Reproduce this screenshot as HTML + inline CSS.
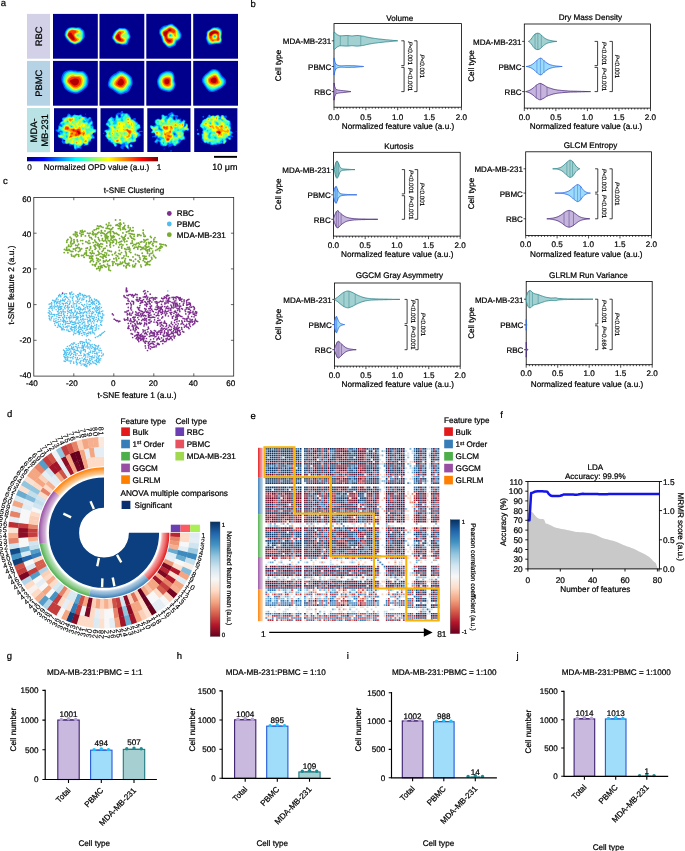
<!DOCTYPE html>
<html lang="en"><head><meta charset="utf-8"><title>Figure</title>
<style>html,body{margin:0;padding:0;background:#fff}svg{display:block}text{font-family:'Liberation Sans', Arial, Helvetica, sans-serif;text-rendering:geometricPrecision;stroke:#000;stroke-width:0.22px}</style>
</head><body>
<svg width="685" height="851" viewBox="0 0 685 851">
<rect width="685" height="851" fill="#fff"/>
<g id="pa">
<text x="0.8" y="6.2" font-size="9.5" text-anchor="start" fill="#000">a</text>
<rect x="27" y="13.9" width="23" height="44.8" fill="#d2d1e8"/>
<text x="42.2" y="36.3" font-size="9.4" text-anchor="middle" fill="#000" transform="rotate(-90 42.2 36.3)">RBC</text>
<rect x="27" y="60.9" width="23" height="44.8" fill="#b6d3e6"/>
<text x="42.2" y="83.3" font-size="9.4" text-anchor="middle" fill="#000" transform="rotate(-90 42.2 83.3)">PBMC</text>
<rect x="27" y="108" width="23" height="44.2" fill="#b8e2e3"/>
<text x="37" y="130.4" font-size="9.4" text-anchor="middle" fill="#000" transform="rotate(-90 37 130.4)">MDA-</text>
<text x="47.6" y="130.4" font-size="9.4" text-anchor="middle" fill="#000" transform="rotate(-90 47.6 130.4)">MB-231</text>
<g transform="translate(53 13.9)"><rect width="44.8" height="44.8" fill="#00008c"/><path fill="#0056ff" fill-rule="evenodd" d="M18.2 13.3l.7-.2 1.3-.1 1.3 .2 1.2 .1 1.3 0 1.2-.2 .8 .2 1.1 .2 .7 .3 .6 .6 .6 .6 .7 .4 .6 .4 .5 .6 .3 .6 .3 .7 .1 .8 .1 1.1 .1 1.2 .2 1.3-.3 1.2-.3 .7-.4 .5-.4 .7-.5 .7-.5 .6-.5 .5-.6 .7-.6 .7-.7 .5-.6 .3-.6 .2-.7 .2-.6 .3-.6 .3-.7 .4-.6 .2-1.2 .1-.7-.2-.6-.3-.6-.4-.6-.3-.7-.3-.6-.3-.7-.2-.6-.5-.6-.6-.7-.6-.6-.5-.6-.8-.5-.7-.5-.6-.3-.5-.4-.8-.2-.6-.3-.6-.2-1.3 .1-1.2 .3-1.3 .2-.6 .4-.7 .4-.6 .4-.6 .4-.7 .8-.6 .6-.4 .7-.3 .6-.3 1.3-.2z"/><path fill="#00c6ff" fill-rule="evenodd" d="M18.3 13.9l1.3-.1 1 .1 .9 .1 1.2 .1 1.3 0 1.2-.1 1.3 .3 .6 .4 .6 .4 .6 .7 .7 .5 .7 .5 .5 .9 .2 .6 .1 1.3 0 1.2 0 1.3-.2 1.2-.2 .7-.2 .6-.4 .6-.4 .7-.5 .6-.5 .6-.6 .7-.8 .6-.8 .4-.7 .2-.6 .3-.6 .2-.7 .3-.6 .3-1.2 0-.7-.1-.6-.3-.6-.4-.7-.3-.6-.4-.6-.3-.7-.3-.6-.6-.6-.7-.7-.7-.5-.8-.5-.6-.6-.6-.4-.7-.3-.6-.3-.6-.2-1.3 .2-1.2 .3-1.3 .2-.6 .4-.7 .4-.6 .5-.6 .8-.7 .7-.4 .6-.3 .6-.3 1.3-.2z"/><path fill="#2dffd1" fill-rule="evenodd" d="M17.5 14.5l.8-.2 1.3 0 1.2 .1 1.3 .2 1.2 .1 1.3-.1 1.3 .2 .6 .3 .6 .5 .7 .6 .6 .6 .6 .6 .5 .9 .2 1.3-.1 1.2-.1 1.3-.1 1.2-.2 1.3-.3 .6-.4 .7-.5 .6-.5 .6-.8 .7-.8 .4-.7 .3-.6 .3-.5 .2-.8 .3-.6 .2-1.2 .1-1.3-.4-.6-.4-.7-.3-.6-.3-.6-.4-.7-.4-.6-.7-.6-.8-.6-.7-.4-.6-.6-.6-.5-.7-.4-.6-.3-.6-.2-1.3 .3-1.2 .2-.7 .4-1.2 .3-.7 .5-.6 .6-.6 .7-.5 .6-.4 .6-.2z"/><path fill="#93ff6b" fill-rule="evenodd" d="M17.1 15.1l1.2-.3 1.3-.1 1.2 .2 1.3 .2 1.2 .1 1.3 0 1.3 .3 .6 .4 .5 .5 .6 .6 .6 .7 .3 .6 .2 .6 0 1.3-.2 1.3 0 1.2 .1 1.3-.2 .8-.5 1.1-.5 .6-.7 .6-.8 .6-.7 .3-.6 .3-.6 .3-.7 .3-.6 .2-1.2 0-1.3-.4-.6-.3-.7-.3-.5-.3-.7-.5-.7-.6-.6-.7-.6-.8-.5-.6-.5-.6-.6-.7-.3-.4-.4-.8-.2-1.3 .3-1.2 .3-.7 .1-.6 .3-.6 .4-.7 .4-.5 .7-.6 .6-.4 .6-.3zM24.6 20.6l-.6 .8 .3 .7 .9 .2 .9-.2 .3-.6-.3-.7-.9-.3z"/><path fill="#f9ff05" fill-rule="evenodd" d="M17 15.8l.7-.3 .6-.2 1.3-.1 1.2 .1 1.3 .3 1.2 .1 1 .1 .9 .2 .7 .3 .6 .6 .5 .8 .3 .6-.2 1-.6 .1-1.3 .1-1.2 .4-.7 .5-.4 .4-.1 .7 .2 .6 .5 .6 1.1 .6 1.3 .1 1.2 .2 .5 1-.5 1.1-.6 .8-.6 .5-.7 .4-.6 .3-.6 .3-.7 .3-.6 .2-1.2 .1-.9-.2-1-.4-.7-.4-.6-.3-.6-.5-.7-.7-.6-.8-.5-.7-.6-.6-.5-.7-.5-.6-.4-.6-.2-.6 .2-1.2 .2-.7 .2-.7 .3-.6 .3-.6 .4-.7 .5-.4 .6-.5 .6-.3z"/><path fill="#ff9e00" fill-rule="evenodd" d="M18.5 15.8l1.1-.1 .9 .1 1 .2 1.2 .2 1.2 .2 .7 .3 .6 .3 .4 .7-.2 .6-.8 .4-.6 .3-.7 .4-.6 .5-.6 .5-.3 1.1 .2 .6 .5 .6 .6 .6 .8 .7 .7 .3 .6 .2 .7 .5-.1 .9-.6 .6-.6 .5-.6 .4-.7 .3-.6 .3-1.2 .1-1.3-.3-.6-.3-.7-.3-.6-.5-.6-.6-.7-.7-.6-.8-.5-.6-.6-.7-.5-.6-.4-.6-.2-.6 .1-1.3 .3-.6 .2-.7 .3-.6 .4-.6 .6-.7 .9-.6 .7-.3 .6-.3z"/><path fill="#ff3300" fill-rule="evenodd" d="M18.7 16.4l.9-.1 1.2 .1 1.3 .3 .6 .2 .6 .5 .1 .9-.7 .6-.6 .3-.6 .4-.6 .6 .1 1.3 .2 .6 .4 .6 .5 .6 .4 .7 .6 .6 .6 .6 .3 .7-.3 .6-.8 .6-.8 .3-1.3-.1-.8-.2-1.1-.5-.6-.5-.6-.7-.7-.7-.6-.7-.5-.7-.5-.6-.5-.6-.2-.6 .1-1.3 .2-.6 .4-.7 .4-.6 .6-.6 .6-.5 .7-.4 .6-.3z"/><path fill="#b20000" fill-rule="evenodd" d="M16.3 18.9l.7-.3 1.3 .3 .4 .7 .4 .6 .4 .6 .4 .7 .3 .5 .4 .7 .3 .6 .4 .7 .3 .6 .2 .6-.3 1-.7 .2-1.2-.3-.7-.4-.5-.5-.6-.6-.6-.6-.5-.7-.6-.6-.5-.6-.3-.6 .1-1.3 .3-.6 .6-.7z"/></g>
<g transform="translate(99.5 13.9)"><rect width="44.8" height="44.8" fill="#00008c"/><path fill="#0056ff" fill-rule="evenodd" d="M19 14.5l.6-.3 .6-.2 1.3 0 1.2 .1 1.3 0 1.2 0 1.3 .4 .6 .4 .7 .4 .5 .5 .5 .6 .5 .6 .3 .7 .2 .6 .3 1.3 .2 .6 .3 .6 .3 .7 .2 1.2-.2 1.1-.4 .8-.4 .6-.3 .7-.3 .6-.2 .6-.3 1.1-.3 .8-.2 .7-.4 .6-.8 .6-.8 .1-1.3 0-1.2 0-1.3 0-.9-.1-1-.2-.6-.3-.6-.2-1.3-.2-1.3-.3-.6-.3-.5-.4-.5-.6-.4-.6-.4-.7-.6-.6-.5-.6-.5-.7-.3-.6-.3-.6 0-1.3 .3-.6 .3-.6 .3-.6 .2-.7 .3-.6 .3-.7 .4-.5 .5-.7 .6-.7 .8-.6 .6-.5 .7-.4 .6-.5 .6-.4z"/><path fill="#00c6ff" fill-rule="evenodd" d="M19.2 15.1l1-.4 1.3 0 1.2 .1 1.3 0 1.2 0 .7 .2 .6 .4 .5 .4 .6 .6 .4 .6 .4 .7 .2 .6 .2 .6 .2 .7 .3 .6 .4 .6 .3 .7 .2 .6 0 1.2-.3 .7-.4 .6-.5 .6-.4 .7-.3 .6-.2 .6-.1 .7-.3 .6-.3 .6-.6 .7-.9 .3-1.3 .2-.9 .1-1 0-1.2-.2-.7-.1-.6-.2-.6-.2-1.3-.2-1.1-.4-.8-.5-.6-.7-.4-.7-.5-.6-.6-.6-.4-.6-.4-.7-.2-.6 .1-1.3 .2-.6 .3-.6 .2-.7 .3-.6 .4-.6 .3-.6 .5-.7 .4-.6 .6-.7 .8-.6 .8-.6 .7-.5z"/><path fill="#2dffd1" fill-rule="evenodd" d="M19 15.8l.6-.3 .6-.2 1.3-.1 1.2 .1 1.3 0 1.2 .1 .7 .2 .6 .5 .6 .7 .5 .9 .3 .6 .3 1.3 .2 .6 .4 .6 .4 .7 .3 .6 0 1.2-.4 .7-.5 .6-.5 .6-.3 .7-.3 .6-.1 .6-.3 .7-.2 .6-.4 .5-.6 .4-.7 .3-1.2 .2-1.3 0-1.2-.1-1.3-.4-1.3-.3-1.2-.3-.7-.4-.5-.5-.5-.7-.5-.6-.6-.6-.4-.5-.5-.8-.2-.6 .1-.9 .3-1 .2-.6 .3-.7 .4-.6 .4-.6 .4-.7 .3-.6 .5-.6 .6-.7 .8-.6 .8-.6z"/><path fill="#93ff6b" fill-rule="evenodd" d="M20.2 15.8l1.3-.1 .8 .1 1 0 1.3 0 1.3 .5 .6 .7 .4 .7 .2 .6 .1 1.3 .4 1.2 .6 .7 .4 .6 0 1.2-.5 .7-.6 .6-.3 .6-.2 .7-.4 1.2-.2 .7-.4 .6-.8 .5-.6 .3-1.3 .1-1.2 0-1.3-.2-1.2-.3-1.3-.4-.6-.3-.5-.3-.6-.7-.6-.6-.5-.6-.6-.7-.3-.6-.2-.6 .1-1.3 .2-.6 .2-.6 .3-.7 .4-.6 .5-.6 .3-.6 .4-.7 .5-.6 .7-.7 .9-.6 .7-.4 .6-.2z"/><path fill="#f9ff05" fill-rule="evenodd" d="M20 16.4l.8-.1 1.3 0 1.2 .1 1.3 .1 .6 .3 .7 .6 .3 .9-.3 1-.7 .4-.6 .3-.6 .2-.7 .4-.6 .6-.4 .9 .4 1 .6 .3 .7 .2 1.2 .2 .7 .3 .2 1.1 0 1.3-.2 .8-.7 .9-.6 .4-.6 .1-1.3 .2-1.2-.1-1.3-.3-1.3-.4-.6-.2-.6-.4-.7-.6-.4-.4-.6-.6-.5-.7-.4-.6-.2-.6 0-1.3 .2-.7 .6-1.2 .5-.6 .4-.6 .4-.7 .4-.6 .6-.6 .8-.7 .8-.4z"/><path fill="#ff9e00" fill-rule="evenodd" d="M20 17l.8-.1 1.2 .1 .7 .2 1.3 .2 .6 .7-.5 .8-.8 .5-.6 .6-.6 .7-.4 .8-.1 1.2 .3 .6 .8 .7 .6 .4 .6 .2 .7 .4 .6 .9-.1 1.2-.4 .7-.7 .3-1.3 .3-1.2-.1-1.3-.3-.6-.1-.7-.3-.6-.3-.6-.5-.7-.5-.6-.7-.6-.9-.3-.7-.1-1.3 .4-1 .5-.9 .5-.6 .4-.6 .4-.7 .5-.6 .6-.6 .9-.5z"/><path fill="#ff3300" fill-rule="evenodd" d="M18.9 18.3l.7-.3 .6-.2 1.3 .2 .5 .9-.3 .7-.4 .6-.3 .6-.1 .7 0 1.2 .2 .6 .5 .7 .5 .5 .6 .4 .6 .5 .6 .5 .2 .6-.2 .6-.6 .4-.6 .2-1.1 .1-.8-.1-1.2-.4-.7-.3-.6-.4-.6-.5-.7-.6-.6-.7-.4-.8 0-1.3 .2-.6 .3-.6 .5-.7 .5-.6 .4-.6 .4-.6 .6-.7z"/><path fill="#b20000" fill-rule="evenodd" d="M18.8 20.2l.8-.2 .2 .8 .2 1.3 .2 .8 .4 1.1 .4 .6 .5 .6 .5 .7-.5 .8-1.3 0-.6-.2-.7-.4-.6-.4-.6-.5-.6-.6-.3-.6-.1-1.3 .2-.6 .5-.6 .6-.7 .8-.6z"/></g>
<g transform="translate(146.3 13.9)"><rect width="44.8" height="44.8" fill="#00008c"/><path fill="#0056ff" fill-rule="evenodd" d="M23.8 10.1l.8-.3 1.3 .1 .6 .3 .6 .5 .7 .5 .6 .5 .6 .5 .6 .4 .7 .5 .6 .7 .6 .7 .6 .6 .5 .7 .5 .6 .3 .6 .4 .7 .4 .6 .4 .6 .3 .7 .2 .6 .1 1.3-.1 1.2-.4 1.3-.3 .6-.5 .6-.5 .5-.6 .6-.6 .4-.7 .3-.6 .4-.6 .8-.2 .8-.3 1.3-.2 .6-.5 .6-.7 .6-.6 .3-.7 .2-.6 .3-.6 .2-.7 .3-.6 .3-.6 .3-.8 .1-1.1-.3-.6-.4-.7-.4-.6-.5-.6-.6-.7-.7-.6-.7-.6-.7-.7-.7-.5-.7-.3-.6-.3-.7-.1-.7-.5-1.2-.2-.6-.2-.6-.4-1.3-.2-.6-.3-.6-.5-.7-.4-.6-.3-.6-.1-1.3 .2-1.3 .2-1.2 .4-.7 .7-.6 .6-.6 .5-.6 .5-.5 .6-.4 .6-.3 .7-.3 .6-.2 1.3-.2 .6-.2 .6-.2 .7-.2 .6-.2 .6-.2 .6-.2z"/><path fill="#00c6ff" fill-rule="evenodd" d="M24.6 10.7l1.3 .2 .6 .3 .6 .4 .5 .4 .8 .6 .6 .5 .7 .5 .6 .6 .6 .7 .6 .7 .6 .8 .3 .6 .3 .7 .3 .6 .3 .6 .4 .7 .4 .6 .2 .6 0 1.3-.2 1.1-.3 .8-.4 .5-.6 .7-.6 .5-.7 .3-.6 .3-.6 .3-.5 .5-.3 .7-.2 .6-.2 .6-.2 .7-.3 .6-.5 .6-1 .6-.6 .3-.6 .3-.7 .3-.6 .2-1 .2-.9 0-1.2-.3-.7-.4-.6-.6-.6-.6-.6-.6-.5-.6-.6-.7-.6-.6-.3-.5-.3-.8-.1-.6-.4-1.3-.2-.6-.2-.9-.3-1-.3-.6-.3-.6-.4-.7-.4-.6-.2-.6-.2-.7 0-1.2 .2-.8 .6-1 .6-.6 .7-.5 .6-.7 .6-.7 .7-.4 .6-.2 1.3-.2 .6-.3 .6-.3 .7-.3 .6-.3 .6-.2 .6-.2 1.3-.3z"/><path fill="#2dffd1" fill-rule="evenodd" d="M24.4 11.4l.8 0 .7 .2 .6 .3 .6 .4 .7 .5 .6 .4 .6 .5 .7 .6 .6 .6 .6 .7 .6 .8 .3 .6 .2 .7 .2 .6 .2 .6 .3 .7 .3 .6 .2 .6 .2 1.3-.2 1.2-.2 .7-.5 .6-.9 .6-.7 .3-.6 .3-.6 .4-.7 .8-.2 .8-.2 .6-.2 .6-.4 .7-.5 .6-.9 .6-.7 .4-.7 .3-.6 .3-.6 .2-1.3 .1-1.2-.3-.5-.4-.8-.6-.6-.6-.5-.6-.6-.7-.5-.6-.4-.6-.3-.7-.2-.6-.2-.6-.2-.7-.3-1.2-.4-1.3-.2-.6-.4-.6-.3-.6-.4-.7-.2-.6-.2-.7 .1-1.2 .2-.7 .5-.6 .7-.6 .6-.5 .6-.6 .7-.6 .6-.4 .6-.1 .7-.2 .6-.3 .6-.4 .7-.4 .5-.3 .7-.3 .6-.2 1.1-.1zM24 20.7l-.7 .5 .2 .9 1.1 .1 .4-.7-.4-.7-.6-.1z"/><path fill="#93ff6b" fill-rule="evenodd" d="M23.8 12l.8-.1 1.3 .4 .6 .3 .6 .4 .7 .4 .6 .5 .6 .5 .7 .6 .6 .6 .6 .8 .3 .6 .2 .7 .2 1.2 .2 1.3 .2 .6 .3 .7 .1 1.2-.2 1-.7 .7-.6 .4-.6 .2-.6 .2-.7 .5-.5 .8-.2 .6-.4 1.3-.3 .6-.4 .7-.7 .5-.6 .4-.7 .3-.6 .3-.6 .2-.8 .1-1.1 0-.6-.2-.5-.4-.7-.6-.6-.6-.6-.7-.5-.6-.5-.6-.3-.7-.2-.6-.2-.6-.2-.7-.2-.7-.2-1.2-.2-.6-.3-.6-.4-.6-.3-.7-.3-.6-.3-.6-.1-1.3 .2-.8 .7-.9 .6-.5 .5-.3 .8-.6 .6-.5 .6-.3 .7-.3 .6-.4 .6-.4 .7-.4 .6-.4 .6-.3 .6-.1zM24 20l-.7 .2-.5 .6-.2 .7 .1 .7 .4 .5 .9 .3 1.2-.3 .6-.6-.3-1.3-.7-.6-.8-.2z"/><path fill="#f9ff05" fill-rule="evenodd" d="M23.3 12.6l1.3 0 .6 .1 .7 .3 .6 .4 .6 .3 .7 .4 .6 .4 .6 .6 .7 .6 .6 .7 .3 .6 .2 .7 0 1.2-.1 1.3 .2 .8 .4 1.1-.1 1.2-.7 .7-.8 .3-.7 .3-.6 .4-.4 .9-.2 .7-.3 1.2-.2 .6-.4 .6-.7 .7-1 .5-.6 .2-.6 .3-.7 .2-.7 0-1.1-.3-.7-.5-.4-.4-.6-.7-.6-.6-.4-.6-.4-.7-.3-.6-.2-.6-.2-.7-.3-1.2-.4-1.3-.3-.6-.3-.6-.3-.7-.3-.6-.3-.6 0-1.3 .3-.6 .5-.7 .7-.6 .7-.4 .6-.4 .6-.4 .7-.4 .6-.4 .6-.4 .7-.5 .6-.4 .6-.3zM23.3 19.6l-.6 .5-.4 .7-.2 .7 .2 1.2 .4 .6 .6 .2 1.3 0 .9-.2 1-.6 .2-.6-.2-.9-.6-.9-.7-.5-.6-.3-1.3 .1z"/><path fill="#ff9e00" fill-rule="evenodd" d="M23.1 13.3l.9-.1 1.2 .3 .7 .3 .6 .3 .6 .3 .7 .4 .6 .5 .5 .5 .6 .6 .4 .6 .2 .7-.3 1.2-.2 .7-.2 .6 .2 1.3 .1 .9-.7 .5-.7-.2-.2-.6-.3-.6-.4-.7-.6-.6-.7-.6-.9-.5-.6-.3-1.3 .1-.6 .4-.6 .8-.4 .7-.1 .7 .1 1.2 .3 .6 .7 .7 .6 .2 1.3-.1 1.3 0 1.1 .5 .1 1.3-.1 1.2-.4 1.3-.6 .6-.8 .5-.6 .2-.6 .2-1.3 .3-1.2-.4-.7-.5-.6-.6-.6-.8-.6-.8-.3-.6-.3-.6-.2-.7-.3-1.2-.2-.8-.5-1.1-.4-.6-.3-.7-.3-.6-.2-.6 .1-1.3 .4-.6 .5-.6 .7-.4 .6-.4 .6-.4 .7-.4 .6-.4 .6-.4 .7-.5 .6-.5 .6-.3z"/><path fill="#ff3300" fill-rule="evenodd" d="M23.3 13.9l1.3 .2 .6 .2 .7 .4 .6 .3 .6 .3 .7 .5 .6 .6 .4 .6-.1 1.3-.6 .6-1 .2-.6-.2-.6-.4-.6-.2-.7-.2-1.3 .1-.6 .3-.5 .4-.4 .7-.3 .5-.3 .7-.2 1.3 .3 1.2 .3 .7 .5 .5 .6 .3 1.3 .1 1.2 .1 .7 .4 .3 1.1-.2 1.3-.4 .6-1 .6-.6 .2-1.3 .1-1-.3-.9-.6-.6-.6-.5-.7-.3-.6-.3-.6-.3-.7-.2-.6-.3-1.2-.2-.7-.4-.6-.4-.6-.3-.6-.3-.7-.1-1.3 .2-.6 .5-.6 .9-.7 .7-.3 .7-.4 .6-.3 .6-.5 .7-.5 .5-.5 .7-.4z"/><path fill="#b20000" fill-rule="evenodd" d="M22.8 15.1l1.2 0 .6 .3 .5 .4 .4 .6-.9 .4-1.2 .2-.7 .2-.6 .3-.6 .8-.3 .6-.3 .7-.3 .6-.2 .6-.2 1.3-.1 1.2 .4 1.3 .7 .6 .9 .5 .8 .2 1.1 .3 .5 .3 .1 .9-.6 .6-.7 .2-1.2-.3-.6-.4-.5-.4-.4-.6-.4-.6-.2-.7-.4-1.2-.2-.7-.5-.5-.4-.7-.5-.6-.3-.5-.4-.8 0-1.3 .4-.6 .6-.5 .6-.3 .7-.1 .6-.2 .6-.2 .7-.5 .5-.7 .7-.6z"/></g>
<g transform="translate(193.2 13.9)"><rect width="44.8" height="44.8" fill="#00008c"/><path fill="#0056ff" fill-rule="evenodd" d="M22.1 13.3l1.2-.2 1.3 .1 .6 .2 .7 .3 .6 .3 .6 .4 .7 .7 .4 .7 .3 .6 .2 .6 .1 1.3 0 1.3 0 1.2-.3 1.3-.2 1.2 .1 .9 .3 1 .1 1.3-.2 1.3-.4 .6-.4 .5-.7 .6-.6 .3-1.3 .2-1.2 0-1.3 .1-1 .2-.9 .2-1.2 .2-1.3 .1-.8 .1-1.1 .1-.6-.2-.7-.5-.5-.6-.3-.7-.3-.6-.3-.6-.2-.7-.2-.6-.3-.6-.2-.7-.2-1.2 .4-1.3 .3-1.2 0-1.3 0-1.3 .4-1.2 .6-.7 .8-.5 .7-.4 .5-.3 .7-.5 .7-.5 .6-.5 .6-.4 .7-.3 .6-.2 1.3-.1z"/><path fill="#00c6ff" fill-rule="evenodd" d="M19.2 14.5l1-.4 1.3-.2 1.2 .1 1.3 .1 1.2 .4 .7 .3 .5 .3 .6 .7 .5 .6 .3 .5 .2 .8 .2 1.2 0 1.3-.2 1.3-.2 1.2 0 1 .2 .9 .2 .6 0 1.3-.4 1.3-.5 .6-.8 .6-.6 .2-1.3 .2-1.3 0-1.2 .1-.9 .2-1 .2-1.3 .1-1.2-.1-1.3-.2-.6-.4-.7-.8-.4-.7-.3-.7-.3-.6-.2-.6-.3-.7-.1-1.2 .2-1.3 .1-1.2 .1-.8 0-1.1 .3-1.3 .3-.5 .6-.5 .7-.4 .6-.4 .6-.5 .7-.4 .6-.4 .6-.5z"/><path fill="#2dffd1" fill-rule="evenodd" d="M20.3 14.5l1.2-.1 1.2 .1 1.3 .3 .6 .2 .6 .3 .7 .4 .6 .5 .6 .8 .3 .7 .2 .6 .2 1.3-.1 1.2-.2 1.3-.1 1.2 .2 1.3 .3 1.3-.1 .7-.6 1.2-.7 .6-.6 .3-1.3 .2-1.3 0-1.2 .1-1.3 .2-1.2 .2-1.3 0-1.2-.4-.7-.3-.6-.6-.6-1-.4-.6-.3-.6-.2-.7-.2-1.2 0-1.3 .1-1.2 .1-1.3 .2-1.3 .3-.6 .3-.4 .7-.5 .5-.4 .7-.5 .7-.4 .6-.4 .6-.4 .7-.5 .6-.3zM21.5 21.7l-.7 .4 0 .9 .7 .5 .6-.3 .3-.5-.3-.8z"/><path fill="#93ff6b" fill-rule="evenodd" d="M20 15.1l.8-.2 1.3 0 1.2 .2 .7 .3 .6 .3 .6 .3 .6 .4 .6 .6 .5 .7 .3 .6 .2 1.3-.1 1.2-.2 1-.1 .9 .1 1.3 .2 .6 .2 1.3-.4 1.1-.6 .8-.6 .4-.7 .2-1.2 .1-1.3 0-1.2 .1-1.3 .3-1.3 .1-1.2-.4-.7-.3-.6-.5-.5-.7-.4-.6-.4-.6-.2-.7-.3-1.2 0-1.3 0-1.2 .1-1.3 .2-1.3 .4-.6 .5-.4 .6-.5 .6-.5 .7-.4 .6-.4 .6-.3 .7-.4zM20.8 21.4l-.5 .7-.1 .9 .6 .9 1.2 .1 .7-.6 .3-.7-.3-1-.6-.4-1.3 .1z"/><path fill="#f9ff05" fill-rule="evenodd" d="M19.7 15.8l1.1-.5 1.3 .1 1.2 .3 .7 .3 .6 .3 .6 .4 .5 .3 .6 .7 .4 .6 .2 .6 .1 1.3-.2 1.3-.2 1.2 .2 1.3 .3 1.2-.2 1.3-.4 .6-.6 .5-.7 .3-1.2 .1-1.3 0-1.2 .1-1.2 .3-.7 .1-.9-.1-1-.5-.7-.5-.6-.7-.6-.8-.3-.7-.2-.6-.2-.9-.1-1 0-1.2 0-1.3 .4-1.3 .4-.5 .6-.6 .6-.5 .7-.4 .6-.3 .6-.4 .7-.3zM21.5 20.8l-.7 .2-.6 .4-.4 .7-.1 1.2 .3 .7 .8 .6 1 0 .9-.4 .6-.9 .1-1.2-.3-.6-.4-.5-.6-.2z"/><path fill="#ff9e00" fill-rule="evenodd" d="M19.4 16.4l.8-.4 .6-.2 1.3 .1 1.2 .3 .7 .3 .6 .4 .6 .4 .7 .6 .5 1 .1 1.3-.2 1.3-.1 1.2 .3 1.3 .2 1.2-.2 1-.6 .8-.7 .3-1.2 .1-1.3-.1-1.2 .2-.7 .2-1.2 .2-.9-.1-1-.7-.5-.6-.5-.6-.4-.7-.3-.6-.2-.6-.3-1.3-.1-1.2 0-1.3 .4-1.1 .6-.8 .6-.6 .7-.4 .6-.3 .6-.4zM20.8 20.5l-.5 .3-.7 .7-.3 .6-.2 1.2 .5 1.2 .6 .5 .6 .2 1.3 .1 .6-.3 .5-.4 .4-.6 .2-.7 .1-1.2-.6-1.2-.6-.4-1.2-.1z"/><path fill="#ff3300" fill-rule="evenodd" d="M20.7 16.4l1.4 0 .6 .2 .6 .2 .7 .3 .6 .4 .6 .5 .7 .9 .1 1.3-.1 .9-.4 1 .2 1.2 .3 .7 .2 1.2-.2 .7-.7 .6-1.3 0-.6-.6 .2-.7 .3-.6 .3-.6 .2-.7 .2-1.2-.6-1.3-.7-.5-.6-.3-1.2-.1-.7 .2-.6 .3-.6 .4-.6 .7-.3 .6-.2 .6-.2 1.3 0 .9 .6 .7 .7 .2 .6 .2 .6 .5-.6 .5-1.3-.2-.6-.9-.6-.8-.6-.5-.4-.6-.3-.7-.2-.6-.2-.6-.2-1.3 .2-1.2 .3-.7 .6-.6 .8-.6 .6-.3 .6-.3 .7-.3 .6-.2z"/><path fill="#b20000" fill-rule="evenodd" d="M18.8 17.7l.8-.3 .6-.2 1.3-.2 1.2 .4 .6 .2 .7 .4 .5 .3 .4 .6-.3 1.1-.6-.3-.7-.3-.6-.2-1.2 .1-.7 .2-.6 .3-.6 .4-.7 .5-.6 .6-.6 .8-1.1-.6-.2-.7 .2-1.2 .4-.7 .6-.6 .7-.4z"/></g>
<g transform="translate(53 60.9)"><rect width="44.8" height="44.8" fill="#00008c"/><path fill="#0056ff" fill-rule="evenodd" d="M14.7 9.5l1.1-.2 1.2-.1 1.3 0 1.3 .2 .8 .1 1.1 .1 1.2 .1 1.3 .2 1.2 .1 1.3 0 1.3 0 .8 .1 1.1 .1 .6 .2 .6 .3 .6 .4 .7 .5 .6 .7 .6 .8 .6 .8 .4 .6 .3 .6 .3 .7 .2 .6 .2 1.3 .1 1.2 0 1.3-.1 1.3-.1 1.2-.4 1.3-.2 .6-.3 .6-.3 .6-.6 .7-.6 .6-.7 .7-.7 .5-.6 .5-.6 .5-.6 .5-.6 .5-.7 .5-.6 .4-.7 .3-.6 .4-.6 .3-.7 .2-.6 .2-1.2 .2-1.3-.1-1.3-.2-1.2-.3-1.3-.3-.6-.2-.7-.2-.6-.3-.6-.4-.7-.3-.6-.4-.6-.4-.6-.5-.7-.6-.6-.6-.6-.9-.4-.6-.3-.6-.2-.7-.2-.6-.2-.6-.3-.7-.3-.6-.3-.6-.2-.6-.3-.7-.1-.6-.2-1.3 0-1.2 .1-1.3 .3-1.3 .2-.6 .2-.6 .3-.6 .4-.7 .4-.6 .4-.6 .7-.6 .6-.4 .6-.3 .7-.3 .6-.2 .8-.1z"/><path fill="#00c6ff" fill-rule="evenodd" d="M14.6 10.7l1.2-.3 1.2-.1 1.3-.1 1.3 .1 1.2 .2 1.3 .2 1.2 .2 1.3 .2 1.3 0 1.2 0 1.3 .1 1.1 .2 .8 .2 .6 .4 .6 .6 .6 .7 .5 .6 .4 .6 .4 .6 .4 .7 .2 .6 .2 1.3 0 1.2 0 1.3-.1 1.3-.2 1.2-.3 1.3-.3 .6-.4 .6-.5 .7-.6 .6-.7 .6-.7 .7-.7 .6-.7 .5-.6 .4-.5 .4-.8 .4-.6 .3-.6 .3-.7 .3-.6 .3-.6 .1-1.2 .1-1.3-.1-1.3-.2-1.2-.3-.7-.2-.6-.3-.7-.3-.6-.4-.6-.4-.7-.4-.6-.4-.6-.5-.6-.6-.7-.8-.4-.7-.3-.7-.2-.6-.3-.6-.3-.7-.3-.6-.3-.6-.3-.6-.2-.7-.2-.6-.2-1.3 .2-1.2 .2-1.3 .4-1.3 .3-.6 .3-.6 .3-.6 .5-.7 .5-.6 .9-.6 .7-.4 .6-.2z"/><path fill="#2dffd1" fill-rule="evenodd" d="M16.3 11.4l.7-.2 1.3-.1 1.3 .1 1.2 .1 1.3 .3 1.2 .2 1.3 .2 1.3 0 1.2 0 1.3 .1 1.3 .3 .6 .4 .5 .5 .5 .6 .5 .6 .4 .5 .5 .8 .3 .6 .2 .6 .1 1.3-.2 1.3-.1 1.2-.2 1.3-.2 1.2-.3 .7-.3 .6-.4 .6-.5 .7-.6 .6-.6 .6-.8 .7-.7 .5-.6 .4-.7 .4-.6 .3-.6 .4-.7 .2-.6 .3-.6 .2-1.3 .1-1.2-.1-1.3-.2-1.3-.4-.5-.2-.7-.5-.7-.4-.4-.4-.8-.6-.7-.5-.6-.5-.6-.6-.6-.9-.4-.7-.4-.6-.3-.7-.4-.6-.3-.6-.3-.6-.2-.7-.3-1.2 .2-1.3 .3-1.3 .2-.6 .2-.6 .3-.7 .3-.6 .3-.6 .4-.6 .6-.7 .9-.6 .7-.3 .7-.2z"/><path fill="#93ff6b" fill-rule="evenodd" d="M16.5 12.6l1.2-.3 1.2-.2 1.3 .1 1.3 .3 1.2 .3 1.3 .1 1.2 0 1.3 0 1.3 .1 .9 .3 1 .5 .6 .6 .6 .7 .5 .7 .3 .6 .3 .6 .1 1.3-.1 1.3-.2 1.2-.3 1.3-.2 1.2-.3 .7-.2 .6-.4 .6-.5 .7-.6 .6-.7 .6-.8 .7-.7 .4-.6 .3-.6 .3-.7 .3-.6 .3-.6 .2-1.3 .1-1.2 0-.7-.2-.6-.1-.6-.3-.7-.3-.6-.4-.6-.6-.7-.6-.6-.6-.6-.6-.7-.5-.6-.7-.6-.6-.6-.9-.4-.6-.4-.6-.3-.6-.2-.7-.1-1.2 .1-.8 .3-1.1 .3-.7 .3-.6 .2-.6 .3-.7 .4-.6 .5-.6 .8-.6 .7-.4 .6-.2z"/><path fill="#f9ff05" fill-rule="evenodd" d="M17.3 13.9l1-.4 1.3-.1 1.2 .1 1.3 .3 1.2 .2 1.3 0 1.3-.1 1.2 .1 1.3 .5 .6 .4 .7 .7 .5 .8 .3 .6 .2 .7 .1 1.2-.1 1.3-.2 1.3-.2 .9-.2 .9-.2 .7-.3 .6-.4 .6-.5 .7-.7 .6-.9 .6-.6 .4-.6 .4-.7 .3-.5 .2-.7 .2-1.3 .2-1.2-.1-1.1-.3-.8-.4-.7-.4-.5-.5-.6-.6-.6-.6-.6-.7-.7-.6-.7-.6-.7-.7-.5-.6-.4-.6-.3-.6-.3-.7 0-1.2 .3-1.2 .3-.7 .3-.7 .4-.6 .4-.6 .4-.5 .7-.6 .6-.4 .6-.3z"/><path fill="#ff9e00" fill-rule="evenodd" d="M17.8 15.1l1.1-.4 1.3-.1 1.3 .2 1.2 .2 1.3 0 1.2 0 1.3 .1 .6 .2 .7 .3 .6 .6 .5 .8 .3 .7 .2 .6 .1 1.3-.1 1.2-.2 1.3-.4 1.2-.2 .7-.3 .6-.5 .6-.7 .6-.6 .4-.6 .4-.7 .3-.6 .4-.6 .2-1.3 .2-1.2-.1-.7-.2-.6-.3-.6-.4-.7-.5-.6-.6-.6-.7-.7-.6-.6-.6-.5-.4-.7-.6-.5-.6-.4-.6-.2-.7-.1-1.2 .4-1.3 .4-.6 .3-.5 .7-.7 .6-.5 .6-.5 .7-.3z"/><path fill="#ff3300" fill-rule="evenodd" d="M18.3 16.4l.6-.2 .7-.2 1.2-.1 1.3 .1 1.2 .1 1.3 .1 1.3 .1 .6 .3 .5 .4 .5 .7 .3 .6 .1 .6 .1 1.3-.2 1.3-.2 1.2-.3 .6-.4 .7-.4 .4-.6 .5-.5 .3-.8 .5-.6 .3-.7 .2-1.2 .1-1.3-.3-.6-.3-.6-.4-.7-.5-.6-.6-.6-.6-.7-.6-.6-.5-.6-.7-.6-1-.1-.9 .3-1 .4-.6 .6-.6 .6-.5 .7-.4 .6-.4z"/><path fill="#b20000" fill-rule="evenodd" d="M21.3 17.7l.8-.1 1.2 0 1.3 .4 .5 .3 .5 .6 .2 .7 .1 1.2-.2 1.3-.3 .6-.6 .6-.8 .7-.7 .3-.6 .2-1.2 0-.7-.2-.6-.3-.6-.4-.7-.6-.6-.6-.6-.6-.7-.9 0-1 .7-.7 .6-.4 .6-.2 .7-.3 .6-.2 .6-.3z"/></g>
<g transform="translate(99.5 60.9)"><rect width="44.8" height="44.8" fill="#00008c"/><path fill="#0056ff" fill-rule="evenodd" d="M19.3 10.1l.9-.3 1.3 0 1.2 .2 1.3 .3 .6 .3 .6 .3 .7 .3 .6 .4 .6 .4 .7 .4 .6 .5 .6 .4 .7 .5 .6 .5 .6 .6 .6 .7 .6 .8 .3 .6 .2 .7 .2 .9 .2 1 .1 1.2 .1 1.3-.2 1.2-.2 .7-.2 .6-.3 .6-.4 .7-.3 .6-.3 .6-.3 .7-.3 .6-.3 .6-.5 .7-.5 .6-.8 .6-.8 .6-.7 .3-.6 .2-.6 .2-.7 .3-.6 .2-.6 .3-.7 .2-.6 .2-1.2 .2-1.3-.1-.6-.2-.7-.2-.5-.3-.7-.4-.7-.5-.5-.4-.7-.5-.7-.5-.6-.5-.6-.5-.6-.4-.7-.4-.5-.3-.7-.4-.7-.4-.6-.4-.6-.6-.5-.7-.4-.7-.2-.6-.1-1.3 .2-1.2 .3-1.3 .2-.6 .2-.6 .2-.7 .3-.6 .2-.6 .4-.7 .4-.6 .4-.6 .6-.7 .7-.6 .8-.6 .7-.5 .6-.4 .6-.3 .7-.3 .6-.4 .6-.4 .7-.5 .5-.4 .7-.4z"/><path fill="#00c6ff" fill-rule="evenodd" d="M19.9 11.4l.9-.3 1.3 0 .9 .3 1 .3 .6 .3 .6 .3 .6 .3 .7 .4 .6 .4 .7 .4 .6 .5 .6 .4 .5 .4 .6 .7 .5 .6 .4 .6 .3 .7 .1 .6 .3 1.3 .2 1.2 .1 1.3-.2 1.2-.3 .7-.5 .6-.5 .6-.5 .7-.5 .6-.3 .6-.2 .7-.3 .6-.3 .5-.6 .7-.7 .5-.6 .3-.6 .3-.7 .2-.6 .3-.6 .3-.7 .2-.6 .3-.6 .2-1.3 .1-1.2-.4-.7-.3-.6-.4-.6-.5-.7-.4-.6-.4-.6-.5-.5-.4-.8-.5-.6-.5-.6-.3-.7-.4-.6-.4-.6-.3-.7-.5-.6-.7-.4-.8-.2-1.3 .2-1.2 .1-.6 .2-.7 .2-.6 .3-.6 .2-.7 .3-.6 .3-.6 .4-.7 .5-.6 .4-.4 .7-.6 .6-.4 .6-.4 .6-.3 .7-.3 .6-.4 .6-.3 .7-.4 .6-.5 .5-.4 .8-.5z"/><path fill="#2dffd1" fill-rule="evenodd" d="M19.8 12.6l1-.4 1.3 0 1.2 .3 .7 .2 .6 .3 .6 .3 .7 .4 .6 .3 .6 .4 .7 .5 .6 .5 .6 .7 .7 .8 .4 .8 .2 .6 .2 .6 .3 1.3 .2 1.3-.1 .8-.4 1-.5 .7-.6 .6-.6 .6-.4 .6-.4 .7-.3 .6-.3 .7-.4 .6-.5 .5-.6 .4-.6 .4-.7 .3-.6 .3-.7 .2-.6 .2-1 .2-.9 0-.6-.2-.6-.3-.7-.3-.6-.3-.6-.4-.6-.4-.7-.4-.6-.4-.7-.4-.6-.4-.6-.5-.6-.4-.7-.5-.6-.5-.6-.6-.6-.9-.1-1.3 .3-1.2 .2-.7 .2-.6 .3-.6 .3-.7 .3-.6 .4-.6 .6-.6 .6-.6 .6-.4 .6-.4 .7-.4 .6-.3 .6-.4 .7-.5 .6-.4 .5-.4 .8-.6z"/><path fill="#93ff6b" fill-rule="evenodd" d="M20.7 13.3l.8-.2 1.2 .1 .6 .2 .7 .3 .6 .2 .6 .4 .7 .3 .6 .4 .6 .5 .7 .6 .6 .8 .5 .8 .3 .6 .2 .6 .2 .7 .2 1.2 0 1.3-.3 .6-.4 .6-.6 .7-.5 .6-.5 .6-.4 .7-.3 .6-.4 .6-.5 .7-.6 .6-.7 .4-.6 .4-.7 .2-.6 .2-1.2 .1-1.3-.3-.6-.3-.7-.3-.6-.3-.6-.3-.7-.4-.6-.3-.6-.4-.7-.4-.6-.4-.5-.4-.7-.7-.5-.6-.4-.6-.2-.7-.1-1.2 .4-1.3 .3-.6 .3-.6 .4-.7 .4-.5 .6-.6 .6-.5 .7-.5 .5-.4 .7-.5 .7-.5 .6-.6 .6-.5 .6-.4 .7-.4z"/><path fill="#f9ff05" fill-rule="evenodd" d="M20.1 14.5l.7-.3 1.3-.2 1.2 .3 .7 .3 .6 .3 .6 .3 .7 .5 .6 .5 .6 .7 .5 .8 .4 .6 .2 .6 .2 .7 .2 1.2-.1 1.3-.3 .6-.4 .6-.5 .7-.5 .6-.4 .6-.4 .7-.4 .6-.4 .5-.6 .6-.6 .4-.7 .3-.6 .2-1.2 0-.7-.1-1.2-.5-.7-.2-.6-.3-.6-.3-.7-.3-.5-.3-.7-.4-.7-.5-.4-.4-.5-.6-.4-.6-.2-.7-.1-1.2 .4-1.3 .3-.6 .5-.6 .4-.6 .7-.6 .6-.6 .6-.6 .7-.6 .6-.6 .6-.6 .7-.5 .5-.4z"/><path fill="#ff9e00" fill-rule="evenodd" d="M20.8 15.1l1.3-.2 1 .2 .9 .4 .6 .4 .6 .5 .7 .6 .4 .7 .4 .6 .2 .6 .3 .7 .2 1.2-.2 1.3-.3 .6-.4 .6-.4 .7-.4 .6-.4 .6-.5 .7-.6 .6-.9 .6-.6 .3-1.2 0-1.1-.3-.8-.3-.7-.2-.6-.3-.6-.3-.7-.3-.6-.3-.6-.5-.7-.8-.3-.8 0-1.2 .2-.6 .3-.7 .5-.6 .6-.6 .5-.7 .5-.6 .6-.6 .5-.7 .4-.4 .7-.6 .6-.5 .6-.3z"/><path fill="#ff3300" fill-rule="evenodd" d="M20.6 16.4l.9-.4 1.2 .1 .6 .3 .7 .4 .6 .7 .6 .8 .3 .6 .3 .7 .2 .6 .1 1.3-.2 .8-.6 1-.4 .7-.4 .6-.5 .6-.7 .5-.6 .4-1.2 .1-1.3-.2-.6-.2-.7-.3-.6-.2-.6-.4-.5-.3-.7-.6-.3-.7 0-1.2 .3-.6 .4-.7 .5-.6 .4-.6 .5-.7 .4-.6 .5-.6 .6-.7 .8-.6z"/><path fill="#b20000" fill-rule="evenodd" d="M20.5 18.3l1-.6 1.2 .3 .6 .6 .6 1 .3 .6 .2 .6 0 1.3-.3 .6-.3 .6-.5 .6-.6 .5-.6 .3-1.3 .1-.9-.2-1-.4-.6-.5-.5-1 .4-1.2 .3-.7 .4-.6 .5-.6 .5-.7 .6-.6z"/></g>
<g transform="translate(146.3 60.9)"><rect width="44.8" height="44.8" fill="#00008c"/><path fill="#0056ff" fill-rule="evenodd" d="M19.8 10.1l1-.2 1.3-.1 1.2 .2 .7 .1 1.2 .4 .7 .4 .5 .5 .5 .6 .4 .6 .3 .7 .2 .6 .2 .6 .2 1.3 .1 1.2-.1 1.3 .1 1.3 .3 1.2 .2 .7 .2 .6 .2 1.2-.1 1.3-.4 1.3-.2 .6-.3 .6-.3 .7-.4 .6-.6 .6-.8 .7-.9 .5-.6 .3-.6 .3-.7 .1-1.2 .1-.8-.1-1.1-.2-1.3-.3-.6-.2-.6-.1-.7-.2-.6-.3-.6-.2-.7-.2-.6-.4-.6-.4-.6-.6-.6-.7-.4-.6-.3-.6-.3-.7-.2-.6-.2-.6-.2-.7-.2-1.2-.2-1.1 0-.8 .2-1.3 .2-.6 .3-.6 .2-.7 .3-.6 .3-.6 .3-.7 .3-.6 .4-.6 .6-.6 .7-.7 .6-.4 .7-.4 .6-.4 .6-.3 .7-.3 .6-.2 .6-.3 .7-.2z"/><path fill="#00c6ff" fill-rule="evenodd" d="M19.6 11.4l1.2-.2 1.3 0 1.2 .1 1.3 .3 .6 .3 .7 .6 .5 .8 .4 .6 .2 .6 .2 .6 .2 1.3 .1 1.3-.1 1.2 0 1.3 .4 1.1 .3 .8 .2 1.2-.2 1.3-.2 .6-.2 .7-.3 .6-.4 .6-.4 .7-.6 .6-.8 .6-.6 .3-.6 .3-.7 .2-1.2 .1-1.3-.2-1.2-.3-.7-.1-.6-.2-.6-.2-.7-.3-.6-.2-.6-.3-.7-.3-.6-.4-.6-.6-.6-.8-.4-.8-.3-.6-.2-.6-.2-.7-.2-.9-.2-.9 0-1.3 .2-1.2 .2-.7 .3-.6 .3-.7 .3-.6 .3-.6 .3-.7 .5-.6 .6-.6 .7-.6 .9-.6 .6-.4 .7-.3 .6-.3 .6-.2 .7-.1z"/><path fill="#2dffd1" fill-rule="evenodd" d="M18.9 12.6l1.3-.2 1.3 0 1.2 0 1.3 .1 .6 .3 .6 .4 .6 .7 .3 .6 .3 .6 .2 .7 .2 1.2 0 1.3-.1 1.3 .1 1.2 .2 .7 .3 .6 .1 .6 .1 1.3-.4 1.2-.3 .7-.3 .5-.5 .7-.7 .7-.7 .5-.6 .3-.7 .2-1.2 .1-1.3-.1-1.2-.3-.7-.2-.6-.2-.6-.2-.7-.3-.6-.3-.6-.3-.7-.4-.6-.6-.5-.8-.3-.6-.3-.6-.2-.7-.3-1.2-.2-1.3 .1-1.2 .3-1.3 .3-.6 .3-.7 .4-.6 .4-.6 .5-.7 .6-.6 .8-.6 .6-.4 .7-.4 .6-.3 .6-.2z"/><path fill="#93ff6b" fill-rule="evenodd" d="M19.1 13.9l1.1-.3 1.3-.1 1.2 0 1.3 .2 .6 .4 .4 .4 .5 .6 .3 .7 .2 .6 .2 1.3-.1 1.2-.1 1.3 .2 1.3 .2 .6 .2 .6 .1 1.3-.2 .7-.3 .5-.3 .7-.6 .6-.7 .6-.6 .4-.7 .2-1.2 .2-1.3-.1-1.2-.2-.7-.2-.6-.2-.6-.3-.7-.4-.6-.4-.6-.5-.7-.7-.5-.9-.3-.7-.2-.6-.1-.6-.3-1.3 .1-1.2 .4-1.3 .2-.6 .4-.7 .3-.5 .7-.7 .6-.5 .6-.4 .6-.4 .7-.3 .6-.3z"/><path fill="#f9ff05" fill-rule="evenodd" d="M19.2 15.1l1-.2 1.3-.2 1.2-.1 1.3 .4 .6 .6 .5 .8 .2 .6 .2 1.3-.1 1.3-.1 1.2 .3 1.3 .2 .6 .1 .9-.3 1-.4 .6-.6 .6-.6 .5-.7 .3-.6 .2-1.2 .1-1.3-.1-1.1-.3-.8-.4-.6-.3-.7-.5-.6-.6-.5-.7-.3-.7-.3-.6-.2-.6-.3-1.3 0-1.2 .3-1.1 .5-.8 .4-.7 .7-.6 1-.6 .6-.3 .6-.3z"/><path fill="#ff9e00" fill-rule="evenodd" d="M18.8 16.4l.8-.3 1.2-.2 1.3-.1 1.2 .2 .6 .4 .5 .6 .3 .7 .1 1.2-.1 1.3-.2 1.3 .3 1.2-.1 1.3-.4 .6-.7 .6-.9 .5-1 .2-.9 0-1.2-.2-.7-.3-.6-.4-.5-.4-.6-.6-.4-.7-.4-.6-.2-.6-.2-.6-.2-1.3 .2-1.3 .3-.6 .5-.6 .7-.7 .8-.4z"/><path fill="#ff3300" fill-rule="evenodd" d="M20 17l.8-.1 1.3 .1 .6 .1 .6 .4 .6 .8 .2 .6-.1 1.3-.2 1.3 0 1.2-.5 1.2-.6 .5-.6 .3-1.3 .1-1.1-.2-.8-.4-.6-.6-.6-.8-.4-.7-.3-.6-.1-.7 0-1.2 .2-.7 .4-.6 .8-.6 .6-.3 .7-.3z"/><path fill="#b20000" fill-rule="evenodd" d="M19.6 18.3l1.2-.2 .9 .2 1 .6 .3 .7 0 1.2-.1 .7-.3 .6-.3 .6-.8 .6-1.1 0-.8-.3-.7-.5-.6-1-.2-.7 .1-1.2 .4-.7 1-.6z"/></g>
<g transform="translate(193.2 60.9)"><rect width="44.8" height="44.8" fill="#00008c"/><path fill="#0056ff" fill-rule="evenodd" d="M19.8 8.2l1-.1 1.3 .1 1.2 .3 .7 .3 .6 .4 .6 .4 .5 .5 .6 .6 .5 .7 .3 .6 .5 .6 .3 .7 .4 .6 .4 .6 .6 .6 .4 .5 .6 .5 .6 .6 .6 .6 .7 .8 .4 .8 .3 .7 .1 1.2-.2 1.2-.3 .7-.3 .6-.5 .7-.6 .6-.6 .6-.7 .7-.8 .6-.6 .5-.6 .4-.5 .4-.8 .4-.6 .4-.7 .3-.6 .3-.6 .3-.7 .3-.6 .3-.6 .3-.6 .3-.7 .2-1.2 .2-1.3 .1-1.2-.3-.7-.2-.6-.4-.7-.5-.6-.7-.6-.7-.6-.6-.5-.7-.5-.6-.3-.5-.6-.8-.4-.6-.4-.6-.4-.7-.4-.6-.3-.6-.4-.6-.2-.7-.3-1.2 .2-1.3 .2-.6 .3-.7 .3-.6 .4-.6 .4-.7 .5-.6 .5-.5 .6-.6 .6-.5 .7-.5 .5-.4 .7-.6 .6-.5 .7-.6 .6-.5 .6-.3 .7-.5 .6-.3 .6-.3 .7-.2z"/><path fill="#00c6ff" fill-rule="evenodd" d="M19.3 9.5l.9-.3 1.3 0 1.2 .2 .6 .3 .7 .3 .6 .4 .6 .6 .7 .8 .5 .8 .4 .7 .3 .6 .3 .6 .4 .6 .4 .7 .5 .6 .7 .6 .8 .7 .5 .6 .4 .6 .3 .7 .1 1.2-.2 1.3-.3 .6-.3 .6-.4 .6-.6 .7-.7 .6-.6 .5-.6 .5-.6 .3-.7 .4-.6 .3-.7 .4-.6 .3-.6 .2-.7 .4-.6 .3-.6 .3-.6 .3-.7 .2-1.2 .3-1.3 0-1-.2-.9-.5-.6-.5-.7-.6-.6-.6-.6-.7-.6-.8-.6-.8-.4-.6-.4-.6-.4-.7-.3-.6-.4-.6-.4-.6-.2-.7-.2-.6-.1-1.3 .2-.6 .5-1.3 .3-.6 .4-.6 .5-.7 .6-.6 .8-.6 .7-.5 .6-.5 .6-.5 .7-.6 .4-.4 .8-.7 .7-.5 .6-.3 .6-.3z"/><path fill="#2dffd1" fill-rule="evenodd" d="M18.9 10.7l.7-.2 1.2-.3 1.3 .1 .6 .2 .6 .2 .7 .4 .6 .5 .6 .7 .6 1 .3 .6 .3 .6 .3 .6 .3 .7 .3 .6 .5 .6 .6 .6 .6 .6 .7 .7 .4 .7 .1 .6 .1 .9-.2 1-.2 .6-.4 .6-.4 .7-.6 .6-.7 .5-.7 .4-.6 .3-.6 .3-.7 .3-.6 .3-.6 .3-.7 .3-.6 .3-.6 .3-.6 .3-.7 .2-1.2 .2-1.3-.1-.6-.3-.7-.3-.6-.3-.6-.5-.7-.5-.6-.6-.6-.7-.5-.7-.4-.6-.4-.7-.3-.6-.3-.6-.4-.6-.2-.7-.2-.6-.1-1.3 .3-1 .3-.9 .3-.5 .5-.7 .6-.7 .8-.6 .6-.4 .6-.5 .5-.3 .8-.7 .6-.6 .7-.6 .6-.4 .6-.3z"/><path fill="#93ff6b" fill-rule="evenodd" d="M19.3 12l.9-.3 1.3-.2 1.2 .2 .6 .3 .7 .4 .6 .7 .5 .8 .3 .6 .3 .6 .3 .7 .3 .6 .3 .6 .4 .7 .6 .6 .5 .6 .5 .7 .3 .6 .2 1.3-.4 1.2-.3 .6-.6 .7-.7 .4-.6 .3-.6 .3-.6 .2-.7 .3-.6 .3-.7 .3-.6 .3-.6 .3-.6 .2-.7 .2-.9 0-1-.2-.6-.3-.6-.3-.7-.3-.6-.3-.6-.4-.7-.4-.6-.6-.6-.9-.4-.7-.3-.6-.3-.6-.2-.7-.2-.6-.1-1.3 .2-1.2 .3-.7 .4-.6 .5-.6 .7-.6 .6-.4 .7-.4 .6-.4 .6-.4 .7-.5 .5-.5 .7-.4z"/><path fill="#f9ff05" fill-rule="evenodd" d="M19.7 13.3l1.1-.5 1.3 0 .6 .1 .6 .4 .7 .6 .4 .6 .4 .6 .3 .7 .3 .6 .3 .6 .3 .7 .3 .6 .5 .6 .3 .5 .5 .8 .2 .6 0 1.3-.3 .6-.4 .5-.6 .5-.6 .3-.7 .2-.6 .2-.6 .3-.7 .3-.6 .2-.6 .3-.6 .2-1.3 0-.6-.2-.7-.2-.6-.3-.6-.3-.7-.2-.6-.3-.6-.4-.5-.5-.5-.6-.4-.6-.3-.6-.2-.7-.3-1.2 .1-1.3 .2-.8 .6-1 .6-.5 .7-.4 .6-.4 .6-.3 .7-.4 .6-.4 .6-.4 .7-.4z"/><path fill="#ff9e00" fill-rule="evenodd" d="M19.7 14.5l1.1-.5 1.3-.1 .6 .3 .5 .3 .6 .6 .4 .7 .4 .6 .2 .6 .3 .7 .3 .6 .2 .6 .4 .7 .3 .6 .3 .6 0 1.3-.5 .6-.9 .5-.6 .2-.6 .3-.7 .2-.6 .3-.6 .2-1.3 .1-1.2-.3-.7-.2-.6-.2-.6-.2-.7-.3-.6-.4-.6-.6-.5-.8-.3-.7-.3-1.2 .1-1.3 .3-.6 .5-.7 .8-.6 .6-.4 .7-.3 .6-.3 .6-.4 .7-.4z"/><path fill="#ff3300" fill-rule="evenodd" d="M21.3 15.1l.8 .1 .6 .3 .6 .6 .7 .9 .2 .7 .3 .6 .1 .6 .3 1.3 .2 .6-.2 1.3-.9 .6-.7 .2-.6 .2-.6 .2-1.3 .1-1.2-.2-.7-.2-.6-.2-.6-.3-.6-.4-.6-.6-.3-.7-.2-.6-.1-1.3 .2-.6 .5-.6 .4-.4 .7-.5 .6-.3 .6-.3 .7-.4 .6-.3 .6-.3z"/><path fill="#b20000" fill-rule="evenodd" d="M19.9 17l.9-.3 1.3 .1 .6 .5 .6 .9 .2 .7 0 1.3-.2 .6-.4 .7-.8 .4-.6 .2-1.3 0-.6-.2-.7-.2-.6-.4-.5-.5-.3-.6 0-1.3 .4-.6 .8-.6 .9-.5z"/></g>
<g transform="translate(54 108.2)"><rect width="43.2" height="43.8" fill="#00008c"/><path fill="#0056ff" fill-rule="evenodd" d="M13.9 5.6l.7-.3 .9 .3 .8 .6 .5 .6 .7 .6 1.4-.4 .6-.4 .6-.4 .6-.2 .6 .2 .6 .3 .6 .2 1.2 .1 1.2 0 .7-.3 .6-.3 .6-.2 .6 .3 .3 .5 .4 .6 .4 .6 .7 .3 1.2 0 1.2 0 .6 .3 .7 .5 .5 .8 1.2-.6 .7-.6 1.2 .1 .5 .5 .3 .6-.1 1.2 .5 .8 .5 .4 .5 .7 .2 1.2 0 1.2-.1 1.3 .1 .6 .6 .4 .3 .8-.1 1.2 .3 .7 .8 .3 1.2 .1 .4 .8 .1 1.2-.5 1.3-.6 .4-1.2 .1-.7 .2-.3 .5-.3 .6 0 .7 .5 .5 .6 .7 .5 .6 .3 .6 0 1.1-.6 .4-1.3 .1-1.2 .2-.3 .7-.3 .7-.5 1.1-.7 .5-1.1 .7 .1 1.3-.2 .6-.6 .4-.9 .2-1 .4-1 .2-.8 .2-.5-.8 0-1.2-.7 .5-.6 .7-.6 .5-.6 .7-.2 .7 .2 .6 0 .8-.6 .2-1.2-.2-1.3-.1-1 .5-.5 .6-.9 .4-1.2-.4-.5-.6-.2-.6-.1-1.2-.3-1.3-.4-.6-.9-.1-1.3-.1-.6 .4-.6 .5-.3-.7-.3-.5-.6-.6-1.2 .2-1.2-.1-.6-.3-.6-.2-1.3 .2-.6-.3-.6-.6-.6-.5-.3-1 .3-1.2 0-1-.6-.6-.9-.3-.9-.3-.6-.3-.6-.4-.5-.8-.1-.9-.1-1 .7-1 .6 .3 .6 .2-.3-.7-.3-.6-.6-.3-.8-.3-.8-.7-.8-.6-.4-.6 .2-.6 .7-.2 1.3-.3 .5-.7 .2-1.3-.1-1.2 .5-1.2 .6-.7 .4-1.2 .4-.6 .5-.5 .6-.4 .6-.3 .3-.7-.2-1.2 .4-1.2 .6-.6 .7-.5 1.3 .1 1-.3 .8-.6 .3-.6 .3-1.2 .5-.6zM36.5 11.6l-.6 .3 .4 .4 .6-.6zM9.1 32l.6 1.1 1.2-.4-.3-.6-.9-.3-.6 .2zM30.9 5.6l.7-.2 .2 .8-.8 .4-.1-1z"/><path fill="#00c6ff" fill-rule="evenodd" d="M15.1 6.2l.7 .3 .6 .8 .3 .7 .3 .6 1.3-.3 .6-.7 .6-.5 .5-.3 .7-.3 1 .3 .8 .3 1.2 0 1.2 .1 1.2-.4 .9 0 .4 .5 .4 .7 .8 .6 .6 .2 1.2 0 1.2 .5 .4 .6 .9 .6 .6 .2 .7-.2 .5-.5 .6-.7 .9 0 .5 .6-.2 .6-.6 .3-.6 .5-.6 1-.3 .7 0 1.2 .2 .6 .7-.5 .6-.3 .6-.4 .6-.6 .6-.3 .6 .5 .2 1 0 1.2-.4 .6-.9 .7-.2 .6 .4 .6 .9 .2 .8 .4 .1 1.2 .3 1 .7 .4 1.2 .3 .6 .8 0 .8-.6 1.1-.6 .2-1.3 .2-.6 .6-.4 .8-.3 .6 .7 1.2 .6 .7 .6 .6 .2 .6-.8 .5-1.2-.1-.6 .3-.5 .5-.3 .7-.4 1.2-.6 .4-.8 .2-.6 .6-.2 1.3-.2 1.1-.6 .3-1.3 .3-1.2-.4-.4-.7-.7-.6-.7 .2-.6 .8-.6 .7-.6 .5-.6 .7-.6 .6-.5 .8-.8 .2-1.2 0-1.2 .1-.4 .9-.8 .3-.6-.4-.4-1.1-.1-1.3-.1-.8-.5-1-.7 0-.9 0-1-.2-1.2-.3-.6-.6-1.2 .1-.6 .2-1.2-.1-.6-.3-.6-.5-.5-.8 .5-.4 .3-.8-.3-.9-.7-.3-.6-.3-.6-.2-.6-.8-.6-.2-1.2-.1-.9-.3-.9-.6-.6-.5-.3-.7 .2-1.3 1.3 .2 .7-.2 .3-.6-.3-.6-.4-.6 .3-.8 .7 .2 1.1 .3 .6-.3-.6-1.1-1.2-.5-1.1 .3-.4 .6-.9 .1-.6-.3-.1-1 .5-.6 .4-.6 .2-1.3 0-1.2 .2-.8 1.2 .1 .6 .2 .6 .5 .8 0-.1-1.2-.7-1-.6-.3-.5-.6 .5-1.2 .6-.5 .6-.3 .6-.4 .4-.7-.3-.6-.2-.6 .1-.7 .6-.5 .6-.2 1.3-.2 .6-.3 .6-.2 .6-.3 .6-.6 .6-.7 .5-.6 .6-.6zM30.4 12.9l-.6 .3 .6 .7 .5-.3-.5-.6zM8.4 33.3l.7 .3 0 .9-.6-.4-.1-.8z"/><path fill="#2dffd1" fill-rule="evenodd" d="M19.8 7.4l.9-.4 1.2 .2 1.2 .2 1.2 .3 1.3-.1 .6-.2 .6 .3 .6 .7 .5 .2 .7 .3 1.2 .2 .9 .2 .1 1.2 .2 .8 .6 .4 .6 .6-.6 .5-.6-.4-.6-.3-.6-.2-.9 .4 .1 1.3 .6 .6 .8 .3 1-.3 .8-.6 .7 .3 .6 .5 .5 1 .5 .6 .8-.1 .4-1.1 .8-.6 .6-.4 .6-.3 .5 .7-.4 1.2-.7 .6-.6 .5-.2 .8 .2 .6 .1 1.2 .5 1.1 1.2-.2 .6 .7 .6 .7 .7 .2 1 .6 .3 .6-.1 .8-.6 .3-1.3 .3-.5 .5-.5 .6-.4 .6-.4 .5-.6 .5 .2 .9 .4 .5 .5 .7-.5 .9-.6 .6-.5 1-.5 .6-.8 .2-.6 .4-.3 .6-.2 .6-.2 1.3-.5 1.1-1.3 .2-.6-.3-.4-.4-.7-.6-.7-.4-.9 .4-.4 .6-.4 .6-.7 .6-.6 .5-.6 .3-1.3 .2-.2 .9-1 0-.3-.7-.2-.6-.7-.5-1 .5 .3 .6 0 1.3-.2 .6-.9-.2-.2-1 0-1.3-.1-1.2-.9-.4-1.2 .2-1.3-.3-.6-.2-.6-.5-.6-.4-1.2 .1-.6 .3-1.2 0-.6-.5-.4-.8 .2-.6 .3-.6-.1-.7-.6-.5-.7-.5-.6-.3-.4-.5-.8-.5-1.2-.1-1.2-.2-.5-.4-.7-.4-.6-.7 .6-1 1.2 0 .6-.3 .6-.6 .6 .2 .6 .3 .1-1.2 .4-.6 .3-.6-.2-1.1-.6-.4-.6-.2-.6-.5-.6-.6-1.2-.2-.2-1.4 .2-1.1 1.2 .2 .6 .2 1.2-.2 .4-.9 .3-.6 .5-.3 .6-.6 .4-1-.7-.6-.9-.2-.6 .4-.4 .4-.8 .3-.6-.2 .4-1.3 .8-.4 .5-.2 .7-.4 .4-.9-.4-.9 .6-.7 .7-.2 .6-.4 .6-.4 .6-.2 .6-.3 .6-.3 .6-.3 1.2-.4 1.1 .4 .7 .7 1.3-.4 .6-.7 .6-.5zM21.9 9l.4 .9 .8 .5-.5-1.1-.7-.3zM25.6 9.2l-.7 .4-.4 .9 1.1 .2 .6-.2 .3-.6-.3-.8zM12.2 23.9l-.6 .2 0 .9 .6 .5 1.2-.7 .1-.7-.7-.3zM13.4 12.8l-.6 .7 .6 .8 .6-.4-.3-.9zM17 17.8l-.3 .7 .9 .6 .7-.5-.6-.7zM12.8 27.1l-.6 .3-.4 1 .4 1 .6 .2 .6-.3 .3-.9-.3-.9-.6-.4z"/><path fill="#93ff6b" fill-rule="evenodd" d="M19.2 8.6l.9 .2 .3 .5 .6 .6 .3 .5-.4 1.3 .4 1.3 .6 .3 .6-.6 .6-.5 .6-.5 .6-.2 1.3-.1 .6-.4 .3-.5 .4-.6 .3-.6 .8-.3 .8 .3 1 .2 .2 1-.8 .5-.6 .6-.5 .7-.4 .7 .3 .5 .6 .5 .6 .5 .6 .3 .6 .2 1-.2 .8-.2 .8 .2 .4 .6-.5 1.2-.3 .7 .3 .7 .6 .3 .8-.4 .2-.6 .8-.4 .6 .7 .2 .9-.2 .8-.6 .7-.6 .3-.6 .3-1.2-.1-.7-.3-.5-.5-.4 .7 .2 .6 .3 .6 .3 .6 .3 .6 .1 1.3 0 1.2 1 .3 .6-.3 .5-.6 .3-.6-.2-.7-.5-.6 .5-.6 .9 .6 .8 .6 1.3-.1 .6-.5 .6-.6 1.1 0 .8 .4 .1 .8-.7 .3-.7 .3-.6 .4-.6 .8-.6 .6-1.2 .5-.2 .8 .2 .7 .4 .6 .5 .6-.3 1.1-.6 .7-.6 .4-.6-.3-.4 .6-.4 .6-.2 .6-.2 .6-.3 .6-.2 .6-.3 .7-.4 .6-.7-.6-1.2 0-.6-.4-.6-.2-1.2-.1-.2 .7-.3 .6-.6 .6-.7 .4-.6 .3-1.2-.1-.7-.2-1.2-.3-.8-.1-1-.2-.5-.4-.7-.5-.6 .3-.6 .3-1.1-.1-.8-.3-.6-.3-.6-.7-.6-.3-1.2 .3-.6 .2-1.2-.1-.4-.7 .2-1.2-.3-1.2-.3-.7 .8-.2 1.2-.4 .4-.6 .3-.6 0-1.2-.1-.7-.3-.6 .3-1.2 .5-.6-.5-1.2-.6-.3-1.2 0-1.2 0-.7-.2-.6-.6-.6-.2-.6-.2-.5-.4 .1-1.2 .4-.5 .8-.2 .7-.6 .1-1.2 .4-.6 .5-.5 .6-.7 .6-.4 .6-.3 1.2-.2 .6-.9 .2-.7-.2-.6-.6-.6-.6-.3-.6 .3-.3 .6-.3 .5-.6 .7-1.3-.3-.4-.9 .2-1.3 .5-.6 .7-.6 .9-.4 1.2-.2 .6-.6 .6-.3 1.2-.1 .6 .5 .6 .3 1.3-.4 .6-.5zM23.1 29.4l-.6 .5-1.2 .2-.3 .7 .9 .6 .6 .5 .6 .3 .6-.3 .5-1.1 .1-.9-.6-.7-.6 .2zM26.8 27.4l-.1 1-.4 1.2 .4 1.2 .7 .4 .6 .5 .6 .9 1.2-.3 .5-.8-.4-.7-.7-.1-.6-.4-.4-.7-.4-.6-.2-.6-.2-.7-.6-.3zM28.6 19.6l-.6 .8 .6 .9 .6-.3 .6-.5-.1-.8-1.1-.1zM15.2 16.6l.2 .7 .4 .4 .3 .8 .3 .6 .6 .4 1.3-.1 1-.3-.4-1.2-.6-.4-.7-.3-.6-.3-1.2-.1-.6-.2zM18.3 13.3l-.3 .9 .9 .6 .5-.6-.5-1.1zM9.6 25.3l.7-.3 .5 .9 .4 .6-.1 .6-.8-.1-.6-.8-.1-.9zM6.3 27.1l1-.1 .6 .2 1.2 .4 .6 .7 0 .8-1.2 .1-1.2-.1-1.1-.1-.7-.5-.6-.4 .6-.8 .8-.2z"/><path fill="#f9ff05" fill-rule="evenodd" d="M19 9.3l1 .6 .2 .6-.4 1.2-.3 .5-1.2 .4-.5 .4-.5 .6 0 1.2-.3 .6-1.2 .1-.6-.7 .2-1.2-.3-.6-.5-.6-.6-.7 0-1 .4-.8 .8-.5 1.2 .5 .6 .2 1.1-.2 .8-.6zM27.2 9.9l.8-.5 .6 .3 .4 .8-.4 .4-.6 .8-.6 .4-.6 .3-.6-.4 .4-.9 .3-.6 .3-.6zM11.3 11.1l.9-.3 .4 .9-.3 .6-.4 .7-.9 .4-.5-.4 .2-1.3 .6-.6zM24 13.6l.3-.6 1 .6-.4 .9-.5 .9-.4 .6 .3 1.1 .6 .5 1.3-.2 .2-.7 .4-1.2 .6-.4 1.2 0 1.2 .3 .6 .2 .6 .3 .2 .8 .2 .6-.4 .8-.5 .4-.7 .2-1.2-.2-.6-.3-.6-.4-.4 .7 .3 1.2 .1 .8 .2 1.1 .2 .6 .8-.1 .6-.4 .6-.4 1 .3 .4 .6 .2 1.2 .2 .7 0 1-.2 .8-.4 .5-.1 .7 .7 .5 .4-.5 .6-.6 .9-.1 .9-.5 .9-.6 .5 .6 0 1.2 .1 1 .6 .8 .3 .7-.9-.5-.6-.3-1.2-.2-.6 .3-.6 .7 .4 1.2 .5 .7 0 1.2-.3 1.2-.6 .3-1 .3-.9 .3-.6-.3-.6-.4-.3-.8 .6-.6 .3-.5 .5-.7-.5-1.2-.6-.2-.6-.5-.2-.6-.4-.9-.6-.8-.6-.5-1.2 .2-.5 .8 .1 1.2-.9 .3-.6-.5-.6-.3-1.2 .5-1.2 .2-1.2 .1-1.2-.1-.6 .2-.7 .5-.6 .3-.6 .5-.6 .5-.6 .6-.6 .4-.6-.7 .2-1.3 .1-.6 .3-1.2 .4-1.3-.3-1.2 .3-.6 .4-.6-.2-.7-.4-.6-.8-.5-1.2-.2-1.2-.1-.6-.3-.7-.4-.6-.5-.4-.4 .4-.5 .5-.8 .3-.6 .3-1.2 .6-.6 .8-.5 .6-.4 .6-.2 .6 .4 .3 .7 .5 .6 .8 .6 .3 .6 .4 .6 .7 .3 1.3-.1 1.2-.1 .6-.3 .5-.4-.4-.6-.4-.6-.3-.6-.6-.2-.6-.3-.6-.8 .6-.5 .9 .5 .3 .7 .6 .4 .7 .2 .5 .4 0 .8-.4 .6 .7 .6 .9 .4 .8-.4 .4-.6-.3-.6-.6-.6-.2-.6-.7-1.2-.3-.7 .6-.6 .9-.3 .6-.2 .3-.7zM34.8 18.5l.5-.3 0 .9-.6 .6-.6 .3-1.1-.3 .5-.7 1.2-.5zM38.9 22.8l1.1 0-.5 .8-.6 .4-.6 .2 .1-.8 .5-.6zM5.7 27.8l1-.3 .9 .3 .9 .5-1.2 .2-1.2-.1-.4-.6zM19.2 30.8l.9 .6-.3 .7-.7 .6 .3 1.2 .2 .6-.2 .7-1.1 .3-.7-.2-.6-.3-.4-.5 .4-1.1 .6-.4 .6-.9 .7-1.2zM25.2 31.5l1-.3 .6 .3 .6 .5 .4 .7-.1 1.2-.2 .6-.1 .9-.6 .5-.6 .4-1.3-.2-.6-.3-1.2 .2-1.2-.2-.6-.6-.2-.7 .2-1.2 .6-.6 1.2 .3 .6 .3 .6 .6 .6 .6 .7-.6-.7-.5-.3-.7 .2-.6 .4-.6z"/><path fill="#ff9e00" fill-rule="evenodd" d="M14.8 10.5l1-.3 .6 .2 .6 .3 1.3-.1 .6-.5 .2 1-.5 .6-.8 .6-.7 .7-.7 .5-.6-.4-.6-.7-.5-.7-.1-.8zM27.3 10.5l.7-.6 .3 .6-.6 .6-.4-.6zM27.9 16.7l.7-.3 .4 .9-1-.4zM11.6 17.9l.6-.2 1.2 .1 .6 .3 .6 .3 .6 .5 .4 .8 .2 .7 1.2 0 1.3-.2 1.2 0 1.2 .1 .6 .4 .6 .3 1.2-.5 .6-.2 .6-.4 .6-.8 .5-.6 .8 .2 .3 1 .3 .9 .2 1-.2 1.2 .6 1.2 1.2-.1 .6-.3 .3-.8 .3-.6 .2 .6 .4 .7 .4 .6 .4 .6-.2 .8-.6 1-.2 .6-.4 1-.6-.4-.6-.5-.6-.7-.6-.4-1.2 .4-.6 .6-.5 .7-.8 .2-1.2 .1-.5 .3-1.3 .1-.6-.2-.5-.5-1.2 .6-.7 .4-.7 .4-.6 .3-.6 .3-.6 .2-.8-.4 .1-1.2 .4-.6 .5-.7-.2-1 .2-.8 .4-.6 .3-.6-.6-.7-.9-.4-.6-.4-.6-.2-.8-.2-1-.2-1.2-.3-.7-.6 .4-1.4 .2-.6 .7-1.2zM31 32.1l.6-.4 .6 .3 .7 .6 .1 .7-.8 .4-.6 .4-1.2-.1-.2-.7 .4-.6 .4-.6zM21.7 33.9l.8-.5 .6 .3 .5 .8-.5 .8-1-.1-.4-.7z"/><path fill="#ff3300" fill-rule="evenodd" d="M15.6 11.7l.8-.5 .6 .3-.5 .8-.7-.3zM12 18.5l.8 .1 1.2 .2 .6 .3 .4 .6-.4 1.3-.6 .6-1.2-.4-1.2 .2-.6-.3-.1-.7 .3-.7 .2-.6 .6-.6zM17.5 21l.8-.3 1.2-.1 1.1 .4 .4 .6 .9 .3 .6-.4 .6-.3 .6-.3 1.2-.1 .7 .2 .6 .5-.1 1.3 .5 1.3 .5 .6-.3 1-.6 .4-.6 .4-.7 .5-.6 .2-1.2 .2-.6 .4-1 0-.6-.7-.3-.6 .6-.6 .7-.5 .3-.7-.5-.6-1-.6-1.2 0-.6-.2-.4-.5-.7-.6-.8-.2-.6 .3 .4-.7 .7-.6zM17.6 24.7l.7-.3 .6 .4 .4 1.1-1 .4-1.3 0-.1-1 .7-.6zM29.6 24.7l.8-.2 .2 .8-.4 .6-.4 .5-.7 .1-.2-.6 .3-.8 .4-.4zM16.4 27.8l.6-.5 1.1 .5-.5 .8-.6 .3-.7 .1-.4-.6 .5-.6zM31.4 32.7l.4 .6-.8 .3 .4-.9z"/><path fill="#b20000" fill-rule="evenodd" d="M12.9 19.7l1.1 0-.6 .5-.5-.5zM18.9 21.6l.6-.4 .6 .2 .3 .8-.9 .3-.6-.9zM22.5 22.8l.6-.4 1.2 .1 .5 .3 .8 .6 .4 .7 .3 .6-.1 .8-.5 .4-.8 .4-.6-.2-.3-.8-.2-.6-.4-.6-.6-.7-.3-.6z"/></g>
<g transform="translate(100.5 108.2)"><rect width="43.2" height="43.8" fill="#00008c"/><path fill="#0056ff" fill-rule="evenodd" d="M20.7 3.1l.6-.4 1.2 .1 0 .9 0 .8 .5 .4 .7 .2 1.2 0 .7-.2 1 0 .8 .5 .6 .4 .6 .3 .6 .7 .3 .6 .2 .6 .3 .6 .4 .7 .3 .6 .3 .9 .6 .2 1.1-.5 .6-.6 .8-.2 .6 .2 .6 .3 .3 .9-.6 .6-.3 .6 .6 .5 .6 .4 .9 .4 .5 .6 .2 1.2 .8 .5 1.2 .6 .3 .8 .2 1.2 .2 .6 0 .8-.7 .4-.6 .4-.6 .6-.5 .3-.7 .3-.6 .8 .3 .7 .9 .4 .9-.4 .3-.8 1.2 .2 1.3-.3 .8 .3-.2 1-1.2-.1-1.3 .2-.3 .8 .3 .6 .5 .6 .5 .6 .3 .6-.6 .4-.7 .4-.6 .4-.6 .5-.6 .4-.6 .3-.6 .4-.6 .6-.1 1 .2 .6-.1 1-.6 .4-.6 .3-.6 .3-.6 .2-1.3 .1-1.2 0-.8 .1-1 .7-.5 .6-.4 .6-.2 .6 .1 1.2 .3 1.3 .1 .8 0 .9-1.2-.2-.6-.5-.5-.4-.7-.6-.6-.6-.6-.7-1.2 .7-.2 .6-.1 1.2-.9 0-.7 .2-1-.8-.4-.6 0-1.3 .8-.6 .6-.6-1.2-.5-.6-.3-.6-.2-.6-.3-1.3-.1-.3 .8 0 1.2-.6 .6-.9 .5-1.2-.3-.5-.8-.3-.6-.3-.6-.5-.6-.7-.6-.7-.2-.7-.4-.6-.6-.6-.6-.6 .2-.8-.3-.2-1.2-.2-.6-.5-.7-.6-.6-.5-.6-.2-.5-.6-.7-.6-.6 .6-1.1 .6-.4 .3-1-.2-.6-.7-.6-.6-.3-.7-.4 .1-.8 .6-.7 .6-.3 .6-.3 1.2-.3 .6-.2 .4-.4 .5-.7-.3-.6-.5-.6-.6-.6-.7-.4-.6-.4-.5-1.1 .5-.9 .6-.7 .4-.8 .2-.8 .6-1 .5-.7 .5-.6 .8-.6 .6-.6 .6-.5 .7-.4 .8 .2 .6 .7 1 .4 1.2-.1 .3-1 .2-1.2 .1-1.2 .6-.6 .6-.2 .5-.5 .7-.4 .7-.3 1.2 .5 .6-.4 .6-1.2zM18.3 6.5l-.4 .9 .4 1.1 .6 .4 .9-.3 0-1.2-.3-1-1.2 .1zM2.8 24.7l.9-.4 .1 1-.8 .6-.4-.6zM29.3 36.4l.5-.5 1.2 .1 .5 .4 .7 .6 .3 .6-.3 .8-.5 .5-.7 .2-1.1-.2-.6-.7-.1-1.2z"/><path fill="#00c6ff" fill-rule="evenodd" d="M21.1 5.6l.8-.5 .6 .3 1.2 .1 1.2 .1 .7-.2 1.1 .2 .7 .6 .5 .6 .7 .6 .4 .6 .4 .6 .4 .5 .5 .8 .4 1.2 .9 .3 1.3 .2 .6 .7 .6 .5 .6 .4 .5 .4 .7 .6 1 .6 .2 .9 .6 .5 1.2 .2 .5 .9 .1 1.1 .2 .7-.2 .6-.6 .4-.5 .3-.7 .4-.6 .4-.6 .6-.5 1 .5 1 .6 .3 .6 .3 .6 .7 .6 .7 .5 .7-.5 1-.6 .4-1.2 .4-.3 .7-.6 .6-.6 .6-.2 .6 .1 1.3-.2 .9-.6 .3-.6 .2-1.2 .4-1.3 .1-1.2 .1-.6 .2-.6 .4-.6 .4-.6 .7-.3 .6 0 1.2 .2 1.3 .3 1.2-.8 .4-.5-.4-.7-.6-.6-.6-.5-.7-.3-.6 0-1.2-.2-1.2-.9-.5-1.1 .5-.6 .6-.7 .3-1.2 0-.6-.3-.6-.4-.6-.2-1.3-.2-1.2 0-.1 .8 .4 .6-.1 1.2-.8 .6-1.2-.5-.3-.7-.4-.6-.4-.6-.4-.6-.3-.5-.6-.3-1.1-.5-.4-.6-.2-.6-.8-.4-.7-.2-.5-.5-.5-.8-.6-.6-.5-.6-.3-.6-.5-.6-.5-.6 .5-.9 .6-.8 .1-.8-.3-.6-.4-.6-.6-.6-.6-.7 .5-.6 .7-.3 1.2-.1 .6 .3 .6-.2 .4-.9 .7-.6-.3-1.3-.7-.6-.4-.6-.8-.6-.7-.5-.5-.8 .2-.6 .7-.6 .7-.6 .7-.1-.3-1.1 .2-1.3 .4-.6 .6-.6 .9-.6 .6-.6 .7-.4 .7 .4 .5 .6 .6 .4 .7 .2-.1 .7 0 1.1 .6 .2 .6-.2 .1-1.2 .2-.6 .4-.6 .1-1.3 .2-1.2 .5-.6 .9-.3 .3 .9 .3 1 .4 .9 .9 .4 1.2-.4 .6-.7-.2-.6-.3-1.2 .2-.6 .7-.6zM29.8 36.4l1 0 .8 .6 .2 .6-.2 .7-.6 .4-1.2-.3-.3-.8 .3-1.2z"/><path fill="#2dffd1" fill-rule="evenodd" d="M21.4 6.2l1.1-.1 .2 .7-.5 .6-.7 .6-.8-.5 .6-1.3zM24.2 6.2l.7-.2 .7-.3 1.2 .4 .3 .7 .3 .8 .6 .2 .6 .4 .6 .7 .6 .7 .3 .9 .3 .8 .6 .4 1.2 .1 .7 .4 .6 .8 .6 .3 .6 .4 .6 1.1 1.2 .6-.2 1.3-.9 .6 .4 .6 .8-.6 .5-.8 1.2 .1 .6 .3 .2 1 .1 1.2-.7 .6-.8 .3-.5 .4-.7 .3-.6 .8-.3 .7 0 1.2 .6 .7 .9 .5 .6 .6-.3 1.3-.4 .6-.4 1.3-.3 .6-.4 .5-.6 .7-.4 .6 .3 1.3-.5 .9-1.1 .3-.7 .2-1.3 .1-1.2 .1-.6 .3-.6 .3-.6 .5-.6 .3-.6 .3-.6-.2-.3-.7-.3-.6-.6-.5-1.3 .5-1.2 .1-1.1 .5-.4 .7-.9 .5-1.2-.3-.6-.4-1.3-.2-1.2-.2-1.2 .1-.5 .5 .5 1.1 .5 .7-.3 .6-.8 .2-.6-.7-.2-.7-.4-.5-.3-.7-.3-.7-.5-.6-1.3-.2-.4-1-.3-.9-1.2-.1-.7-.2-.4-.7-.7-.6-.5-.6-.3-.6-.4-.6-.5-.6 .5-1.1 .3-.8-.2-1.2-.4-.6-.5-.7-.4-.6 .6-.4 .6-.2 1.2 .3 1.2-.2 .6-.5 .6-.8 0-1.3-.5-.6-.7-.6-.4-.6-.4-.6-1-.6-.6-.7 .3-.6 .9-.4 .6 .2 .5 .8 .1 .8 .6 .4 1-.5-.3-1.3-.3-.6-.1-1.2-.8-.6-.6-.7 .5-1.2 .6-.5 .6-.4 .6-.3 1.1 .6 .5 .6-.2 .6-.4 .6 .9 .5 .6 .5 .4 .9-.4 .6-.3 .6 .3 .8 1.2 .1 1.2-.2 .6-.2 .2-1.1 .1-1.2 0-1.3-.4-.6 0-1.2 .1-1.2 0-1.3 .5-.6 .7 .3 .4 .9 .1 1.3 .8 .3 1.2 0 1.2-.2-.2 1.1-.3 .6-.2 .6 .7 .6 .6 .2 1.2-.1 .3-.7-.3-.6-.2-1.2-.3-.6 .2-.6 .5-.7 .4-.4 .6-.4 .5-1zM31.6 26.9l-.1 .9-.3 1.2-.6 .6 .3 .6 .7 .6 .5 .7 .8-.6 .2-.7-.2-.6-.3-.6-.2-.6-.2-.9-.6-.6zM9.1 24.8l-.2 1.1 .8 .1-.3-.7zM14 18.2l-.6 .3 .5 1.2 .7 .4 .4-1-.4-.9zM21.3 29.8l-.1 1 .7-.5-.6-.5zM9.1 29.4l.6 .7 .5-.5-.5-.5-.6 .3zM26 37l.8-.3 .6 .7 .2 .8 .1 1.3-.3 .6-.6-.4-.6-.6-.6-.8 0-1zM29.7 37l.7-.4 .6 .3 .4 .7-.3 .6-.7 .2-.6-.4-.1-1z"/><path fill="#93ff6b" fill-rule="evenodd" d="M25.5 6.2l1 .6-.3 .9-.6 .9-.2-.6-.2-1.2 .3-.6zM16.2 8.6l.4 .7-.4-.7zM27.6 9.3l1 0 .6 .3 .6 .8 .2 .7 .3 .6 .7 .4 1.2 .1 .7 .7 .6 .5 .6 .3 .4 1.1 .3 .6-.1 1.1-.6 .7-.2 .7 .8 .6 .6 .3 .3 .9-.3 1-.6 .9 .1 1.2 .3 .6 .4 .7 .8 .6 .8 .6-.3 1.2-.3 .6-.2 .7-.1 .6-.3 .6-.6 .5-1.1-.5-.6-.6-.2-1.3-.4-.6-.8-.5-.6-.2-.6 .4-.4 .9 .1 1.3-.4 .6-.5 .5-.6 .5-.6 .3-.6 .5 .6 1.1 .6-.3 .6-.7 1.2 .4 .2 .8-.2 .7-.6 .3-.6 .3-.5 .5-.7 .4-.6 .2-.6-.6-.3-.6-.9-.4-.6-.2-1.3 .5-.6 .2-.6-.3-.4-1 .2-.6 .8-.6 .3-.7-.9-.5-.6-.4-.6-.9-.6-.5-.6 .5-.3 1.2-.5 .6 .2 1.1 .6 .6 .6 .6 .3 .8-.3 1.2-.6 .7-.9 0-.8-.7-.7-.1-1.3 0-1.2-.2-1.2 .1-.9-.4-.3-.6-.6-.5-.5-.7-.7-1.2-.6-.7 0-1-.7-.8-1.2 .3-.6 .3-.6 .3-.6-.3-.5-.6-.6-.6 .3-1.3 .1-1.2-.5-1.2-.2-.7 .8-.4 1.2-.1 .8-.1 .4 .5-.4 .8-.6 .6 .2 1.2 .2 .6 .6 .4 1.2 .1 .1-1.1-.2-.6-.3-1.2 .1-1.3 .5-.6 .4-.6-.3-1.2-.4-.7-.4-.6-.7-.6-.2-.6 .8-.4 .6-.4 .5-.4 0-1.3-.5-.6 .5-1.2 .8-.2 .6 .6-.3 .8-.3 .6-.6 .6 .6 .4 .6 .5 1.2 .1 1.2 .1 .6-.3 1.2-.3 .5-.5-.2-1.2 .2-1.2 .6-.6 1.4 .2 1.2 .2 .9 .2 .9 .1 1.2-.1 .6-.3 .1-1 .5-.8 1.1-.4 .2-.6 .3-.6 .9-.5 .8-.1zM28.6 17.1l-.6 .6-.6 .4-.6 .3 .6 1.1 .5 .2 .7 .3 .9-.3 .3-1.2 0-1-.6-.6zM13.4 17.8l-.5 .7 .4 1.2 .7 .6 .6 .5 1-.4-.1-1.3-.3-1.1-.6-.6-1.2 .4zM15.8 24.5l-.4 .8 .4 1.1 .6 .7 .4 .7 .8 .1 .7-.2 .3-.6-.9-.6-.3-.6-.3-1.2-.7-.3zM20.1 24.5l-.1 .8 .7 .2-.2-.8zM23.7 24.4l-.5 .9 .4 .6 .7 .4 .6-1-.6-.9zM26.2 15.3l-.8 .7 .8 .5 .6-.2-.5-.9zM14 28.8l-.6 .4 .3 1 .9 .4 1.2 0 .6-.3 .6-.7-.6-.9-.6 .5-1.1-.2-.7-.2zM8.9 11.1l.8-.2 .4 .8-.3 .6-.7 .4-.5-.4-.1-.7 .4-.5zM16.7 11.1l.9-.3 1.3 .1 .3 .8-.9 .6-1.3-.5-.3-.7zM33.4 31.5l.7-.3 .6 .6-.3 .9-.9 .2-.9-.2 .4-.6 .4-.6zM26.7 37.6l.6 .6 .1 1-1-.3-.4-.7 .7-.6zM30.2 37.6l.2-.5 .3 .5z"/><path fill="#f9ff05" fill-rule="evenodd" d="M27.3 9.9l1.3 .2 .6 .3 .3 .7 .3 1 .6 .4 .6 .2 .7 .3 .5 1.2 .3 .6 0 1.2 .3 .7 .2 .6-.1 1-.1 .8 .2 .6 .2 1.3-.3 1.2-.7 .3-.3 .9 .2 1.3-.9 .6-.6 .6-.4 .6-.1 1.3-.3 .9-.6 .7-.6 .4-.6 .2-.6 .4-.4 .4 .3 .7-.5 .8-.9-.2-.8-.6 .4-1.3-.6-.5-.6-.6-.6-.3-.9-.4-.4-.6-.5-.7 .6-.7 .6 .7 .6 .5 1.2 .1 1.3-.1 .5-.5 .5-.6 .3-.6-.1-.9-.6-.8-.6-.8-.6-.3-1.3 .2-1.2-.2-.7 .3-.3 .7-.8 .2-.6-.2-.6-.5-.6-.3-.7 .1-.5 .7-.7 .2-.8-.2-1-.4-.6-.9-.3-.6 .5-.6 1-.6 1.2-.1 .7-.3 .6-.7 .5-.8 .4-.6-.9 0-.6 .2-1.3 .4-.6 .3-.2-.9 .2-.9 .6-.3 .6-.6 0-.8-.3-1.1 .3-1 1.3 .1 1.2 .3 1.2 0 1.2 0 1.2 .2 .6 .4 .1 1.2 .4 1.3-.3 .6-.5-.6-.9-.2-.8 .2 .2 .8 0 .9-.2 .7 .7 .7 .7 .2 1.2 0 .7-.2 .6-.5 1.2 .1 .5 .4 .5 .6 .8 .3 .9-.3 .2-1.3 .1-1.2-.1-1.2-.3-.6-.7-.7-1.2 0-.7-.4-.6-.6-.6-.6 0-.8 .3-.6-.3-1.3 0-.8 .6-.9zM28.6 12.7l.3 .9 .5-.6-.8-.3zM10.4 18.5l.6-.3 1.2 .2 .1 .7 .4 .6 .7 .5 .6 .7 .5 .7-.4 .6-.7 .1-1.2 .4-.3 .7 .9 .3 .5 .4 .5 .6-.4 .5-.6 .7-.3 .6-.9 .3-.6-.8-.4-.7 .2-1.2 .4-1.3 .3-.6 .3-.6-.2-1.1-.6-.7-.4-.7-.2-.6zM33.3 23.4l.8-.3 .6 .6 .6 .9 .6 .6 .6 .6-.2 .7-.3 .6-.1 .7-.5 .6-.7-.6 .2-1.3-.2-.7-1.2 0-.6-.3-.6-.8 .4-.6 .6-.7zM6.7 24.1l.6-.5-.6 .6zM18.2 25.3l.7-.2 .6 .6 .6 .6 .5 .2-.5 1.3-.1 1.2-.5 .6-.6 .6 .4 1.3 .5 .6 .9 .6 .3 .6-.3 1.1-.6 .3-.6-.6-.6-.5-.6 .3-1.3 .2-1.2-.1-1.2-.5-.6-.8-.6-.6 .6-.7 .6 .4 1.1-.3 .7-.5 .6-.4 .5-.4 .3-.6 .5-1.2 .6-.3 .5-.3-.3-1.3-.8-.6zM7.2 25.9l.7 .6 .6 .6 .6 .5-.6 .7-1.1-.5-.4-.7 .2-1.2z"/><path fill="#ff9e00" fill-rule="evenodd" d="M26.9 10.5l1.1-.1 .6 .6-.2 .7-1 .4-.6-.4-.2-.6 .3-.6zM27.2 13.6l.8 .2 .6 .6-.6 .9-.6-.3-.6-.8 .4-.6zM18.1 14.8l1.2 .6 .3 .6-.1 .7-.6-.4-.6-.9zM30.9 14.8l.7 .6-.2 .6 .2 .8 .1 1.1-.7-.5-.3-1.4 .2-1.2zM22.1 15.4l1-.2-.6 .6zM31.1 19.7l1.1 .7-.6 .7-.5-.7zM25.6 21l.6-.4 .6-.2 .6 .3 .6 .7 .6 .4 1.2 .1 1.1 .3 .3 .6 0 1.3-.3 .6-.5 .5-.4 .7-.4 .6-.1 1.3-.3 .8-.6 .5-.6 .3-1.2 .1-.6-.2-.6-.3 .1-.6 1.1-.5 .6-.7 .5-.7 .2-.6-.1-.7-.6-1.1-.6-.6-.6-.6-.6-.3-1.3-.2-.6-.2-1.2-.4 0-.8 1.2 .2 1.2 0 .7-.2zM16.1 22.2l.9-.3 .6 .9-.2 .6-.9 0-.5-.6zM33.7 24.1l.7 .6-.9 .1 .2-.7zM11.4 24.7l.8-.2 .4 .8-.4 .5-1-.5zM16.8 31.5l.8-.2 .7 .4 .1 1-.3 .6-1.1 .4-1.2-.2-.5-.8 .5-.6 .6-.5z"/><path fill="#ff3300" fill-rule="evenodd" d="M25.7 21.6l1.1-.5 .5 .5 .7 .5 .6 .2 1.2 .3 .5 .8-.4 1.3-.3 .6-.9 0-.3-.6-.3-.6-.7-.6-.6-.6-.6-.5-.5-.8zM27.9 27.8l.7-.3-.6 .8zM16.9 32.1l.7 .6-.6 .6-1-.6 .4-.5z"/></g>
<g transform="translate(147.3 108.2)"><rect width="43.2" height="43.8" fill="#00008c"/><path fill="#0056ff" fill-rule="evenodd" d="M26.5 3.7l.9-.1-.6 .5zM23.3 4.3l1-.6 1.3 .5 .5 .7 .2 .7 .4 .6 .7 .4 1.2 .1 1.2 .2 .6 .2 .6 .7 0 .8-.6 .3-.4 1 .3 .6 .7 .1 1.2-.1 1.3-.2 .8 .2-.5 .6 .1 1.2 .8 .4 .6-.4 .3-.6 .3-.6 .6 .3 .6 .4 .6 .3 .6 .8-.2 .7-.4 .6 0 1 1.2-.2 1.3 .4 .4 .6 .1 1.3 0 1.2 .1 .9 .6 .7 .5 .9-.3 1.2-.8 .6-1.3-.2-.6-.4-1.2 .5-.6 .5-.3 .9 .1 1.2-.2 1.2 .4 1.2 .5 .7 .3 .6 .1 1.2-.3 1.1-.6 .4-1.2 .2-.6 .2-.6 .3-.6 .4-.4 .5-.5 .6-.3 .6-.7 .6-.6 .5-.6 .4-.6 .2-.6 .3-.5 .5-.7 .6-.6 .4-1.2 0-.6-.4-.6-.3-.9 .3-1 .6-1.2 .1-.6 .5-.4 .7-.4-.6 .2-.9 0-.8-.6-.4-.6 .3-.6 .5-.6 .4-1.3 .2-.7 0-1.1 .1-.6-.2-.6-.2-1-.3-.7-.6-.1-.8-.2-1-.4-1.2-.6-.4-.9 .3-.2 .6-.2 .8-1.1-.1-.7-.3-.6-.2-.6-.4-.4-1 .3-.6 .7-.6 .4-.6 .4-.7 .4-.5 .6-.7-.6-.8-.6 .4-1.2-.1-.6-.4-1 .3-.8 .2-.3-.8 .9-.3 1.2 0 .6-.6 .3-1-.3-1.1-.6-.6-1.2 .2-1.2 .1-.6-.3-.2-.7 .5-.7 .6-.6 .4-.6-.1-.7-.6-.5-.6-.5-.6-.8-.2-.6-.2-.6 .1-1.2 .9-.5 .6 .2 .6 .4 .6 .2 1.2-.1 .6-.5 .6-.2 .1-.8-.3-.6-.3-.6-.1-.9 .1-.9 .1-1.3 1-.4 .7-.2 .5-.3 .6-.4 .7-.2 1 .3 .8 .6 1.2-.4 .1-.8-.1-1.3-.1-1.2 .3-.6 1-.6 .8 0 .9 .6 .5 .6 .9 0 1.2-.2 .8 .2 .2 .6 .8 .6 .2-.6-.2-.7-.6-.5 .3-1.2 .9-.4 .6-.3 .6-.4zM26.8 8.4l-.6 .5-.1 1 .2 .6 .5 .6 .6 .2 .4-.8 .1-1.2-.5-.9zM37.7 16.1l-.3 1.2 .7-.6-.4-.6zM1.7 22.2l.7-.1-.6 .3zM40 29l.8-.1-.8 .1zM16.9 40.1l.6 .6-.5 .5-.6 .2 0-.9 .5-.4zM23.4 41.9l.3-.4 .5 .4 .2 .7-.2 .6-.4 .6-.7-.5 0-.8 .3-.6z"/><path fill="#00c6ff" fill-rule="evenodd" d="M24.2 4.9l.7 .3 .5 .4 .7 .6 .6 .6 .5 .6-1 .5-.6 .5-.4 .9 .2 .6 .2 .6 .3 .6 .7 .6 .8 .3 .9-.3 .2-.6 .1-1.1 .8 .5 .4 .5 .6 .2 1-.1 .8 .1 .7 .5 .2 .6 .3 .7 .7 .5 1.2-.4 .6-.6 .6-.4 .9 .2 .5 .7-.3 .6-.3 .6-.1 1.2-.1 .9-.2 1 .1 1.2 .7-.2 .5-.4 .3-.6 .2-1.3 .8-.5 .6 .5 .2 .7 .1 1.2-.1 1.2 .2 .6 .7 .7 .3 .6-.7 1.2-1.3-.2-.6-.2-1.2 .4-.6 .3-.6 .2-.6 .7 .3 .7 .2 .6 0 1.2-.1 1.2 .2 .8 .4 .5 .4 .6 .1 1.2-.3 .6-.6 .3-.6 .2-.6 .3-1.2 .2-1.2-.2-.7-.3-.6 .6-.2 .8 .2 .6 .3 .6-.3 .6-.6 .5-.6 .5-.5 .3-.7 .5-.4 .7-.8 .5-1.2-.1-.6-.4-.5-.6-.1-.7-.7-.2-.6-.4-.7 .1-.5 .5-.6 .3-.5-.8-.7-.5-.9 .5-.3 .9-.6 .8-.6 .6-.6 .2-1-.1-.9 .1-1.2-.5-.6-.4-.6-.4-.4-.6-.2-.6-.5-1.3-.6-.6-.6-.6 .9-.6 .8-.6-.6-1.2-1.2-.5-.8-.2-.5-.5-.1-.7-.3-.6-.8 0-.6 .5-.6-.3 .3-.9-.3-1.1-.3-.7-.3-.6-.6-.4-1.2 .3-.8 .1-.4-.6 .3-.7 .4-.6 .4-.6-.5-1.2-.6-.4-.6-.6-.5-.9-.2-1.2 .7-.5 1.2 .4 .6 .3 .6 .3 1.2-.2 .6-.4 .6-.3 .6-.8-.3-.7-.4-.6-.3-.6-.2-.6 .1-1.2 .5-1.1 .6-.3 .6-.3 .6-.4 .7-.2 .9 .4 .9 .4 1.2-.2 .4-.8 .2-1.1-.1-1.4 .1-.8 .6-.6 1.2 .2 .4 .6 .8 .6 1.3-.2 .6 .2 0 .8-.6 1 .6 1 .9-.3 .7-.6 .6-.6 .4-.7 .3-.6 .3-.6 .4-.6 .6-.3 .6-.9zM26.8 24.5l-.6 .4 .1 1 .3 .6 .8 .6 .6-.2 .5-.4-.4-1.2-.7-.6-.6-.2zM11.6 19.2l-.2 1.2 .3 .6 1.1 .3 .6 .5 .6 .4 .4-.6-.4-.5-.6-.2-.6-.5-.4-.7-.2-.6zM9 31.5l.7-.4 .6 .3 .7 .3 .6 .3-.6 .8-.7 .3-.6 .4-.6 .9-1.2-.3-.3-.8 .5-.6 .4-.5 .5-.7z"/><path fill="#2dffd1" fill-rule="evenodd" d="M24.5 6.8l.4-.4 1 .4-.3 .8-.7 .3-1-.5 .4-.4zM15.1 7.4l.7-.4 .5 .4 .3 .6 .4 .4 1.3 .2-.2 .7-.3 .6-.3 .6-.2 .6 .2 1.2 .3 .7 .4 .6 .7 .2 .3-.8 .2-1.3 .7-.3 .6-.5 .6-.6 .6-.4 .4-.6 .8-.5 .6 .3 .6 .5 .6 .7 .3 .8 .4 .5 .6 .5 .6 .2 1.2 .3 .9-.3 .9-.5 1.2-.2 1.2 .1 .3 .6-.3 1.1-.6 .7 .6 .4 .9 .3 1-.4 .6-.4 .6-.4 .6-.5 .6-.5 .9 .4-.2 .6-.3 .6 0 1.2-.1 1.3-.3 1.1-.3 .7-.2 .6 .9 0 .8-.4 .6-.5 .5-.9 .6-1.3 .6 .7 .2 .6 0 .8-.3 1 .3 .6 .6 .6 .2 .7-.2 .6-.6 .2-.9-.2-1-.1-.6 .3-.6 .3-1.2-.2-1.1 .3-.2 .6 .7 1.3 .6 .4 .2 .8-.1 1.2-.1 1.3 .2 .6 .6 .6 .2 .6-.3 .6-.7 .6-.6 .2-1.2 .3-1.1-.5-.8-.5-.9 .5-.2 .7-.4 .6 0 1.2 .3 .6-.6 1-.6 .4-.6 .2-.9 .3 .1 .6-.2 .6-.8 .2-.6-.3-.3-.5-.3-1.2-.6-.3-.7-.3-.4-.7 .1-1.2-.9-.1-.4 .7-.2 .6-.3 .6-.9-.3-1.2 0-.6 .3-.6 .7-.2 1.2-.4 .6-.6 .2-1.3-.1-.7-.1-.5-.4-.6-.6-.8-.2-.4-.6-.3-1.3-.7-.6 .4-.9 .6-.9 .3-.7 .9-.2 .6 .3 .7-.1-.1-.7-.6-.5-.6-.2-.6-.3-.6-.4-.6-.2-.6 .2-.6 .2-.9 .1-.7-.6-.2-.6-.6-.7-1.3-.3-.4-.9-.2-.6-.3-.6-.7-.6-.8 0-1.2 .1 0-.8 .4-.6 .4-.6-.2-.9-.6-.6-.6-.3-.5-.7-.3-.6 0-1.2 1.4 .2 .6 .3 .6 .5 1.2 0 .6-.3 .6-.4 .5-.3 .7-.4 1 .4 .3 .6 0 .9-.1 1 .1 1 .6 .4 1.1 .4 .7 .6 .6 .4 1.1-.4 .3-.6-.2-.8-.6-.7-.6-.4-.6-.3-.5-.9 0-1.2-.5-.6-.8-.4-1.3 .1-.6-.7-.6-.8-.4-.7-.3-.6 0-1.2 .4-.7 .9-.4 .6-.4 .7-.3 1.2 .5 .6 .2 1-.2 .6-.6 .4-.6 .2-.6 .2-1.3-.1-1.2zM27.4 23.3l-1.2 .4-.6 .7-.1 .9 .3 .6 .3 .6 .3 .6 .3 .7 .7 .2 1.2 .3 .6 .5 .8-.4 .1-1.3-.2-.6-.5-.6-.4-.6-.4-.4-.6-.8-.3-.7zM28 19.4l-.5 .3 .2 .7 .9-.2-.6-.8zM30.4 21.3l-.5 .9 1.1 .4 .6-.2 0-.8-.6-.3zM33.5 21.5l.6 .4-.6-.4zM15.8 33.9l-.2 .6 .2 1.2 1-.5-.2-1.3zM14.6 25l-.3 .9 .5-.6zM10.3 12.8l-.2 .8 .9 .6 .2-.6-.5-.6zM28 32.5l-.6 .4-.3 1 .8-.6 .3-.6z"/><path fill="#93ff6b" fill-rule="evenodd" d="M15.8 9.9l.6-.2 .2 .8 .2 1.2 .2 .6 .3 .7 .2 1.2-.5 .4-1.2 .1-1-.5-.7-.6-.8 .6 .6 .6 .7 .5 .5 .7-.5 .6-.6 .3-1.1-.2-.7-.5-.6-.8 .3-1.2-.3-1.2-.6-.7 .6-.3 1.2 .2 1.2-.1 .6-.8 .6-.8 .6-.6zM21.8 10.5l.7-.5 1.2 .2 .6 .9-.6 .4-.6 .4-.5 1.1-.2 .6 .1 .7 .6 .3 1.2-.4 .6-.6 .4-.6 .9-.2 1.2 .6 .3 .8 .9 .1 .4-.7 .7-.6 .7-.4 .6-.4 .8 .1-.2 .7-.6 .5-.6 .4-.6 .6 .6 .9 1.2-.2 1.3 .1 .6 .5 .6-.3 .4-.7 .8-.6 .6-.3 .5-.3 .2 1.2 .1 1.2-.2 1.1-.3 .8-.3 .5-.4 .7-.2 1-.6 .2-1.2 .1-.6 .3-.7 .3-1.2-.5-.4-.8 .1-1.2-.9 .3-1.2 .2-1.2-.1-.6 .8 .5 1.3 .3 .6-.3 .6-.5 .3-1.2 .2-.4 .7-.3 1-.1 .9 .5 .6 .4 .6 .4 1.3 .2 .6 .5 .6 1.2 .2 .6 .2 1.2 .1 .6-.5 .2-.6 .1-1.3-.3-.9-.5-.9-.5-.6-.4-.6 .2-.7 .6-.2 1.2 .2 1.2-.3 1.3 0 .6 .9 .6 .5 .6 .2 .4 .6-.2 1.2-.2 1.3-.6 .5-.6 .3-.6 .7-.6 .2-1.3 .2-.6 .2-.5 .9-.7 .5-1.2-.2-1.1 .4-.4 .6-.7 .6-.7 .6-.1 .7-.2-1.3-.2-.6-.2-1.3-1.1 .7-.5 .6-.6 .6-.9 .6-.6 .2-.6 .3-.6 .2-.6 .3-.6 .4-.6 .3-.5-1.1 0-1.2-.5-.6-.1-1.3-.2-.7-.3-.5-.9-.5-.6-.3-.6-.3-.6-.7 .6-.9 .5-.4 .4-.6-.1-1.2-.4-.6 .3-.7 .5-.6 .3-.6-.2-.6-.3-.6-.6-.6-.9-.7-.5-.6 .4-.9 .6-.7 .6-.6 .6-.7 .6-.2 .6-.4 .6-.6 .7 .6 .4 .4 .9-.6 0-1.2 .3-1.2 .2-.7 .3-.6 .6-.6 .8-.6zM32.9 25.7l.1 .8 .9 0-.4-1.1-.6 .3zM9 13.6l.4 .6-.4-.6zM39.2 17.3l.3-.6 .3 .6-.1 1.2 0 1.2 .5 .5 .2 .8-.9 .2-1.2 0-.6 .2-1.2-.3-.4-.7 .7-.7 .8-.6 .7-.4 .5-.8 .4-.6zM3.9 18.5l1 0 .6 .5 .6 .5 1.2 0 .6-.2 .6-.4 .6-.3 .9-.1 .5 .6-.1 1.3-.5 .6-.8 .1-1.2 .3-.5 .8 .5 .5 1.2 .2 1.2-.3 1.3-.1 .6 .3 .4 .6 .4 .7 .5 .6 .1 1.2 .1 1.2-.9 .6-.6 .4-.6 .3-.6-.2-.5-1.1-.8-.4-.7-.2-.5-.4-.4-.8-.2-.6-.4-.6-.8-.5-1.2 .2 .1-1 .4-.6-.5-1.2-.6-.5-.6-.5-.5-.9zM33.9 30.2l.8-.1-.6 .3zM14.5 32.1l.7-.5 .6 .5-.3 .6-.3 .5-.6 .4-.5-.3 .4-1.2zM28.6 33.9l.6-.5 .6 .2 .1 .9-.7 .2-.6-.6z"/><path fill="#f9ff05" fill-rule="evenodd" d="M21.9 11.1l.3 .6-.3 .6-.5 .7-.3 .6 .2 1.1 0 .8-.8-.7 0-1.2 .2-.6 .3-.7 .2-.6 .7-.6zM15.1 11.7l.7-.1 .6 .6 .3 .8-.3 .9-1.2-.3-.5-.6-.3-.7 .7-.6zM35.5 14.8l.8 .6 .1 1.3-.2 .6-.3 .6-.6 .6-.4 .6-.8 .5-.8 .1-1.1 .5-.8-.5 .2-.8 .4-1-.6-.6-.4-.5 .2-.8 1-.5 .7 .2 .6 .6 .7-.3 .3-.6 .8-.6zM26.3 15.4l1.1-.1 1.2 0 .6 .3 .5 .4 .6 .7-.4 1.2-.7 .6-.8 0-1-.1-.6-.3-.3-.8-.2-1.3zM17 16.7l1.1 .6 .8 .1 .6-.2 1.2 0 1.1-.5 .7-.2 .6 .2 1.2 .2 .6 .5 .4 .5 .3 .5 .3 .7 .3 .6 .2 .7 .2 .6-.4 .9-1.3 .1-.3 .8 0 1.3-.2 .6-.4 .6 .2 .6 .7 .3 .6 .9 .1 .8 .1 1.1-.4 .6-1 .5-.6 .4-.6 1-.4 .6-.8 .6-.6 .3-.6 .3-.6 .3-1.2-.3-.2-.6-.3-.6-.5-.6-.2-.7-.5-1.2-.5-.6-.9-.5-1-.7 .3-.7 .6-.6 .3-.6 0-1.2-.3-.6 .3-.7 .4-.5 .5-.7-.3-.6-.5-.6-.5-.6-.7-.7-.3-.5 .2-.7 .4-.4 .6-.7 .6-.5 .6-.2zM37.6 19.7l.7-.2 .6 .2 .4 .7-1 .2-.6 .3-.5-.5 .4-.7zM8.2 23.4l.9-.1 1.2-.2 1.2 .3 .2 .7 .5 .7 .6 .3 .2 .8-.2 .6-.6 .6-.6 .5-.6-.5-.5-.6-.8-.2-.9-.4-.4-.6-.2-.6-.3-.6 .3-.7zM30.7 24.7l.9-.5 .8 .5-.5 .6-.3 .6-.6-.3-.3-.9zM31.6 26.5l.6 .3 .7 .6 .3 1-.8 .6-.8 .1-.6-.6 .1-.7 .2-.7 .3-.6zM25.9 30.8l.3-.5 .6 .2-.1 1-.5 .5-.4-.5z"/><path fill="#ff9e00" fill-rule="evenodd" d="M27.4 16l.6-.2 .8 .2 .4 .6 .2 .7-.4 .6-1 .1-.6-.2-.3-.5 .3-1.2zM32.1 16l.8 .2 .3 .5-.3 .6-1.1-.6 .3-.7zM34.6 16l.7-.6 .8 .6-.2 1.3-.6 .5-.6-.4-.3-.7 .2-.7zM16.1 17.9l.9-.4 .6 .4 .7 .4 .9-.4 .9-.2 .6 .2 .5 .6-.3 1.2 .3 .7-.5 .9-.6 .3-.6 .2-1.2 .1-.7-.4-.6-.2-.6-.5-.6-.8-.5-.9 .2-.6 .6-.6zM22.4 17.9l.7-.4 1.2 .1 .6 .8 .3 .7 .3 .6 .2 .7-.1 .7-1.3 .2-.5 .3 .3 1.2 0 1.3-.3 .6-.7 .4-.6 .4-.4 .4 .4 .6 1.2 .2 1 .4 .1 1.3-.5 .9-.6 .3-1.1 .6-.1 1.2-.4 .7-.8 .5-.6 .3-.6 .2-.9-.4-.2-.6-.4-.6-.3-.6-.2-.7-.5-1.2 .4-1.2-.7-.7-.7-.6 .3-1.2-.4-1.2 .4-.7 .4 .7-.3 .6 1.3 .2 .6-.4 .6-.7 1.2-.1 .6-.4 .6-.5 .6-.6 .6-.6-.3-1.2-.1-1.3-.3-.6zM8.5 24.1l.6-.3 1.2-.1 .5 .4-.3 1.2-.8 .5-.9-.5-.3-.6z"/><path fill="#ff3300" fill-rule="evenodd" d="M16.2 18.5l.8-.3 .6 .5 .6 .4 .7 .2 .5-.8 .7-.1 .1 .7 0 1.3-.4 .6-.9-.6-.6-.4-.7 .5-.8-.1-.7-.7-.2-.6 .3-.6zM23.5 18.5l.8 0 .2 1.2-.8 .3-.1-.9zM22.9 22.8l.8 .6-.2 .7-1 .3-.6-.3 .3-.7 .7-.6zM17.5 25.9l.8-.2 .5 .8-1.2 0zM20.1 27.1l.6-.3 .8 .3 1 .5 .9 .2 .2 .6-1.1 .3-1.2-.1-.9-.2-.4-.6zM19.4 30.2l.7-.3 1.2 .1 .6 .7 .1 .8-.5 .6-.8 .4-1.2-.4-.2-.6 .1-1.3z"/><path fill="#b20000" fill-rule="evenodd" d="M20.5 30.8l.8 .4-.6 .6-.5-.3 .3-.7z"/></g>
<g transform="translate(194.2 108.2)"><rect width="43.2" height="43.8" fill="#00008c"/><path fill="#0056ff" fill-rule="evenodd" d="M19.9 3.1l.6 .6-.6-.6zM14.2 6.8l1-.5 .6 .3 .6 .7 .6 .2 1.3-.4 1.2 0 .5 .3 1.2 0 .7-.4 .6-.2 .6-.3 1.2 .1 .6 .4 .7 .9 .6 .2 .4-.7 .5-.6 .9-.3 .6 .2 .6 .2 .6 .3 .6 .4 .7-.2 1.1-.1 .6 .7-.3 1.3-.4 .6 .1 .8 .7 .6 .6 .3 .6 .3 .6 .2 .6 .3 .6 .2 .5 1 .3 1.2 .3 1.2-.3 1.3 0 1.2 .2 1.2 0 1.3-.3 1.2 .5 .6 .6 .4 .6 .6 .6 .9-.6 .9-.5 .3-.4 .6 .3 .6 .6 .4 .6 .4 0 1-.8 .1-1-.2-.3 .8 .2 1.2-.4 .7-.7 .4-1.2-.4-.6-.4-.6-.5-1 .2 .1 1.3 0 1.2-.4 .5-.6 .7-.5 .7-.7 .5-.9 .1-.9-.3-1.2 0-.9 .3-.9 .3-1.3 .1-1.1 .2-.7 .3-1.2 .1-1.2-.1-1.1 .3-.7 .1-1.3-.2-1.2-.3-.6-.8-1.2 .2-.6-.4-.4-.4-.8-.5-1.2 .3-1.3-.4-.5-.7-.3-.6-.4-.5-.6-.5-.4-.8-.2-.7 .1-1.2 .1-1.2-.2-1-.2-.9 .2-1 .6-.8-.1-1.3 .3-.6 .3-.6-.4-1.2-.5-.6-.3-.7-.5-.3-.6-.5-.5-1 .1-1.2 .3-.7 .4-.6 .5-.6 .4-.5 .2-.7 .2-.6 .3-.7 .5-.4 .6-.4 .6-.4 .6-.4 .7-.2 .6-.3 .5-.3 .6-.6 .5-.7 .4-.6 .3-.6 .3-.6zM8.3 8l.8-.4 .6 .2 .4 .8-.4 .7-.6 .2-.7-.2-.3-.7 .2-.6zM2.7 21l1-.2 .3 .8-.3 .9-1.2-.3 .2-1.2zM41.3 23.4l.7-.4 .5 .4-.5 .4-.6-.2zM3.3 24.7l1-.2 .6 .4 .4 .4-.2 1.2-.8 .4-1.3-.2-.4-.8 .4-1.1zM42.9 26.5l.3 .6-.3-.6zM7.2 34.5l.7-.2 0 .9-.7-.7z"/><path fill="#00c6ff" fill-rule="evenodd" d="M14.5 7.4l.7-.4 .6 .4 .6 .6 1.2-.3 1.3-.3 1.2 .4 1.2-.1 .6-.2 .6-.3 .6-.2 1.2 .1 .6 .7 .5 .8 .7 .7-.4 .6-.5 .6 .9 0 .1-1.2 .4-.7 .3-.6 .3-.6 .8-.4 1.2 .3 .6 .6 .4 .7 .2 .7 .6 .3 .6 .8 .5 .7 .6 .6 .8 .3 .6 .3 .6 .3 .6 .2 .5 .8 0 1.2 .2 .6-.1 .8-.4 .5 .4 1.1 .3 .7 .2 1.2-.1 1.3-.4 1.2 .6 1 .6 .2 .6 .5 .6 .8-.6 .4-.6 .2-.3 .6-.2 1.2-.7 .6-1.2 .2-.6 .4-.3 .7 .9 .4 1.2 .1 .5 .7-.4 1.3-1.3-.4-.6-.7-.6-.7-1.3 .4-.6 .7 .4 1.3 .1 1.2-.4 .6-.5 .6-.6 .7-.8 .3-.9-.3-.3-.7 .3-.6-.1-1.2-.8-.2-.6 .7 .4 .7 .5 .6-.9 .4-.6 .2-1.2 .4-1.3 .1-1.2-.2-.6 .5-.6 .3-1.2-.1-1.2 .3-.6 .2-1.3 0-1-.2-.3-.6-.2-1.3-.9-.3-.6 .3-.5 .7-.7-.2-.5-.5-.7-.3-.6 .2-.6 .2-1.2-.7-.3-.6-.2-.6-.3-.6-.1-.6-.6-.7-.4-.4 0-.8 .1-1.2-.3-1.3 .2-1.2 .6-.4 .4-.8-.2-.6-.2-.7 .4-1.2 0-1.2-.6-.6-.4-.6-.6-.5-.6-.4-.4-.4-.3-.6 .1-1.1 .4-.8 .5-.6 .5-.6 .3-.6 .2-.6 .3-.6 .4-.7 .4-.3 .6-.5 .6-.4 .7-.2 .9-.4 .7-.6 .8-.6 .6-.3 .6-.2-.2-.8zM31.5 8l.4 .6-.4-.6zM3.2 25.3l.5-.4 1 .4 .3 .6-.7 .6-1.3-.6z"/><path fill="#2dffd1" fill-rule="evenodd" d="M22.8 7.4l.9-.2 .6 .3 .3 .5 .3 .6 .3 .7-.5 .6-.4 .5 .2 .7 1.1 .3 1.2 0 .6 .6 .6 .5 1.1-.2-.2-.6-.9-.5-1.1-.7 0-1.2 .2-.7 .2-.6 .5-.6 .9 0 .5 .4 .4 .8 .3 .7 .5 .6 .6 .3 .6 .7 .6 .8 .7 .4 .6 .2 1.2 .5 .6 .8-.2 1.2 .2 .6-.3 .6-.3 .5-.1 .8 .3 .6 .8 .6 .3 .6 .1 1.3-.2 .7-.3 1.1 .3 1.1 .6 .7-.3 .7-.3 .6 .2 1.2-.2 .6-.6 .3-1.1 .4-.7 .5-.6 .4-.7 .5-.6 .8-.6 .5-.5 .3 .5 1 .6 .6 .1 .9-.4 .6-.4 .6-.5 .5-.6 .2-.5-.7 .2-1.2-.2-1.2-.2-.6-.5-.6-.8-.1-.3 .7-.5 .6-.8 .5-.5 .7 .3 .6-.4 .7-1.3 0-1.2-.1-1.1 0-.3 .7-1 .1-1.2 .3-.6 .2-.6 .3-1.1-.3-.1-1.3-.7-.9-1.2 0-.6 .3-.6 .5-1.2-.4-.6-.3-.6 .4-.6 .2-.7-.2-.4-.8-.2-.6-.2-1.2-.2-.7-.6-.6-.3-.6 .1-1.2-.2-1.3 .2-.8 .6-.6 .3-1-.2-.6-.2-.7 .5-1.2 .8-.4 1.3 .1 .3-.9-.3-1.1-.6-.4-.7-.7-.5 .3-.5 1.3-.8-.5-.6-.6-.6-.4-.6-.4-.2-.6 .2-1.2 .4-.7 .4-.6 .3-.6 .4-.6 .3-.6 .3-.6 .3-.6 .6-.5 .6-.4 1.3-.3 .6-.5 .6-.6 .6-.5 1.2-.1 1.2-.1 .6-.7 .6-.4 .6-.3 .7-.3 1.2 .1 .6 .4 .6 .2 .6-.3 .6-.3 .6-.3zM33.5 15.3l-1.3 .7 .7 .6 1-.6-.3-.6zM12.8 22l-.3 .8 .8 .6 .7-.2 .2-1-.8-.3zM16.4 14.2l-.9 .6 .3 .8 .6 .3 .6-.4-.6-1.3zM21.3 28.4l-1.2 .1-.6 .4 .3 .7 .8 .6 .7 .5 1.2-.3 0-.8-.6-.6-.6-.6zM21.9 13.7l-.4 .5 .2 .6 .3 .6 .4 .6 .7 .5 .6 .2 .6-.6-.5-1.3-.7-.4-.6-.3-.6-.4zM16.4 24l-.6 .2-.6 .4-.4 .7-.2 .8-.4 1-.3 .7 .3 1.2 .4 1 .6 .4 1-.2 .4-.6-.2-.8-.5-1 .2-1.3 .6-.6 .3-.5 .4-.7-.4-.6zM3.6 25.3l.7 .2-.6 .5zM34.4 30.2l.9-.4 .6 .3 .2 .7-.8 .3-.6-.5z"/><path fill="#93ff6b" fill-rule="evenodd" d="M18.1 8l.8-.1 .6 .2 .5 .5 .7 .4 .4-.4 .8-.5 .6-.2 1.2-.1 .6 .4 .3 1.1-.5 .6-.3 .6 .4 1.2 .7 .5 1.3-.2 .6 .2 .6 .5 .6 .3 .6 .3 .6 .3 .6 .2 .6 .5 .5 .5 .4 .6-.1 1.3 1 .3 .8 .3 .8 .6 .3 1.1 1.2 .1 .2 .6-.2 1.3 0 1.2 .3 1.2-.2 1.3-.1 .9 .3 .9-.6 .6-.9 .3-1.1 .4-.7 .6-.5 .6-.6 .6-.8 .4-1.2-.1-1.2-.1-1.2 .4-.6 .2-.6-.4-1.3 .1-.6-.3-.6-.6-.6-.7-.3-.7-.3-1.1-.6 .3-.6 .5-.6-.3-.4-.7-.8 .2-.4 .4-.7 .7-.8-.1-.3-.6 .3-.8 .6-.8 .7-.3 .9 .1 .7 .6 .8 0 .5-.6-.5-1.2-.6-.3-.6 .2-1.2-.3-.7-.4-.5-.5-.2-.6 .1-1-.1-.8-1.1 .1-.5 .5-.7 .3-1.2-.1-.6-.2 0-1-.3-.9-.9-.5-.6-.7-.7-.5-.6-.3-1.2-.4-.5-.7 .4-1.2 .7-.5 1.2-.5 .7-.8 .5-.7 .6-.6 .2-.6 .4-.6 .7-.5 1.2-.1 1.2 .1 .6-.5 .6-.9 .6-.3zM20.7 12.8l-.4 .8 .4 1 .5 .8 .3 .6 1 .7 .6 .3 .6 .3 .6-.3 .6-.9 .3-.7-.4-.6-.5-.5-.6-.5-.6-.2-.6-.4-.6-.4-1.2 0zM31.6 25.6l0 .9 .6 .2 .2-.8-.8-.3zM15.8 13.6l-.6 .2-.4 1 .4 .9 .6 .5 1.2 0 .5-.8-.3-1.2-.7-.6zM17 10.9l-.6 .8 .6 .6 .6-.3 .4-.9-1-.2zM27.9 8l.7-.1 .6 .7 .3 .7 .3 .5 .6 .5 .6 .4 .4 .4 .3 .6 .5 .6 .7 .3 1.2 .3 .6 .7-.6 .5-1.2-.1-.6-.4-.7-.5-.6-.1-1-.7-.4-.6-.7-.6-.9-.4-.6-.4-.2-1 .3-.7 .4-.6zM10.1 22.8l.9-.1 .6 .2 .4 .5 .5 .7 .9 .4 .6 .4 .1 1-.2 .6-.4 .6-.5 .7 .4 .8 .5 1 .3 .6 .4 .5 .6 .3 1.2 .1 .6-.2 1.3 .1 .6-.2 .6-.3 .8 .3 .4 .6-.6 1.1-1.2-.2-.6 .2-.7 .4-1.2-.2-1.2 .4-.6 .3-.6 .2-.9-.3 .2-1.2-.5-.5-.8 .5 0 1.2-.9 .6-.8-.5-.1-.7-.1-1.2-.4-1.2-.2-.7 .1-1.2-.2-1.3 .2-1.2 .2-1.2-.2-1.3 .5-.6zM23.7 30.8l.6-.4 .6 .3 .7 .8-.7 .5-.2 .7-.3 .6-.7 .5-1.2-.4-.2-.7 .2-.7 .6-.8 .6-.4zM29.9 32.7l.5-.4 .6 .2 .2 .8-.2 .6-.5 .6-.8-.6 .1-.7z"/><path fill="#f9ff05" fill-rule="evenodd" d="M17.6 8.6l.7-.3 1.1 .3 .3 .7 .4 .9 .8-.3 .4-.5 .5-.8 .7-.2 1.2 .2 .3 .7-.4 .6-.2 .6 .1 1.2-.2 .6-.8 .1-.6-.3-.6-.2-1.2 .4-.5 .7 .1 1.2 .4 1.1 .3 .7 .3 1.1 1.2-.2 .6 .2 .6 .4 .6 .4 1.1-.6 .8-.6 1.2-.5 .2-.8-.1-1.2-.7-.5-.3-.7 .9 .3 .9 .3 .9 .5 .6 .6 .6 .4 .6 .9-.4 .7-.5 .6-.1 1.2-.4 .6-.2 .6 .4 1.2 .6 .6 1 .1 .2-.6-.3-.6-.2-.7-.1-1.2 .5-.6 .7-.4 1.3 .2 .4 .8 .2 1.2 .6 .4 .6 .9 .3 .6 0 1.2 0 1.3-.3 .6 0 .8 .2 1-.8 .5-.6-.2-.3-.9-.2-.6-.8-.5-1.2 0-.8-.1-1-.2-.3 .8 .1 1.2-.3 1.3-.7 1.2-1.2 0-.6-.4-.6-.2-.7 .2-.6 .2-1-.4-.4-.6 0-1.3-.2-.6-.8-.6-.3-.6-.3-.6-.4-.7-.8-.6-1.2 .1-1.3-.7 .3-1.2-.3-1.1-.6-.2-1.2 .1-1.1-.7-.5-.6-.8-.2-1-.4-.5-.6-.9-.3-.7-.2-.6-.3-.6-.3-.2-.8 .8-.3 .6-.3 .7-.4 .6-.2 1.2 .1 1.2 .4 .3 .7 .5 .6 1 .7 1.2 0 .6-.3 .5-1-.4-1.2-.3-.6 .2-.8 .7-.3 .5-.8 .1-.9-.6-.5-1.3-.2 0-.8 .6-.7zM27.7 9.3l.9-.5 .6 .9 .6 .8-1.2 0-.6-.2-.3-1zM13.1 10.5l.9-.3 1.2 .3 .5 .6-.1 1.2-.4 .5-1.2-.4-.6-.2-.5-.5 .2-1.2zM29.8 11.1l.6-.3 .6 .8-1.2-.5zM10.9 23.4l.7 .6 .3 .7 .5 .6 .9 .6-.5 .6-.6 .5-.3 .8 .2 .6 .5 .6 .8 .6 .1 .6-.7 .5-1.2 0-1.2-.5-.1-.6-.1-1.2 .1-.9 .2-1-.1-1.2-.2-1.2 .7-.7zM31 27.8l.2 .6-.2-.6zM23.5 32.7l.2-.6-.2 .6z"/><path fill="#ff9e00" fill-rule="evenodd" d="M22 9.3l.5-.4 .6 .2-.4 1.4-.2 .9-.6-.3-.1-1.2 .2-.6zM13.3 11.1l.7-.6 .6 .4 .2 .8-.8 .1-.6-.4zM10.7 15.4l.9-.5 1.2 .3-.3 .8-.9 .2-1-.2zM27.9 16.7l.7 .5 .2 .7-.2 1-.4 .8 .3 1.3 .5 .6 .8 .6 .6 .2 1.2 .2 1-.4 .4-.6 .4-.6 .7 .2 .6 .9 0 1.1-.4 .9-.8 .6-.6-.4-.7-.2-1.2 .1-1.2-.6-.6-.5-1.2 .3-.6 .7-.3 1.2-.2 .6 1.1 .4 .1 .8-.7 .4-.6-.2-.6-.3-.9 .1-1 .6-.7-.6 .3-1.2-.6-.6-.8-.2-.4-.4-.4-.6-.2-.7 .4-.9 1.2-.3 .6-.5-.6-.5-.6-.4-.6-.8-.6-.7-.1-.8 .1-.7 .6-.4 .6 .2 .6 .8 .6 .5 .7 .2 .4 1.3 .8 .5 .6-.3 .2-.9-.7-.6-.8-.4 .1-.8 .6-.4 1.2-.4 .6-.2zM14.4 17.3l.8-.1 1.2 0 1.1 .1 .9 0 .5-.5 .2 1.1 .4 .9 .6 .7 .2 .9-.8 .5-.9-.5-.3-.7-.5-.6-.8 .1-1.2 .1-.6-.7-.3-.7-.5-.6zM31.1 18.5l.5-.4 1.1 .4-.2 1.2-.9 .6-.6-.5 0-1.1z"/><path fill="#ff3300" fill-rule="evenodd" d="M15.9 17.9l1 0-.5 .8-.5-.8zM26.9 17.9l.9 0 .3 .6-.7 .4-.6-.3 .1-.7zM23.1 22.8l.6-.2 1.2-.2 1 .4 .6 .6 .2 1.3-.2 .6-.5 .6-.4 .4-1.1-.4-.3-.6-.5-.4-.8-.2-.8-.6 .4-1.1zM33.6 22.8l.5-.5-.5 .5z"/><path fill="#b20000" fill-rule="evenodd" d="M23 23.4l.7-.1 1.2-.1 .8 .2 .5 .6-.4 1.3-.9 .2-.6-.8-.6-.4-.8-.2z"/></g>
<defs><linearGradient id="jetg" x1="0" x2="1" y1="0" y2="0"><stop offset="0" stop-color="#00007f"/><stop offset="0.062" stop-color="#0000bf"/><stop offset="0.125" stop-color="#0000ff"/><stop offset="0.188" stop-color="#003fff"/><stop offset="0.25" stop-color="#007fff"/><stop offset="0.312" stop-color="#00bfff"/><stop offset="0.375" stop-color="#00ffff"/><stop offset="0.438" stop-color="#3fffbf"/><stop offset="0.5" stop-color="#7fff7f"/><stop offset="0.562" stop-color="#bfff3f"/><stop offset="0.625" stop-color="#ffff00"/><stop offset="0.688" stop-color="#ffbf00"/><stop offset="0.75" stop-color="#ff7f00"/><stop offset="0.812" stop-color="#ff3f00"/><stop offset="0.875" stop-color="#ff0000"/><stop offset="0.938" stop-color="#bf0000"/><stop offset="1" stop-color="#7f0000"/></linearGradient></defs>
<rect x="27" y="157" width="131" height="4.3" fill="url(#jetg)"/>
<text x="27.2" y="169.7" font-size="8.2" text-anchor="start" fill="#000">0</text>
<text x="96.6" y="169.7" font-size="8.25" text-anchor="middle" fill="#000">Normalized OPD value (a.u.)</text>
<text x="156.8" y="169.7" font-size="8.2" text-anchor="start" fill="#000">1</text>
<rect x="214" y="155.9" width="23" height="1.9" fill="#000"/>
<text x="224.8" y="169.7" font-size="9" text-anchor="middle" fill="#000">10 μm</text>
</g>
<g id="pb">
<text x="250.6" y="6.7" font-size="9.5" text-anchor="start" fill="#000">b</text>
<rect x="334" y="23.6" width="127.4" height="83.6" fill="none" stroke="#000" stroke-width="0.8"/>
<text x="399.7" y="20.5" font-size="8.1" text-anchor="middle" fill="#000">Volume</text>
<path d="M334 107.2v3M337.19 107.2v1.5M340.37 107.2v1.5M343.56 107.2v1.5M346.74 107.2v1.5M349.93 107.2v1.5M353.11 107.2v1.5M356.3 107.2v1.5M359.48 107.2v1.5M362.67 107.2v1.5M365.85 107.2v3M369.03 107.2v1.5M372.22 107.2v1.5M375.4 107.2v1.5M378.59 107.2v1.5M381.77 107.2v1.5M384.96 107.2v1.5M388.14 107.2v1.5M391.33 107.2v1.5M394.51 107.2v1.5M397.7 107.2v3M400.88 107.2v1.5M404.07 107.2v1.5M407.25 107.2v1.5M410.44 107.2v1.5M413.62 107.2v1.5M416.81 107.2v1.5M420 107.2v1.5M423.18 107.2v1.5M426.37 107.2v1.5M429.55 107.2v3M432.74 107.2v1.5M435.92 107.2v1.5M439.11 107.2v1.5M442.29 107.2v1.5M445.47 107.2v1.5M448.66 107.2v1.5M451.84 107.2v1.5M455.03 107.2v1.5M458.21 107.2v1.5M461.4 107.2v3" stroke="#000" stroke-width="0.7" fill="none"/>
<text x="334" y="120.2" font-size="8.1" text-anchor="middle" fill="#000">0.0</text>
<text x="365.9" y="120.2" font-size="8.1" text-anchor="middle" fill="#000">0.5</text>
<text x="397.7" y="120.2" font-size="8.1" text-anchor="middle" fill="#000">1.0</text>
<text x="429.5" y="120.2" font-size="8.1" text-anchor="middle" fill="#000">1.5</text>
<text x="461.4" y="120.2" font-size="8.1" text-anchor="middle" fill="#000">2.0</text>
<text x="398" y="128.9" font-size="8.2" text-anchor="middle" fill="#000">Normalized feature value (a.u.)</text>
<line x1="331.8" y1="40.8" x2="334" y2="40.8" stroke="#000" stroke-width="0.7"/>
<text x="331.2" y="44.2" font-size="8" text-anchor="end" fill="#000">MDA-MB-231</text>
<path d="M334 32.2 334.9 32.6 335.8 33.4 336.8 34.3 337.7 34.9 338.6 35.3 339.5 35.7 340.5 35.8 341.4 35.8 342.3 35.7 343.2 35.7 344.2 35.6 345.1 35.6 346 35.5 346.9 35.5 347.8 35.5 348.8 35.6 349.7 35.7 350.6 35.8 351.5 35.9 352.5 35.9 353.4 35.8 354.3 35.7 355.2 35.6 356.2 35.5 357.1 35.5 358 35.5 358.9 35.6 359.8 35.7 360.8 35.8 361.7 36 362.6 36.1 363.5 36.2 364.5 36.4 365.4 36.7 366.3 36.9 367.2 37.1 368.2 37.3 369.1 37.5 370 37.7 370.9 37.8 371.9 38 372.8 38.1 373.7 38.3 374.6 38.4 375.5 38.5 376.5 38.6 377.4 38.8 378.3 38.9 379.2 39 380.2 39.1 381.1 39.2 382 39.3 382.9 39.4 383.9 39.5 384.8 39.6 385.7 39.7 386.6 39.8 387.5 39.8 388.5 39.9 389.4 40 390.3 40.1 391.2 40.2 392.2 40.3 393.1 40.4 394 40.5 394.9 40.5 395.9 40.6 396.8 40.7 397.7 40.8 397.7 40.8 396.8 40.9 395.9 41 394.9 41.1 394 41.1 393.1 41.2 392.2 41.3 391.2 41.4 390.3 41.5 389.4 41.6 388.5 41.7 387.5 41.8 386.6 41.8 385.7 41.9 384.8 42 383.9 42.1 382.9 42.2 382 42.3 381.1 42.4 380.2 42.5 379.2 42.6 378.3 42.7 377.4 42.8 376.5 43 375.5 43.1 374.6 43.2 373.7 43.3 372.8 43.5 371.9 43.6 370.9 43.8 370 43.9 369.1 44.1 368.2 44.3 367.2 44.5 366.3 44.7 365.4 44.9 364.5 45.2 363.5 45.4 362.6 45.5 361.7 45.6 360.8 45.8 359.8 45.9 358.9 46 358 46.1 357.1 46.1 356.2 46.1 355.2 46 354.3 45.9 353.4 45.8 352.5 45.7 351.5 45.7 350.6 45.8 349.7 45.9 348.8 46 347.8 46.1 346.9 46.1 346 46.1 345.1 46 344.2 46 343.2 45.9 342.3 45.9 341.4 45.8 340.5 45.8 339.5 45.9 338.6 46.3 337.7 46.7 336.8 47.3 335.8 48.2 334.9 49 334 49.4Z" fill="#a3d0d1" stroke="#2a8489" stroke-width="0.8" stroke-linejoin="round"/><line x1="340.37" y1="35.8" x2="340.37" y2="45.8" stroke="#2a8489" stroke-width="0.45"/><line x1="348.01" y1="35.56" x2="348.01" y2="46.04" stroke="#2a8489" stroke-width="0.45"/><line x1="360.75" y1="35.82" x2="360.75" y2="45.78" stroke="#2a8489" stroke-width="0.45"/>
<line x1="331.8" y1="66.5" x2="334" y2="66.5" stroke="#000" stroke-width="0.7"/>
<text x="331.2" y="69.9" font-size="8" text-anchor="end" fill="#000">PBMC</text>
<path d="M334 57.9 335 62.1 335.9 64.1 336.9 64.9 337.8 65.3 338.8 65.5 339.7 65.7 340.7 65.8 341.6 65.8 342.6 65.8 343.6 65.7 344.5 65.7 345.5 65.6 346.4 65.6 347.4 65.6 348.3 65.6 349.3 65.6 350.2 65.6 351.2 65.7 352.2 65.7 353.1 65.7 354.1 65.7 355 65.8 356 65.9 356.9 65.9 357.9 66 358.8 66.1 359.8 66.2 360.8 66.3 361.7 66.3 362.7 66.4 363.6 66.5 363.6 66.5 362.7 66.6 361.7 66.7 360.8 66.7 359.8 66.8 358.8 66.9 357.9 67 356.9 67.1 356 67.1 355 67.2 354.1 67.3 353.1 67.3 352.2 67.3 351.2 67.3 350.2 67.4 349.3 67.4 348.3 67.4 347.4 67.4 346.4 67.4 345.5 67.4 344.5 67.3 343.6 67.3 342.6 67.2 341.6 67.2 340.7 67.2 339.7 67.3 338.8 67.5 337.8 67.7 336.9 68.1 335.9 68.9 335 70.9 334 75.1Z" fill="#9bdcfb" stroke="#2b63e3" stroke-width="0.8" stroke-linejoin="round"/><line x1="335.27" y1="62.95" x2="335.27" y2="70.05" stroke="#2b63e3" stroke-width="0.45"/>
<line x1="331.8" y1="91.6" x2="334" y2="91.6" stroke="#000" stroke-width="0.7"/>
<text x="331.2" y="95" font-size="8" text-anchor="end" fill="#000">RBC</text>
<path d="M334 83 334.7 86.5 335.5 88.6 336.2 89.4 336.9 89.7 337.7 89.9 338.4 90.1 339.1 90.2 339.9 90.3 340.6 90.4 341.3 90.5 342.1 90.5 342.8 90.6 343.5 90.7 344.3 90.8 345 90.8 345.7 90.9 346.5 91 347.2 91.1 347.9 91.2 348.7 91.3 349.4 91.4 350.1 91.5 350.9 91.6 350.9 91.6 350.1 91.7 349.4 91.8 348.7 91.9 347.9 92 347.2 92.1 346.5 92.2 345.7 92.3 345 92.4 344.3 92.4 343.5 92.5 342.8 92.6 342.1 92.7 341.3 92.7 340.6 92.8 339.9 92.9 339.1 93 338.4 93.1 337.7 93.3 336.9 93.5 336.2 93.8 335.5 94.6 334.7 96.7 334 100.2Z" fill="#c5b4dc" stroke="#4a2a7c" stroke-width="0.8" stroke-linejoin="round"/><line x1="335.91" y1="89.2" x2="335.91" y2="94" stroke="#4a2a7c" stroke-width="0.45"/>
<text x="281.5" y="65.4" font-size="8.1" text-anchor="middle" fill="#000" transform="rotate(-90 281.5 65.4)">Cell type</text>
<path d="M401.3 40.8H404.1V65.6H401.3" fill="none" stroke="#000" stroke-width="0.75"/>
<path d="M401.3 67.4H404.1V91.6H401.3" fill="none" stroke="#000" stroke-width="0.75"/>
<path d="M414.2 40.8H417V91.6H414.2" fill="none" stroke="#000" stroke-width="0.75"/>
<text transform="translate(408.4 53.2) rotate(90)" font-size="6.25" text-anchor="middle" style="stroke-width:0.12px"><tspan font-style="italic">P</tspan>&lt;0.001</text>
<text transform="translate(408.4 79.6) rotate(90)" font-size="6.25" text-anchor="middle" style="stroke-width:0.12px"><tspan font-style="italic">P</tspan>&lt;0.001</text>
<text transform="translate(419.6 66.2) rotate(90)" font-size="6.25" text-anchor="middle" style="stroke-width:0.12px"><tspan font-style="italic">P</tspan>&lt;0.001</text>
<rect x="524.3" y="24" width="126.2" height="84.1" fill="none" stroke="#000" stroke-width="0.8"/>
<text x="590.4" y="20.1" font-size="8.1" text-anchor="middle" fill="#000">Dry Mass Density</text>
<path d="M524.3 108.1v3M527.45 108.1v1.5M530.61 108.1v1.5M533.76 108.1v1.5M536.92 108.1v1.5M540.07 108.1v1.5M543.23 108.1v1.5M546.38 108.1v1.5M549.54 108.1v1.5M552.69 108.1v1.5M555.85 108.1v3M559 108.1v1.5M562.16 108.1v1.5M565.31 108.1v1.5M568.47 108.1v1.5M571.62 108.1v1.5M574.78 108.1v1.5M577.93 108.1v1.5M581.09 108.1v1.5M584.25 108.1v1.5M587.4 108.1v3M590.55 108.1v1.5M593.71 108.1v1.5M596.87 108.1v1.5M600.02 108.1v1.5M603.17 108.1v1.5M606.33 108.1v1.5M609.49 108.1v1.5M612.64 108.1v1.5M615.79 108.1v1.5M618.95 108.1v3M622.11 108.1v1.5M625.26 108.1v1.5M628.41 108.1v1.5M631.57 108.1v1.5M634.73 108.1v1.5M637.88 108.1v1.5M641.03 108.1v1.5M644.19 108.1v1.5M647.35 108.1v1.5M650.5 108.1v3" stroke="#000" stroke-width="0.7" fill="none"/>
<text x="524.3" y="119.9" font-size="8.1" text-anchor="middle" fill="#000">0.0</text>
<text x="555.8" y="119.9" font-size="8.1" text-anchor="middle" fill="#000">0.5</text>
<text x="587.4" y="119.9" font-size="8.1" text-anchor="middle" fill="#000">1.0</text>
<text x="619" y="119.9" font-size="8.1" text-anchor="middle" fill="#000">1.5</text>
<text x="650.5" y="119.9" font-size="8.1" text-anchor="middle" fill="#000">2.0</text>
<text x="586" y="129.3" font-size="8.2" text-anchor="middle" fill="#000">Normalized feature value (a.u.)</text>
<line x1="522.1" y1="41.4" x2="524.3" y2="41.4" stroke="#000" stroke-width="0.7"/>
<text x="521.5" y="44.8" font-size="8" text-anchor="end" fill="#000">MDA-MB-231</text>
<path d="M528.4 41.4 529.3 40.9 530.3 40.1 531.2 39 532.2 37.6 533.1 36.2 534.1 35.1 535 34.1 536 33.6 536.9 33.3 537.9 33.2 538.8 33.4 539.8 33.8 540.7 34.5 541.7 35.4 542.6 36.4 543.5 37.2 544.5 38 545.4 38.6 546.4 39.1 547.3 39.6 548.3 39.9 549.2 40.2 550.2 40.4 551.1 40.6 552.1 40.8 553 41 554 41.1 554.9 41.2 555.8 41.3 556.8 41.4 556.8 41.4 555.8 41.5 554.9 41.6 554 41.7 553 41.8 552.1 42 551.1 42.2 550.2 42.4 549.2 42.6 548.3 42.9 547.3 43.2 546.4 43.7 545.4 44.2 544.5 44.8 543.5 45.6 542.6 46.4 541.7 47.4 540.7 48.3 539.8 49 538.8 49.4 537.9 49.6 536.9 49.5 536 49.2 535 48.7 534.1 47.7 533.1 46.6 532.2 45.2 531.2 43.8 530.3 42.7 529.3 41.9 528.4 41.4Z" fill="#a3d0d1" stroke="#2a8489" stroke-width="0.8" stroke-linejoin="round"/><line x1="535.03" y1="34.08" x2="535.03" y2="48.72" stroke="#2a8489" stroke-width="0.45"/><line x1="537.87" y1="33.2" x2="537.87" y2="49.6" stroke="#2a8489" stroke-width="0.45"/><line x1="541.34" y1="35.09" x2="541.34" y2="47.71" stroke="#2a8489" stroke-width="0.45"/>
<line x1="522.1" y1="66.5" x2="524.3" y2="66.5" stroke="#000" stroke-width="0.7"/>
<text x="521.5" y="69.9" font-size="8" text-anchor="end" fill="#000">PBMC</text>
<path d="M526.2 66.5 527.1 66.4 528.1 66.2 529 65.9 530 65.5 530.9 65.2 531.9 64.6 532.8 64 533.8 63.3 534.7 62.5 535.7 61.5 536.6 60.6 537.6 59.8 538.5 59 539.4 58.5 540.4 58.1 541.3 58.3 542.3 59 543.2 59.8 544.2 60.8 545.1 61.7 546.1 62.4 547 63.1 548 63.7 548.9 64.2 549.9 64.6 550.8 64.9 551.7 65.1 552.7 65.4 553.6 65.6 554.6 65.7 555.5 65.9 556.5 66 557.4 66.1 558.4 66.2 559.3 66.3 560.3 66.4 561.2 66.5 562.2 66.5 562.2 66.5 561.2 66.5 560.3 66.6 559.3 66.7 558.4 66.8 557.4 66.9 556.5 67 555.5 67.1 554.6 67.3 553.6 67.4 552.7 67.6 551.7 67.9 550.8 68.1 549.9 68.4 548.9 68.8 548 69.3 547 69.9 546.1 70.6 545.1 71.3 544.2 72.2 543.2 73.2 542.3 74 541.3 74.7 540.4 74.9 539.4 74.5 538.5 74 537.6 73.2 536.6 72.4 535.7 71.5 534.7 70.5 533.8 69.7 532.8 69 531.9 68.4 530.9 67.8 530 67.5 529 67.1 528.1 66.8 527.1 66.6 526.2 66.5Z" fill="#9bdcfb" stroke="#2b63e3" stroke-width="0.8" stroke-linejoin="round"/><line x1="536.92" y1="60.3" x2="536.92" y2="72.7" stroke="#2b63e3" stroke-width="0.45"/><line x1="540.39" y1="58.14" x2="540.39" y2="74.86" stroke="#2b63e3" stroke-width="0.45"/><line x1="543.86" y1="60.48" x2="543.86" y2="72.52" stroke="#2b63e3" stroke-width="0.45"/>
<line x1="522.1" y1="91.6" x2="524.3" y2="91.6" stroke="#000" stroke-width="0.7"/>
<text x="521.5" y="95" font-size="8" text-anchor="end" fill="#000">RBC</text>
<path d="M525.6 91.6 526.5 91.4 527.4 91.1 528.3 90.8 529.2 90.5 530.1 90 531.1 89.5 532 88.8 532.9 88.2 533.8 87.5 534.7 86.6 535.6 85.8 536.5 85 537.5 84.5 538.4 83.9 539.3 83.5 540.2 83.4 541.1 83.6 542 84.1 543 84.6 543.9 85 544.8 85.6 545.7 86.2 546.6 86.8 547.5 87.2 548.4 87.6 549.4 87.9 550.3 88.2 551.2 88.5 552.1 88.8 553 89.1 553.9 89.3 554.9 89.5 555.8 89.7 556.7 89.8 557.6 90 558.5 90.1 559.4 90.2 560.3 90.3 561.3 90.4 562.2 90.5 563.1 90.6 564 90.7 564.9 90.7 565.8 90.8 566.8 90.8 567.7 90.9 568.6 91 569.5 91 570.4 91.1 571.3 91.1 572.2 91.1 573.2 91.2 574.1 91.2 575 91.2 575.9 91.2 576.8 91.2 577.7 91.3 578.7 91.3 579.6 91.3 580.5 91.3 581.4 91.4 582.3 91.4 583.2 91.4 584.1 91.4 585.1 91.5 586 91.5 586.9 91.5 587.8 91.5 588.7 91.6 589.6 91.6 590.6 91.6 590.6 91.6 589.6 91.6 588.7 91.6 587.8 91.7 586.9 91.7 586 91.7 585.1 91.7 584.1 91.8 583.2 91.8 582.3 91.8 581.4 91.8 580.5 91.9 579.6 91.9 578.7 91.9 577.7 91.9 576.8 92 575.9 92 575 92 574.1 92 573.2 92 572.2 92.1 571.3 92.1 570.4 92.1 569.5 92.2 568.6 92.2 567.7 92.3 566.8 92.4 565.8 92.4 564.9 92.5 564 92.5 563.1 92.6 562.2 92.7 561.3 92.8 560.3 92.9 559.4 93 558.5 93.1 557.6 93.2 556.7 93.4 555.8 93.5 554.9 93.7 553.9 93.9 553 94.1 552.1 94.4 551.2 94.7 550.3 95 549.4 95.3 548.4 95.6 547.5 96 546.6 96.4 545.7 97 544.8 97.6 543.9 98.2 543 98.6 542 99.1 541.1 99.6 540.2 99.8 539.3 99.7 538.4 99.3 537.5 98.7 536.5 98.2 535.6 97.4 534.7 96.6 533.8 95.7 532.9 95 532 94.4 531.1 93.7 530.1 93.2 529.2 92.7 528.3 92.4 527.4 92.1 526.5 91.8 525.6 91.6Z" fill="#c5b4dc" stroke="#4a2a7c" stroke-width="0.8" stroke-linejoin="round"/><line x1="536.29" y1="85.23" x2="536.29" y2="97.97" stroke="#4a2a7c" stroke-width="0.45"/><line x1="540.71" y1="83.49" x2="540.71" y2="99.71" stroke="#4a2a7c" stroke-width="0.45"/><line x1="547.02" y1="87" x2="547.02" y2="96.2" stroke="#4a2a7c" stroke-width="0.45"/>
<text x="474.3" y="66" font-size="8.1" text-anchor="middle" fill="#000" transform="rotate(-90 474.3 66)">Cell type</text>
<path d="M594.6 41.4H597.6V65.6H594.6" fill="none" stroke="#000" stroke-width="0.75"/>
<path d="M594.6 67.4H597.6V91.6H594.6" fill="none" stroke="#000" stroke-width="0.75"/>
<path d="M609.5 41.4H612.4V91.6H609.5" fill="none" stroke="#000" stroke-width="0.75"/>
<text transform="translate(601.9 53.6) rotate(90)" font-size="6.25" text-anchor="middle" style="stroke-width:0.12px"><tspan font-style="italic">P</tspan>&lt;0.001</text>
<text transform="translate(601.9 79.6) rotate(90)" font-size="6.25" text-anchor="middle" style="stroke-width:0.12px"><tspan font-style="italic">P</tspan>&lt;0.001</text>
<text transform="translate(615 66.5) rotate(90)" font-size="6.25" text-anchor="middle" style="stroke-width:0.12px"><tspan font-style="italic">P</tspan>&lt;0.001</text>
<rect x="333.5" y="152.3" width="126.7" height="83.8" fill="none" stroke="#000" stroke-width="0.8"/>
<text x="398.9" y="148.5" font-size="8.1" text-anchor="middle" fill="#000">Kurtosis</text>
<path d="M333.5 236.1v3M336.67 236.1v1.5M339.83 236.1v1.5M343 236.1v1.5M346.17 236.1v1.5M349.34 236.1v1.5M352.5 236.1v1.5M355.67 236.1v1.5M358.84 236.1v1.5M362.01 236.1v1.5M365.18 236.1v3M368.34 236.1v1.5M371.51 236.1v1.5M374.68 236.1v1.5M377.85 236.1v1.5M381.01 236.1v1.5M384.18 236.1v1.5M387.35 236.1v1.5M390.51 236.1v1.5M393.68 236.1v1.5M396.85 236.1v3M400.02 236.1v1.5M403.19 236.1v1.5M406.35 236.1v1.5M409.52 236.1v1.5M412.69 236.1v1.5M415.86 236.1v1.5M419.02 236.1v1.5M422.19 236.1v1.5M425.36 236.1v1.5M428.52 236.1v3M431.69 236.1v1.5M434.86 236.1v1.5M438.03 236.1v1.5M441.19 236.1v1.5M444.36 236.1v1.5M447.53 236.1v1.5M450.7 236.1v1.5M453.87 236.1v1.5M457.03 236.1v1.5M460.2 236.1v3" stroke="#000" stroke-width="0.7" fill="none"/>
<text x="333.5" y="247.8" font-size="8.1" text-anchor="middle" fill="#000">0.0</text>
<text x="365.2" y="247.8" font-size="8.1" text-anchor="middle" fill="#000">0.5</text>
<text x="396.9" y="247.8" font-size="8.1" text-anchor="middle" fill="#000">1.0</text>
<text x="428.5" y="247.8" font-size="8.1" text-anchor="middle" fill="#000">1.5</text>
<text x="460.2" y="247.8" font-size="8.1" text-anchor="middle" fill="#000">2.0</text>
<text x="397.2" y="256.6" font-size="8.2" text-anchor="middle" fill="#000">Normalized feature value (a.u.)</text>
<line x1="331.3" y1="169.6" x2="333.5" y2="169.6" stroke="#000" stroke-width="0.7"/>
<text x="330.7" y="173" font-size="8" text-anchor="end" fill="#000">MDA-MB-231</text>
<path d="M334.3 169.6 335.2 164.8 336.1 161.9 337 160.9 337.9 161.9 338.8 164 339.7 166.5 340.6 167.8 341.5 168.4 342.4 168.8 343.3 168.9 344.2 169 345.1 169.1 346 169.2 346.9 169.2 347.8 169.3 348.7 169.3 349.6 169.4 350.5 169.4 351.4 169.5 352.3 169.5 353.2 169.5 354.1 169.6 355 169.6 355 169.6 354.1 169.6 353.2 169.7 352.3 169.7 351.4 169.7 350.5 169.8 349.6 169.8 348.7 169.9 347.8 169.9 346.9 170 346 170 345.1 170.1 344.2 170.2 343.3 170.3 342.4 170.4 341.5 170.8 340.6 171.4 339.7 172.7 338.8 175.2 337.9 177.3 337 178.3 336.1 177.3 335.2 174.4 334.3 169.6Z" fill="#a3d0d1" stroke="#2a8489" stroke-width="0.8" stroke-linejoin="round"/><line x1="336.03" y1="162" x2="336.03" y2="177.2" stroke="#2a8489" stroke-width="0.45"/><line x1="337.11" y1="160.93" x2="337.11" y2="178.27" stroke="#2a8489" stroke-width="0.45"/><line x1="338.57" y1="163.37" x2="338.57" y2="175.83" stroke="#2a8489" stroke-width="0.45"/>
<line x1="331.3" y1="194.8" x2="333.5" y2="194.8" stroke="#000" stroke-width="0.7"/>
<text x="330.7" y="198.2" font-size="8" text-anchor="end" fill="#000">PBMC</text>
<path d="M333.5 192.8 334.4 189.3 335.4 186.8 336.3 186.4 337.3 188.7 338.2 191.2 339.1 192.6 340.1 193.4 341 193.8 341.9 194 342.9 194.2 343.8 194.2 344.8 194.3 345.7 194.4 346.6 194.4 347.6 194.5 348.5 194.5 349.4 194.5 350.4 194.6 351.3 194.6 352.3 194.7 353.2 194.7 354.1 194.7 355.1 194.8 356 194.8 356.9 194.8 356.9 194.8 356 194.8 355.1 194.8 354.1 194.9 353.2 194.9 352.3 194.9 351.3 195 350.4 195 349.4 195.1 348.5 195.1 347.6 195.1 346.6 195.2 345.7 195.2 344.8 195.3 343.8 195.4 342.9 195.4 341.9 195.6 341 195.8 340.1 196.2 339.1 197 338.2 198.4 337.3 200.9 336.3 203.2 335.4 202.8 334.4 200.3 333.5 196.8Z" fill="#9bdcfb" stroke="#2b63e3" stroke-width="0.8" stroke-linejoin="round"/><line x1="335.08" y1="187.42" x2="335.08" y2="202.18" stroke="#2b63e3" stroke-width="0.45"/><line x1="336.03" y1="186.2" x2="336.03" y2="203.4" stroke="#2b63e3" stroke-width="0.45"/><line x1="337.3" y1="188.8" x2="337.3" y2="200.8" stroke="#2b63e3" stroke-width="0.45"/>
<line x1="331.3" y1="219.3" x2="333.5" y2="219.3" stroke="#000" stroke-width="0.7"/>
<text x="330.7" y="222.7" font-size="8" text-anchor="end" fill="#000">RBC</text>
<path d="M333.5 218.3 334.4 216.1 335.3 213.7 336.3 211.6 337.2 210.7 338.1 210.8 339 211.7 340 212.7 340.9 213.6 341.8 214.4 342.7 215.1 343.7 215.7 344.6 216.3 345.5 216.8 346.4 217.2 347.4 217.5 348.3 217.7 349.2 218 350.1 218.1 351.1 218.3 352 218.4 352.9 218.5 353.8 218.6 354.7 218.7 355.7 218.7 356.6 218.8 357.5 218.8 358.4 218.9 359.4 218.9 360.3 218.9 361.2 219 362.1 219 363.1 219 364 219 364.9 219 365.8 219.1 366.8 219.1 367.7 219.1 368.6 219.1 369.5 219.1 370.5 219.1 371.4 219.2 372.3 219.2 373.2 219.2 374.1 219.2 375.1 219.2 376 219.3 376.9 219.3 377.8 219.3 377.8 219.3 376.9 219.3 376 219.3 375.1 219.4 374.1 219.4 373.2 219.4 372.3 219.4 371.4 219.4 370.5 219.5 369.5 219.5 368.6 219.5 367.7 219.5 366.8 219.5 365.8 219.5 364.9 219.6 364 219.6 363.1 219.6 362.1 219.6 361.2 219.6 360.3 219.7 359.4 219.7 358.4 219.7 357.5 219.8 356.6 219.8 355.7 219.9 354.7 219.9 353.8 220 352.9 220.1 352 220.2 351.1 220.3 350.1 220.5 349.2 220.6 348.3 220.9 347.4 221.1 346.4 221.4 345.5 221.8 344.6 222.3 343.7 222.9 342.7 223.5 341.8 224.2 340.9 225 340 225.9 339 226.9 338.1 227.8 337.2 227.9 336.3 227 335.3 224.9 334.4 222.5 333.5 220.3Z" fill="#c5b4dc" stroke="#4a2a7c" stroke-width="0.8" stroke-linejoin="round"/><line x1="336.35" y1="211.5" x2="336.35" y2="227.1" stroke="#4a2a7c" stroke-width="0.45"/><line x1="338.25" y1="210.92" x2="338.25" y2="227.68" stroke="#4a2a7c" stroke-width="0.45"/><line x1="341.1" y1="213.8" x2="341.1" y2="224.8" stroke="#4a2a7c" stroke-width="0.45"/>
<text x="281.5" y="194.2" font-size="8.1" text-anchor="middle" fill="#000" transform="rotate(-90 281.5 194.2)">Cell type</text>
<path d="M401.8 169.6H404.6V193.9H401.8" fill="none" stroke="#000" stroke-width="0.75"/>
<path d="M401.8 195.7H404.6V219.3H401.8" fill="none" stroke="#000" stroke-width="0.75"/>
<path d="M414.6 169.6H417.7V219.3H414.6" fill="none" stroke="#000" stroke-width="0.75"/>
<text transform="translate(408.9 181.8) rotate(90)" font-size="6.25" text-anchor="middle" style="stroke-width:0.12px"><tspan font-style="italic">P</tspan>&lt;0.001</text>
<text transform="translate(408.9 207.7) rotate(90)" font-size="6.25" text-anchor="middle" style="stroke-width:0.12px"><tspan font-style="italic">P</tspan>&lt;0.001</text>
<text transform="translate(420.3 194.4) rotate(90)" font-size="6.25" text-anchor="middle" style="stroke-width:0.12px"><tspan font-style="italic">P</tspan>&lt;0.001</text>
<rect x="525.7" y="151.8" width="125.7" height="83.6" fill="none" stroke="#000" stroke-width="0.8"/>
<text x="590.5" y="148.4" font-size="8.1" text-anchor="middle" fill="#000">GLCM Entropy</text>
<path d="M525.7 235.4v3M528.84 235.4v1.5M531.99 235.4v1.5M535.13 235.4v1.5M538.27 235.4v1.5M541.41 235.4v1.5M544.56 235.4v1.5M547.7 235.4v1.5M550.84 235.4v1.5M553.98 235.4v1.5M557.12 235.4v3M560.27 235.4v1.5M563.41 235.4v1.5M566.55 235.4v1.5M569.7 235.4v1.5M572.84 235.4v1.5M575.98 235.4v1.5M579.12 235.4v1.5M582.26 235.4v1.5M585.41 235.4v1.5M588.55 235.4v3M591.69 235.4v1.5M594.84 235.4v1.5M597.98 235.4v1.5M601.12 235.4v1.5M604.26 235.4v1.5M607.4 235.4v1.5M610.55 235.4v1.5M613.69 235.4v1.5M616.83 235.4v1.5M619.98 235.4v3M623.12 235.4v1.5M626.26 235.4v1.5M629.4 235.4v1.5M632.54 235.4v1.5M635.69 235.4v1.5M638.83 235.4v1.5M641.97 235.4v1.5M645.12 235.4v1.5M648.26 235.4v1.5M651.4 235.4v3" stroke="#000" stroke-width="0.7" fill="none"/>
<text x="525.7" y="246.9" font-size="8.1" text-anchor="middle" fill="#000">0.0</text>
<text x="557.1" y="246.9" font-size="8.1" text-anchor="middle" fill="#000">0.5</text>
<text x="588.5" y="246.9" font-size="8.1" text-anchor="middle" fill="#000">1.0</text>
<text x="620" y="246.9" font-size="8.1" text-anchor="middle" fill="#000">1.5</text>
<text x="651.4" y="246.9" font-size="8.1" text-anchor="middle" fill="#000">2.0</text>
<text x="586.3" y="257" font-size="8.2" text-anchor="middle" fill="#000">Normalized feature value (a.u.)</text>
<line x1="523.5" y1="168.8" x2="525.7" y2="168.8" stroke="#000" stroke-width="0.7"/>
<text x="522.9" y="172.2" font-size="8" text-anchor="end" fill="#000">MDA-MB-231</text>
<path d="M552.7 168.8 553.7 168.8 554.6 168.7 555.5 168.6 556.5 168.5 557.4 168.4 558.3 168.2 559.2 167.9 560.2 167.6 561.1 167.2 562 166.6 563 165.9 563.9 165.1 564.8 164.3 565.8 163.3 566.7 162.4 567.6 161.6 568.6 160.9 569.5 160.3 570.4 160.2 571.4 160.6 572.3 161.1 573.2 162.1 574.2 163.5 575.1 164.8 576 166.1 577 167.1 577.9 167.8 578.8 168.4 579.8 168.8 579.8 168.8 578.8 169.2 577.9 169.8 577 170.5 576 171.5 575.1 172.8 574.2 174.1 573.2 175.5 572.3 176.5 571.4 177 570.4 177.4 569.5 177.3 568.6 176.7 567.6 176 566.7 175.2 565.8 174.3 564.8 173.3 563.9 172.5 563 171.7 562 171 561.1 170.4 560.2 170 559.2 169.7 558.3 169.4 557.4 169.2 556.5 169.1 555.5 169 554.6 168.9 553.7 168.8 552.7 168.8Z" fill="#a3d0d1" stroke="#2a8489" stroke-width="0.8" stroke-linejoin="round"/><line x1="566.87" y1="162.25" x2="566.87" y2="175.35" stroke="#2a8489" stroke-width="0.45"/><line x1="570.01" y1="160.2" x2="570.01" y2="177.4" stroke="#2a8489" stroke-width="0.45"/><line x1="572.52" y1="161.23" x2="572.52" y2="176.37" stroke="#2a8489" stroke-width="0.45"/>
<line x1="523.5" y1="193.1" x2="525.7" y2="193.1" stroke="#000" stroke-width="0.7"/>
<text x="522.9" y="196.5" font-size="8" text-anchor="end" fill="#000">PBMC</text>
<path d="M554.9 193.1 555.9 193.1 556.8 193.1 557.7 193 558.7 193 559.6 192.9 560.5 192.9 561.5 192.8 562.4 192.7 563.3 192.6 564.3 192.5 565.2 192.2 566.1 192 567.1 191.7 568 191.4 568.9 190.9 569.9 190.3 570.8 189.6 571.7 188.9 572.7 188 573.6 187.1 574.5 186.4 575.5 185.7 576.4 185 577.4 184.6 578.3 184.7 579.2 185.2 580.2 185.8 581.1 186.9 582 188.4 583 189.6 583.9 190.6 584.8 191.4 585.8 191.9 586.7 192.3 587.6 192.6 588.6 192.9 589.5 193 590.4 193.1 590.4 193.1 589.5 193.2 588.6 193.3 587.6 193.6 586.7 193.9 585.8 194.3 584.8 194.8 583.9 195.6 583 196.6 582 197.8 581.1 199.3 580.2 200.4 579.2 201 578.3 201.5 577.4 201.6 576.4 201.2 575.5 200.5 574.5 199.8 573.6 199.1 572.7 198.2 571.7 197.3 570.8 196.6 569.9 195.9 568.9 195.3 568 194.8 567.1 194.5 566.1 194.2 565.2 194 564.3 193.7 563.3 193.6 562.4 193.5 561.5 193.4 560.5 193.3 559.6 193.3 558.7 193.2 557.7 193.2 556.8 193.1 555.9 193.1 554.9 193.1Z" fill="#9bdcfb" stroke="#2b63e3" stroke-width="0.8" stroke-linejoin="round"/><line x1="574.09" y1="186.74" x2="574.09" y2="199.46" stroke="#2b63e3" stroke-width="0.45"/><line x1="577.55" y1="184.6" x2="577.55" y2="201.6" stroke="#2b63e3" stroke-width="0.45"/><line x1="580.38" y1="185.97" x2="580.38" y2="200.23" stroke="#2b63e3" stroke-width="0.45"/>
<line x1="523.5" y1="218.8" x2="525.7" y2="218.8" stroke="#000" stroke-width="0.7"/>
<text x="522.9" y="222.2" font-size="8" text-anchor="end" fill="#000">RBC</text>
<path d="M546.8 218.8 547.7 218.7 548.6 218.7 549.6 218.6 550.5 218.4 551.4 218.3 552.4 218.2 553.3 218 554.2 217.8 555.2 217.6 556.1 217.3 557 217 558 216.7 558.9 216.2 559.9 215.6 560.8 215.1 561.7 214.5 562.7 213.8 563.6 213 564.5 212.3 565.5 211.7 566.4 211.2 567.3 210.8 568.3 210.5 569.2 210.4 570.2 210.6 571.1 210.9 572 211.4 573 211.8 573.9 212.5 574.8 213.3 575.8 214 576.7 214.7 577.6 215.4 578.6 216.1 579.5 216.6 580.4 217 581.4 217.4 582.3 217.7 583.3 217.9 584.2 218.1 585.1 218.3 586.1 218.4 587 218.5 587.9 218.6 588.9 218.7 589.8 218.8 589.8 218.8 588.9 218.9 587.9 219 587 219.1 586.1 219.2 585.1 219.3 584.2 219.5 583.3 219.7 582.3 219.9 581.4 220.2 580.4 220.6 579.5 221 578.6 221.5 577.6 222.2 576.7 222.9 575.8 223.6 574.8 224.3 573.9 225.1 573 225.8 572 226.2 571.1 226.7 570.2 227 569.2 227.2 568.3 227.1 567.3 226.8 566.4 226.4 565.5 225.9 564.5 225.3 563.6 224.6 562.7 223.8 561.7 223.1 560.8 222.5 559.9 222 558.9 221.4 558 220.9 557 220.6 556.1 220.3 555.2 220 554.2 219.8 553.3 219.6 552.4 219.4 551.4 219.3 550.5 219.2 549.6 219 548.6 218.9 547.7 218.9 546.8 218.8Z" fill="#c5b4dc" stroke="#4a2a7c" stroke-width="0.8" stroke-linejoin="round"/><line x1="564.04" y1="212.63" x2="564.04" y2="224.97" stroke="#4a2a7c" stroke-width="0.45"/><line x1="569.07" y1="210.4" x2="569.07" y2="227.2" stroke="#4a2a7c" stroke-width="0.45"/><line x1="573.47" y1="212.18" x2="573.47" y2="225.42" stroke="#4a2a7c" stroke-width="0.45"/>
<text x="474.3" y="193.6" font-size="8.1" text-anchor="middle" fill="#000" transform="rotate(-90 474.3 193.6)">Cell type</text>
<path d="M595.1 168.8H597.8V192.2H595.1" fill="none" stroke="#000" stroke-width="0.75"/>
<path d="M595.1 194H597.8V218.8H595.1" fill="none" stroke="#000" stroke-width="0.75"/>
<path d="M609.5 168.8H612.2V218.8H609.5" fill="none" stroke="#000" stroke-width="0.75"/>
<text transform="translate(602.1 180.5) rotate(90)" font-size="6.25" text-anchor="middle" style="stroke-width:0.12px"><tspan font-style="italic">P</tspan>&lt;0.001</text>
<text transform="translate(602.1 206.5) rotate(90)" font-size="6.25" text-anchor="middle" style="stroke-width:0.12px"><tspan font-style="italic">P</tspan>&lt;0.001</text>
<text transform="translate(614.8 193.8) rotate(90)" font-size="6.25" text-anchor="middle" style="stroke-width:0.12px"><tspan font-style="italic">P</tspan>&lt;0.001</text>
<rect x="334.5" y="283" width="125.7" height="83.1" fill="none" stroke="#000" stroke-width="0.8"/>
<text x="399.4" y="277.6" font-size="8.1" text-anchor="middle" fill="#000">GGCM Gray Asymmetry</text>
<path d="M334.5 366.1v3M337.64 366.1v1.5M340.79 366.1v1.5M343.93 366.1v1.5M347.07 366.1v1.5M350.21 366.1v1.5M353.36 366.1v1.5M356.5 366.1v1.5M359.64 366.1v1.5M362.78 366.1v1.5M365.93 366.1v3M369.07 366.1v1.5M372.21 366.1v1.5M375.35 366.1v1.5M378.5 366.1v1.5M381.64 366.1v1.5M384.78 366.1v1.5M387.92 366.1v1.5M391.06 366.1v1.5M394.21 366.1v1.5M397.35 366.1v3M400.49 366.1v1.5M403.63 366.1v1.5M406.78 366.1v1.5M409.92 366.1v1.5M413.06 366.1v1.5M416.2 366.1v1.5M419.35 366.1v1.5M422.49 366.1v1.5M425.63 366.1v1.5M428.77 366.1v3M431.92 366.1v1.5M435.06 366.1v1.5M438.2 366.1v1.5M441.35 366.1v1.5M444.49 366.1v1.5M447.63 366.1v1.5M450.77 366.1v1.5M453.91 366.1v1.5M457.06 366.1v1.5M460.2 366.1v3" stroke="#000" stroke-width="0.7" fill="none"/>
<text x="334.5" y="377.8" font-size="8.1" text-anchor="middle" fill="#000">0.0</text>
<text x="365.9" y="377.8" font-size="8.1" text-anchor="middle" fill="#000">0.5</text>
<text x="397.4" y="377.8" font-size="8.1" text-anchor="middle" fill="#000">1.0</text>
<text x="428.8" y="377.8" font-size="8.1" text-anchor="middle" fill="#000">1.5</text>
<text x="460.2" y="377.8" font-size="8.1" text-anchor="middle" fill="#000">2.0</text>
<text x="397.7" y="386.6" font-size="8.2" text-anchor="middle" fill="#000">Normalized feature value (a.u.)</text>
<line x1="332.3" y1="299.4" x2="334.5" y2="299.4" stroke="#000" stroke-width="0.7"/>
<text x="331.7" y="302.8" font-size="8" text-anchor="end" fill="#000">MDA-MB-231</text>
<path d="M334.5 299.1 335.4 298.6 336.3 298 337.3 297.4 338.2 296.7 339.1 295.9 340 295.1 340.9 294.4 341.9 293.6 342.8 292.9 343.7 292.3 344.6 291.9 345.5 291.5 346.5 291.2 347.4 291 348.3 291 349.2 291.2 350.2 291.5 351.1 291.9 352 292.2 352.9 292.7 353.8 293.2 354.8 293.7 355.7 294.2 356.6 294.7 357.5 295.1 358.4 295.6 359.4 295.9 360.3 296.3 361.2 296.7 362.1 297 363 297.3 364 297.5 364.9 297.8 365.8 298 366.7 298.1 367.6 298.3 368.6 298.4 369.5 298.5 370.4 298.6 371.3 298.7 372.2 298.7 373.2 298.8 374.1 298.8 375 298.9 375.9 298.9 376.8 298.9 377.8 298.9 378.7 299 379.6 299 380.5 299 381.5 299 382.4 299 383.3 299.1 384.2 299.1 385.1 299.1 386.1 299.1 387 299.1 387.9 299.2 388.8 299.2 389.7 299.2 390.7 299.2 391.6 299.2 392.5 299.3 393.4 299.3 394.3 299.3 395.3 299.3 396.2 299.3 397.1 299.4 398 299.4 398.9 299.4 399.9 299.4 399.9 299.4 398.9 299.4 398 299.4 397.1 299.4 396.2 299.5 395.3 299.5 394.3 299.5 393.4 299.5 392.5 299.5 391.6 299.6 390.7 299.6 389.7 299.6 388.8 299.6 387.9 299.6 387 299.7 386.1 299.7 385.1 299.7 384.2 299.7 383.3 299.7 382.4 299.8 381.5 299.8 380.5 299.8 379.6 299.8 378.7 299.8 377.8 299.9 376.8 299.9 375.9 299.9 375 299.9 374.1 300 373.2 300 372.2 300.1 371.3 300.1 370.4 300.2 369.5 300.3 368.6 300.4 367.6 300.5 366.7 300.7 365.8 300.8 364.9 301 364 301.3 363 301.5 362.1 301.8 361.2 302.1 360.3 302.5 359.4 302.9 358.4 303.2 357.5 303.7 356.6 304.1 355.7 304.6 354.8 305.1 353.8 305.6 352.9 306.1 352 306.6 351.1 306.9 350.2 307.3 349.2 307.6 348.3 307.8 347.4 307.8 346.5 307.6 345.5 307.3 344.6 306.9 343.7 306.5 342.8 305.9 341.9 305.2 340.9 304.4 340 303.7 339.1 302.9 338.2 302.1 337.3 301.4 336.3 300.8 335.4 300.2 334.5 299.7Z" fill="#a3d0d1" stroke="#2a8489" stroke-width="0.8" stroke-linejoin="round"/><line x1="343.93" y1="292.2" x2="343.93" y2="306.6" stroke="#2a8489" stroke-width="0.45"/><line x1="348.96" y1="291.16" x2="348.96" y2="307.64" stroke="#2a8489" stroke-width="0.45"/><line x1="355.24" y1="294" x2="355.24" y2="304.8" stroke="#2a8489" stroke-width="0.45"/>
<line x1="332.3" y1="324.6" x2="334.5" y2="324.6" stroke="#000" stroke-width="0.7"/>
<text x="331.7" y="328" font-size="8" text-anchor="end" fill="#000">PBMC</text>
<path d="M334.5 321.6 334.9 319.7 335.4 318.3 335.8 317.1 336.2 316.4 336.7 316.6 337.1 317.6 337.6 318.7 338 319.8 338.4 320.9 338.9 321.7 339.3 322.3 339.7 322.8 340.2 323.1 340.6 323.4 341.1 323.6 341.5 323.8 341.9 324 342.4 324.1 342.8 324.2 343.2 324.4 343.7 324.5 344.1 324.5 344.6 324.6 344.6 324.6 344.1 324.7 343.7 324.7 343.2 324.8 342.8 325 342.4 325.1 341.9 325.2 341.5 325.4 341.1 325.6 340.6 325.8 340.2 326.1 339.7 326.4 339.3 326.9 338.9 327.5 338.4 328.3 338 329.4 337.6 330.5 337.1 331.6 336.7 332.6 336.2 332.8 335.8 332.1 335.4 330.9 334.9 329.5 334.5 327.6Z" fill="#9bdcfb" stroke="#2b63e3" stroke-width="0.8" stroke-linejoin="round"/><line x1="335.76" y1="317.28" x2="335.76" y2="331.92" stroke="#2b63e3" stroke-width="0.45"/><line x1="336.7" y1="316.62" x2="336.7" y2="332.58" stroke="#2b63e3" stroke-width="0.45"/>
<line x1="332.3" y1="349.7" x2="334.5" y2="349.7" stroke="#000" stroke-width="0.7"/>
<text x="331.7" y="353.1" font-size="8" text-anchor="end" fill="#000">RBC</text>
<path d="M334.5 348.7 335.4 346.3 336.4 343.8 337.3 341.9 338.3 341.3 339.2 341.8 340.2 342.6 341.1 343.5 342 344.5 343 345.4 343.9 346.2 344.9 346.9 345.8 347.6 346.8 348.1 347.7 348.4 348.6 348.7 349.6 348.9 350.5 349 351.5 349.2 352.4 349.3 353.4 349.5 354.3 349.6 355.2 349.6 356.2 349.7 356.2 349.7 355.2 349.8 354.3 349.8 353.4 349.9 352.4 350.1 351.5 350.2 350.5 350.4 349.6 350.5 348.6 350.7 347.7 351 346.8 351.3 345.8 351.8 344.9 352.5 343.9 353.2 343 354 342 354.9 341.1 355.9 340.2 356.8 339.2 357.6 338.3 358.1 337.3 357.5 336.4 355.6 335.4 353.1 334.5 350.7Z" fill="#c5b4dc" stroke="#4a2a7c" stroke-width="0.8" stroke-linejoin="round"/><line x1="337.01" y1="342.34" x2="337.01" y2="357.06" stroke="#4a2a7c" stroke-width="0.45"/><line x1="338.9" y1="341.54" x2="338.9" y2="357.86" stroke="#4a2a7c" stroke-width="0.45"/><line x1="341.41" y1="343.86" x2="341.41" y2="355.54" stroke="#4a2a7c" stroke-width="0.45"/>
<text x="281.5" y="324.6" font-size="8.1" text-anchor="middle" fill="#000" transform="rotate(-90 281.5 324.6)">Cell type</text>
<path d="M404.6 299.4H407.1V323.7H404.6" fill="none" stroke="#000" stroke-width="0.75"/>
<path d="M404.6 325.5H407.1V349.7H404.6" fill="none" stroke="#000" stroke-width="0.75"/>
<path d="M415.3 299.4H418.1V349.7H415.3" fill="none" stroke="#000" stroke-width="0.75"/>
<text transform="translate(411.4 311.6) rotate(90)" font-size="6.25" text-anchor="middle" style="stroke-width:0.12px"><tspan font-style="italic">P</tspan>&lt;0.001</text>
<text transform="translate(411.4 337.8) rotate(90)" font-size="6.25" text-anchor="middle" style="stroke-width:0.12px"><tspan font-style="italic">P</tspan>&lt;0.001</text>
<text transform="translate(420.7 324.5) rotate(90)" font-size="6.25" text-anchor="middle" style="stroke-width:0.12px"><tspan font-style="italic">P</tspan>&lt;0.001</text>
<rect x="526.2" y="281.5" width="126" height="83.2" fill="none" stroke="#000" stroke-width="0.8"/>
<text x="588.4" y="277.8" font-size="8.1" text-anchor="middle" fill="#000">GLRLM Run Variance</text>
<path d="M526.2 364.7v3M529.35 364.7v1.5M532.5 364.7v1.5M535.65 364.7v1.5M538.8 364.7v1.5M541.95 364.7v1.5M545.1 364.7v1.5M548.25 364.7v1.5M551.4 364.7v1.5M554.55 364.7v1.5M557.7 364.7v3M560.85 364.7v1.5M564 364.7v1.5M567.15 364.7v1.5M570.3 364.7v1.5M573.45 364.7v1.5M576.6 364.7v1.5M579.75 364.7v1.5M582.9 364.7v1.5M586.05 364.7v1.5M589.2 364.7v3M592.35 364.7v1.5M595.5 364.7v1.5M598.65 364.7v1.5M601.8 364.7v1.5M604.95 364.7v1.5M608.1 364.7v1.5M611.25 364.7v1.5M614.4 364.7v1.5M617.55 364.7v1.5M620.7 364.7v3M623.85 364.7v1.5M627 364.7v1.5M630.15 364.7v1.5M633.3 364.7v1.5M636.45 364.7v1.5M639.6 364.7v1.5M642.75 364.7v1.5M645.9 364.7v1.5M649.05 364.7v1.5M652.2 364.7v3" stroke="#000" stroke-width="0.7" fill="none"/>
<text x="526.2" y="376.4" font-size="8.1" text-anchor="middle" fill="#000">0.0</text>
<text x="557.7" y="376.4" font-size="8.1" text-anchor="middle" fill="#000">0.5</text>
<text x="589.2" y="376.4" font-size="8.1" text-anchor="middle" fill="#000">1.0</text>
<text x="620.7" y="376.4" font-size="8.1" text-anchor="middle" fill="#000">1.5</text>
<text x="652.2" y="376.4" font-size="8.1" text-anchor="middle" fill="#000">2.0</text>
<text x="587" y="386.5" font-size="8.2" text-anchor="middle" fill="#000">Normalized feature value (a.u.)</text>
<line x1="524" y1="299.2" x2="526.2" y2="299.2" stroke="#000" stroke-width="0.7"/>
<text x="523.4" y="302.6" font-size="8" text-anchor="end" fill="#000">MDA-MB-231</text>
<path d="M526.2 297.2 527.1 294 528 292 528.9 290.8 529.9 290.6 530.8 290.8 531.7 291.8 532.6 292.5 533.5 293.2 534.4 293.6 535.3 293.9 536.3 294.1 537.2 294.3 538.1 294.6 539 294.9 539.9 295.2 540.8 295.6 541.8 295.9 542.7 296.2 543.6 296.5 544.5 296.8 545.4 297.1 546.3 297.3 547.2 297.5 548.2 297.6 549.1 297.8 550 297.9 550.9 298 551.8 298 552.7 297.9 553.6 297.9 554.6 297.8 555.5 297.8 556.4 297.9 557.3 298.2 558.2 298.4 559.1 298.5 560 298.6 561 298.6 561.9 298.7 562.8 298.7 563.7 298.8 564.6 298.8 565.5 298.8 566.5 298.8 567.4 298.9 568.3 298.9 569.2 298.9 570.1 298.9 571 298.9 571.9 298.9 572.9 298.9 573.8 298.9 574.7 298.9 575.6 299 576.5 299 577.4 299 578.3 299 579.3 299 580.2 299 581.1 299 582 299 582.9 299 583.8 299.1 584.7 299.1 585.7 299.1 586.6 299.1 587.5 299.1 588.4 299.1 589.3 299.1 590.2 299.2 591.2 299.2 592.1 299.2 593 299.2 593 299.2 592.1 299.2 591.2 299.2 590.2 299.2 589.3 299.3 588.4 299.3 587.5 299.3 586.6 299.3 585.7 299.3 584.7 299.3 583.8 299.3 582.9 299.4 582 299.4 581.1 299.4 580.2 299.4 579.3 299.4 578.3 299.4 577.4 299.4 576.5 299.4 575.6 299.4 574.7 299.5 573.8 299.5 572.9 299.5 571.9 299.5 571 299.5 570.1 299.5 569.2 299.5 568.3 299.5 567.4 299.5 566.5 299.6 565.5 299.6 564.6 299.6 563.7 299.6 562.8 299.7 561.9 299.7 561 299.8 560 299.8 559.1 299.9 558.2 300 557.3 300.2 556.4 300.5 555.5 300.6 554.6 300.6 553.6 300.5 552.7 300.5 551.8 300.4 550.9 300.4 550 300.5 549.1 300.6 548.2 300.8 547.2 300.9 546.3 301.1 545.4 301.3 544.5 301.6 543.6 301.9 542.7 302.2 541.8 302.5 540.8 302.8 539.9 303.2 539 303.5 538.1 303.8 537.2 304.1 536.3 304.3 535.3 304.5 534.4 304.8 533.5 305.2 532.6 305.9 531.7 306.6 530.8 307.6 529.9 307.8 528.9 307.6 528 306.4 527.1 304.4 526.2 301.2Z" fill="#a3d0d1" stroke="#2a8489" stroke-width="0.8" stroke-linejoin="round"/><line x1="529.35" y1="290.72" x2="529.35" y2="307.68" stroke="#2a8489" stroke-width="0.45"/><line x1="532.5" y1="292.47" x2="532.5" y2="305.93" stroke="#2a8489" stroke-width="0.45"/><line x1="538.17" y1="294.6" x2="538.17" y2="303.8" stroke="#2a8489" stroke-width="0.45"/>
<line x1="524" y1="324.9" x2="526.2" y2="324.9" stroke="#000" stroke-width="0.7"/>
<text x="523.4" y="328.3" font-size="8" text-anchor="end" fill="#000">PBMC</text>
<path d="M526.2 319.5 526.2 320 526.3 320.5 526.3 321 526.3 321.5 526.4 321.9 526.4 322.3 526.4 322.7 526.5 323.1 526.5 323.4 526.5 323.7 526.6 323.9 526.6 324.1 526.6 324.3 526.7 324.5 526.7 324.6 526.7 324.6 526.8 324.7 526.8 324.8 526.8 324.8 526.9 324.8 526.9 324.9 526.9 324.9 527 324.9 527 324.9 526.9 324.9 526.9 324.9 526.9 325 526.8 325 526.8 325 526.8 325.1 526.7 325.2 526.7 325.2 526.7 325.3 526.6 325.5 526.6 325.7 526.6 325.9 526.5 326.1 526.5 326.4 526.5 326.7 526.4 327.1 526.4 327.5 526.4 327.9 526.3 328.3 526.3 328.8 526.3 329.3 526.2 329.8 526.2 330.3Z" fill="#9bdcfb" stroke="#2b63e3" stroke-width="0.8" stroke-linejoin="round"/>
<line x1="524" y1="349.7" x2="526.2" y2="349.7" stroke="#000" stroke-width="0.7"/>
<text x="523.4" y="353.1" font-size="8" text-anchor="end" fill="#000">RBC</text>
<path d="M526.2 342.2 526.3 343.7 526.4 345.3 526.4 346.7 526.5 347.9 526.6 348.8 526.7 349.2 526.8 349.2 526.9 349.3 526.9 349.3 527 349.3 527.1 349.3 527.2 349.3 527.3 349.3 527.4 349.3 527.4 349.3 527.5 349.3 527.6 349.4 527.7 349.4 527.8 349.4 527.8 349.4 527.9 349.5 528 349.6 528.1 349.7 528.1 349.7 528 349.8 527.9 349.9 527.8 350 527.8 350 527.7 350 527.6 350 527.5 350.1 527.4 350.1 527.4 350.1 527.3 350.1 527.2 350.1 527.1 350.1 527 350.1 526.9 350.1 526.9 350.1 526.8 350.2 526.7 350.2 526.6 350.6 526.5 351.5 526.4 352.7 526.4 354.1 526.3 355.7 526.2 357.2Z" fill="#c5b4dc" stroke="#4a2a7c" stroke-width="0.8" stroke-linejoin="round"/>
<text x="474.3" y="323.1" font-size="8.1" text-anchor="middle" fill="#000" transform="rotate(-90 474.3 323.1)">Cell type</text>
<path d="M595.1 299.2H597.8V324H595.1" fill="none" stroke="#000" stroke-width="0.75"/>
<path d="M595.1 325.8H597.8V349.7H595.1" fill="none" stroke="#000" stroke-width="0.75"/>
<path d="M609.5 299.2H612.2V349.7H609.5" fill="none" stroke="#000" stroke-width="0.75"/>
<text transform="translate(602.1 311.6) rotate(90)" font-size="6.25" text-anchor="middle" style="stroke-width:0.12px"><tspan font-style="italic">P</tspan>&lt;0.001</text>
<text transform="translate(602.1 337.9) rotate(90)" font-size="6.25" text-anchor="middle" style="stroke-width:0.12px"><tspan font-style="italic">P</tspan>=0.684</text>
<text transform="translate(614.8 324.4) rotate(90)" font-size="6.25" text-anchor="middle" style="stroke-width:0.12px"><tspan font-style="italic">P</tspan>&lt;0.001</text>
</g>
<g id="pc">
<text x="2.9" y="184.4" font-size="9.5" text-anchor="start" fill="#000">c</text>
<path d="M129.2 233.5h0M130.9 233.8h0M132.4 234.3h0M134.1 234.5h0M121.7 241.2h0M120.2 241.7h0M118.9 242.6h0M95.3 266.1h0M83 234.2h0M81.4 234.4h0M81.3 236h0M123 227.7h0M124.2 226.8h0M124.9 225.4h0M146 256.4h0M144.6 257.3h0M145.3 258.8h0M97.7 232.9h0M96.7 234.3h0M95 234h0M93.3 234.8h0M115.6 220h0M99.2 254.1h0M115.8 263.7h0M117.6 264.1h0M117.7 265.4h0M93.2 232.8h0M92.7 231.5h0M125.4 258.7h0M124.8 260.5h0M124.8 261.9h0M125.6 263.3h0M102.4 238.6h0M102.3 240.2h0M159.8 247.5h0M160.8 246.3h0M162.1 246.9h0M147.9 261.8h0M147.5 263.3h0M148 264.6h0M149.8 264.7h0M147.8 239.4h0M146.3 239.8h0M145.1 240.9h0M144 242.1h0M94.1 245.8h0M95.4 244.7h0M97.2 245.2h0M98 243.8h0M109.8 259.6h0M109 260.6h0M107.5 261.4h0M106.8 242.9h0M106.4 241.4h0M105.3 240.3h0M103.7 241.1h0M125 239h0M124 240.2h0M124.7 241.7h0M151.7 248.6h0M150.2 248.3h0M149.2 249.5h0M147.6 250h0M106.8 233.7h0M108 232.5h0M98.2 237.6h0M98.8 239.2h0M99.6 240.8h0M117.2 224.8h0M116 225.3h0M100.1 260h0M112.8 265.3h0M113 263.7h0M118.8 258.2h0M71.1 241.4h0M70.7 242.8h0M71.1 244.1h0M71.4 245.9h0M151.2 241.6h0M150.2 242.7h0M148.7 242.4h0M75.5 255.2h0M74.6 256.8h0M89.6 258h0M91 258.6h0M92.5 258.7h0M106.2 228.3h0M107.5 228.2h0M130.2 229.6h0M130.2 227.9h0M92.5 264.8h0M94.4 264.9h0M95.9 264.2h0M96.6 262.7h0M103 227.4h0M101.3 226.7h0M98.6 228.5h0M97 228.5h0M96 229.6h0M94.2 230h0M95.5 235h0M95.6 236.7h0M64.5 249.4h0M66.1 250.2h0M98.3 245.9h0M67.9 252.7h0M142.9 255.9h0M144.4 256.2h0M146.6 259h0M109.4 231.7h0M110.8 231.1h0M75.7 250.6h0M75.1 248.9h0M73.4 249h0M110.7 225.5h0M108.8 225.3h0M107.6 226.3h0M148.8 246.5h0M147.6 247.1h0M146 246.7h0M116.3 240.3h0M115.2 239.4h0M113.9 239.9h0M112.2 240.6h0M140.9 235.5h0M139.2 234.7h0M137.8 234.6h0M101.4 230.6h0M101.4 231.9h0M100.9 233.2h0M88.9 235.8h0M94.8 240.3h0M95.3 241.7h0M96.5 242.5h0M118.9 235h0M117.5 234.2h0M116.3 233.2h0M114.7 233.5h0M88.1 255.6h0M96.7 258.2h0M98.3 259h0M97.3 260.5h0M98.6 261.5h0M127.6 247.4h0M129.2 247.2h0M129.7 248.7h0M128.2 249.2h0M74.1 241.4h0M74 239.8h0M138.7 246.3h0M140.2 246.8h0M141.8 247.5h0M100.4 256.6h0M102 257.1h0M103.5 256.4h0M130.3 236h0M131.2 237.2h0M123.7 223.1h0M102.5 244.1h0M100.9 243.8h0M160 244h0M161.6 244.4h0M163.3 244.6h0M165.2 244.9h0M100 263.7h0M132.2 241h0M129.8 259.8h0M131.2 260.3h0M78.5 251.6h0M80 250.7h0M80.2 249.4h0M95.1 249.3h0M95.9 248.2h0M95.1 247h0M70.1 237.3h0M71.3 238.4h0M71.5 240.2h0M110.4 242.8h0M109.8 241h0M118.8 247.3h0M136.6 243.5h0M138.3 243h0M139.4 244.1h0M106.7 245.9h0M156.6 241.9h0M154.9 241.7h0M153.7 241.1h0M153.9 239.3h0M139.1 255.7h0M76.9 232.4h0M75.4 232h0M82.7 243.6h0M132.7 265.1h0M133 266.7h0M134.6 266.8h0M134.9 265.5h0M126.9 241.3h0M126.3 254h0M93.4 261.6h0M92.8 260h0M155 237.6h0M69.8 250.5h0M71.2 251.5h0M153.5 255.2h0M154.3 256.6h0M155.7 257.7h0M129.5 265.8h0M128.4 264.5h0M127.3 263.6h0M113.9 258.7h0M107.8 250.5h0M109.5 251h0M106.4 224.4h0M110.4 247.1h0M109.9 245.4h0M126.2 267.8h0M126 266.4h0M126.9 265.1h0M128.2 256.6h0M144.1 248.9h0M142.2 248.7h0M99.7 248.9h0M99.2 247.3h0M125.7 234.9h0M125.2 236.2h0M124.1 237.4h0M84.9 231.3h0M83.2 232h0M82.3 230.5h0M102.2 251.4h0M103.1 250.4h0M103.6 248.7h0M66.7 247.4h0M66.7 249h0M67.8 250.4h0M77.6 241.5h0M77.2 239.9h0M105.1 248.2h0M132.8 245.8h0M134 244.5h0M135.7 244.8h0M71.4 254.4h0M71.7 255.9h0M73.5 256.3h0M107.5 264.3h0M108.2 265.9h0M109.7 265.8h0M90.2 261.9h0M91.1 260.8h0M119.9 226.5h0M120.2 225.1h0M119.1 223.7h0M143.2 233h0M143.8 234.4h0M144 236.3h0M128.9 263.2h0M70.3 246.6h0M68.5 246.4h0M155.7 250.4h0M157.3 249.5h0M158.8 248.6h0M160.6 248.3h0M145.1 245.9h0M146.1 244.5h0M146.4 243h0M102.1 267.4h0M100.6 267.7h0M100 269h0M99.6 270.5h0M78.7 256.2h0M78.6 254.7h0M76.8 254.4h0M122.9 232.9h0M122.9 244.9h0M124.8 248.7h0M126.3 249.4h0M113.4 235.7h0M135.5 259.2h0M106 267h0M104.6 266.3h0M103.7 265.1h0M144.8 261.8h0M146.4 262.7h0M146.5 264.2h0M145.5 265.3h0M113.6 245.6h0M143.6 247.5h0M146.1 248h0M133.2 230.8h0M131.7 230.9h0M151.6 257.5h0M151.9 259h0M66.8 242.3h0M119.7 244.7h0M121.2 244.1h0M116.1 243.7h0M116.7 242h0M156.2 246.5h0M114.2 236.8h0M112.9 237.8h0M111.9 236.6h0M110.7 235.7h0M104.3 255h0M105.2 256.3h0M134.1 236.4h0M89.5 250h0M116.6 260.8h0M116.5 259.4h0M116 257.9h0M108.8 255.3h0M115.6 252.3h0M114.8 253.5h0M139.2 262h0M138.1 261h0M105.7 238.7h0M107.6 238.8h0M77.7 235.7h0M76.9 234.2h0M75.2 233.9h0M73.5 234.5h0M112.9 231.6h0M113.9 232.7h0M111 239.4h0M111.3 238h0M130 250.1h0M129.4 251.6h0M130.8 252.6h0M120.4 262.1h0M120.6 263.9h0M119.2 264.2h0M126.8 244.6h0M125.4 229.4h0M124.1 228.5h0M122.9 229.1h0M87.4 248h0M86.1 248.4h0M119.6 238.6h0M120 219.9h0M149.5 250.9h0M146.1 250.4h0M121.6 236.5h0M122.6 237.6h0M123.3 239.2h0M101.4 235.6h0M94 253.5h0M92.5 253h0M91.3 253.8h0M90.2 252.8h0M105 230.9h0M150.6 260.6h0M149.4 261.6h0M80.5 231h0M81.7 232.2h0M106.3 260.1h0M105.1 261.4h0M103.6 260.7h0M85 253.1h0M86.3 253.7h0M86.5 255.2h0M143.9 239.7h0M145.6 249.2h0M122.8 262.2h0M121.9 263.5h0M92.7 256h0M140.1 259.2h0M139.7 257.4h0M137.5 255.3h0M133 256.9h0M84.1 257.3h0M118.7 253.6h0M120.2 254.3h0M108.8 268h0M108.8 269.7h0M110.4 270.6h0M120.5 229.7h0M120 228.3h0M118.3 228.6h0M143.8 258.8h0M143.2 260.5h0M140.8 265.1h0M141.2 266.8h0M122 258.2h0M123.4 257.6h0M123.8 265.7h0M112.4 261.7h0M114.1 262h0M140.8 249.6h0M75.7 245.3h0M77.5 245.8h0M77.9 247.6h0M79.3 247.9h0M109 222.9h0M109.1 228.7h0M110.6 229.4h0M150.5 236.5h0M151.3 237.6h0M108.1 236.8h0M106.8 235.9h0M105.5 234.7h0M104.2 233.8h0M166.2 245.8h0M98.6 266.8h0M98.4 268.2h0M96.8 268.8h0M106.1 257.2h0M106.6 254.9h0M153.2 245.7h0M152.3 244.5h0M153.1 243.1h0M116.3 255.4h0M117.7 256.2h0M151.1 253.4h0M152.6 252.9h0M125.5 251.4h0M126 252.8h0M126.3 255.7h0M91.6 257.6h0M91.4 256.3h0M89.9 256.2h0M98.1 251.3h0M99 252.7h0M101 253.6h0M112.4 254.8h0M76.3 248h0M121.5 252.6h0M128.1 238.3h0M137.6 236h0M121.7 248h0M121.7 246.4h0M103.5 262h0M92.1 239.1h0M91.2 237.7h0M89.9 237.4h0M101.7 246.8h0M99.9 246.3h0M99.5 244.6h0M72.8 251.4h0M69 249.5h0M96.2 255.4h0M98 255h0M75.3 235.6h0M76.5 236.8h0M103.1 258.3h0M142.2 253.3h0M141.8 241.7h0M140.4 242.1h0M120.3 223h0M121 224.3h0M118.4 225.9h0M159.6 250.5h0M133.9 248.4h0M134.9 247.3h0M136.6 247.1h0M137.9 247.7h0M102.8 233h0M98.9 232.2h0M68.7 245.2h0M87.5 233.1h0M88.9 233.6h0M90.1 233.2h0M135.7 263.8h0M106.7 253.1h0M105 252.8h0M102.6 254.6h0M133.5 261.2h0M67.9 239.4h0M67 240.4h0M89.9 243.3h0M88.5 243.4h0M87.6 242.4h0M85.9 241.8h0M111.3 251.5h0M86.2 250.6h0M86.4 252.2h0M84.5 254.1h0M105 236h0M105.4 237.4h0M106.7 237.2h0M149 243.7h0M145.2 236.3h0M126.5 232h0M128.2 231.4h0M129.3 230.7h0M113.5 242h0M112.3 242.8h0M110.2 244.3h0M80.7 240.6h0M82.6 240.6h0M124 256h0M89 240.7h0M135.4 254.5h0M133 227.6h0M85.4 235.9h0M147.6 253.3h0M147.4 251.7h0M110.5 233.8h0M110.5 232.4h0M64.2 252.6h0M100.5 225.9h0M99.1 226.5h0M97.5 225.9h0M79.9 233.3h0M130.9 243.4h0M132.3 243h0M119.4 250.5h0M149.4 255.7h0M149.6 254.1h0M72.7 243.8h0M74.1 242.8h0M152.7 251.1h0M108.3 240.6h0M101.9 265.7h0M100.5 266.3h0M81.6 255.5h0M83.2 255.4h0M90.5 246.8h0M90.5 248.2h0M78.6 244.3h0M137.8 249h0M92.3 251h0M81.6 248.8h0M93.2 242.6h0M92.3 234h0M128.3 227.5h0M128.3 225.8h0M112.9 227.6h0M111.8 229h0M143.2 230.2h0M131.9 238.3h0M133.3 238.8h0M134.6 239.5h0" stroke="#77ac30" stroke-width="1.9" stroke-linecap="round" fill="none"/>
<path d="M67.2 327.7h0M66.5 326.5h0M92.5 301.1h0M91.4 300.3h0M91.6 299.2h0M67.2 315.4h0M58.5 324.1h0M58.3 325.3h0M59.6 326h0M66.7 318.8h0M66.6 317.5h0M78.6 330.2h0M79.9 329.5h0M81.3 329.7h0M70 301h0M70.1 302.1h0M89.7 319h0M90.4 320.1h0M89.2 320.7h0M52.6 316.4h0M51.3 317.1h0M69.4 316.9h0M72.7 312.4h0M73.5 313.5h0M73.2 314.8h0M86.1 297.3h0M76 301.1h0M73.2 304h0M74.4 303.7h0M76 303.7h0M57.4 305.6h0M58 307h0M59.1 307.3h0M80.3 322.4h0M92.2 316.8h0M91 316.7h0M89.8 317.1h0M87 304h0M65.1 308.8h0M64.5 307.5h0M65 306.2h0M89.1 315.2h0M89.7 316h0M84.9 324h0M51.4 308.3h0M52.6 308h0M58.1 299.8h0M56.2 322.6h0M57.2 322.5h0M58.3 321.7h0M69.3 307.3h0M91.2 302.7h0M92.3 302.4h0M88.7 333.8h0M87.4 333.2h0M78.3 317.1h0M76.9 316.6h0M75.9 317.3h0M62.2 321.1h0M63.4 320.8h0M63.5 319.5h0M71.6 309.8h0M71.4 311.1h0M71 312.5h0M77.3 322.9h0M76 320.1h0M76.5 319.1h0M77.3 318.1h0M80.5 331.8h0M79.3 332.1h0M78.5 332.8h0M79.1 334.4h0M79.7 333.4h0M91.5 325.2h0M91.1 326.5h0M90.4 327.8h0M49.2 310.8h0M50.1 311.8h0M82.6 327h0M82.4 328h0M81 328.1h0M100.1 313.7h0M99.2 313.1h0M98.2 313.7h0M87.9 308.8h0M67.8 301.2h0M64.3 301.3h0M64.8 300h0M65.5 298.9h0M95.8 305.9h0M96.9 305.9h0M56.2 302h0M55.4 301.2h0M54.3 301.9h0M76.8 308.7h0M78 308.6h0M78.5 307.2h0M80.8 295.1h0M80.6 293.6h0M79.5 293.2h0M55.3 325.5h0M96.6 328h0M95.3 328h0M49.4 316.7h0M48.9 315.7h0M101.6 318.8h0M102.3 317.9h0M87.1 327.5h0M61.4 315.6h0M58.2 308.5h0M58.8 309.5h0M58.5 310.9h0M94.3 317.8h0M93.6 318.7h0M92.3 318.4h0M86.2 334.1h0M93.8 323.1h0M69.7 303.4h0M69.3 304.5h0M80.1 297.9h0M79.4 299.2h0M58.2 319.6h0M71.3 326.5h0M72.3 327.3h0M60.5 323.9h0M87.7 329.6h0M86.7 329.1h0M98.9 325.9h0M97.9 314.9h0M98.3 316.3h0M94.5 309.1h0M72.1 324.5h0M73.4 324.6h0M72.4 298.4h0M74.1 329.8h0M74.9 330.7h0M80.5 317.6h0M81.2 316.4h0M82.6 316h0M92.4 311.7h0M93.6 312.3h0M85.1 319.2h0M83.7 319.9h0M82.4 319.2h0M76.4 325.4h0M75.9 326.6h0M74.5 326.8h0M56 318.7h0M99.9 320.2h0M65.8 305.6h0M65.3 324.6h0M89 304.8h0M90.2 304.4h0M74.5 308h0M85.6 295.5h0M86.8 296.4h0M69.6 319h0M89.4 299.9h0M89.9 301.3h0M88.8 301.8h0M60.6 301.7h0M60.6 300.2h0M82.8 295.7h0M82.5 294.4h0M71.8 321h0M72.3 322.3h0M73.5 322.5h0M85.1 309.8h0M65.2 327.2h0M66.6 297.2h0M67.8 298.1h0M65.4 321.2h0M64.5 320.6h0M63.6 321.8h0M99.6 306.7h0M98.6 307.4h0M97.2 307.2h0M77.6 294.8h0M75.9 295.8h0M88.1 323.1h0M87.8 321.8h0M61.1 327.5h0M60.4 326.6h0M59.1 326.8h0M82.5 310h0M83.3 309.2h0M84.1 308.2h0M87 313h0M86.3 311.9h0M54.3 307.9h0M55 306.6h0M56.2 306.8h0M57.4 327.2h0M81.8 321.1h0M70.4 328.3h0M96.2 300.7h0M97.6 301h0M98.8 301.3h0M96.3 317.4h0M85 332.4h0M84 333h0M83.2 332.3h0M82 324.1h0M82.8 322.9h0M84.1 328.8h0M85 328h0M64.3 329.7h0M62.8 329.8h0M91.5 328.1h0M91 329.1h0M74 331.9h0M74.2 333.3h0M90.3 311.3h0M89.3 310.4h0M77.2 312h0M76.7 313.1h0M98.7 304.5h0M99.3 303.1h0M100.5 316.4h0M101.5 317.2h0M83.3 313.3h0M81.9 312.8h0M80.6 313.3h0M100.8 322.5h0M101.1 321.3h0M60.8 296.7h0M60.2 295.4h0M58.6 295.5h0M95.3 311h0M96.5 311h0M96.6 312.5h0M56 299.9h0M73.5 296.7h0M72.2 297.3h0M59.9 321.5h0M60.1 304.2h0M59 303.3h0M96.5 303.2h0M61.6 308.2h0M60.9 309.2h0M58.7 296.6h0M75.3 315.4h0M76.4 314.5h0M75.8 333.6h0M73.5 334.7h0M51.6 305h0M51.3 306.4h0M77.1 332.1h0M78.2 331.3h0M70.2 297h0M79.9 324.9h0M79.7 326.1h0M78.8 326.9h0M71.6 305.8h0M71.4 306.9h0M72.8 307.2h0M88.1 320.8h0M82.2 298.3h0M74.7 324.1h0M75.8 323.6h0M93.7 320h0M94.4 321h0M77.7 299.2h0M77.4 298.1h0M76.5 297h0M66.6 293.7h0M54.6 315.8h0M54.7 314.4h0M56.5 303.8h0M57.3 302.7h0M57.9 301.6h0M80.8 302.4h0M67.9 305.2h0M67.7 306.3h0M67.4 321.5h0M66 322h0M65.7 323.1h0M84 299.1h0M99.4 311h0M99.8 312.3h0M86.2 314.9h0M86.7 315.9h0M87.2 317.2h0M78.9 320.7h0M79 322.2h0M78.5 323.6h0M67.4 310.9h0M78 313.3h0M91.3 322.9h0M89.2 313.1h0M50.1 314.4h0M49.4 313.3h0M62.7 324.6h0M69.6 310.4h0M70.7 310.2h0M85.5 307.8h0M64.7 315.2h0M64 316.1h0M88.1 311.3h0M56 320.8h0M51.6 302.4h0M51.8 303.8h0M95 330.4h0M96.1 329.7h0M84.7 322h0M83.5 322.3h0M69.8 292.7h0M59.9 317.6h0M58.6 317.5h0M59.3 306.1h0M64.1 297.3h0M64.8 296.4h0M65.9 296.3h0M73.1 315.9h0M89.9 309.3h0M65.3 311.9h0M63.9 311.8h0M62.9 311.1h0M49 308.6h0M50 307.7h0M79.1 303.6h0M90.3 321.3h0M88.3 317.6h0M92.7 304.3h0M91.8 303.5h0M88.2 296h0M89.5 296.1h0M93.5 326.7h0M92.1 326.4h0M79.6 311.4h0M80.5 312.4h0M53.7 321.1h0M54.9 321.8h0M84.6 304.6h0M99.9 308.8h0M98.6 309.2h0M91.4 313.2h0M92.7 313.5h0M81.7 333.5h0M74.8 312.1h0M75.5 311.1h0M69.3 312.3h0M68.1 311.6h0M92.5 328.5h0M92.7 330h0M92.6 331.2h0M56.9 316.8h0M67.1 307.5h0M68.3 307.9h0M97.4 308.5h0M96.4 309h0M95.6 307.8h0M73.8 306h0M97.2 321.6h0M97.8 320.6h0M84.1 325.6h0M85 326.5h0M86 325.6h0M62.7 317.6h0M63.5 318.6h0M61.9 306.4h0M60.7 306.5h0M60.5 307.8h0M54 300.6h0M52.6 300.2h0M89.5 298.1h0M90.4 297.6h0M102.5 313.6h0M102.7 315h0M103.8 314.9h0M64.5 294.5h0M65 293.5h0M69.4 321h0M70.8 321.4h0M82.6 330.7h0M73.3 302.1h0M76.1 327.7h0M74.9 328.2h0M54.4 302.9h0M95.2 314.8h0M90.4 306.4h0M98.7 328.8h0M60.8 311.5h0M61.8 312.3h0M60.7 319.7h0M50.9 319.9h0M90.9 331.9h0M90.1 332.6h0M88.8 331.9h0M80.7 319.6h0M83 318.4h0M78.8 300.9h0M77.8 301.2h0M51.4 313h0M51.8 314.3h0M98.4 318.3h0M98.6 319.3h0M70.3 315.2h0M71.1 316.1h0M88.6 326.2h0M88.3 325.2h0M89.5 324.5h0M58.5 315.3h0M59.9 315.5h0M72.1 330.8h0M72.1 329.7h0M71 329.5h0M94.5 301.7h0M76.4 306.4h0M76.6 305.2h0M87.4 326.3h0M73.7 327.5h0M92.5 308.6h0M93.5 307.8h0M102.1 320.7h0M68.8 299.5h0M72.6 300.3h0M57.5 311.5h0M50.2 306.5h0M96.5 326.1h0M96.6 324.6h0M80.4 315.2h0M62.7 298.9h0M53.3 314.4h0M67.8 326h0M69.1 326.1h0M102.6 316.9h0M72.3 294.4h0M73.7 293.9h0M98.3 312.5h0M69.9 331.5h0M63.2 328.1h0M61.9 328.5h0M61.6 329.8h0M90.8 333.8h0M86.5 305.9h0M87.8 306.5h0M87.3 307.8h0M74.9 309.9h0M54.6 323.8h0M61.9 294.8h0M59.7 294.4h0M63.2 309.8h0M89.5 328.9h0M85 311.8h0M84.1 312.5h0M65.3 303.4h0M66.3 302.7h0M62.2 303.2h0M63.4 303.7h0M67.6 313.4h0M60 309.5h0M59.5 301.8h0M81.8 300.1h0M83.1 299.7h0M75.5 322h0M48.3 312.8h0M54 319.1h0M51.3 318.2h0M98.4 302.3h0M100.1 304h0M76.3 329.8h0M83.7 306.2h0M63.3 304.8h0M56.1 309.7h0M77.9 319h0M101.4 311.5h0M102.8 311h0M66.5 329.9h0M68 330.1h0M68.6 331.3h0M67.4 303.3h0M96 319.4h0M81.7 304.4h0M82.7 305.2h0M94.8 325.2h0M78.1 296.7h0M78.8 295.7h0M78.9 294.6h0M74.5 322.1h0M85.9 330.5h0M78.2 328.3h0M63.8 322.8h0M100.7 324.6h0M101.6 325.2h0M71.6 328h0M86.4 301.8h0M86.6 300.5h0M57.1 297.9h0M56.4 299.1h0M89.5 306.9h0M87.7 335.4h0M86.7 335.9h0M54.7 304.9h0M52.3 310.1h0M67.2 323.4h0M68.6 323.5h0M69.8 323.5h0M56.5 314.7h0M57.9 314.2h0M58.3 313h0M83.6 316h0M82.9 315h0M71.1 317.8h0M69.8 317.9h0M68.6 317.5h0M63.8 313.2h0M63.4 314.3h0M94.4 299h0M95.2 299.9h0M96.6 299.8h0M68.1 309.2h0M49.3 318.6h0M49.8 319.8h0M84 297.3h0M83.6 296.3h0M84.4 295.3h0M64.8 317.3h0M71 313.4h0M78.8 309.6h0M80.2 310h0M81.1 309.2h0M53.1 306.3h0M82.2 335.4h0M71.8 292.1h0M70.9 293.2h0M69.7 293.6h0M92.4 321.4h0M62.2 300.6h0M63.3 300.2h0M70.3 294.7h0M101.4 307.4h0M80.2 327.6h0M63.3 326.3h0M91.6 315.1h0M93.9 316.6h0M73.2 317.8h0M74.5 317.2h0M59.4 313h0M77.2 302.6h0M94.7 304.3h0M93.8 303.4h0M93.3 302.1h0M79.3 313.6h0M79.7 307h0M80.3 308.2h0M61.2 313.6h0M50.2 303.7h0M49.1 304.3h0M97.5 310.5h0M92.7 332.8h0M93.8 332.8h0M94.6 333.9h0M87.2 319.2h0M70.6 322.5h0M84.2 334.6h0M70.4 355.5h0M71.2 354.3h0M72 353.5h0M87.2 353.8h0M88.6 353.8h0M95 360.7h0M96.4 360.6h0M96.4 359.4h0M79.4 362.8h0M80.7 363.3h0M91.9 359.4h0M91.8 358.1h0M89.9 344.6h0M90.8 345.4h0M73.8 354.6h0M96.9 352.2h0M97.1 353.6h0M97.2 354.9h0M98.2 359.9h0M98.6 361.3h0M99.1 362.7h0M67.2 352.6h0M66.1 353.6h0M65.4 352.5h0M83.7 356.1h0M92.1 344.5h0M98.8 350.1h0M100 350.6h0M101.4 350.8h0M87.9 356.9h0M71.6 346.8h0M71.5 361h0M70.4 361h0M69 361h0M84.7 358.6h0M85.5 359.8h0M86.5 360.9h0M64.4 352.9h0M64.8 351.7h0M64.3 350.7h0M85 349.5h0M83.9 349.5h0M81 360.6h0M80.5 361.6h0M87.7 344.3h0M87.2 345.5h0M87.2 346.7h0M69.3 352.3h0M69.2 353.6h0M67.7 359.1h0M67.1 358h0M67.4 356.8h0M75.3 352.2h0M74.1 352.5h0M90.7 351.1h0M90.3 346.9h0M88.8 346.9h0M65.4 359h0M66.2 360.1h0M67.5 360.3h0M81 350.2h0M81.1 351.3h0M74.7 349.2h0M73.8 350h0M74.2 351.4h0M77.4 357.6h0M77.1 358.9h0M76.4 359.8h0M84.6 344.3h0M92.7 351.2h0M94 351.7h0M95.1 350.9h0M68.9 357.2h0M82.1 347.1h0M81.9 348.1h0M87.9 348.3h0M87.2 359.6h0M76.4 362.6h0M77.3 363.3h0M75.5 346.4h0M76.6 347h0M78 347.5h0M70.5 363.1h0M99.6 355.7h0M98.6 356.2h0M103.4 353.9h0M103 355.1h0M77.3 348.8h0M94.2 357.7h0M93.1 357.4h0M75.8 355.6h0M73 344.6h0M95.2 347.2h0M94.5 348.4h0M94.2 349.7h0M89.9 356.5h0M91.3 356.8h0M91.7 348.3h0M73.5 356.6h0M72.1 357.2h0M65.9 355.4h0M66.9 354.8h0M78.3 350.9h0M77.4 350.2h0M76 350.4h0M73.8 363.2h0M73.6 361.9h0M97.7 347.9h0M98.1 346.7h0M98.7 345.4h0M89.9 358.5h0M79 355.5h0M96.7 357h0M79.8 358.6h0M68.8 350.2h0M67.3 350.2h0M67.1 348.9h0M82.1 358h0M78.2 359.7h0M91.1 363.7h0M90.1 363.1h0M83.8 361.2h0M83.1 360.4h0M83.8 359.5h0M85.7 357.1h0M84.3 365.5h0M85.7 366.1h0M86.9 366.7h0M83.2 350.5h0M83 363.9h0M84.4 364.2h0M85.5 364.3h0M66.1 351h0M82.2 345.2h0M83.1 346h0M83.9 346.8h0M92.7 361.4h0M93 362.7h0M94.1 363.1h0M76.2 361.2h0M85.3 351.8h0M85.4 350.7h0M76.9 364.7h0M81.1 355.5h0M92.5 353h0M68.7 348.3h0M69.5 349.3h0M71 348.9h0M71.7 348.1h0M67.4 346.4h0M84.5 342.5h0M83.4 342.2h0M82.1 341.7h0M90.6 360.8h0M89.7 360.1h0M85.8 346.9h0M84.4 345.2h0M76.1 344.5h0M70.7 350.9h0M70.9 352.1h0M92.5 356h0M78.4 345.7h0M100.1 348.2h0M89.8 349h0M83.2 348.7h0M65.3 361.4h0M64.1 361.1h0M92.2 346.5h0M93.3 347.4h0M73.6 347.1h0M72.9 348.1h0M72.7 349.2h0M96.6 361.8h0M97.6 362.3h0M79.9 347.8h0M70.6 357.8h0M72.9 358.7h0M89.4 362.3h0M88.3 362.9h0M66.1 348.4h0M95.4 349.7h0M95.9 348.7h0M97.2 349h0M69.5 345.7h0M70.7 344.9h0M80.4 343.4h0M80 342.1h0M80.9 341.5h0M85.9 362.1h0M88.5 361.3h0M86.9 365.3h0M95.6 363.4h0M96.4 364.4h0M94.4 344.8h0M95.4 345.6h0M89 352.3h0M90.4 352.5h0M86.5 342.4h0M86.2 341.3h0M86.2 339.8h0M94.6 353.5h0M96.1 353.8h0M68.7 354.5h0M74.6 343.1h0M73.5 342.9h0M94.8 356h0M101.6 353h0M84 354h0M84.7 355.1h0M89 342.9h0M87.7 343.2h0M87.4 363.5h0M99 352.3h0M85.7 355.1h0M80.7 353.6h0M80.8 352.5h0M79.7 351.9h0M77.1 353.8h0M75.5 354h0M100.8 358.8h0M99.5 359.3h0M99.9 360.6h0M98.5 358.1h0M97.3 358.3h0M78.3 343.7h0M101.7 356.1h0M81.2 364.9h0M96.8 346h0M89.2 354.7h0M88.1 355h0M63.7 354.7h0M64.7 354.2h0M83.4 347.6h0M89.5 364.8h0M65.8 357.2h0M64.8 357.6h0M64.1 356.4h0M71.8 343.7h0M75.3 357.8h0M63.5 349.9h0M82.5 343.4h0M95.4 337.6h0M97.2 336.7h0M98.6 336h0M99.8 334.9h0M101.2 334.2h0M102.2 333.2h0M103.4 332.4h0M104.6 331.4h0M100.6 335.5h0M88.8 339.4h0M90.2 340.7h0M167.8 291h0" stroke="#4dbeee" stroke-width="1.55" stroke-linecap="round" fill="none"/>
<path d="M186.6 324.3h0M187.2 318.3h0M186 319h0M127.3 314.8h0M145.6 348h0M172.1 297.4h0M173.7 297.4h0M175.2 297.4h0M176.6 296.8h0M191.7 316.5h0M163.4 326h0M162.1 325.5h0M154.3 314.3h0M181.6 327.6h0M181.9 329.2h0M136.1 338.5h0M137.2 339h0M138 340.2h0M138.8 341.6h0M156.8 332.6h0M157.2 333.7h0M132.5 334.2h0M131.2 333.7h0M161.6 322.3h0M160.1 322.5h0M160.1 323.7h0M168.2 302.9h0M167.6 301.9h0M134.9 323.7h0M135.7 324.9h0M136.3 326.4h0M144.6 333.7h0M145.6 332.4h0M171.5 332.1h0M171.8 333.3h0M173.2 333.5h0M173.5 335.1h0M130.6 318.9h0M130.5 320.1h0M129.7 321h0M128.4 310.7h0M127.1 311h0M126.4 312h0M125 311.9h0M166.9 313.5h0M155.1 301.8h0M156.7 301.6h0M157.9 302.5h0M141.1 316.7h0M141.6 315.4h0M142.7 314.9h0M190.1 322.6h0M189.7 321.3h0M188.3 321.5h0M129 328.4h0M127.9 328.3h0M144.8 322.9h0M144.5 324.3h0M144 325.9h0M127.7 317.5h0M127.8 318.7h0M127.9 320.1h0M135.5 314.6h0M136.9 315.2h0M138.2 315h0M139.1 315.8h0M173.7 305.9h0M173.6 304.4h0M173.1 303h0M172 302.3h0M138.6 338.8h0M139.7 338.4h0M140.9 338.7h0M139.1 312.6h0M138 313.4h0M146.6 306.3h0M146.1 304.9h0M144.9 304.8h0M193 311.4h0M192.9 312.7h0M193.4 314.2h0M194.7 314.9h0M142.7 313.9h0M143.5 312.8h0M142.5 311.7h0M141.2 311.2h0M129.1 301.3h0M128 300.7h0M128.2 299.1h0M127 298h0M176.9 303.2h0M177.4 304.6h0M177.1 305.8h0M160.5 334.2h0M160.7 332.6h0M161.8 332.4h0M164.7 306.6h0M161.8 318.1h0M162.7 316.9h0M183.6 324.4h0M158.6 337.1h0M169 308.2h0M172.6 324.6h0M171.3 323.5h0M171.5 322h0M135.3 320h0M134.4 321.1h0M158.4 306.6h0M190.9 312.6h0M189.4 312.2h0M133.3 327.3h0M132.3 326.2h0M145.1 330.3h0M156.3 315.7h0M157.8 315.2h0M158.9 315.6h0M154.3 332.8h0M154.7 333.9h0M154.3 335.2h0M156 336.5h0M154.9 336.8h0M145.6 293h0M144.7 293.9h0M166.5 323.9h0M165.5 323.1h0M164.3 322.3h0M164.6 321.2h0M164 323.2h0M166.6 325.5h0M148.4 343.4h0M141.7 320.5h0M142.6 319.3h0M144 319.2h0M144.8 318.2h0M177.3 329h0M175.9 329.6h0M180.7 306.2h0M179.8 311.6h0M179.6 309.9h0M151.7 309.2h0M132.7 317.5h0M134.1 318h0M133.9 319.5h0M177.6 325.8h0M176.9 327.1h0M176.2 328.4h0M151.8 335.7h0M153.2 335.8h0M147.5 304.3h0M146.6 303.5h0M145.7 302.5h0M144.9 301.6h0M138.3 301.2h0M151.1 297.8h0M149.6 298.4h0M149.1 299.8h0M150.3 300.8h0M175 332.6h0M175.7 331.2h0M146.5 295.3h0M146.2 296.7h0M144.8 296.5h0M143.3 297h0M168.2 336.1h0M166.6 335.7h0M150 312.5h0M148.3 312.5h0M147.9 311.1h0M152.2 317.1h0M150.8 317.7h0M157.7 320.6h0M153.6 338.8h0M169.2 339.5h0M170.1 338.5h0M171.2 338.3h0M157.4 343.3h0M158.5 343.5h0M159.3 344.5h0M161.5 304.3h0M162.8 343.6h0M192.4 319.5h0M191.1 320.2h0M190.9 321.7h0M192.3 322.1h0M151.8 302.1h0M189 302.7h0M190.3 303.4h0M184.7 321.2h0M174.3 326.2h0M174.9 327.4h0M145.8 315.9h0M144.6 315.3h0M156.8 339.8h0M157.3 338.7h0M158.5 338.4h0M186.9 326.9h0M188.2 327.3h0M189 328.6h0M160.8 341.5h0M162.2 340.9h0M188.1 311.9h0M147.9 331.8h0M176.8 308h0M178 308.8h0M155.1 309.3h0M156.5 309.6h0M148.7 348h0M148.8 346.8h0M148.4 345.3h0M149.7 344.6h0M168.8 295.6h0M167.6 295.1h0M149.4 336.4h0M150.7 335.8h0M146.9 341.5h0M145.7 341.1h0M144.5 342h0M145.3 343.2h0M137.8 317.6h0M173.6 316h0M172.3 316.8h0M177.3 331.9h0M177.6 330.4h0M141.4 300.9h0M140.2 300.4h0M139.2 299.4h0M146.9 299.5h0M130.7 323.4h0M195.6 311.7h0M196.7 312.2h0M196.5 313.5h0M161.5 337.8h0M137 321.4h0M137.2 322.9h0M137.9 323.9h0M132.5 325.1h0M134.7 336.1h0M136 335.3h0M137.1 334.5h0M138.4 334.5h0M167.7 306.4h0M176.7 312.8h0M179.6 303.8h0M175.9 303.9h0M131.2 305.8h0M131.2 304.6h0M146.4 338.5h0M147.8 291.5h0M176.9 321.7h0M166.6 298.7h0M165.8 297.6h0M166.9 296.5h0M128.9 325.9h0M128.3 327.1h0M137 297.3h0M183.3 305.2h0M131.5 310h0M130.8 308.7h0M131 307.6h0M164.9 303.9h0M134.7 295.3h0M135.6 294.1h0M137.1 294.7h0M174.2 302.8h0M175.3 303.1h0M128.3 307.4h0M144.2 320.4h0M131.2 315.1h0M154 322.1h0M132 301.2h0M133.4 301.5h0M133.6 302.7h0M133.4 304h0M164.2 328.4h0M163 329.2h0M171.3 329.4h0M170.4 330.3h0M169.2 329.7h0M167.9 330.8h0M168.2 332h0M168 333.4h0M173.9 313.3h0M150.8 330.8h0M151.5 331.7h0M151.9 333h0M153.1 333.9h0M130.7 330.1h0M189.9 319h0M192.7 321.3h0M148.9 319.8h0M128.2 303.5h0M126.7 303.9h0M170.9 305h0M171.6 306h0M171.7 307.3h0M173.2 307.9h0M132.7 337.5h0M142.1 336.9h0M141.3 336h0M140.3 336.8h0M158.9 310.9h0M158.3 312.1h0M158.1 313.4h0M170.1 301.6h0M168.7 301.1h0M167.7 300.3h0M154.7 341.8h0M153.4 341.6h0M152.2 341.8h0M173.7 330.6h0M173 331.9h0M186.8 303.9h0M186.8 302.3h0M163.3 339.4h0M163.3 340.8h0M164.6 341.7h0M166 341.5h0M165.4 310.3h0M165 311.3h0M166.4 311.8h0M139.5 307.7h0M156 312.5h0M171.2 314.6h0M170.7 313.4h0M171.8 312.4h0M183.9 303h0M183.2 304.1h0M161.7 324.3h0M147 334.7h0M146.2 333.4h0M181.9 301.5h0M137.5 336.8h0M138.7 337.4h0M169.7 297.8h0M168.6 298.4h0M168.7 299.9h0M126.9 295.3h0M128.1 295.5h0M129.1 294.6h0M130.7 294.5h0M137.3 335.8h0M175.9 324.4h0M158 318.2h0M164.4 296.8h0M164.1 298.2h0M163 298.9h0M161.7 298.2h0M164.6 330.9h0M164.5 332.3h0M164.3 333.6h0M150.6 339.6h0M147.5 350.5h0M145.3 345.9h0M126.3 291.7h0M127.4 291h0M173.5 299.2h0M142.7 335.8h0M170.1 312.4h0M129.8 313.2h0M129.1 314.3h0M130.2 315h0M173.7 328.3h0M174.4 329.2h0M150.2 294.2h0M184.4 327.1h0M185.1 325.8h0M186.2 325.8h0M175.1 336.1h0M168.4 327.3h0M177.7 334.4h0M179 335.2h0M180.2 334.3h0M180.3 332.8h0M157.3 303.8h0M156.2 303.1h0M159 332h0M157.9 332.1h0M150.8 346.5h0M151.3 321.4h0M178.4 314.2h0M179.3 315.4h0M180.5 316.2h0M181.9 316.6h0M172 336.4h0M170.7 337h0M169.3 336.5h0M188.2 316.2h0M188.4 317.8h0M170.4 334h0M163.2 301h0M162 301.7h0M148.4 317.2h0M149.6 317.5h0M149.9 319.8h0M157.9 324h0M157.5 322.9h0M156.4 322.2h0M150.3 304h0M149.4 303.3h0M149.2 301.7h0M194.1 309.5h0M194.5 308.4h0M194.2 307.4h0M193.2 306.5h0M194.9 313.1h0M181 324h0M135 331.7h0M135 330.3h0M136.2 329.6h0M182.6 331.4h0M183.8 332.1h0M146.8 312.5h0M146 311.4h0M145.4 310h0M146.6 324.7h0M146.4 323.4h0M194.1 316.8h0M133.7 317h0M133.5 321.9h0M190.5 305.2h0M189.5 304.2h0M188.2 304.5h0M186.9 305.2h0M166.5 332.8h0M166.9 334h0M167.9 334.9h0M169.3 334.8h0M196 315.3h0M185.5 311.4h0M185 310h0M186.2 309h0M186.5 307.6h0M162.4 309.9h0M161.5 308.9h0M161.3 307.4h0M139.3 323.5h0M166.5 340.2h0M166 338.8h0M135.6 328.5h0M135.9 327.3h0M137.3 327.4h0M138.3 328.3h0M165 336h0M163.7 336.4h0M163.2 335.2h0M147.8 297.1h0M147.1 298.4h0M187 320.9h0M186.9 319.7h0M175 307.3h0M175.7 306.2h0M175.4 304.8h0M161.5 314.3h0M179.5 331.3h0M178.7 330.3h0M161.9 327.8h0M161.1 328.9h0M149.7 333.9h0M150.3 332.8h0M189 314.1h0M189.7 313.1h0M190.5 310.7h0M175.7 317.2h0M176.7 316.3h0M177.5 315.2h0M148.9 308.7h0M150.3 308.3h0M150.6 307.1h0M151.5 305.9h0M141.4 323.4h0M140.3 324.2h0M139.7 322.5h0M126.2 319.6h0M124.8 320.2h0M124.2 319h0M146.6 321h0M145.7 319.9h0M151 315h0M149.8 315.6h0M148.6 315.9h0M154.4 330.6h0M140.5 314.7h0M184.1 299.9h0M184.1 301.3h0M133.3 329.7h0M133.4 328.4h0M146.5 318.7h0M174.3 338h0M174 336.8h0M153.3 311.6h0M152.2 310.8h0M141.6 334h0M140.5 334.9h0M139.1 335.3h0M133.3 297.1h0M133.4 295.5h0M132.4 294.7h0M131.7 295.7h0M191.5 307.2h0M189.9 306.9h0M154.7 317.5h0M153.5 317.2h0M150.4 348.9h0M138.8 319.5h0M179 308.7h0M179.5 307.5h0M179.6 306.2h0M178.1 305.8h0M179.2 327.5h0M178.2 328.4h0M179.9 330.4h0M180.2 297.7h0M180.5 298.8h0M160 320h0M158.8 320.3h0M160.5 312.4h0M162 312.2h0M162.6 313.2h0M175.3 311h0M177.6 310.4h0M175.8 300.8h0M174.3 301.1h0M174.7 320.3h0M175.6 319.3h0M132.8 312h0M132.1 313.3h0M128.3 323.4h0M144.4 312.1h0M160.4 326.1h0M185.8 313.9h0M140.6 340.3h0M141.9 339.6h0M142.6 338.6h0M170.8 310.2h0M170.8 308.7h0M169 310h0M166.1 301h0M166.3 303h0M164.9 302.8h0M153.3 299.8h0M153.7 298.2h0M152.4 297.6h0M190.4 326.5h0M189.8 325.1h0M189 323.7h0M186.5 300.8h0M187.5 299.9h0M188.9 299.3h0M135.2 317.1h0M166.9 328.9h0M165.7 329.2h0M176 314.8h0M175.8 312.2h0M174.4 311.6h0M130.6 303.2h0M165.5 315.6h0M165.5 314.4h0M158 334.3h0M156.9 334.8h0M181.8 320.9h0M182.4 322.2h0M182.1 323.4h0M136.5 312.8h0M135.8 311.8h0M143.4 315.9h0M156.1 307h0M157.5 307.3h0M157.2 305.3h0M149.6 341.5h0M148.6 342.3h0M137.3 299.3h0M140.1 335.8h0M136.9 337.6h0M172.2 339.8h0M134.1 325.8h0M140.3 303.3h0M150.1 306.4h0M179.7 300.2h0M179 298.8h0M178.7 297.7h0M177.6 297.2h0M136.3 299.7h0M137.1 300.7h0M159.6 339.2h0M146 309.2h0M144.7 308.5h0M143.5 340.9h0M177.9 316.3h0M145.2 336.3h0M144 336.4h0M143.8 337.6h0M148.4 314.4h0M149.7 313.5h0M150.1 310.7h0M157.8 309.1h0M158.7 308h0M143.5 299.5h0M142.5 300.7h0M142.7 302.3h0M141.2 302.7h0M162.3 306.4h0M160.1 307h0M131.1 320.9h0M132.1 321.8h0M140 305.5h0M152 343.4h0M153.2 343.8h0M154 344.7h0M167.9 311.3h0M167.7 308.5h0M166.1 308.4h0M182 299h0M181.1 299.8h0M168.4 316h0M140.9 313.3h0M184.5 318.8h0M183.1 318.4h0M194.6 321.4h0M194.8 322.9h0M193.8 323.9h0M192.8 324.8h0M140.6 298.1h0M139.5 297.8h0M143.6 291.4h0M144.9 290.7h0M167.3 338h0M168.1 339.3h0M157.8 344.4h0M172.5 318.2h0M176.4 332.5h0M177.5 333.3h0M127.4 313.6h0M179.2 320.9h0M166.3 295.7h0M177.1 319.6h0M177.2 318.2h0M148.5 322.9h0M149.7 323.1h0M150 322h0M143 332h0M143.7 331h0M143 329.8h0M195.4 319.2h0M195.4 320.3h0M196.5 321.1h0M197.6 321.5h0M139.7 310.4h0M138.6 309.6h0M138.5 308.4h0M137.5 307.4h0M125.3 297.4h0M124.1 296.6h0M124 295.5h0M153.1 332.5h0M155.6 331.1h0M171.5 327h0M170.1 326.2h0M169.4 325.2h0M156.2 345.3h0M156.1 346.7h0M154.4 346.9h0M153.2 347.1h0M174.5 322.6h0M156.7 297.8h0M155.3 297.7h0M155.1 299.3h0M154.6 319.8h0M144 338.6h0M143.6 339.7h0M161.9 330.7h0M160.4 330.7h0M159 331h0M164.6 312.8h0M162.9 311.3h0M147.8 301.7h0M126.3 289.5h0M126.4 288h0M178.2 323.8h0M166.5 307.1h0M137.5 332.4h0M138.6 332.9h0M145.1 297.5h0M176.1 298.8h0M189.6 309.1h0M188.3 309.2h0M187.9 307.7h0M166 326.6h0M147.3 329.5h0M148.6 328.6h0M148.3 327.2h0M150.5 343.5h0M157.5 325.2h0M181.5 308.5h0M182.5 309.1h0M152 347.5h0M159.2 302h0M160.5 301.2h0M160.2 308.4h0M160.1 309.9h0M159.9 311.2h0M112.4 313.9h0M113.4 315h0M114.2 319.2h0M115.6 320.1h0M116.8 320.8h0M118.6 321.7h0M119.8 321.2h0M117.8 320.7h0M62.6 293.2h0M126.6 288.9h0M126.2 290.3h0M126.8 291.7h0" stroke="#7e2f8e" stroke-width="1.7" stroke-linecap="round" fill="none"/>
<rect x="33.8" y="197.4" width="199.9" height="178.7" fill="none" stroke="#262626" stroke-width="0.8"/>
<path d="M73.8 376.1v-2.8M73.8 197.4v2.8M113.8 376.1v-2.8M113.8 197.4v2.8M153.8 376.1v-2.8M153.8 197.4v2.8M193.8 376.1v-2.8M193.8 197.4v2.8M33.8 340.3h2.8M233.7 340.3h-2.8M33.8 304.6h2.8M233.7 304.6h-2.8M33.8 268.9h2.8M233.7 268.9h-2.8M33.8 233.2h2.8M233.7 233.2h-2.8" stroke="#262626" stroke-width="0.7" fill="none"/>
<text x="31.9" y="386" font-size="8.1" text-anchor="middle" fill="#000">-40</text>
<text x="31.2" y="377.6" font-size="8.1" text-anchor="end" fill="#000">-40</text>
<text x="71.9" y="386" font-size="8.1" text-anchor="middle" fill="#000">-20</text>
<text x="31.2" y="342.6" font-size="8.1" text-anchor="end" fill="#000">-20</text>
<text x="113.3" y="386" font-size="8.1" text-anchor="middle" fill="#000">0</text>
<text x="31.2" y="307.5" font-size="8.1" text-anchor="end" fill="#000">0</text>
<text x="153.3" y="386" font-size="8.1" text-anchor="middle" fill="#000">20</text>
<text x="31.2" y="272.5" font-size="8.1" text-anchor="end" fill="#000">20</text>
<text x="193.3" y="386" font-size="8.1" text-anchor="middle" fill="#000">40</text>
<text x="31.2" y="237.4" font-size="8.1" text-anchor="end" fill="#000">40</text>
<text x="230.8" y="386" font-size="8.1" text-anchor="middle" fill="#000">60</text>
<text x="31.2" y="202.4" font-size="8.1" text-anchor="end" fill="#000">60</text>
<text x="137" y="398.3" font-size="8.3" text-anchor="middle" fill="#000">t-SNE feature 1 (a.u.)</text>
<text x="14.4" y="285" font-size="8.3" text-anchor="middle" fill="#000" transform="rotate(-90 14.4 285)">t-SNE feature 2 (a.u.)</text>
<text x="134" y="192.8" font-size="8.1" text-anchor="middle" fill="#000">t-SNE Clustering</text>
<circle cx="169.3" cy="213.5" r="2.4" fill="#7e2f8e"/>
<text x="176.8" y="216.4" font-size="8.1" text-anchor="start" fill="#000">RBC</text>
<circle cx="169.3" cy="224" r="2.4" fill="#4dbeee"/>
<text x="176.8" y="226.9" font-size="8.1" text-anchor="start" fill="#000">PBMC</text>
<circle cx="169.3" cy="234.7" r="2.4" fill="#77ac30"/>
<text x="176.8" y="237.6" font-size="8.1" text-anchor="start" fill="#000">MDA-MB-231</text>
</g>
<g id="pd">
<text x="7" y="417" font-size="9.5" text-anchor="start" fill="#000">d</text>
<path d="M175.35 532.7A71.35 71.35 0 0 1 175.22 537" stroke="#b92632" stroke-width="9.95" fill="none"/>
<path d="M185.05 532.7A81.05 81.05 0 0 1 184.9 537.58" stroke="#fddbc7" stroke-width="9.95" fill="none"/>
<path d="M194.75 532.7A90.75 90.75 0 0 1 194.59 538.17" stroke="#e0ecf3" stroke-width="9.95" fill="none"/>
<path d="M175.24 536.7A71.35 71.35 0 0 1 174.85 541.13" stroke="#e58268" stroke-width="9.95" fill="none"/>
<path d="M184.92 537.24A81.05 81.05 0 0 1 184.48 542.28" stroke="#fddbc7" stroke-width="9.95" fill="none"/>
<path d="M194.61 537.79A90.75 90.75 0 0 1 194.11 543.42" stroke="#e4eef4" stroke-width="9.95" fill="none"/>
<path d="M174.88 540.83A71.35 71.35 0 0 1 174.24 545.24" stroke="#ee9777" stroke-width="9.95" fill="none"/>
<path d="M184.52 541.94A81.05 81.05 0 0 1 183.79 546.94" stroke="#f7f7f7" stroke-width="9.95" fill="none"/>
<path d="M194.16 543.05A90.75 90.75 0 0 1 193.34 548.65" stroke="#d1e5f0" stroke-width="9.95" fill="none"/>
<path d="M174.29 544.94A71.35 71.35 0 0 1 173.39 549.3" stroke="#f6b090" stroke-width="9.95" fill="none"/>
<path d="M183.85 546.61A81.05 81.05 0 0 1 182.83 551.56" stroke="#e4eef4" stroke-width="9.95" fill="none"/>
<path d="M193.4 548.27A90.75 90.75 0 0 1 192.26 553.81" stroke="#9fcbe2" stroke-width="9.95" fill="none"/>
<path d="M173.46 549.01A71.35 71.35 0 0 1 172.31 553.31" stroke="#6aacd0" stroke-width="9.95" fill="none"/>
<path d="M182.9 551.23A81.05 81.05 0 0 1 181.6 556.11" stroke="#3c8abe" stroke-width="9.95" fill="none"/>
<path d="M192.35 553.44A90.75 90.75 0 0 1 190.88 558.91" stroke="#3c8abe" stroke-width="9.95" fill="none"/>
<path d="M172.4 553.02A71.35 71.35 0 0 1 171 557.24" stroke="#e0ecf3" stroke-width="9.95" fill="none"/>
<path d="M181.69 555.78A81.05 81.05 0 0 1 180.1 560.58" stroke="#6aacd0" stroke-width="9.95" fill="none"/>
<path d="M190.99 558.55A90.75 90.75 0 0 1 189.21 563.92" stroke="#c4dfec" stroke-width="9.95" fill="none"/>
<path d="M171.1 556.96A71.35 71.35 0 0 1 169.46 561.1" stroke="#e4eef4" stroke-width="9.95" fill="none"/>
<path d="M180.22 560.26A81.05 81.05 0 0 1 178.35 564.96" stroke="#f7f7f7" stroke-width="9.95" fill="none"/>
<path d="M189.34 563.56A90.75 90.75 0 0 1 187.25 568.82" stroke="#f9efe9" stroke-width="9.95" fill="none"/>
<path d="M169.57 560.82A71.35 71.35 0 0 1 167.69 564.86" stroke="#ee9777" stroke-width="9.95" fill="none"/>
<path d="M178.49 564.65A81.05 81.05 0 0 1 176.35 569.23" stroke="#fce1d1" stroke-width="9.95" fill="none"/>
<path d="M187.4 568.47A90.75 90.75 0 0 1 185.01 573.6" stroke="#82bbd9" stroke-width="9.95" fill="none"/>
<path d="M167.83 564.59A71.35 71.35 0 0 1 165.72 568.5" stroke="#7e0723" stroke-width="9.95" fill="none"/>
<path d="M176.5 568.92A81.05 81.05 0 0 1 174.11 573.37" stroke="#b2182b" stroke-width="9.95" fill="none"/>
<path d="M185.18 573.26A90.75 90.75 0 0 1 182.5 578.24" stroke="#f4a582" stroke-width="9.95" fill="none"/>
<path d="M165.87 568.25A71.35 71.35 0 0 1 163.53 572.03" stroke="#b92632" stroke-width="9.95" fill="none"/>
<path d="M174.28 573.08A81.05 81.05 0 0 1 171.62 577.38" stroke="#fce1d1" stroke-width="9.95" fill="none"/>
<path d="M182.69 577.91A90.75 90.75 0 0 1 179.72 582.73" stroke="#e0ecf3" stroke-width="9.95" fill="none"/>
<path d="M163.69 571.78A71.35 71.35 0 0 1 161.14 575.43" stroke="#7e0723" stroke-width="9.95" fill="none"/>
<path d="M171.81 577.1A81.05 81.05 0 0 1 168.91 581.24" stroke="#b2182b" stroke-width="9.95" fill="none"/>
<path d="M179.92 582.41A90.75 90.75 0 0 1 176.68 587.04" stroke="#f4a582" stroke-width="9.95" fill="none"/>
<path d="M161.32 575.19A71.35 71.35 0 0 1 158.56 578.68" stroke="#f4a582" stroke-width="9.95" fill="none"/>
<path d="M169.11 580.96A81.05 81.05 0 0 1 165.98 584.93" stroke="#e58268" stroke-width="9.95" fill="none"/>
<path d="M176.91 586.74A90.75 90.75 0 0 1 173.4 591.18" stroke="#f6b090" stroke-width="9.95" fill="none"/>
<path d="M158.75 578.45A71.35 71.35 0 0 1 155.8 581.77" stroke="#a31329" stroke-width="9.95" fill="none"/>
<path d="M166.2 584.67A81.05 81.05 0 0 1 162.84 588.44" stroke="#c43c3c" stroke-width="9.95" fill="none"/>
<path d="M173.64 590.89A90.75 90.75 0 0 1 169.88 595.11" stroke="#760521" stroke-width="9.95" fill="none"/>
<path d="M156 581.55A71.35 71.35 0 0 1 152.85 584.7" stroke="#f4a582" stroke-width="9.95" fill="none"/>
<path d="M163.07 588.2A81.05 81.05 0 0 1 159.5 591.77" stroke="#d6604d" stroke-width="9.95" fill="none"/>
<path d="M170.14 594.84A90.75 90.75 0 0 1 166.14 598.84" stroke="#fbd0b9" stroke-width="9.95" fill="none"/>
<path d="M153.07 584.5A71.35 71.35 0 0 1 149.75 587.45" stroke="#f4a582" stroke-width="9.95" fill="none"/>
<path d="M159.74 591.54A81.05 81.05 0 0 1 155.97 594.9" stroke="#fddbc7" stroke-width="9.95" fill="none"/>
<path d="M166.41 598.58A90.75 90.75 0 0 1 162.19 602.34" stroke="#f7f7f7" stroke-width="9.95" fill="none"/>
<path d="M149.98 587.26A71.35 71.35 0 0 1 146.49 590.02" stroke="#f8c0a4" stroke-width="9.95" fill="none"/>
<path d="M156.23 594.68A81.05 81.05 0 0 1 152.26 597.81" stroke="#f7f7f7" stroke-width="9.95" fill="none"/>
<path d="M162.48 602.1A90.75 90.75 0 0 1 158.04 605.61" stroke="#e4eef4" stroke-width="9.95" fill="none"/>
<path d="M146.73 589.84A71.35 71.35 0 0 1 143.08 592.39" stroke="#f4a582" stroke-width="9.95" fill="none"/>
<path d="M152.54 597.61A81.05 81.05 0 0 1 148.4 600.51" stroke="#f7f7f7" stroke-width="9.95" fill="none"/>
<path d="M158.34 605.38A90.75 90.75 0 0 1 153.71 608.62" stroke="#e4eef4" stroke-width="9.95" fill="none"/>
<path d="M143.33 592.23A71.35 71.35 0 0 1 139.55 594.57" stroke="#67001f" stroke-width="9.95" fill="none"/>
<path d="M148.68 600.32A81.05 81.05 0 0 1 144.38 602.98" stroke="#67001f" stroke-width="9.95" fill="none"/>
<path d="M154.03 608.42A90.75 90.75 0 0 1 149.21 611.39" stroke="#67001f" stroke-width="9.95" fill="none"/>
<path d="M139.8 594.42A71.35 71.35 0 0 1 135.89 596.53" stroke="#fbd0b9" stroke-width="9.95" fill="none"/>
<path d="M144.67 602.81A81.05 81.05 0 0 1 140.22 605.2" stroke="#fddbc7" stroke-width="9.95" fill="none"/>
<path d="M149.54 611.2A90.75 90.75 0 0 1 144.56 613.88" stroke="#fce1d1" stroke-width="9.95" fill="none"/>
<path d="M136.16 596.39A71.35 71.35 0 0 1 132.12 598.27" stroke="#dc6e58" stroke-width="9.95" fill="none"/>
<path d="M140.53 605.05A81.05 81.05 0 0 1 135.95 607.19" stroke="#f4a582" stroke-width="9.95" fill="none"/>
<path d="M144.9 613.71A90.75 90.75 0 0 1 139.77 616.1" stroke="#fbd0b9" stroke-width="9.95" fill="none"/>
<path d="M132.4 598.16A71.35 71.35 0 0 1 128.26 599.8" stroke="#fbd0b9" stroke-width="9.95" fill="none"/>
<path d="M136.26 607.05A81.05 81.05 0 0 1 131.56 608.92" stroke="#f4a582" stroke-width="9.95" fill="none"/>
<path d="M140.12 615.95A90.75 90.75 0 0 1 134.86 618.04" stroke="#f4a582" stroke-width="9.95" fill="none"/>
<path d="M128.54 599.7A71.35 71.35 0 0 1 124.32 601.1" stroke="#8c0c25" stroke-width="9.95" fill="none"/>
<path d="M131.88 608.8A81.05 81.05 0 0 1 127.08 610.39" stroke="#8c0c25" stroke-width="9.95" fill="none"/>
<path d="M135.22 617.91A90.75 90.75 0 0 1 129.85 619.69" stroke="#a31329" stroke-width="9.95" fill="none"/>
<path d="M124.61 601.01A71.35 71.35 0 0 1 120.31 602.16" stroke="#d1e5f0" stroke-width="9.95" fill="none"/>
<path d="M127.41 610.3A81.05 81.05 0 0 1 122.53 611.6" stroke="#92c5de" stroke-width="9.95" fill="none"/>
<path d="M130.21 619.58A90.75 90.75 0 0 1 124.74 621.05" stroke="#6aacd0" stroke-width="9.95" fill="none"/>
<path d="M120.6 602.09A71.35 71.35 0 0 1 116.24 602.99" stroke="#c43c3c" stroke-width="9.95" fill="none"/>
<path d="M122.86 611.53A81.05 81.05 0 0 1 117.91 612.55" stroke="#a31329" stroke-width="9.95" fill="none"/>
<path d="M125.11 620.96A90.75 90.75 0 0 1 119.57 622.1" stroke="#a31329" stroke-width="9.95" fill="none"/>
<path d="M116.54 602.94A71.35 71.35 0 0 1 112.13 603.58" stroke="#cf5246" stroke-width="9.95" fill="none"/>
<path d="M118.24 612.49A81.05 81.05 0 0 1 113.24 613.22" stroke="#e58268" stroke-width="9.95" fill="none"/>
<path d="M119.95 622.04A90.75 90.75 0 0 1 114.35 622.86" stroke="#f4a582" stroke-width="9.95" fill="none"/>
<path d="M112.43 603.55A71.35 71.35 0 0 1 108 603.94" stroke="#fbd0b9" stroke-width="9.95" fill="none"/>
<path d="M113.58 613.18A81.05 81.05 0 0 1 108.54 613.62" stroke="#f7f7f7" stroke-width="9.95" fill="none"/>
<path d="M114.72 622.81A90.75 90.75 0 0 1 109.09 623.31" stroke="#e4eef4" stroke-width="9.95" fill="none"/>
<path d="M108.3 603.92A71.35 71.35 0 0 1 103.85 604.05" stroke="#f6b090" stroke-width="9.95" fill="none"/>
<path d="M108.88 613.6A81.05 81.05 0 0 1 103.83 613.75" stroke="#f7f7f7" stroke-width="9.95" fill="none"/>
<path d="M109.47 623.29A90.75 90.75 0 0 1 103.81 623.45" stroke="#f7f7f7" stroke-width="9.95" fill="none"/>
<path d="M104.15 604.05A71.35 71.35 0 0 1 99.7 603.92" stroke="#fbd0b9" stroke-width="9.95" fill="none"/>
<path d="M104.17 613.75A81.05 81.05 0 0 1 99.12 613.6" stroke="#fae9df" stroke-width="9.95" fill="none"/>
<path d="M104.19 623.45A90.75 90.75 0 0 1 98.53 623.29" stroke="#fce1d1" stroke-width="9.95" fill="none"/>
<path d="M100 603.94A71.35 71.35 0 0 1 95.57 603.55" stroke="#f4a582" stroke-width="9.95" fill="none"/>
<path d="M99.46 613.62A81.05 81.05 0 0 1 94.42 613.18" stroke="#e4eef4" stroke-width="9.95" fill="none"/>
<path d="M98.91 623.31A90.75 90.75 0 0 1 93.28 622.81" stroke="#dceaf2" stroke-width="9.95" fill="none"/>
<path d="M95.87 603.58A71.35 71.35 0 0 1 91.46 602.94" stroke="#fbd0b9" stroke-width="9.95" fill="none"/>
<path d="M94.76 613.22A81.05 81.05 0 0 1 89.76 612.49" stroke="#fddbc7" stroke-width="9.95" fill="none"/>
<path d="M93.65 622.86A90.75 90.75 0 0 1 88.05 622.04" stroke="#fddbc7" stroke-width="9.95" fill="none"/>
<path d="M91.76 602.99A71.35 71.35 0 0 1 87.4 602.09" stroke="#7e0723" stroke-width="9.95" fill="none"/>
<path d="M90.09 612.55A81.05 81.05 0 0 1 85.14 611.53" stroke="#7e0723" stroke-width="9.95" fill="none"/>
<path d="M88.43 622.1A90.75 90.75 0 0 1 82.89 620.96" stroke="#fddbc7" stroke-width="9.95" fill="none"/>
<path d="M87.69 602.16A71.35 71.35 0 0 1 83.39 601.01" stroke="#f4a582" stroke-width="9.95" fill="none"/>
<path d="M85.47 611.6A81.05 81.05 0 0 1 80.59 610.3" stroke="#eff3f6" stroke-width="9.95" fill="none"/>
<path d="M83.26 621.05A90.75 90.75 0 0 1 77.79 619.58" stroke="#fddbc7" stroke-width="9.95" fill="none"/>
<path d="M83.68 601.1A71.35 71.35 0 0 1 79.46 599.7" stroke="#cf5246" stroke-width="9.95" fill="none"/>
<path d="M80.92 610.39A81.05 81.05 0 0 1 76.12 608.8" stroke="#c43c3c" stroke-width="9.95" fill="none"/>
<path d="M78.15 619.69A90.75 90.75 0 0 1 72.78 617.91" stroke="#8c0c25" stroke-width="9.95" fill="none"/>
<path d="M79.74 599.8A71.35 71.35 0 0 1 75.6 598.16" stroke="#539dc8" stroke-width="9.95" fill="none"/>
<path d="M76.44 608.92A81.05 81.05 0 0 1 71.74 607.05" stroke="#327db8" stroke-width="9.95" fill="none"/>
<path d="M73.14 618.04A90.75 90.75 0 0 1 67.88 615.95" stroke="#0d4078" stroke-width="9.95" fill="none"/>
<path d="M75.88 598.27A71.35 71.35 0 0 1 71.84 596.39" stroke="#d9e9f1" stroke-width="9.95" fill="none"/>
<path d="M72.05 607.19A81.05 81.05 0 0 1 67.47 605.05" stroke="#fce1d1" stroke-width="9.95" fill="none"/>
<path d="M68.23 616.1A90.75 90.75 0 0 1 63.1 613.71" stroke="#f4a582" stroke-width="9.95" fill="none"/>
<path d="M72.11 596.53A71.35 71.35 0 0 1 68.2 594.42" stroke="#d9e9f1" stroke-width="9.95" fill="none"/>
<path d="M67.78 605.2A81.05 81.05 0 0 1 63.33 602.81" stroke="#e4eef4" stroke-width="9.95" fill="none"/>
<path d="M63.44 613.88A90.75 90.75 0 0 1 58.46 611.2" stroke="#f7f7f7" stroke-width="9.95" fill="none"/>
<path d="M68.45 594.57A71.35 71.35 0 0 1 64.67 592.23" stroke="#fbd0b9" stroke-width="9.95" fill="none"/>
<path d="M63.62 602.98A81.05 81.05 0 0 1 59.32 600.32" stroke="#fddbc7" stroke-width="9.95" fill="none"/>
<path d="M58.79 611.39A90.75 90.75 0 0 1 53.97 608.42" stroke="#c43c3c" stroke-width="9.95" fill="none"/>
<path d="M64.92 592.39A71.35 71.35 0 0 1 61.27 589.84" stroke="#e58268" stroke-width="9.95" fill="none"/>
<path d="M59.6 600.51A81.05 81.05 0 0 1 55.46 597.61" stroke="#c43c3c" stroke-width="9.95" fill="none"/>
<path d="M54.29 608.62A90.75 90.75 0 0 1 49.66 605.38" stroke="#c43c3c" stroke-width="9.95" fill="none"/>
<path d="M61.51 590.02A71.35 71.35 0 0 1 58.02 587.26" stroke="#c4dfec" stroke-width="9.95" fill="none"/>
<path d="M55.74 597.81A81.05 81.05 0 0 1 51.77 594.68" stroke="#4393c3" stroke-width="9.95" fill="none"/>
<path d="M49.96 605.61A90.75 90.75 0 0 1 45.52 602.1" stroke="#b1d5e7" stroke-width="9.95" fill="none"/>
<path d="M58.25 587.45A71.35 71.35 0 0 1 54.93 584.5" stroke="#d9e9f1" stroke-width="9.95" fill="none"/>
<path d="M52.03 594.9A81.05 81.05 0 0 1 48.26 591.54" stroke="#f7f7f7" stroke-width="9.95" fill="none"/>
<path d="M45.81 602.34A90.75 90.75 0 0 1 41.59 598.58" stroke="#539dc8" stroke-width="9.95" fill="none"/>
<path d="M55.15 584.7A71.35 71.35 0 0 1 52 581.55" stroke="#fddbc7" stroke-width="9.95" fill="none"/>
<path d="M48.5 591.77A81.05 81.05 0 0 1 44.93 588.2" stroke="#f4a582" stroke-width="9.95" fill="none"/>
<path d="M41.86 598.84A90.75 90.75 0 0 1 37.86 594.84" stroke="#f6b090" stroke-width="9.95" fill="none"/>
<path d="M52.2 581.77A71.35 71.35 0 0 1 49.25 578.45" stroke="#f6b090" stroke-width="9.95" fill="none"/>
<path d="M45.16 588.44A81.05 81.05 0 0 1 41.8 584.67" stroke="#f7f7f7" stroke-width="9.95" fill="none"/>
<path d="M38.12 595.11A90.75 90.75 0 0 1 34.36 590.89" stroke="#fddbc7" stroke-width="9.95" fill="none"/>
<path d="M49.44 578.68A71.35 71.35 0 0 1 46.68 575.19" stroke="#fddbc7" stroke-width="9.95" fill="none"/>
<path d="M42.02 584.93A81.05 81.05 0 0 1 38.89 580.96" stroke="#e4eef4" stroke-width="9.95" fill="none"/>
<path d="M34.6 591.18A90.75 90.75 0 0 1 31.09 586.74" stroke="#f8f1ed" stroke-width="9.95" fill="none"/>
<path d="M46.86 575.43A71.35 71.35 0 0 1 44.31 571.78" stroke="#fbd0b9" stroke-width="9.95" fill="none"/>
<path d="M39.09 581.24A81.05 81.05 0 0 1 36.19 577.1" stroke="#f7f7f7" stroke-width="9.95" fill="none"/>
<path d="M31.32 587.04A90.75 90.75 0 0 1 28.08 582.41" stroke="#fddbc7" stroke-width="9.95" fill="none"/>
<path d="M44.47 572.03A71.35 71.35 0 0 1 42.13 568.25" stroke="#b1d5e7" stroke-width="9.95" fill="none"/>
<path d="M36.38 577.38A81.05 81.05 0 0 1 33.72 573.08" stroke="#539dc8" stroke-width="9.95" fill="none"/>
<path d="M28.28 582.73A90.75 90.75 0 0 1 25.31 577.91" stroke="#b1d5e7" stroke-width="9.95" fill="none"/>
<path d="M42.28 568.5A71.35 71.35 0 0 1 40.17 564.59" stroke="#d6604d" stroke-width="9.95" fill="none"/>
<path d="M33.89 573.37A81.05 81.05 0 0 1 31.5 568.92" stroke="#c43c3c" stroke-width="9.95" fill="none"/>
<path d="M25.5 578.24A90.75 90.75 0 0 1 22.82 573.26" stroke="#7e0723" stroke-width="9.95" fill="none"/>
<path d="M40.31 564.86A71.35 71.35 0 0 1 38.43 560.82" stroke="#d6604d" stroke-width="9.95" fill="none"/>
<path d="M31.65 569.23A81.05 81.05 0 0 1 29.51 564.65" stroke="#d9e9f1" stroke-width="9.95" fill="none"/>
<path d="M22.99 573.6A90.75 90.75 0 0 1 20.6 568.47" stroke="#c43c3c" stroke-width="9.95" fill="none"/>
<path d="M38.54 561.1A71.35 71.35 0 0 1 36.9 556.96" stroke="#fddbc7" stroke-width="9.95" fill="none"/>
<path d="M29.65 564.96A81.05 81.05 0 0 1 27.78 560.26" stroke="#f7f7f7" stroke-width="9.95" fill="none"/>
<path d="M20.75 568.82A90.75 90.75 0 0 1 18.66 563.56" stroke="#cf5246" stroke-width="9.95" fill="none"/>
<path d="M37 557.24A71.35 71.35 0 0 1 35.6 553.02" stroke="#327db8" stroke-width="9.95" fill="none"/>
<path d="M27.9 560.58A81.05 81.05 0 0 1 26.31 555.78" stroke="#2166ac" stroke-width="9.95" fill="none"/>
<path d="M18.79 563.92A90.75 90.75 0 0 1 17.01 558.55" stroke="#0d4078" stroke-width="9.95" fill="none"/>
<path d="M35.69 553.31A71.35 71.35 0 0 1 34.54 549.01" stroke="#539dc8" stroke-width="9.95" fill="none"/>
<path d="M26.4 556.11A81.05 81.05 0 0 1 25.1 551.23" stroke="#d9e9f1" stroke-width="9.95" fill="none"/>
<path d="M17.12 558.91A90.75 90.75 0 0 1 15.65 553.44" stroke="#4393c3" stroke-width="9.95" fill="none"/>
<path d="M34.61 549.3A71.35 71.35 0 0 1 33.71 544.94" stroke="#c4dfec" stroke-width="9.95" fill="none"/>
<path d="M25.17 551.56A81.05 81.05 0 0 1 24.15 546.61" stroke="#6aacd0" stroke-width="9.95" fill="none"/>
<path d="M15.74 553.81A90.75 90.75 0 0 1 14.6 548.27" stroke="#134b87" stroke-width="9.95" fill="none"/>
<path d="M33.76 545.24A71.35 71.35 0 0 1 33.12 540.83" stroke="#d1e5f0" stroke-width="9.95" fill="none"/>
<path d="M24.21 546.94A81.05 81.05 0 0 1 23.48 541.94" stroke="#f7f7f7" stroke-width="9.95" fill="none"/>
<path d="M14.66 548.65A90.75 90.75 0 0 1 13.84 543.05" stroke="#d1e5f0" stroke-width="9.95" fill="none"/>
<path d="M33.15 541.13A71.35 71.35 0 0 1 32.76 536.7" stroke="#f6b090" stroke-width="9.95" fill="none"/>
<path d="M23.52 542.28A81.05 81.05 0 0 1 23.08 537.24" stroke="#f7f7f7" stroke-width="9.95" fill="none"/>
<path d="M13.89 543.42A90.75 90.75 0 0 1 13.39 537.79" stroke="#e58268" stroke-width="9.95" fill="none"/>
<path d="M32.78 537A71.35 71.35 0 0 1 32.65 532.55" stroke="#c43c3c" stroke-width="9.95" fill="none"/>
<path d="M23.1 537.58A81.05 81.05 0 0 1 22.95 532.53" stroke="#8c0c25" stroke-width="9.95" fill="none"/>
<path d="M13.41 538.17A90.75 90.75 0 0 1 13.25 532.51" stroke="#f6b090" stroke-width="9.95" fill="none"/>
<path d="M32.65 532.85A71.35 71.35 0 0 1 32.78 528.4" stroke="#c43c3c" stroke-width="9.95" fill="none"/>
<path d="M22.95 532.87A81.05 81.05 0 0 1 23.1 527.82" stroke="#8c0c25" stroke-width="9.95" fill="none"/>
<path d="M13.25 532.89A90.75 90.75 0 0 1 13.41 527.23" stroke="#fbe3d5" stroke-width="9.95" fill="none"/>
<path d="M32.76 528.7A71.35 71.35 0 0 1 33.15 524.27" stroke="#e58268" stroke-width="9.95" fill="none"/>
<path d="M23.08 528.16A81.05 81.05 0 0 1 23.52 523.12" stroke="#c43c3c" stroke-width="9.95" fill="none"/>
<path d="M13.39 527.61A90.75 90.75 0 0 1 13.89 521.98" stroke="#bd2e35" stroke-width="9.95" fill="none"/>
<path d="M33.12 524.57A71.35 71.35 0 0 1 33.76 520.16" stroke="#fbd0b9" stroke-width="9.95" fill="none"/>
<path d="M23.48 523.46A81.05 81.05 0 0 1 24.21 518.46" stroke="#f7f7f7" stroke-width="9.95" fill="none"/>
<path d="M13.84 522.35A90.75 90.75 0 0 1 14.66 516.75" stroke="#e4eef4" stroke-width="9.95" fill="none"/>
<path d="M33.71 520.46A71.35 71.35 0 0 1 34.61 516.1" stroke="#fbd0b9" stroke-width="9.95" fill="none"/>
<path d="M24.15 518.79A81.05 81.05 0 0 1 25.17 513.84" stroke="#f7f7f7" stroke-width="9.95" fill="none"/>
<path d="M14.6 517.13A90.75 90.75 0 0 1 15.74 511.59" stroke="#e58268" stroke-width="9.95" fill="none"/>
<path d="M34.54 516.39A71.35 71.35 0 0 1 35.69 512.09" stroke="#fddbc7" stroke-width="9.95" fill="none"/>
<path d="M25.1 514.17A81.05 81.05 0 0 1 26.4 509.29" stroke="#f7f7f7" stroke-width="9.95" fill="none"/>
<path d="M15.65 511.96A90.75 90.75 0 0 1 17.12 506.49" stroke="#e4eef4" stroke-width="9.95" fill="none"/>
<path d="M35.6 512.38A71.35 71.35 0 0 1 37 508.16" stroke="#f7f7f7" stroke-width="9.95" fill="none"/>
<path d="M26.31 509.62A81.05 81.05 0 0 1 27.9 504.82" stroke="#e0ecf3" stroke-width="9.95" fill="none"/>
<path d="M17.01 506.85A90.75 90.75 0 0 1 18.79 501.48" stroke="#f4a582" stroke-width="9.95" fill="none"/>
<path d="M36.9 508.44A71.35 71.35 0 0 1 38.54 504.3" stroke="#d1e5f0" stroke-width="9.95" fill="none"/>
<path d="M27.78 505.14A81.05 81.05 0 0 1 29.65 500.44" stroke="#e4eef4" stroke-width="9.95" fill="none"/>
<path d="M18.66 501.84A90.75 90.75 0 0 1 20.75 496.58" stroke="#dceaf2" stroke-width="9.95" fill="none"/>
<path d="M38.43 504.58A71.35 71.35 0 0 1 40.31 500.54" stroke="#c4dfec" stroke-width="9.95" fill="none"/>
<path d="M29.51 500.75A81.05 81.05 0 0 1 31.65 496.17" stroke="#82bbd9" stroke-width="9.95" fill="none"/>
<path d="M20.6 496.93A90.75 90.75 0 0 1 22.99 491.8" stroke="#6aacd0" stroke-width="9.95" fill="none"/>
<path d="M40.17 500.81A71.35 71.35 0 0 1 42.28 496.9" stroke="#d1e5f0" stroke-width="9.95" fill="none"/>
<path d="M31.5 496.48A81.05 81.05 0 0 1 33.89 492.03" stroke="#c4dfec" stroke-width="9.95" fill="none"/>
<path d="M22.82 492.14A90.75 90.75 0 0 1 25.5 487.16" stroke="#fce1d1" stroke-width="9.95" fill="none"/>
<path d="M42.13 497.15A71.35 71.35 0 0 1 44.47 493.37" stroke="#fddbc7" stroke-width="9.95" fill="none"/>
<path d="M33.72 492.32A81.05 81.05 0 0 1 36.38 488.02" stroke="#92c5de" stroke-width="9.95" fill="none"/>
<path d="M25.31 487.49A90.75 90.75 0 0 1 28.28 482.67" stroke="#92c5de" stroke-width="9.95" fill="none"/>
<path d="M44.31 493.62A71.35 71.35 0 0 1 46.86 489.97" stroke="#e58268" stroke-width="9.95" fill="none"/>
<path d="M36.19 488.3A81.05 81.05 0 0 1 39.09 484.16" stroke="#fddbc7" stroke-width="9.95" fill="none"/>
<path d="M28.08 482.99A90.75 90.75 0 0 1 31.32 478.36" stroke="#fce1d1" stroke-width="9.95" fill="none"/>
<path d="M46.68 490.21A71.35 71.35 0 0 1 49.44 486.72" stroke="#fddbc7" stroke-width="9.95" fill="none"/>
<path d="M38.89 484.44A81.05 81.05 0 0 1 42.02 480.47" stroke="#f4a582" stroke-width="9.95" fill="none"/>
<path d="M31.09 478.66A90.75 90.75 0 0 1 34.6 474.22" stroke="#f4a582" stroke-width="9.95" fill="none"/>
<path d="M49.25 486.95A71.35 71.35 0 0 1 52.2 483.63" stroke="#f6b090" stroke-width="9.95" fill="none"/>
<path d="M41.8 480.73A81.05 81.05 0 0 1 45.16 476.96" stroke="#fbd0b9" stroke-width="9.95" fill="none"/>
<path d="M34.36 474.51A90.75 90.75 0 0 1 38.12 470.29" stroke="#f4a582" stroke-width="9.95" fill="none"/>
<path d="M52 483.85A71.35 71.35 0 0 1 55.15 480.7" stroke="#e4eef4" stroke-width="9.95" fill="none"/>
<path d="M44.93 477.2A81.05 81.05 0 0 1 48.5 473.63" stroke="#e4eef4" stroke-width="9.95" fill="none"/>
<path d="M37.86 470.56A90.75 90.75 0 0 1 41.86 466.56" stroke="#e58268" stroke-width="9.95" fill="none"/>
<path d="M54.93 480.9A71.35 71.35 0 0 1 58.25 477.95" stroke="#e0ecf3" stroke-width="9.95" fill="none"/>
<path d="M48.26 473.86A81.05 81.05 0 0 1 52.03 470.5" stroke="#d1e5f0" stroke-width="9.95" fill="none"/>
<path d="M41.59 466.82A90.75 90.75 0 0 1 45.81 463.06" stroke="#539dc8" stroke-width="9.95" fill="none"/>
<path d="M58.02 478.14A71.35 71.35 0 0 1 61.51 475.38" stroke="#f4a582" stroke-width="9.95" fill="none"/>
<path d="M51.77 470.72A81.05 81.05 0 0 1 55.74 467.59" stroke="#a31329" stroke-width="9.95" fill="none"/>
<path d="M45.52 463.3A90.75 90.75 0 0 1 49.96 459.79" stroke="#c43c3c" stroke-width="9.95" fill="none"/>
<path d="M61.27 475.56A71.35 71.35 0 0 1 64.92 473.01" stroke="#cf5246" stroke-width="9.95" fill="none"/>
<path d="M55.46 467.79A81.05 81.05 0 0 1 59.6 464.89" stroke="#a31329" stroke-width="9.95" fill="none"/>
<path d="M49.66 460.02A90.75 90.75 0 0 1 54.29 456.78" stroke="#cf5246" stroke-width="9.95" fill="none"/>
<path d="M64.67 473.17A71.35 71.35 0 0 1 68.45 470.83" stroke="#e0ecf3" stroke-width="9.95" fill="none"/>
<path d="M59.32 465.08A81.05 81.05 0 0 1 63.62 462.42" stroke="#e4eef4" stroke-width="9.95" fill="none"/>
<path d="M53.97 456.98A90.75 90.75 0 0 1 58.79 454.01" stroke="#eff3f6" stroke-width="9.95" fill="none"/>
<path d="M68.2 470.98A71.35 71.35 0 0 1 72.11 468.87" stroke="#a31329" stroke-width="9.95" fill="none"/>
<path d="M63.33 462.59A81.05 81.05 0 0 1 67.78 460.2" stroke="#8c0c25" stroke-width="9.95" fill="none"/>
<path d="M58.46 454.2A90.75 90.75 0 0 1 63.44 451.52" stroke="#92c5de" stroke-width="9.95" fill="none"/>
<path d="M71.84 469.01A71.35 71.35 0 0 1 75.88 467.13" stroke="#f4a582" stroke-width="9.95" fill="none"/>
<path d="M67.47 460.35A81.05 81.05 0 0 1 72.05 458.21" stroke="#f4a582" stroke-width="9.95" fill="none"/>
<path d="M63.1 451.69A90.75 90.75 0 0 1 68.23 449.3" stroke="#c43c3c" stroke-width="9.95" fill="none"/>
<path d="M75.6 467.24A71.35 71.35 0 0 1 79.74 465.6" stroke="#760521" stroke-width="9.95" fill="none"/>
<path d="M71.74 458.35A81.05 81.05 0 0 1 76.44 456.48" stroke="#67001f" stroke-width="9.95" fill="none"/>
<path d="M67.88 449.45A90.75 90.75 0 0 1 73.14 447.36" stroke="#cf5246" stroke-width="9.95" fill="none"/>
<path d="M79.46 465.7A71.35 71.35 0 0 1 83.68 464.3" stroke="#67001f" stroke-width="9.95" fill="none"/>
<path d="M76.12 456.6A81.05 81.05 0 0 1 80.92 455.01" stroke="#67001f" stroke-width="9.95" fill="none"/>
<path d="M72.78 447.49A90.75 90.75 0 0 1 78.15 445.71" stroke="#e58268" stroke-width="9.95" fill="none"/>
<path d="M83.39 464.39A71.35 71.35 0 0 1 87.69 463.24" stroke="#f4a582" stroke-width="9.95" fill="none"/>
<path d="M80.59 455.1A81.05 81.05 0 0 1 85.47 453.8" stroke="#f4a582" stroke-width="9.95" fill="none"/>
<path d="M77.79 445.82A90.75 90.75 0 0 1 83.26 444.35" stroke="#fbd0b9" stroke-width="9.95" fill="none"/>
<path d="M87.4 463.31A71.35 71.35 0 0 1 91.76 462.41" stroke="#fddbc7" stroke-width="9.95" fill="none"/>
<path d="M85.14 453.87A81.05 81.05 0 0 1 90.09 452.85" stroke="#e4eef4" stroke-width="9.95" fill="none"/>
<path d="M82.89 444.44A90.75 90.75 0 0 1 88.43 443.3" stroke="#f4a582" stroke-width="9.95" fill="none"/>
<path d="M91.46 462.46A71.35 71.35 0 0 1 95.87 461.82" stroke="#fddbc7" stroke-width="9.95" fill="none"/>
<path d="M89.76 452.91A81.05 81.05 0 0 1 94.76 452.18" stroke="#f4a582" stroke-width="9.95" fill="none"/>
<path d="M88.05 443.36A90.75 90.75 0 0 1 93.65 442.54" stroke="#f6b090" stroke-width="9.95" fill="none"/>
<path d="M95.57 461.85A71.35 71.35 0 0 1 100 461.46" stroke="#fddbc7" stroke-width="9.95" fill="none"/>
<path d="M94.42 452.22A81.05 81.05 0 0 1 99.46 451.78" stroke="#e4eef4" stroke-width="9.95" fill="none"/>
<path d="M93.28 442.59A90.75 90.75 0 0 1 98.91 442.09" stroke="#f6b090" stroke-width="9.95" fill="none"/>
<path d="M99.7 461.48A71.35 71.35 0 0 1 104 461.35" stroke="#fddbc7" stroke-width="9.95" fill="none"/>
<path d="M99.12 451.8A81.05 81.05 0 0 1 104 451.65" stroke="#e4eef4" stroke-width="9.95" fill="none"/>
<path d="M98.53 442.11A90.75 90.75 0 0 1 104 441.95" stroke="#fae9df" stroke-width="9.95" fill="none"/>
<defs>
<radialGradient id="fr0" gradientUnits="userSpaceOnUse" cx="104" cy="532.7" r="65.4"><stop offset="0.868" stop-color="#fff"/><stop offset="0.93" stop-color="#e31a1c" stop-opacity="0.55"/><stop offset="1" stop-color="#e31a1c"/></radialGradient>
<radialGradient id="fr1" gradientUnits="userSpaceOnUse" cx="104" cy="532.7" r="65.4"><stop offset="0.868" stop-color="#fff"/><stop offset="0.93" stop-color="#377eb8" stop-opacity="0.55"/><stop offset="1" stop-color="#377eb8"/></radialGradient>
<radialGradient id="fr2" gradientUnits="userSpaceOnUse" cx="104" cy="532.7" r="65.4"><stop offset="0.868" stop-color="#fff"/><stop offset="0.93" stop-color="#4daf4a" stop-opacity="0.55"/><stop offset="1" stop-color="#4daf4a"/></radialGradient>
<radialGradient id="fr3" gradientUnits="userSpaceOnUse" cx="104" cy="532.7" r="65.4"><stop offset="0.868" stop-color="#fff"/><stop offset="0.93" stop-color="#984ea3" stop-opacity="0.55"/><stop offset="1" stop-color="#984ea3"/></radialGradient>
<radialGradient id="fr4" gradientUnits="userSpaceOnUse" cx="104" cy="532.7" r="65.4"><stop offset="0.868" stop-color="#fff"/><stop offset="0.93" stop-color="#ff7f00" stop-opacity="0.55"/><stop offset="1" stop-color="#ff7f00"/></radialGradient>
</defs>
<path d="M164.9 532.7A60.9 60.9 0 0 1 145.79 577" stroke="url(#fr0)" stroke-width="9" fill="none"/>
<path d="M145.79 577A60.9 60.9 0 0 1 89.96 591.96" stroke="url(#fr1)" stroke-width="9" fill="none"/>
<path d="M89.96 591.96A60.9 60.9 0 0 1 44.03 543.28" stroke="url(#fr2)" stroke-width="9" fill="none"/>
<path d="M44.03 543.28A60.9 60.9 0 0 1 57.35 493.55" stroke="url(#fr3)" stroke-width="9" fill="none"/>
<path d="M57.35 493.55A60.9 60.9 0 0 1 104 471.8" stroke="url(#fr4)" stroke-width="9" fill="none"/>
<path d="M144 532.7A40 40 0 1 1 104 492.7" stroke="#0b3f80" stroke-width="30.2" fill="none"/>
<line x1="93.88" y1="509.08" x2="90.49" y2="501.17" stroke="#fffde9" stroke-width="2.4"/>
<line x1="71.13" y1="517.3" x2="63.34" y2="513.65" stroke="#fffde9" stroke-width="2.4"/>
<line x1="98.92" y1="557.89" x2="97.22" y2="566.32" stroke="#fffde9" stroke-width="2.4"/>
<line x1="116.97" y1="554.89" x2="121.31" y2="562.31" stroke="#fffde9" stroke-width="2.4"/>
<line x1="102.41" y1="578.37" x2="102.1" y2="587.17" stroke="#fffde9" stroke-width="2.4"/>
<line x1="112.72" y1="577.56" x2="114.4" y2="586.2" stroke="#fffde9" stroke-width="2.4"/>
<text transform="translate(201.2 535.5) rotate(1.7)" y="2.5" font-size="7.2" letter-spacing="0.9" style="stroke-width:0.12px">1</text>
<text transform="translate(200.8 541.2) rotate(5)" y="2.5" font-size="7.2" letter-spacing="0.9" style="stroke-width:0.12px">2</text>
<text transform="translate(200.2 546.8) rotate(8.3)" y="2.5" font-size="7.2" letter-spacing="0.9" style="stroke-width:0.12px">3</text>
<text transform="translate(199.2 552.4) rotate(11.7)" y="2.5" font-size="7.2" letter-spacing="0.9" style="stroke-width:0.12px">4</text>
<text transform="translate(197.9 557.9) rotate(15)" y="2.5" font-size="7.2" letter-spacing="0.9" style="stroke-width:0.12px">5</text>
<text transform="translate(196.3 563.3) rotate(18.3)" y="2.5" font-size="7.2" letter-spacing="0.9" style="stroke-width:0.12px">6</text>
<text transform="translate(194.3 568.6) rotate(21.7)" y="2.5" font-size="7.2" letter-spacing="0.9" style="stroke-width:0.12px">7</text>
<text transform="translate(192.1 573.8) rotate(25)" y="2.5" font-size="7.2" letter-spacing="0.9" style="stroke-width:0.12px">8</text>
<text transform="translate(189.6 578.8) rotate(28.3)" y="2.5" font-size="7.2" letter-spacing="0.9" style="stroke-width:0.12px">9</text>
<text transform="translate(186.7 583.7) rotate(31.7)" y="2.5" font-size="7.2" letter-spacing="0.9" style="stroke-width:0.12px">10</text>
<text transform="translate(183.6 588.5) rotate(35)" y="2.5" font-size="7.2" letter-spacing="0.9" style="stroke-width:0.12px">11</text>
<text transform="translate(180.2 593) rotate(38.3)" y="2.5" font-size="7.2" letter-spacing="0.9" style="stroke-width:0.12px">12</text>
<text transform="translate(176.6 597.3) rotate(41.7)" y="2.5" font-size="7.2" letter-spacing="0.9" style="stroke-width:0.12px">13</text>
<text transform="translate(172.7 601.4) rotate(45)" y="2.5" font-size="7.2" letter-spacing="0.9" style="stroke-width:0.12px">14</text>
<text transform="translate(168.6 605.3) rotate(48.3)" y="2.5" font-size="7.2" letter-spacing="0.9" style="stroke-width:0.12px">15</text>
<text transform="translate(164.3 608.9) rotate(51.7)" y="2.5" font-size="7.2" letter-spacing="0.9" style="stroke-width:0.12px">16</text>
<text transform="translate(159.8 612.3) rotate(55)" y="2.5" font-size="7.2" letter-spacing="0.9" style="stroke-width:0.12px">17</text>
<text transform="translate(155 615.4) rotate(58.3)" y="2.5" font-size="7.2" letter-spacing="0.9" style="stroke-width:0.12px">18</text>
<text transform="translate(150.1 618.3) rotate(61.7)" y="2.5" font-size="7.2" letter-spacing="0.9" style="stroke-width:0.12px">19</text>
<text transform="translate(145.1 620.8) rotate(65)" y="2.5" font-size="7.2" letter-spacing="0.9" style="stroke-width:0.12px">20</text>
<text transform="translate(139.9 623) rotate(68.3)" y="2.5" font-size="7.2" letter-spacing="0.9" style="stroke-width:0.12px">21</text>
<text transform="translate(134.6 625) rotate(71.7)" y="2.5" font-size="7.2" letter-spacing="0.9" style="stroke-width:0.12px">22</text>
<text transform="translate(129.2 626.6) rotate(75)" y="2.5" font-size="7.2" letter-spacing="0.9" style="stroke-width:0.12px">23</text>
<text transform="translate(123.7 627.9) rotate(78.3)" y="2.5" font-size="7.2" letter-spacing="0.9" style="stroke-width:0.12px">24</text>
<text transform="translate(118.1 628.9) rotate(81.7)" y="2.5" font-size="7.2" letter-spacing="0.9" style="stroke-width:0.12px">25</text>
<text transform="translate(112.5 629.5) rotate(85)" y="2.5" font-size="7.2" letter-spacing="0.9" style="stroke-width:0.12px">26</text>
<text transform="translate(106.8 629.9) rotate(88.3)" y="2.5" font-size="7.2" letter-spacing="0.9" style="stroke-width:0.12px">27</text>
<text transform="translate(101.2 629.9) rotate(-88.3)" x="0.9" y="2.5" font-size="7.2" letter-spacing="0.9" text-anchor="end" style="stroke-width:0.12px">28</text>
<text transform="translate(95.5 629.5) rotate(-85)" x="0.9" y="2.5" font-size="7.2" letter-spacing="0.9" text-anchor="end" style="stroke-width:0.12px">29</text>
<text transform="translate(89.9 628.9) rotate(-81.7)" x="0.9" y="2.5" font-size="7.2" letter-spacing="0.9" text-anchor="end" style="stroke-width:0.12px">30</text>
<text transform="translate(84.3 627.9) rotate(-78.3)" x="0.9" y="2.5" font-size="7.2" letter-spacing="0.9" text-anchor="end" style="stroke-width:0.12px">31</text>
<text transform="translate(78.8 626.6) rotate(-75)" x="0.9" y="2.5" font-size="7.2" letter-spacing="0.9" text-anchor="end" style="stroke-width:0.12px">32</text>
<text transform="translate(73.4 625) rotate(-71.7)" x="0.9" y="2.5" font-size="7.2" letter-spacing="0.9" text-anchor="end" style="stroke-width:0.12px">33</text>
<text transform="translate(68.1 623) rotate(-68.3)" x="0.9" y="2.5" font-size="7.2" letter-spacing="0.9" text-anchor="end" style="stroke-width:0.12px">34</text>
<text transform="translate(62.9 620.8) rotate(-65)" x="0.9" y="2.5" font-size="7.2" letter-spacing="0.9" text-anchor="end" style="stroke-width:0.12px">35</text>
<text transform="translate(57.9 618.3) rotate(-61.7)" x="0.9" y="2.5" font-size="7.2" letter-spacing="0.9" text-anchor="end" style="stroke-width:0.12px">36</text>
<text transform="translate(53 615.4) rotate(-58.3)" x="0.9" y="2.5" font-size="7.2" letter-spacing="0.9" text-anchor="end" style="stroke-width:0.12px">37</text>
<text transform="translate(48.2 612.3) rotate(-55)" x="0.9" y="2.5" font-size="7.2" letter-spacing="0.9" text-anchor="end" style="stroke-width:0.12px">38</text>
<text transform="translate(43.7 608.9) rotate(-51.7)" x="0.9" y="2.5" font-size="7.2" letter-spacing="0.9" text-anchor="end" style="stroke-width:0.12px">39</text>
<text transform="translate(39.4 605.3) rotate(-48.3)" x="0.9" y="2.5" font-size="7.2" letter-spacing="0.9" text-anchor="end" style="stroke-width:0.12px">40</text>
<text transform="translate(35.3 601.4) rotate(-45)" x="0.9" y="2.5" font-size="7.2" letter-spacing="0.9" text-anchor="end" style="stroke-width:0.12px">41</text>
<text transform="translate(31.4 597.3) rotate(-41.7)" x="0.9" y="2.5" font-size="7.2" letter-spacing="0.9" text-anchor="end" style="stroke-width:0.12px">42</text>
<text transform="translate(27.8 593) rotate(-38.3)" x="0.9" y="2.5" font-size="7.2" letter-spacing="0.9" text-anchor="end" style="stroke-width:0.12px">43</text>
<text transform="translate(24.4 588.5) rotate(-35)" x="0.9" y="2.5" font-size="7.2" letter-spacing="0.9" text-anchor="end" style="stroke-width:0.12px">44</text>
<text transform="translate(21.3 583.7) rotate(-31.7)" x="0.9" y="2.5" font-size="7.2" letter-spacing="0.9" text-anchor="end" style="stroke-width:0.12px">45</text>
<text transform="translate(18.4 578.8) rotate(-28.3)" x="0.9" y="2.5" font-size="7.2" letter-spacing="0.9" text-anchor="end" style="stroke-width:0.12px">46</text>
<text transform="translate(15.9 573.8) rotate(-25)" x="0.9" y="2.5" font-size="7.2" letter-spacing="0.9" text-anchor="end" style="stroke-width:0.12px">47</text>
<text transform="translate(13.7 568.6) rotate(-21.7)" x="0.9" y="2.5" font-size="7.2" letter-spacing="0.9" text-anchor="end" style="stroke-width:0.12px">48</text>
<text transform="translate(11.7 563.3) rotate(-18.3)" x="0.9" y="2.5" font-size="7.2" letter-spacing="0.9" text-anchor="end" style="stroke-width:0.12px">49</text>
<text transform="translate(10.1 557.9) rotate(-15)" x="0.9" y="2.5" font-size="7.2" letter-spacing="0.9" text-anchor="end" style="stroke-width:0.12px">50</text>
<text transform="translate(8.8 552.4) rotate(-11.7)" x="0.9" y="2.5" font-size="7.2" letter-spacing="0.9" text-anchor="end" style="stroke-width:0.12px">51</text>
<text transform="translate(7.8 546.8) rotate(-8.3)" x="0.9" y="2.5" font-size="7.2" letter-spacing="0.9" text-anchor="end" style="stroke-width:0.12px">52</text>
<text transform="translate(7.2 541.2) rotate(-5)" x="0.9" y="2.5" font-size="7.2" letter-spacing="0.9" text-anchor="end" style="stroke-width:0.12px">53</text>
<text transform="translate(6.8 535.5) rotate(-1.7)" x="0.9" y="2.5" font-size="7.2" letter-spacing="0.9" text-anchor="end" style="stroke-width:0.12px">54</text>
<text transform="translate(6.8 529.9) rotate(1.7)" x="0.9" y="2.5" font-size="7.2" letter-spacing="0.9" text-anchor="end" style="stroke-width:0.12px">55</text>
<text transform="translate(7.2 524.2) rotate(5)" x="0.9" y="2.5" font-size="7.2" letter-spacing="0.9" text-anchor="end" style="stroke-width:0.12px">56</text>
<text transform="translate(7.8 518.6) rotate(8.3)" x="0.9" y="2.5" font-size="7.2" letter-spacing="0.9" text-anchor="end" style="stroke-width:0.12px">57</text>
<text transform="translate(8.8 513) rotate(11.7)" x="0.9" y="2.5" font-size="7.2" letter-spacing="0.9" text-anchor="end" style="stroke-width:0.12px">58</text>
<text transform="translate(10.1 507.5) rotate(15)" x="0.9" y="2.5" font-size="7.2" letter-spacing="0.9" text-anchor="end" style="stroke-width:0.12px">59</text>
<text transform="translate(11.7 502.1) rotate(18.3)" x="0.9" y="2.5" font-size="7.2" letter-spacing="0.9" text-anchor="end" style="stroke-width:0.12px">60</text>
<text transform="translate(13.7 496.8) rotate(21.7)" x="0.9" y="2.5" font-size="7.2" letter-spacing="0.9" text-anchor="end" style="stroke-width:0.12px">61</text>
<text transform="translate(15.9 491.6) rotate(25)" x="0.9" y="2.5" font-size="7.2" letter-spacing="0.9" text-anchor="end" style="stroke-width:0.12px">62</text>
<text transform="translate(18.4 486.6) rotate(28.3)" x="0.9" y="2.5" font-size="7.2" letter-spacing="0.9" text-anchor="end" style="stroke-width:0.12px">63</text>
<text transform="translate(21.3 481.7) rotate(31.7)" x="0.9" y="2.5" font-size="7.2" letter-spacing="0.9" text-anchor="end" style="stroke-width:0.12px">64</text>
<text transform="translate(24.4 476.9) rotate(35)" x="0.9" y="2.5" font-size="7.2" letter-spacing="0.9" text-anchor="end" style="stroke-width:0.12px">65</text>
<text transform="translate(27.8 472.4) rotate(38.3)" x="0.9" y="2.5" font-size="7.2" letter-spacing="0.9" text-anchor="end" style="stroke-width:0.12px">66</text>
<text transform="translate(31.4 468.1) rotate(41.7)" x="0.9" y="2.5" font-size="7.2" letter-spacing="0.9" text-anchor="end" style="stroke-width:0.12px">67</text>
<text transform="translate(35.3 464) rotate(45)" x="0.9" y="2.5" font-size="7.2" letter-spacing="0.9" text-anchor="end" style="stroke-width:0.12px">68</text>
<text transform="translate(39.4 460.1) rotate(48.3)" x="0.9" y="2.5" font-size="7.2" letter-spacing="0.9" text-anchor="end" style="stroke-width:0.12px">69</text>
<text transform="translate(43.7 456.5) rotate(51.7)" x="0.9" y="2.5" font-size="7.2" letter-spacing="0.9" text-anchor="end" style="stroke-width:0.12px">70</text>
<text transform="translate(48.2 453.1) rotate(55)" x="0.9" y="2.5" font-size="7.2" letter-spacing="0.9" text-anchor="end" style="stroke-width:0.12px">71</text>
<text transform="translate(53 450) rotate(58.3)" x="0.9" y="2.5" font-size="7.2" letter-spacing="0.9" text-anchor="end" style="stroke-width:0.12px">72</text>
<text transform="translate(57.9 447.1) rotate(61.7)" x="0.9" y="2.5" font-size="7.2" letter-spacing="0.9" text-anchor="end" style="stroke-width:0.12px">73</text>
<text transform="translate(62.9 444.6) rotate(65)" x="0.9" y="2.5" font-size="7.2" letter-spacing="0.9" text-anchor="end" style="stroke-width:0.12px">74</text>
<text transform="translate(68.1 442.4) rotate(68.3)" x="0.9" y="2.5" font-size="7.2" letter-spacing="0.9" text-anchor="end" style="stroke-width:0.12px">75</text>
<text transform="translate(73.4 440.4) rotate(71.7)" x="0.9" y="2.5" font-size="7.2" letter-spacing="0.9" text-anchor="end" style="stroke-width:0.12px">76</text>
<text transform="translate(78.8 438.8) rotate(75)" x="0.9" y="2.5" font-size="7.2" letter-spacing="0.9" text-anchor="end" style="stroke-width:0.12px">77</text>
<text transform="translate(84.3 437.5) rotate(78.3)" x="0.9" y="2.5" font-size="7.2" letter-spacing="0.9" text-anchor="end" style="stroke-width:0.12px">78</text>
<text transform="translate(89.9 436.5) rotate(81.7)" x="0.9" y="2.5" font-size="7.2" letter-spacing="0.9" text-anchor="end" style="stroke-width:0.12px">79</text>
<text transform="translate(95.5 435.9) rotate(85)" x="0.9" y="2.5" font-size="7.2" letter-spacing="0.9" text-anchor="end" style="stroke-width:0.12px">80</text>
<text transform="translate(101.2 435.5) rotate(88.3)" x="0.9" y="2.5" font-size="7.2" letter-spacing="0.9" text-anchor="end" style="stroke-width:0.12px">81</text>
<rect x="170.8" y="524.7" width="9.7" height="7.3" fill="#6a3fb0"/>
<rect x="180.5" y="524.7" width="9.7" height="7.3" fill="#fb5a63"/>
<rect x="190.2" y="524.7" width="9.7" height="7.3" fill="#a9ef55"/>
<text x="120.5" y="424.4" font-size="8.1" text-anchor="start" fill="#000">Feature type</text>
<rect x="121.2" y="427.4" width="8.7" height="8.6" fill="#e31a1c"/>
<text x="132.6" y="434.7" font-size="8.1" text-anchor="start" fill="#000">Bulk</text>
<rect x="121.2" y="439.7" width="8.7" height="8.6" fill="#377eb8"/>
<text x="132.6" y="447" font-size="8.1" text-anchor="start" fill="#000">1<tspan font-size="5.2" dy="-2.6">st</tspan><tspan dy="2.6"> Order</tspan></text>
<rect x="121.2" y="451.9" width="8.7" height="8.6" fill="#4daf4a"/>
<text x="132.6" y="459.2" font-size="8.1" text-anchor="start" fill="#000">GLCM</text>
<rect x="121.2" y="463.6" width="8.7" height="8.6" fill="#984ea3"/>
<text x="132.6" y="470.9" font-size="8.1" text-anchor="start" fill="#000">GGCM</text>
<rect x="121.2" y="475.3" width="8.7" height="8.6" fill="#ff7f00"/>
<text x="132.6" y="482.6" font-size="8.1" text-anchor="start" fill="#000">GLRLM</text>
<text x="175.4" y="424.4" font-size="8.1" text-anchor="start" fill="#000">Cell type</text>
<rect x="175.4" y="427.4" width="8.7" height="8.6" fill="#6b3fb2"/>
<text x="186.7" y="434.7" font-size="8.1" text-anchor="start" fill="#000">RBC</text>
<rect x="175.4" y="439.7" width="8.7" height="8.6" fill="#e8525f"/>
<text x="186.7" y="447" font-size="8.1" text-anchor="start" fill="#000">PBMC</text>
<rect x="175.4" y="451.9" width="8.7" height="8.6" fill="#a0d84f"/>
<text x="186.7" y="459.2" font-size="8.1" text-anchor="start" fill="#000">MDA-MB-231</text>
<text x="120.4" y="496" font-size="8.25" text-anchor="start" fill="#000">ANOVA multiple comparisons</text>
<rect x="121.6" y="500.8" width="8.8" height="8.2" fill="#0a2f6e"/>
<text x="134.6" y="507.7" font-size="8.1" text-anchor="start" fill="#000">Significant</text>
<defs><linearGradient id="rdbuV" x1="0" x2="0" y1="0" y2="1"><stop offset="0" stop-color="#053061"/><stop offset="0.1" stop-color="#2166ac"/><stop offset="0.2" stop-color="#4393c3"/><stop offset="0.3" stop-color="#92c5de"/><stop offset="0.4" stop-color="#d1e5f0"/><stop offset="0.5" stop-color="#f7f7f7"/><stop offset="0.6" stop-color="#fddbc7"/><stop offset="0.7" stop-color="#f4a582"/><stop offset="0.8" stop-color="#d6604d"/><stop offset="0.9" stop-color="#b2182b"/><stop offset="1" stop-color="#67001f"/></linearGradient></defs>
<rect x="210.2" y="521.9" width="9.8" height="114.6" fill="url(#rdbuV)" stroke="#555" stroke-width="0.35"/>
<text x="221.8" y="526.6" font-size="6.2" text-anchor="start" fill="#000">1</text>
<text x="221.8" y="636.6" font-size="6.2" text-anchor="start" fill="#000">0</text>
<text x="227.2" y="578.2" font-size="6.8" text-anchor="middle" fill="#000" transform="rotate(90 227.2 578.2)">Normalized feature mean (a.u.)</text>
</g>
<g id="pe">
<text x="250.5" y="419" font-size="9.5" text-anchor="start" fill="#000">e</text>
<path d="M278.2 448.92h2.1M291.1 448.92h2.1M312.6 448.92h2.1M327.6 448.92h2.1M336.2 448.92h8.6M357.8 448.92h2.1M362.1 448.92h4.3M372.8 448.92h2.1M387.9 448.92h2.1M394.3 448.92h2.1M400.8 448.92h2.1M433 448.92h2.1M278.2 451.06h2.1M291.1 451.06h2.1M308.3 451.06h2.1M312.6 451.06h4.3M336.2 451.06h10.8M357.8 451.06h8.6M387.9 451.06h2.1M400.8 451.06h2.1M420.1 451.06h2.1M433 451.06h2.1M278.2 453.2h2.1M291.1 453.2h2.1M308.3 453.2h2.1M312.6 453.2h4.3M336.2 453.2h4.3M342.7 453.2h4.3M357.8 453.2h8.6M387.9 453.2h2.1M394.3 453.2h2.1M420.1 453.2h2.1M278.2 455.34h2.1M291.1 455.34h2.1M308.3 455.34h2.1M312.6 455.34h2.1M327.6 455.34h2.1M336.2 455.34h10.8M357.8 455.34h6.4M372.8 455.34h2.1M387.9 455.34h2.1M394.3 455.34h2.1M400.8 455.34h2.1M420.1 455.34h2.1M433 455.34h2.1M278.2 457.48h2.1M291.1 457.48h2.1M312.6 457.48h4.3M336.2 457.48h6.4M344.9 457.48h2.1M357.8 457.48h6.4M372.8 457.48h2.1M394.3 457.48h2.1M400.8 457.48h2.1M433 457.48h2.1M278.2 459.62h2.1M291.1 459.62h2.1M308.3 459.62h2.1M312.6 459.62h4.3M321.2 459.62h2.1M327.6 459.62h2.1M338.4 459.62h8.6M357.8 459.62h6.4M372.8 459.62h2.1M387.9 459.62h2.1M394.3 459.62h2.1M400.8 459.62h2.1M420.1 459.62h2.1M433 459.62h2.1M265.3 461.76h2.1M269.6 461.76h8.6M280.4 461.76h10.8M297.6 461.76h2.1M304 461.76h2.1M316.9 461.76h4.3M323.4 461.76h4.3M329.8 461.76h2.1M334.1 461.76h2.1M347 461.76h4.3M353.4 461.76h4.3M366.4 461.76h6.4M374.9 461.76h4.3M392.1 461.76h2.1M396.5 461.76h2.1M415.8 461.76h4.3M424.4 461.76h2.1M430.9 461.76h2.1M278.2 463.9h2.1M291.1 463.9h2.1M308.3 463.9h2.1M312.6 463.9h4.3M336.2 463.9h2.1M340.6 463.9h6.4M357.8 463.9h8.6M372.8 463.9h2.1M387.9 463.9h2.1M400.8 463.9h2.1M278.2 466.04h2.1M308.3 466.04h2.1M312.6 466.04h4.3M336.2 466.04h10.8M357.8 466.04h8.6M387.9 466.04h2.1M394.3 466.04h2.1M400.8 466.04h2.1M420.1 466.04h2.1M433 466.04h2.1M278.2 468.18h2.1M291.1 468.18h2.1M308.3 468.18h2.1M314.8 468.18h2.1M321.2 468.18h2.1M327.6 468.18h2.1M336.2 468.18h10.8M357.8 468.18h2.1M362.1 468.18h4.3M372.8 468.18h2.1M387.9 468.18h2.1M394.3 468.18h2.1M420.1 468.18h2.1M433 468.18h2.1M308.3 470.32h2.1M312.6 470.32h4.3M321.2 470.32h2.1M338.4 470.32h8.6M359.9 470.32h6.4M372.8 470.32h2.1M387.9 470.32h2.1M394.3 470.32h2.1M400.8 470.32h2.1M420.1 470.32h2.1M278.2 472.46h2.1M291.1 472.46h2.1M308.3 472.46h2.1M312.6 472.46h4.3M321.2 472.46h2.1M327.6 472.46h2.1M336.2 472.46h4.3M357.8 472.46h4.3M364.2 472.46h2.1M387.9 472.46h2.1M394.3 472.46h2.1M400.8 472.46h2.1M433 472.46h2.1M265.3 474.6h8.6M276.1 474.6h2.1M280.4 474.6h4.3M286.8 474.6h4.3M295.4 474.6h6.4M304 474.6h4.3M310.4 474.6h2.1M316.9 474.6h4.3M325.5 474.6h2.1M329.8 474.6h4.3M349.1 474.6h8.6M368.5 474.6h4.3M377.1 474.6h2.1M390 474.6h2.1M396.5 474.6h2.1M402.9 474.6h2.1M418 474.6h2.1M422.2 474.6h4.3M430.9 474.6h2.1M437.3 474.6h2.1M278.2 478.88h2.1M291.1 478.88h2.1M308.3 478.88h2.1M312.6 478.88h4.3M336.2 478.88h4.3M342.7 478.88h4.3M357.8 478.88h4.3M364.2 478.88h2.1M372.8 478.88h2.1M394.3 478.88h2.1M400.8 478.88h2.1M420.1 478.88h2.1M433 478.88h2.1M278.2 481.02h2.1M308.3 481.02h2.1M312.6 481.02h4.3M321.2 481.02h2.1M338.4 481.02h8.6M357.8 481.02h2.1M362.1 481.02h4.3M372.8 481.02h2.1M394.3 481.02h2.1M400.8 481.02h2.1M420.1 481.02h2.1M278.2 483.16h2.1M291.1 483.16h2.1M308.3 483.16h2.1M312.6 483.16h4.3M321.2 483.16h2.1M336.2 483.16h6.4M344.9 483.16h2.1M364.2 483.16h2.1M372.8 483.16h2.1M387.9 483.16h2.1M394.3 483.16h2.1M400.8 483.16h2.1M420.1 483.16h2.1M433 483.16h2.1M278.2 487.44h2.1M291.1 487.44h2.1M312.6 487.44h2.1M327.6 487.44h2.1M336.2 487.44h10.8M359.9 487.44h4.3M372.8 487.44h2.1M394.3 487.44h2.1M420.1 487.44h2.1M278.2 489.58h2.1M291.1 489.58h2.1M312.6 489.58h4.3M321.2 489.58h2.1M336.2 489.58h2.1M340.6 489.58h6.4M359.9 489.58h6.4M400.8 489.58h2.1M420.1 489.58h2.1M265.3 491.72h12.9M280.4 491.72h10.8M297.6 491.72h4.3M304 491.72h2.1M316.9 491.72h4.3M323.4 491.72h2.1M329.8 491.72h6.4M347 491.72h6.4M355.6 491.72h2.1M366.4 491.72h2.1M370.6 491.72h2.1M374.9 491.72h4.3M385.7 491.72h2.1M390 491.72h4.3M396.5 491.72h2.1M402.9 491.72h2.1M418 491.72h2.1M422.2 491.72h2.1M435.1 491.72h2.1M267.4 493.86h2.1M271.8 493.86h4.3M280.4 493.86h2.1M284.7 493.86h6.4M295.4 493.86h6.4M304 493.86h4.3M316.9 493.86h4.3M325.5 493.86h2.1M329.8 493.86h2.1M349.1 493.86h6.4M366.4 493.86h6.4M374.9 493.86h4.3M385.7 493.86h2.1M390 493.86h4.3M398.6 493.86h2.1M402.9 493.86h2.1M415.8 493.86h4.3M422.2 493.86h4.3M430.9 493.86h2.1M435.1 493.86h4.3M265.3 496h6.4M273.9 496h4.3M280.4 496h4.3M286.8 496h4.3M295.4 496h6.4M304 496h4.3M310.4 496h2.1M319.1 496h2.1M323.4 496h4.3M329.8 496h6.4M349.1 496h6.4M366.4 496h6.4M374.9 496h4.3M385.7 496h2.1M390 496h4.3M396.5 496h4.3M402.9 496h2.1M415.8 496h4.3M422.2 496h4.3M437.3 496h2.1M265.3 498.14h12.9M282.5 498.14h2.1M286.8 498.14h4.3M295.4 498.14h6.4M304 498.14h4.3M316.9 498.14h2.1M323.4 498.14h4.3M329.8 498.14h2.1M334.1 498.14h2.1M347 498.14h2.1M351.3 498.14h6.4M366.4 498.14h2.1M374.9 498.14h4.3M385.7 498.14h2.1M392.1 498.14h2.1M396.5 498.14h4.3M402.9 498.14h2.1M415.8 498.14h4.3M422.2 498.14h4.3M435.1 498.14h2.1M265.3 500.28h8.6M280.4 500.28h4.3M286.8 500.28h4.3M295.4 500.28h4.3M304 500.28h4.3M319.1 500.28h2.1M323.4 500.28h2.1M329.8 500.28h6.4M347 500.28h10.8M366.4 500.28h6.4M374.9 500.28h2.1M385.7 500.28h2.1M396.5 500.28h4.3M402.9 500.28h2.1M415.8 500.28h4.3M422.2 500.28h4.3M430.9 500.28h2.1M435.1 500.28h4.3M265.3 502.42h8.6M280.4 502.42h10.8M295.4 502.42h6.4M304 502.42h4.3M310.4 502.42h2.1M316.9 502.42h2.1M323.4 502.42h4.3M331.9 502.42h4.3M349.1 502.42h8.6M366.4 502.42h4.3M374.9 502.42h2.1M385.7 502.42h2.1M390 502.42h4.3M396.5 502.42h4.3M402.9 502.42h2.1M418 502.42h2.1M422.2 502.42h4.3M430.9 502.42h2.1M278.2 504.56h2.1M291.1 504.56h2.1M308.3 504.56h2.1M312.6 504.56h4.3M340.6 504.56h6.4M362.1 504.56h2.1M387.9 504.56h2.1M400.8 504.56h2.1M420.1 504.56h2.1M265.3 506.7h8.6M282.5 506.7h6.4M293.2 506.7h2.1M297.6 506.7h4.3M304 506.7h4.3M310.4 506.7h2.1M316.9 506.7h4.3M325.5 506.7h2.1M329.8 506.7h2.1M334.1 506.7h2.1M347 506.7h10.8M366.4 506.7h6.4M374.9 506.7h2.1M385.7 506.7h2.1M390 506.7h4.3M396.5 506.7h4.3M402.9 506.7h2.1M418 506.7h2.1M422.2 506.7h4.3M437.3 506.7h2.1M278.2 508.84h2.1M291.1 508.84h2.1M308.3 508.84h2.1M312.6 508.84h2.1M336.2 508.84h4.3M344.9 508.84h2.1M362.1 508.84h4.3M372.8 508.84h2.1M387.9 508.84h2.1M400.8 508.84h2.1M420.1 508.84h2.1M265.3 510.98h6.4M273.9 510.98h4.3M282.5 510.98h8.6M295.4 510.98h6.4M304 510.98h4.3M310.4 510.98h2.1M316.9 510.98h4.3M325.5 510.98h2.1M331.9 510.98h4.3M349.1 510.98h4.3M355.6 510.98h2.1M368.5 510.98h4.3M374.9 510.98h2.1M385.7 510.98h2.1M402.9 510.98h2.1M415.8 510.98h2.1M422.2 510.98h4.3M430.9 510.98h2.1M435.1 510.98h4.3M278.2 513.12h2.1M291.1 513.12h2.1M312.6 513.12h4.3M321.2 513.12h2.1M327.6 513.12h2.1M336.2 513.12h10.8M357.8 513.12h8.6M372.8 513.12h2.1M394.3 513.12h2.1M400.8 513.12h2.1M420.1 513.12h2.1M265.3 515.26h2.1M269.6 515.26h2.1M276.1 515.26h2.1M280.4 515.26h10.8M297.6 515.26h4.3M304 515.26h4.3M319.1 515.26h2.1M323.4 515.26h4.3M329.8 515.26h2.1M347 515.26h10.8M366.4 515.26h4.3M374.9 515.26h4.3M392.1 515.26h2.1M396.5 515.26h4.3M402.9 515.26h2.1M415.8 515.26h4.3M424.4 515.26h2.1M435.1 515.26h2.1M265.3 517.4h12.9M280.4 517.4h4.3M288.9 517.4h2.1M295.4 517.4h2.1M306.2 517.4h2.1M310.4 517.4h2.1M316.9 517.4h4.3M323.4 517.4h4.3M329.8 517.4h4.3M347 517.4h4.3M366.4 517.4h4.3M385.7 517.4h2.1M390 517.4h4.3M402.9 517.4h2.1M415.8 517.4h4.3M422.2 517.4h4.3M430.9 517.4h2.1M435.1 517.4h4.3M265.3 519.54h4.3M271.8 519.54h6.4M280.4 519.54h2.1M284.7 519.54h6.4M295.4 519.54h6.4M304 519.54h4.3M310.4 519.54h2.1M319.1 519.54h2.1M323.4 519.54h4.3M329.8 519.54h6.4M349.1 519.54h6.4M366.4 519.54h6.4M374.9 519.54h4.3M385.7 519.54h2.1M390 519.54h4.3M396.5 519.54h4.3M402.9 519.54h2.1M415.8 519.54h4.3M422.2 519.54h4.3M435.1 519.54h4.3M265.3 521.68h2.1M269.6 521.68h8.6M280.4 521.68h2.1M288.9 521.68h2.1M295.4 521.68h6.4M304 521.68h4.3M310.4 521.68h2.1M316.9 521.68h4.3M323.4 521.68h4.3M329.8 521.68h6.4M349.1 521.68h4.3M355.6 521.68h2.1M366.4 521.68h2.1M374.9 521.68h4.3M385.7 521.68h2.1M392.1 521.68h2.1M396.5 521.68h4.3M402.9 521.68h2.1M415.8 521.68h4.3M422.2 521.68h4.3M430.9 521.68h2.1M435.1 521.68h2.1M265.3 528.1h12.9M280.4 528.1h10.8M299.7 528.1h2.1M304 528.1h4.3M310.4 528.1h2.1M316.9 528.1h4.3M323.4 528.1h4.3M329.8 528.1h2.1M334.1 528.1h2.1M347 528.1h6.4M355.6 528.1h2.1M366.4 528.1h6.4M374.9 528.1h4.3M392.1 528.1h2.1M396.5 528.1h4.3M402.9 528.1h2.1M415.8 528.1h2.1M422.2 528.1h4.3M435.1 528.1h4.3M265.3 530.24h2.1M269.6 530.24h8.6M280.4 530.24h10.8M295.4 530.24h2.1M299.7 530.24h2.1M304 530.24h4.3M310.4 530.24h2.1M316.9 530.24h4.3M325.5 530.24h2.1M329.8 530.24h2.1M334.1 530.24h2.1M349.1 530.24h2.1M353.4 530.24h2.1M368.5 530.24h4.3M374.9 530.24h2.1M390 530.24h2.1M396.5 530.24h2.1M422.2 530.24h4.3M278.2 532.38h2.1M291.1 532.38h2.1M308.3 532.38h2.1M312.6 532.38h4.3M321.2 532.38h2.1M336.2 532.38h10.8M357.8 532.38h4.3M364.2 532.38h2.1M372.8 532.38h2.1M387.9 532.38h2.1M394.3 532.38h2.1M420.1 532.38h2.1M433 532.38h2.1M291.1 534.52h2.1M308.3 534.52h2.1M314.8 534.52h2.1M336.2 534.52h10.8M359.9 534.52h6.4M387.9 534.52h2.1M394.3 534.52h2.1M400.8 534.52h2.1M420.1 534.52h2.1M433 534.52h2.1M308.3 536.66h2.1M312.6 536.66h2.1M321.2 536.66h2.1M338.4 536.66h2.1M342.7 536.66h4.3M359.9 536.66h4.3M372.8 536.66h2.1M387.9 536.66h2.1M394.3 536.66h2.1M433 536.66h2.1M269.6 538.8h2.1M273.9 538.8h4.3M280.4 538.8h2.1M286.8 538.8h2.1M295.4 538.8h2.1M299.7 538.8h2.1M304 538.8h4.3M319.1 538.8h2.1M325.5 538.8h2.1M329.8 538.8h2.1M334.1 538.8h2.1M349.1 538.8h6.4M366.4 538.8h6.4M374.9 538.8h2.1M385.7 538.8h2.1M390 538.8h4.3M402.9 538.8h2.1M415.8 538.8h2.1M422.2 538.8h4.3M278.2 540.94h2.1M308.3 540.94h2.1M312.6 540.94h2.1M321.2 540.94h2.1M336.2 540.94h2.1M344.9 540.94h2.1M359.9 540.94h2.1M364.2 540.94h2.1M372.8 540.94h2.1M394.3 540.94h2.1M400.8 540.94h2.1M433 540.94h2.1M278.2 543.08h2.1M291.1 543.08h2.1M308.3 543.08h2.1M312.6 543.08h2.1M327.6 543.08h2.1M336.2 543.08h8.6M357.8 543.08h2.1M372.8 543.08h2.1M394.3 543.08h2.1M400.8 543.08h2.1M433 543.08h2.1M291.1 545.22h2.1M308.3 545.22h2.1M312.6 545.22h4.3M321.2 545.22h2.1M327.6 545.22h2.1M336.2 545.22h10.8M359.9 545.22h2.1M394.3 545.22h2.1M433 545.22h2.1M291.1 547.36h2.1M308.3 547.36h2.1M312.6 547.36h4.3M327.6 547.36h2.1M338.4 547.36h8.6M357.8 547.36h6.4M372.8 547.36h2.1M387.9 547.36h2.1M400.8 547.36h2.1M420.1 547.36h2.1M433 547.36h2.1M265.3 549.5h6.4M273.9 549.5h4.3M280.4 549.5h2.1M284.7 549.5h6.4M295.4 549.5h6.4M304 549.5h4.3M310.4 549.5h2.1M316.9 549.5h4.3M325.5 549.5h2.1M329.8 549.5h6.4M347 549.5h10.8M368.5 549.5h4.3M374.9 549.5h4.3M385.7 549.5h2.1M390 549.5h4.3M396.5 549.5h4.3M402.9 549.5h2.1M415.8 549.5h2.1M422.2 549.5h4.3M437.3 549.5h2.1M265.3 551.64h2.1M280.4 551.64h10.8M295.4 551.64h6.4M304 551.64h4.3M310.4 551.64h2.1M316.9 551.64h4.3M325.5 551.64h2.1M329.8 551.64h6.4M351.3 551.64h4.3M366.4 551.64h2.1M370.6 551.64h2.1M374.9 551.64h4.3M385.7 551.64h2.1M390 551.64h2.1M396.5 551.64h4.3M402.9 551.64h2.1M415.8 551.64h4.3M424.4 551.64h2.1M435.1 551.64h4.3M278.2 553.78h2.1M291.1 553.78h2.1M308.3 553.78h2.1M312.6 553.78h4.3M338.4 553.78h2.1M344.9 553.78h2.1M357.8 553.78h8.6M394.3 553.78h2.1M400.8 553.78h2.1M265.3 555.92h6.4M273.9 555.92h4.3M280.4 555.92h4.3M288.9 555.92h2.1M295.4 555.92h6.4M304 555.92h4.3M310.4 555.92h2.1M316.9 555.92h2.1M323.4 555.92h4.3M331.9 555.92h4.3M347 555.92h2.1M351.3 555.92h6.4M366.4 555.92h6.4M390 555.92h4.3M396.5 555.92h4.3M402.9 555.92h2.1M418 555.92h2.1M422.2 555.92h4.3M435.1 555.92h2.1M271.8 558.06h2.1M323.4 558.06h2.1M396.5 558.06h2.1M265.3 566.62h2.1M269.6 566.62h6.4M280.4 566.62h10.8M295.4 566.62h6.4M304 566.62h4.3M316.9 566.62h4.3M323.4 566.62h4.3M329.8 566.62h6.4M347 566.62h10.8M366.4 566.62h6.4M377.1 566.62h2.1M385.7 566.62h2.1M390 566.62h4.3M396.5 566.62h2.1M402.9 566.62h2.1M418 566.62h2.1M422.2 566.62h4.3M430.9 566.62h2.1M435.1 566.62h2.1M278.2 568.76h2.1M314.8 568.76h2.1M321.2 568.76h2.1M338.4 568.76h2.1M342.7 568.76h4.3M359.9 568.76h4.3M372.8 568.76h2.1M387.9 568.76h2.1M394.3 568.76h2.1M420.1 568.76h2.1M433 568.76h2.1M265.3 570.9h8.6M282.5 570.9h8.6M295.4 570.9h6.4M304 570.9h4.3M310.4 570.9h2.1M316.9 570.9h4.3M323.4 570.9h4.3M329.8 570.9h6.4M347 570.9h4.3M353.4 570.9h2.1M366.4 570.9h6.4M374.9 570.9h4.3M390 570.9h4.3M396.5 570.9h4.3M413.6 570.9h6.4M422.2 570.9h4.3M430.9 570.9h2.1M278.2 573.04h2.1M291.1 573.04h2.1M308.3 573.04h2.1M312.6 573.04h4.3M336.2 573.04h10.8M359.9 573.04h6.4M400.8 573.04h2.1M433 573.04h2.1M267.4 575.18h6.4M276.1 575.18h2.1M282.5 575.18h8.6M295.4 575.18h6.4M304 575.18h4.3M310.4 575.18h2.1M316.9 575.18h2.1M323.4 575.18h4.3M331.9 575.18h4.3M347 575.18h6.4M355.6 575.18h2.1M366.4 575.18h6.4M385.7 575.18h2.1M390 575.18h2.1M396.5 575.18h4.3M422.2 575.18h4.3M430.9 575.18h2.1M437.3 575.18h2.1M265.3 581.6h12.9M280.4 581.6h4.3M286.8 581.6h4.3M295.4 581.6h2.1M299.7 581.6h2.1M316.9 581.6h4.3M323.4 581.6h4.3M331.9 581.6h4.3M347 581.6h10.8M368.5 581.6h4.3M374.9 581.6h4.3M385.7 581.6h2.1M402.9 581.6h2.1M415.8 581.6h4.3M422.2 581.6h2.1M435.1 581.6h2.1M278.2 583.74h2.1M312.6 583.74h4.3M321.2 583.74h2.1M327.6 583.74h2.1M336.2 583.74h2.1M342.7 583.74h4.3M357.8 583.74h8.6M372.8 583.74h2.1M394.3 583.74h2.1M267.4 585.88h10.8M280.4 585.88h2.1M284.7 585.88h6.4M295.4 585.88h6.4M304 585.88h4.3M310.4 585.88h2.1M316.9 585.88h2.1M323.4 585.88h2.1M329.8 585.88h6.4M349.1 585.88h8.6M368.5 585.88h4.3M374.9 585.88h2.1M385.7 585.88h2.1M390 585.88h4.3M396.5 585.88h2.1M418 585.88h2.1M422.2 585.88h4.3M430.9 585.88h2.1M435.1 585.88h4.3M278.2 588.02h2.1M291.1 588.02h2.1M308.3 588.02h2.1M312.6 588.02h2.1M321.2 588.02h2.1M327.6 588.02h2.1M336.2 588.02h4.3M342.7 588.02h4.3M357.8 588.02h4.3M364.2 588.02h2.1M372.8 588.02h2.1M387.9 588.02h2.1M420.1 590.16h2.1M433 590.16h2.1M433 592.3h2.1M415.8 594.44h4.3M422.2 594.44h4.3M430.9 594.44h2.1M435.1 594.44h4.3M420.1 598.72h2.1M433 598.72h2.1M308.3 600.86h2.1M314.8 600.86h2.1M433 600.86h2.1M359.9 603h2.1M340.6 605.14h4.3M359.9 605.14h2.1M420.1 605.14h2.1M433 605.14h2.1M433 607.28h2.1M278.2 613.7h2.1M420.1 613.7h2.1M433 613.7h2.1M347 615.84h2.1M402.9 615.84h2.1M415.8 615.84h4.3M422.2 615.84h4.3M430.9 615.84h2.1M435.1 615.84h4.3M336.2 617.98h2.1M420.1 617.98h2.1M433 617.98h2.1" stroke="#67001f" stroke-width="1.64" fill="none"/>
<path d="M308.3 448.92h2.1M314.8 448.92h2.1M321.2 448.92h2.1M344.9 448.92h2.1M359.9 448.92h2.1M420.1 448.92h2.1M321.2 451.06h2.1M394.3 451.06h2.1M321.2 453.2h2.1M327.6 453.2h2.1M340.6 453.2h2.1M372.8 453.2h2.1M400.8 453.2h2.1M433 453.2h2.1M314.8 455.34h2.1M321.2 455.34h2.1M364.2 455.34h2.1M308.3 457.48h2.1M321.2 457.48h2.1M327.6 457.48h2.1M342.7 457.48h2.1M364.2 457.48h2.1M387.9 457.48h2.1M420.1 457.48h2.1M336.2 459.62h2.1M364.2 459.62h2.1M267.4 461.76h2.1M293.2 461.76h4.3M299.7 461.76h2.1M306.2 461.76h2.1M310.4 461.76h2.1M331.9 461.76h2.1M351.3 461.76h2.1M385.7 461.76h2.1M390 461.76h2.1M402.9 461.76h2.1M413.6 461.76h2.1M327.6 463.9h2.1M338.4 463.9h2.1M394.3 463.9h2.1M420.1 463.9h2.1M433 463.9h2.1M291.1 466.04h2.1M321.2 466.04h2.1M327.6 466.04h2.1M372.8 466.04h2.1M312.6 468.18h2.1M359.9 468.18h2.1M400.8 468.18h2.1M278.2 470.32h2.1M291.1 470.32h2.1M327.6 470.32h2.1M336.2 470.32h2.1M357.8 470.32h2.1M433 470.32h2.1M340.6 472.46h6.4M362.1 472.46h2.1M372.8 472.46h2.1M420.1 472.46h2.1M273.9 474.6h2.1M284.7 474.6h2.1M293.2 474.6h2.1M323.4 474.6h2.1M334.1 474.6h2.1M347 474.6h2.1M366.4 474.6h2.1M374.9 474.6h2.1M385.7 474.6h2.1M392.1 474.6h2.1M398.6 474.6h2.1M415.8 474.6h2.1M278.2 476.74h2.1M291.1 476.74h2.1M308.3 476.74h2.1M312.6 476.74h2.1M321.2 476.74h2.1M327.6 476.74h2.1M336.2 476.74h8.6M357.8 476.74h8.6M372.8 476.74h2.1M387.9 476.74h2.1M394.3 476.74h2.1M400.8 476.74h2.1M433 476.74h2.1M321.2 478.88h2.1M327.6 478.88h2.1M340.6 478.88h2.1M362.1 478.88h2.1M291.1 481.02h2.1M327.6 481.02h2.1M336.2 481.02h2.1M359.9 481.02h2.1M387.9 481.02h2.1M433 481.02h2.1M327.6 483.16h2.1M342.7 483.16h2.1M357.8 483.16h6.4M308.3 487.44h2.1M314.8 487.44h2.1M321.2 487.44h2.1M357.8 487.44h2.1M387.9 487.44h2.1M400.8 487.44h2.1M433 487.44h2.1M308.3 489.58h2.1M327.6 489.58h2.1M338.4 489.58h2.1M357.8 489.58h2.1M372.8 489.58h2.1M387.9 489.58h2.1M394.3 489.58h2.1M433 489.58h2.1M295.4 491.72h2.1M306.2 491.72h2.1M310.4 491.72h2.1M325.5 491.72h2.1M368.5 491.72h2.1M398.6 491.72h2.1M413.6 491.72h4.3M424.4 491.72h2.1M430.9 491.72h2.1M437.3 491.72h2.1M265.3 493.86h2.1M269.6 493.86h2.1M276.1 493.86h2.1M282.5 493.86h2.1M293.2 493.86h2.1M323.4 493.86h2.1M331.9 493.86h4.3M355.6 493.86h2.1M396.5 493.86h2.1M271.8 496h2.1M284.7 496h2.1M293.2 496h2.1M347 496h2.1M355.6 496h2.1M413.6 496h2.1M430.9 496h2.1M435.1 496h2.1M284.7 498.14h2.1M310.4 498.14h2.1M331.9 498.14h2.1M368.5 498.14h4.3M390 498.14h2.1M413.6 498.14h2.1M430.9 498.14h2.1M437.3 498.14h2.1M273.9 500.28h4.3M284.7 500.28h2.1M293.2 500.28h2.1M299.7 500.28h2.1M310.4 500.28h2.1M325.5 500.28h2.1M377.1 500.28h2.1M390 500.28h4.3M413.6 500.28h2.1M273.9 502.42h4.3M293.2 502.42h2.1M347 502.42h2.1M370.6 502.42h2.1M377.1 502.42h2.1M413.6 502.42h2.1M435.1 502.42h4.3M327.6 504.56h2.1M336.2 504.56h4.3M359.9 504.56h2.1M364.2 504.56h2.1M372.8 504.56h2.1M394.3 504.56h2.1M433 504.56h2.1M273.9 506.7h4.3M280.4 506.7h2.1M288.9 506.7h2.1M295.4 506.7h2.1M331.9 506.7h2.1M415.8 506.7h2.1M430.9 506.7h2.1M435.1 506.7h2.1M314.8 508.84h2.1M321.2 508.84h2.1M327.6 508.84h2.1M340.6 508.84h4.3M357.8 508.84h4.3M394.3 508.84h2.1M433 508.84h2.1M271.8 510.98h2.1M293.2 510.98h2.1M323.4 510.98h2.1M329.8 510.98h2.1M347 510.98h2.1M353.4 510.98h2.1M366.4 510.98h2.1M377.1 510.98h2.1M390 510.98h4.3M396.5 510.98h4.3M413.6 510.98h2.1M418 510.98h2.1M308.3 513.12h2.1M433 513.12h2.1M267.4 515.26h2.1M271.8 515.26h4.3M293.2 515.26h4.3M310.4 515.26h2.1M334.1 515.26h2.1M370.6 515.26h2.1M385.7 515.26h2.1M390 515.26h2.1M413.6 515.26h2.1M422.2 515.26h2.1M430.9 515.26h2.1M437.3 515.26h2.1M284.7 517.4h4.3M293.2 517.4h2.1M297.6 517.4h4.3M304 517.4h2.1M351.3 517.4h2.1M355.6 517.4h2.1M370.6 517.4h2.1M396.5 517.4h4.3M413.6 517.4h2.1M269.6 519.54h2.1M282.5 519.54h2.1M293.2 519.54h2.1M316.9 519.54h2.1M347 519.54h2.1M355.6 519.54h2.1M413.6 519.54h2.1M430.9 519.54h2.1M267.4 521.68h2.1M282.5 521.68h4.3M293.2 521.68h2.1M347 521.68h2.1M353.4 521.68h2.1M368.5 521.68h4.3M390 521.68h2.1M413.6 521.68h2.1M295.4 528.1h4.3M353.4 528.1h2.1M385.7 528.1h2.1M390 528.1h2.1M413.6 528.1h2.1M430.9 528.1h2.1M267.4 530.24h2.1M293.2 530.24h2.1M297.6 530.24h2.1M323.4 530.24h2.1M331.9 530.24h2.1M355.6 530.24h2.1M366.4 530.24h2.1M377.1 530.24h2.1M385.7 530.24h2.1M392.1 530.24h2.1M398.6 530.24h2.1M402.9 530.24h2.1M413.6 530.24h6.4M430.9 530.24h2.1M435.1 530.24h4.3M327.6 532.38h2.1M362.1 532.38h2.1M278.2 534.52h2.1M312.6 534.52h2.1M321.2 534.52h2.1M327.6 534.52h2.1M357.8 534.52h2.1M278.2 536.66h2.1M291.1 536.66h2.1M314.8 536.66h2.1M327.6 536.66h2.1M336.2 536.66h2.1M340.6 536.66h2.1M357.8 536.66h2.1M400.8 536.66h2.1M420.1 536.66h2.1M267.4 538.8h2.1M271.8 538.8h2.1M282.5 538.8h4.3M288.9 538.8h2.1M293.2 538.8h2.1M310.4 538.8h2.1M323.4 538.8h2.1M331.9 538.8h2.1M347 538.8h2.1M377.1 538.8h2.1M396.5 538.8h4.3M413.6 538.8h2.1M435.1 538.8h4.3M291.1 540.94h2.1M314.8 540.94h2.1M327.6 540.94h2.1M338.4 540.94h6.4M362.1 540.94h2.1M387.9 540.94h2.1M420.1 540.94h2.1M314.8 543.08h2.1M321.2 543.08h2.1M344.9 543.08h2.1M362.1 543.08h4.3M387.9 543.08h2.1M357.8 545.22h2.1M364.2 545.22h2.1M372.8 545.22h2.1M387.9 545.22h2.1M400.8 545.22h2.1M420.1 545.22h2.1M278.2 547.36h2.1M321.2 547.36h2.1M336.2 547.36h2.1M394.3 547.36h2.1M271.8 549.5h2.1M282.5 549.5h2.1M293.2 549.5h2.1M413.6 549.5h2.1M418 549.5h2.1M430.9 549.5h2.1M267.4 551.64h10.8M293.2 551.64h2.1M323.4 551.64h2.1M347 551.64h4.3M355.6 551.64h2.1M392.1 551.64h2.1M413.6 551.64h2.1M422.2 551.64h2.1M430.9 551.64h2.1M327.6 553.78h2.1M336.2 553.78h2.1M340.6 553.78h4.3M372.8 553.78h2.1M387.9 553.78h2.1M420.1 553.78h2.1M433 553.78h2.1M271.8 555.92h2.1M284.7 555.92h4.3M319.1 555.92h2.1M329.8 555.92h2.1M349.1 555.92h2.1M374.9 555.92h4.3M385.7 555.92h2.1M413.6 555.92h4.3M430.9 555.92h2.1M437.3 555.92h2.1M265.3 558.06h4.3M273.9 558.06h4.3M280.4 558.06h6.4M288.9 558.06h2.1M299.7 558.06h2.1M304 558.06h2.1M310.4 558.06h2.1M325.5 558.06h2.1M334.1 558.06h2.1M347 558.06h2.1M351.3 558.06h4.3M366.4 558.06h6.4M385.7 558.06h2.1M390 558.06h4.3M398.6 558.06h2.1M402.9 558.06h2.1M415.8 558.06h2.1M422.2 558.06h4.3M435.1 558.06h4.3M276.1 566.62h2.1M293.2 566.62h2.1M310.4 566.62h2.1M398.6 566.62h2.1M413.6 566.62h4.3M437.3 566.62h2.1M291.1 568.76h2.1M308.3 568.76h2.1M312.6 568.76h2.1M327.6 568.76h2.1M340.6 568.76h2.1M357.8 568.76h2.1M364.2 568.76h2.1M400.8 568.76h2.1M276.1 570.9h2.1M280.4 570.9h2.1M293.2 570.9h2.1M351.3 570.9h2.1M355.6 570.9h2.1M385.7 570.9h2.1M402.9 570.9h2.1M435.1 570.9h4.3M321.2 573.04h2.1M327.6 573.04h2.1M357.8 573.04h2.1M387.9 573.04h2.1M394.3 573.04h2.1M420.1 573.04h2.1M265.3 575.18h2.1M273.9 575.18h2.1M280.4 575.18h2.1M319.1 575.18h2.1M329.8 575.18h2.1M353.4 575.18h2.1M374.9 575.18h4.3M402.9 575.18h2.1M415.8 575.18h2.1M435.1 575.18h2.1M340.6 577.32h2.1M362.1 577.32h2.1M284.7 581.6h2.1M297.6 581.6h2.1M304 581.6h4.3M310.4 581.6h2.1M329.8 581.6h2.1M366.4 581.6h2.1M390 581.6h2.1M413.6 581.6h2.1M424.4 581.6h2.1M430.9 581.6h2.1M437.3 581.6h2.1M291.1 583.74h2.1M308.3 583.74h2.1M338.4 583.74h4.3M387.9 583.74h2.1M420.1 583.74h2.1M433 583.74h2.1M265.3 585.88h2.1M282.5 585.88h2.1M293.2 585.88h2.1M319.1 585.88h2.1M347 585.88h2.1M377.1 585.88h2.1M398.6 585.88h2.1M415.8 585.88h2.1M362.1 588.02h2.1M400.8 588.02h2.1M420.1 588.02h2.1M291.1 590.16h2.1M342.7 590.16h2.1M362.1 590.16h2.1M411.5 590.16h2.1M336.2 592.3h2.1M359.9 592.3h2.1M372.8 592.3h2.1M400.8 592.3h2.1M411.5 592.3h2.1M420.1 592.3h2.1M265.3 594.44h2.1M273.9 594.44h2.1M280.4 594.44h2.1M284.7 594.44h4.3M295.4 594.44h2.1M299.7 594.44h2.1M306.2 594.44h2.1M310.4 594.44h2.1M316.9 594.44h4.3M325.5 594.44h2.1M329.8 594.44h6.4M351.3 594.44h4.3M368.5 594.44h4.3M374.9 594.44h2.1M392.1 594.44h2.1M396.5 594.44h2.1M407.2 594.44h4.3M278.2 596.58h2.1M344.9 596.58h2.1M357.8 596.58h2.1M364.2 596.58h2.1M394.3 596.58h2.1M420.1 596.58h2.1M433 596.58h2.1M314.8 598.72h2.1M342.7 598.72h2.1M362.1 598.72h2.1M372.8 598.72h2.1M387.9 598.72h2.1M411.5 598.72h2.1M291.1 600.86h2.1M312.6 600.86h2.1M321.2 600.86h2.1M336.2 600.86h2.1M340.6 600.86h6.4M357.8 600.86h6.4M372.8 600.86h2.1M387.9 600.86h2.1M394.3 600.86h2.1M400.8 600.86h2.1M411.5 600.86h2.1M420.1 600.86h2.1M291.1 603h2.1M308.3 603h2.1M314.8 603h2.1M321.2 603h2.1M327.6 603h2.1M336.2 603h4.3M342.7 603h2.1M362.1 603h4.3M372.8 603h2.1M387.9 603h2.1M394.3 603h2.1M400.8 603h2.1M407.2 603h4.3M278.2 605.14h2.1M291.1 605.14h2.1M308.3 605.14h2.1M312.6 605.14h4.3M321.2 605.14h2.1M336.2 605.14h4.3M357.8 605.14h2.1M362.1 605.14h4.3M372.8 605.14h2.1M387.9 605.14h2.1M394.3 605.14h2.1M400.8 605.14h2.1M411.5 605.14h2.1M411.5 607.28h2.1M420.1 607.28h2.1M420.1 611.56h2.1M336.2 613.7h8.6M359.9 613.7h6.4M372.8 613.7h2.1M387.9 613.7h2.1M394.3 613.7h2.1M400.8 613.7h2.1M411.5 613.7h2.1M271.8 615.84h6.4M282.5 615.84h8.6M295.4 615.84h4.3M306.2 615.84h2.1M310.4 615.84h2.1M319.1 615.84h2.1M323.4 615.84h4.3M329.8 615.84h6.4M355.6 615.84h2.1M366.4 615.84h4.3M374.9 615.84h4.3M385.7 615.84h2.1M390 615.84h4.3M407.2 615.84h4.3M413.6 615.84h2.1M278.2 617.98h2.1M291.1 617.98h2.1M312.6 617.98h4.3M327.6 617.98h2.1M338.4 617.98h4.3M344.9 617.98h2.1M357.8 617.98h8.6M372.8 617.98h2.1M394.3 617.98h2.1M411.5 617.98h2.1M267.4 620.12h6.4M276.1 620.12h2.1M280.4 620.12h2.1M286.8 620.12h4.3M295.4 620.12h6.4M306.2 620.12h2.1M310.4 620.12h2.1M319.1 620.12h2.1M323.4 620.12h2.1M331.9 620.12h4.3M347 620.12h4.3M353.4 620.12h4.3M374.9 620.12h4.3M385.7 620.12h2.1M390 620.12h4.3M396.5 620.12h4.3M402.9 620.12h2.1M411.5 620.12h2.1" stroke="#bb2a34" stroke-width="1.64" fill="none"/>
<path d="M327.6 451.06h2.1M437.3 461.76h2.1M321.2 463.9h2.1M413.6 474.6h2.1M344.9 476.74h2.1M364.2 487.44h2.1M293.2 491.72h2.1M411.5 493.86h2.1M405.1 496h2.1M293.2 498.14h2.1M383.6 498.14h2.1M409.4 502.42h4.3M379.2 506.7h2.1M413.6 506.7h2.1M426.6 506.7h2.1M280.4 510.98h2.1M383.6 510.98h2.1M316.9 515.26h2.1M377.1 517.4h2.1M437.3 521.68h2.1M336.2 523.82h2.1M364.2 523.82h2.1M372.8 523.82h2.1M291.1 525.96h2.1M308.3 525.96h2.1M312.6 525.96h2.1M364.2 525.96h2.1M387.9 525.96h2.1M418 528.1h2.1M426.6 528.1h2.1M405.1 530.24h2.1M418 538.8h2.1M435.1 549.5h2.1M293.2 555.92h2.1M379.2 555.92h2.1M286.8 558.06h2.1M293.2 558.06h2.1M306.2 558.06h2.1M316.9 558.06h2.1M331.9 558.06h2.1M349.1 558.06h2.1M377.1 558.06h2.1M372.8 560.2h2.1M433 560.2h2.1M321.2 562.34h2.1M340.6 562.34h2.1M394.3 562.34h2.1M357.8 564.48h2.1M405.1 570.9h2.1M293.2 575.18h2.1M413.6 575.18h2.1M308.3 577.32h2.1M336.2 577.32h2.1M372.8 577.32h2.1M400.8 577.32h2.1M420.1 577.32h2.1M278.2 579.46h2.1M291.1 579.46h2.1M312.6 579.46h2.1M293.2 581.6h2.1M325.5 585.88h2.1M411.5 585.88h4.3M426.6 585.88h2.1M340.6 588.02h2.1M394.3 588.02h2.1M433 588.02h2.1M278.2 590.16h2.1M312.6 590.16h2.1M327.6 590.16h2.1M338.4 590.16h2.1M344.9 590.16h2.1M357.8 590.16h2.1M387.9 590.16h2.1M400.8 590.16h2.1M291.1 592.3h2.1M308.3 592.3h2.1M312.6 592.3h4.3M342.7 592.3h2.1M357.8 592.3h2.1M364.2 592.3h2.1M387.9 592.3h2.1M267.4 594.44h2.1M271.8 594.44h2.1M276.1 594.44h2.1M297.6 594.44h2.1M304 594.44h2.1M323.4 594.44h2.1M349.1 594.44h2.1M398.6 594.44h2.1M402.9 594.44h2.1M428.7 594.44h2.1M340.6 596.58h4.3M372.8 596.58h2.1M278.2 598.72h2.1M291.1 598.72h2.1M308.3 598.72h2.1M327.6 598.72h2.1M336.2 598.72h4.3M359.9 598.72h2.1M364.2 598.72h2.1M278.2 603h2.1M312.6 603h2.1M340.6 603h2.1M344.9 603h2.1M357.8 603h2.1M344.9 605.14h2.1M336.2 607.28h2.1M314.8 609.42h2.1M338.4 609.42h2.1M342.7 609.42h2.1M372.8 611.56h2.1M291.1 613.7h2.1M344.9 613.7h2.1M357.8 613.7h2.1M267.4 615.84h2.1M280.4 615.84h2.1M304 615.84h2.1M316.9 615.84h2.1M349.1 615.84h4.3M370.6 615.84h2.1M396.5 615.84h2.1M308.3 617.98h2.1M321.2 617.98h2.1M342.7 617.98h2.1M387.9 617.98h2.1M400.8 617.98h2.1M282.5 620.12h4.3M316.9 620.12h2.1M325.5 620.12h2.1M329.8 620.12h2.1M351.3 620.12h2.1M366.4 620.12h4.3" stroke="#e58268" stroke-width="1.64" fill="none"/>
<path d="M372.8 451.06h2.1M379.2 455.34h2.1M381.4 461.76h2.1M398.6 461.76h2.1M405.1 461.76h2.1M409.4 461.76h4.3M422.2 461.76h2.1M435.1 461.76h2.1M379.2 474.6h2.1M383.6 474.6h2.1M435.1 474.6h2.1M314.8 476.74h2.1M420.1 476.74h2.1M379.2 478.88h2.1M387.9 478.88h2.1M409.4 478.88h2.1M353.4 491.72h2.1M379.2 491.72h2.1M383.6 491.72h2.1M407.2 491.72h2.1M428.7 491.72h2.1M347 493.86h2.1M383.6 493.86h2.1M407.2 493.86h2.1M413.6 493.86h2.1M426.6 493.86h2.1M316.9 496h2.1M409.4 496h2.1M426.6 496h2.1M280.4 498.14h2.1M319.1 498.14h2.1M349.1 498.14h2.1M407.2 498.14h4.3M381.4 500.28h2.1M409.4 500.28h2.1M426.6 500.28h2.1M329.8 502.42h2.1M415.8 502.42h2.1M428.7 502.42h2.1M357.8 504.56h2.1M377.1 506.7h2.1M411.5 506.7h2.1M428.7 506.7h2.1M405.1 510.98h4.3M387.9 513.12h2.1M405.1 515.26h2.1M374.9 517.4h2.1M379.2 517.4h2.1M405.1 517.4h4.3M379.2 519.54h2.1M405.1 519.54h4.3M411.5 519.54h2.1M426.6 519.54h4.3M286.8 521.68h2.1M426.6 521.68h2.1M291.1 523.82h2.1M308.3 523.82h2.1M312.6 523.82h2.1M338.4 523.82h2.1M359.9 523.82h2.1M400.8 523.82h2.1M278.2 525.96h2.1M338.4 525.96h2.1M357.8 525.96h2.1M420.1 525.96h2.1M433 525.96h2.1M293.2 528.1h2.1M331.9 528.1h2.1M381.4 528.1h2.1M411.5 528.1h2.1M428.7 528.1h2.1M351.3 530.24h2.1M409.4 530.24h2.1M426.6 530.24h2.1M400.8 532.38h2.1M372.8 534.52h2.1M364.2 536.66h2.1M265.3 538.8h2.1M297.6 538.8h2.1M316.9 538.8h2.1M379.2 538.8h2.1M407.2 538.8h4.3M430.9 538.8h2.1M420.1 543.08h2.1M278.2 545.22h2.1M323.4 549.5h2.1M405.1 549.5h2.1M409.4 549.5h2.1M407.2 551.64h2.1M411.5 551.64h2.1M428.7 551.64h2.1M321.2 553.78h2.1M405.1 555.92h6.4M426.6 555.92h4.3M295.4 558.06h2.1M319.1 558.06h2.1M329.8 558.06h2.1M355.6 558.06h2.1M379.2 558.06h2.1M405.1 558.06h4.3M413.6 558.06h2.1M418 558.06h2.1M314.8 560.2h2.1M336.2 560.2h2.1M340.6 560.2h2.1M359.9 560.2h2.1M394.3 560.2h2.1M400.8 560.2h2.1M420.1 560.2h2.1M278.2 562.34h2.1M291.1 562.34h2.1M312.6 562.34h2.1M342.7 562.34h2.1M357.8 562.34h2.1M364.2 562.34h2.1M387.9 562.34h2.1M400.8 562.34h2.1M409.4 562.34h2.1M420.1 562.34h2.1M291.1 564.48h2.1M312.6 564.48h2.1M336.2 564.48h2.1M362.1 564.48h2.1M394.3 564.48h2.1M400.8 564.48h2.1M267.4 566.62h2.1M374.9 566.62h2.1M336.2 568.76h2.1M273.9 570.9h2.1M372.8 573.04h2.1M383.6 575.18h2.1M411.5 575.18h2.1M418 575.18h2.1M291.1 577.32h2.1M312.6 577.32h2.1M342.7 577.32h2.1M359.9 577.32h2.1M387.9 577.32h2.1M430.9 577.32h4.3M314.8 579.46h2.1M327.6 579.46h2.1M336.2 579.46h4.3M359.9 579.46h4.3M372.8 579.46h2.1M387.9 579.46h2.1M394.3 579.46h2.1M433 579.46h2.1M381.4 581.6h4.3M392.1 581.6h2.1M396.5 581.6h2.1M411.5 581.6h2.1M426.6 581.6h4.3M366.4 585.88h2.1M379.2 585.88h4.3M314.8 588.02h2.1M308.3 590.16h2.1M314.8 590.16h2.1M321.2 590.16h2.1M340.6 590.16h2.1M359.9 590.16h2.1M364.2 590.16h2.1M372.8 590.16h2.1M327.6 592.3h2.1M338.4 592.3h2.1M344.9 592.3h2.1M362.1 592.3h2.1M282.5 594.44h2.1M288.9 594.44h2.1M347 594.44h2.1M355.6 594.44h2.1M381.4 594.44h2.1M385.7 594.44h2.1M390 594.44h2.1M314.8 596.58h2.1M338.4 596.58h2.1M362.1 596.58h2.1M400.8 596.58h2.1M405.1 596.58h2.1M312.6 598.72h2.1M321.2 598.72h2.1M357.8 598.72h2.1M394.3 598.72h2.1M327.6 600.86h2.1M364.2 600.86h2.1M426.6 603h2.1M327.6 605.14h2.1M308.3 607.28h2.1M338.4 607.28h4.3M359.9 607.28h4.3M374.9 607.28h2.1M278.2 609.42h2.1M308.3 609.42h2.1M344.9 609.42h2.1M364.2 609.42h2.1M420.1 609.42h2.1M306.2 611.56h2.1M314.8 611.56h2.1M338.4 611.56h4.3M357.8 611.56h2.1M308.3 613.7h2.1M314.8 613.7h2.1M327.6 613.7h2.1M265.3 615.84h2.1M269.6 615.84h2.1M293.2 615.84h2.1M299.7 615.84h2.1M383.6 615.84h2.1M398.6 615.84h2.1M304 620.12h2.1M370.6 620.12h2.1M413.6 620.12h2.1M420.1 620.12h2.1" stroke="#fbceb6" stroke-width="1.64" fill="none"/>
<path d="M426.6 448.92h4.3M366.4 451.06h2.1M383.6 451.06h2.1M405.1 451.06h2.1M411.5 451.06h2.1M407.2 453.2h2.1M411.5 453.2h2.1M428.7 453.2h2.1M405.1 455.34h4.3M267.4 457.48h2.1M282.5 457.48h2.1M353.4 457.48h2.1M428.7 457.48h2.1M316.9 459.62h2.1M370.6 459.62h2.1M379.2 459.62h2.1M405.1 459.62h2.1M372.8 461.76h2.1M379.2 463.9h4.3M409.4 463.9h2.1M428.7 463.9h2.1M293.2 466.04h2.1M310.4 466.04h2.1M428.7 466.04h2.1M295.4 468.18h2.1M379.2 468.18h2.1M405.1 468.18h2.1M409.4 468.18h4.3M428.7 468.18h2.1M383.6 470.32h2.1M411.5 470.32h2.1M407.2 472.46h2.1M308.3 474.6h2.1M364.2 474.6h2.1M381.4 476.74h4.3M392.1 476.74h2.1M402.9 476.74h2.1M411.5 476.74h2.1M424.4 476.74h2.1M405.1 478.88h2.1M411.5 478.88h2.1M379.2 481.02h2.1M426.6 481.02h2.1M304 483.16h2.1M379.2 483.16h2.1M383.6 483.16h2.1M409.4 483.16h2.1M422.2 483.16h2.1M349.1 487.44h2.1M370.6 487.44h2.1M383.6 487.44h2.1M428.7 487.44h2.1M271.8 489.58h2.1M288.9 489.58h2.1M364.2 493.86h2.1M364.2 496h2.1M357.8 498.14h2.1M288.9 504.56h2.1M422.2 504.56h2.1M357.8 506.7h2.1M362.1 506.7h2.1M381.4 508.84h2.1M415.8 508.84h2.1M359.9 510.98h2.1M293.2 513.12h2.1M319.1 513.12h2.1M334.1 513.12h2.1M426.6 513.12h2.1M407.2 515.26h2.1M321.2 517.4h2.1M394.3 521.68h2.1M267.4 523.82h2.1M280.4 523.82h2.1M299.7 523.82h2.1M316.9 523.82h2.1M331.9 523.82h2.1M351.3 523.82h4.3M374.9 523.82h2.1M267.4 525.96h2.1M271.8 525.96h2.1M284.7 525.96h2.1M299.7 525.96h2.1M304 525.96h2.1M310.4 525.96h2.1M323.4 525.96h2.1M347 525.96h2.1M353.4 525.96h2.1M390 525.96h4.3M437.3 525.96h2.1M314.8 530.24h2.1M286.8 532.38h2.1M379.2 532.38h2.1M390 532.38h2.1M409.4 532.38h2.1M405.1 534.52h2.1M413.6 536.66h2.1M428.7 536.66h2.1M291.1 538.8h2.1M282.5 540.94h2.1M293.2 540.94h2.1M316.9 540.94h2.1M422.2 540.94h2.1M428.7 540.94h2.1M265.3 543.08h2.1M407.2 543.08h2.1M415.8 543.08h2.1M426.6 543.08h2.1M265.3 545.22h2.1M269.6 545.22h2.1M381.4 545.22h2.1M411.5 545.22h2.1M424.4 545.22h4.3M273.9 547.36h2.1M351.3 547.36h2.1M355.6 547.36h2.1M383.6 547.36h2.1M409.4 547.36h2.1M282.5 553.78h2.1M377.1 553.78h2.1M430.9 553.78h2.1M420.1 555.92h2.1M278.2 558.06h2.1M327.6 558.06h2.1M342.7 558.06h2.1M433 558.06h2.1M280.4 560.2h2.1M329.8 560.2h2.1M351.3 560.2h2.1M355.6 560.2h2.1M424.4 560.2h2.1M267.4 562.34h2.1M304 562.34h2.1M319.1 562.34h2.1M323.4 562.34h2.1M329.8 562.34h2.1M349.1 562.34h2.1M353.4 562.34h2.1M377.1 562.34h2.1M398.6 562.34h2.1M430.9 562.34h2.1M265.3 564.48h2.1M276.1 564.48h2.1M282.5 564.48h2.1M286.8 564.48h2.1M295.4 564.48h2.1M329.8 564.48h4.3M377.1 564.48h2.1M398.6 564.48h2.1M413.6 564.48h2.1M437.3 564.48h2.1M383.6 568.76h2.1M411.5 568.76h2.1M415.8 568.76h2.1M321.2 570.9h2.1M349.1 573.04h2.1M379.2 573.04h2.1M383.6 573.04h2.1M405.1 573.04h2.1M409.4 573.04h2.1M362.1 575.18h2.1M409.4 575.18h2.1M271.8 577.32h2.1M276.1 577.32h2.1M280.4 577.32h4.3M295.4 577.32h4.3M323.4 577.32h2.1M329.8 577.32h6.4M351.3 577.32h4.3M366.4 577.32h6.4M377.1 577.32h2.1M385.7 577.32h2.1M392.1 577.32h2.1M396.5 577.32h4.3M265.3 579.46h2.1M269.6 579.46h4.3M280.4 579.46h2.1M284.7 579.46h2.1M304 579.46h2.1M323.4 579.46h2.1M349.1 579.46h2.1M368.5 579.46h2.1M398.6 579.46h2.1M402.9 579.46h2.1M418 579.46h2.1M428.7 579.46h2.1M362.1 581.6h2.1M306.2 583.74h2.1M379.2 583.74h2.1M407.2 583.74h2.1M420.1 585.88h2.1M265.3 590.16h2.1M276.1 590.16h2.1M280.4 590.16h2.1M286.8 590.16h4.3M304 590.16h2.1M325.5 590.16h2.1M329.8 590.16h2.1M349.1 590.16h2.1M377.1 590.16h2.1M385.7 590.16h2.1M392.1 590.16h2.1M398.6 590.16h2.1M402.9 590.16h2.1M271.8 592.3h4.3M282.5 592.3h2.1M286.8 592.3h2.1M299.7 592.3h2.1M304 592.3h4.3M347 592.3h2.1M351.3 592.3h4.3M374.9 592.3h2.1M291.1 594.44h2.1M265.3 596.58h2.1M269.6 596.58h2.1M280.4 596.58h4.3M288.9 596.58h2.1M293.2 596.58h2.1M299.7 596.58h2.1M306.2 596.58h2.1M316.9 596.58h4.3M323.4 596.58h2.1M349.1 596.58h2.1M396.5 596.58h2.1M402.9 596.58h2.1M422.2 596.58h4.3M428.7 596.58h2.1M271.8 598.72h2.1M288.9 598.72h2.1M295.4 598.72h2.1M299.7 598.72h2.1M306.2 598.72h2.1M334.1 598.72h2.1M347 598.72h4.3M385.7 598.72h2.1M398.6 598.72h2.1M271.8 600.86h2.1M288.9 600.86h2.1M306.2 600.86h2.1M390 600.86h2.1M396.5 600.86h2.1M413.6 600.86h2.1M426.6 600.86h2.1M437.3 600.86h2.1M323.4 603h2.1M424.4 603h2.1M430.9 603h2.1M392.1 605.14h2.1M269.6 607.28h2.1M273.9 607.28h2.1M288.9 607.28h2.1M295.4 607.28h2.1M304 607.28h2.1M323.4 607.28h2.1M349.1 607.28h6.4M366.4 607.28h2.1M398.6 607.28h2.1M284.7 609.42h4.3M295.4 609.42h2.1M306.2 609.42h2.1M310.4 609.42h2.1M334.1 609.42h2.1M355.6 609.42h2.1M370.6 609.42h2.1M390 609.42h4.3M415.8 609.42h2.1M424.4 609.42h2.1M428.7 609.42h4.3M265.3 611.56h2.1M273.9 611.56h2.1M282.5 611.56h4.3M297.6 611.56h2.1M323.4 611.56h2.1M329.8 611.56h2.1M347 611.56h2.1M351.3 611.56h4.3M377.1 611.56h2.1M383.6 611.56h4.3M418 611.56h2.1M293.2 613.7h2.1M306.2 613.7h2.1M319.1 613.7h2.1M383.6 613.7h2.1M413.6 613.7h2.1M426.6 613.7h4.3M308.3 615.84h2.1M314.8 615.84h2.1M338.4 615.84h2.1M362.1 615.84h2.1M394.3 615.84h2.1M267.4 617.98h4.3M288.9 617.98h2.1M377.1 617.98h2.1M392.1 617.98h2.1M396.5 617.98h2.1M278.2 620.12h2.1M314.8 620.12h2.1M342.7 620.12h2.1M415.8 620.12h4.3" stroke="#c1ddec" stroke-width="1.64" fill="none"/>
<path d="M409.4 448.92h2.1M381.4 451.06h2.1M413.6 453.2h2.1M381.4 455.34h2.1M428.7 455.34h2.1M407.2 457.48h2.1M383.6 463.9h2.1M407.2 463.9h2.1M409.4 466.04h2.1M413.6 466.04h2.1M411.5 472.46h2.1M310.4 476.74h2.1M319.1 476.74h2.1M385.7 476.74h2.1M413.6 476.74h2.1M430.9 476.74h2.1M381.4 481.02h4.3M379.2 489.58h2.1M394.3 493.86h2.1M413.6 504.56h2.1M405.1 508.84h2.1M428.7 508.84h2.1M413.6 513.12h2.1M428.7 513.12h2.1M269.6 523.82h2.1M273.9 523.82h2.1M282.5 523.82h2.1M286.8 523.82h2.1M306.2 523.82h2.1M310.4 523.82h2.1M325.5 523.82h2.1M368.5 523.82h2.1M385.7 523.82h2.1M415.8 523.82h2.1M435.1 523.82h2.1M269.6 525.96h2.1M273.9 525.96h4.3M288.9 525.96h2.1M331.9 525.96h2.1M385.7 525.96h2.1M316.9 532.38h2.1M407.2 532.38h2.1M413.6 532.38h2.1M426.6 534.52h2.1M293.2 536.66h2.1M364.2 538.8h2.1M405.1 540.94h2.1M413.6 543.08h2.1M437.3 543.08h2.1M276.1 545.22h2.1M428.7 545.22h2.1M293.2 553.78h2.1M411.5 553.78h2.1M291.1 558.06h2.1M338.4 558.06h4.3M387.9 558.06h2.1M273.9 560.2h2.1M288.9 560.2h2.1M299.7 560.2h2.1M310.4 560.2h2.1M370.6 560.2h2.1M415.8 560.2h4.3M435.1 560.2h2.1M269.6 562.34h4.3M280.4 562.34h2.1M297.6 562.34h2.1M306.2 562.34h2.1M351.3 562.34h2.1M415.8 562.34h2.1M413.6 568.76h2.1M411.5 573.04h4.3M267.4 577.32h2.1M273.9 577.32h2.1M286.8 577.32h2.1M306.2 577.32h2.1M310.4 577.32h2.1M319.1 577.32h2.1M355.6 577.32h2.1M374.9 577.32h2.1M390 577.32h2.1M415.8 577.32h4.3M422.2 577.32h4.3M437.3 577.32h2.1M267.4 579.46h2.1M276.1 579.46h2.1M282.5 579.46h2.1M293.2 579.46h2.1M297.6 579.46h4.3M310.4 579.46h2.1M319.1 579.46h2.1M329.8 579.46h6.4M347 579.46h2.1M385.7 579.46h2.1M422.2 579.46h2.1M430.9 579.46h2.1M411.5 583.74h2.1M422.2 588.02h2.1M282.5 590.16h4.3M297.6 590.16h2.1M306.2 590.16h2.1M319.1 590.16h2.1M323.4 590.16h2.1M331.9 590.16h4.3M351.3 590.16h4.3M368.5 590.16h2.1M390 590.16h2.1M413.6 590.16h2.1M269.6 592.3h2.1M288.9 592.3h2.1M295.4 592.3h4.3M325.5 592.3h2.1M331.9 592.3h2.1M368.5 592.3h4.3M314.8 594.44h2.1M321.2 594.44h2.1M342.7 594.44h2.1M362.1 594.44h2.1M372.8 594.44h2.1M400.8 594.44h2.1M284.7 596.58h4.3M310.4 596.58h2.1M329.8 596.58h2.1M347 596.58h2.1M351.3 596.58h2.1M355.6 596.58h2.1M366.4 596.58h2.1M370.6 596.58h2.1M390 596.58h4.3M437.3 596.58h2.1M265.3 598.72h4.3M273.9 598.72h2.1M280.4 598.72h4.3M286.8 598.72h2.1M304 598.72h2.1M310.4 598.72h2.1M316.9 598.72h4.3M323.4 598.72h4.3M366.4 598.72h2.1M370.6 598.72h2.1M265.3 600.86h2.1M273.9 600.86h2.1M284.7 600.86h2.1M293.2 600.86h2.1M316.9 600.86h2.1M351.3 600.86h2.1M355.6 600.86h2.1M392.1 600.86h2.1M269.6 603h2.1M293.2 603h2.1M297.6 603h2.1M374.9 603h2.1M435.1 603h2.1M276.1 605.14h2.1M349.1 605.14h2.1M374.9 605.14h2.1M383.6 605.14h2.1M396.5 605.14h2.1M413.6 607.28h2.1M331.9 609.42h2.1M349.1 609.42h2.1M422.2 609.42h2.1M267.4 611.56h2.1M319.1 611.56h2.1M366.4 611.56h2.1M422.2 611.56h4.3M271.8 613.7h2.1M280.4 613.7h2.1M366.4 613.7h2.1M377.1 613.7h2.1M321.2 615.84h2.1M327.6 615.84h2.1M364.2 615.84h2.1M400.8 615.84h2.1M370.6 617.98h2.1M336.2 620.12h2.1M357.8 620.12h2.1M424.4 620.12h2.1" stroke="#6aacd0" stroke-width="1.64" fill="none"/>
<path d="M271.8 448.92h2.1M293.2 448.92h6.4M347 448.92h2.1M353.4 448.92h2.1M368.5 448.92h4.3M413.6 448.92h2.1M430.9 448.92h2.1M435.1 448.92h2.1M265.3 451.06h2.1M293.2 451.06h2.1M299.7 451.06h2.1M310.4 451.06h2.1M329.8 451.06h4.3M349.1 451.06h2.1M377.1 451.06h2.1M392.1 451.06h2.1M413.6 451.06h2.1M422.2 451.06h2.1M430.9 451.06h2.1M437.3 451.06h2.1M293.2 453.2h2.1M299.7 453.2h2.1M304 453.2h2.1M316.9 453.2h2.1M323.4 453.2h2.1M329.8 453.2h4.3M351.3 453.2h2.1M366.4 453.2h2.1M377.1 453.2h2.1M392.1 453.2h2.1M402.9 453.2h2.1M293.2 455.34h2.1M329.8 455.34h2.1M385.7 455.34h2.1M396.5 455.34h2.1M413.6 455.34h4.3M422.2 455.34h2.1M437.3 455.34h2.1M280.4 457.48h2.1M293.2 457.48h2.1M299.7 457.48h2.1M304 457.48h2.1M310.4 457.48h2.1M319.1 457.48h2.1M329.8 457.48h2.1M347 457.48h2.1M366.4 457.48h4.3M392.1 457.48h2.1M396.5 457.48h2.1M413.6 457.48h2.1M435.1 457.48h2.1M286.8 459.62h2.1M293.2 459.62h2.1M299.7 459.62h2.1M319.1 459.62h2.1M323.4 459.62h4.3M385.7 459.62h2.1M392.1 459.62h2.1M413.6 459.62h2.1M422.2 459.62h2.1M312.6 461.76h2.1M321.2 461.76h2.1M336.2 461.76h2.1M433 461.76h2.1M276.1 463.9h2.1M284.7 463.9h2.1M293.2 463.9h2.1M366.4 463.9h2.1M422.2 463.9h2.1M435.1 463.9h2.1M269.6 466.04h4.3M276.1 466.04h2.1M286.8 466.04h4.3M304 466.04h2.1M351.3 466.04h2.1M355.6 466.04h2.1M377.1 466.04h2.1M383.6 466.04h2.1M398.6 466.04h2.1M424.4 466.04h2.1M437.3 466.04h2.1M265.3 468.18h2.1M282.5 468.18h2.1M286.8 468.18h2.1M293.2 468.18h2.1M299.7 468.18h2.1M310.4 468.18h2.1M347 468.18h2.1M351.3 468.18h2.1M390 468.18h2.1M413.6 468.18h4.3M422.2 468.18h2.1M430.9 468.18h2.1M435.1 468.18h2.1M293.2 470.32h2.1M310.4 470.32h2.1M334.1 470.32h2.1M347 470.32h2.1M353.4 470.32h2.1M370.6 470.32h2.1M402.9 470.32h2.1M413.6 470.32h4.3M422.2 470.32h2.1M430.9 470.32h2.1M437.3 470.32h2.1M267.4 472.46h2.1M276.1 472.46h2.1M293.2 472.46h2.1M297.6 472.46h4.3M306.2 472.46h2.1M331.9 472.46h2.1M374.9 472.46h2.1M413.6 472.46h2.1M435.1 472.46h2.1M291.1 474.6h2.1M314.8 474.6h2.1M321.2 474.6h2.1M336.2 474.6h2.1M342.7 474.6h2.1M372.8 474.6h2.1M387.9 474.6h2.1M420.1 474.6h2.1M433 474.6h2.1M267.4 476.74h10.8M280.4 476.74h10.8M293.2 476.74h8.6M304 476.74h4.3M316.9 476.74h2.1M323.4 476.74h4.3M329.8 476.74h6.4M347 476.74h6.4M355.6 476.74h2.1M366.4 476.74h6.4M374.9 476.74h4.3M390 476.74h2.1M396.5 476.74h2.1M415.8 476.74h4.3M422.2 476.74h2.1M435.1 476.74h4.3M286.8 478.88h2.1M293.2 478.88h2.1M310.4 478.88h2.1M316.9 478.88h2.1M351.3 478.88h2.1M366.4 478.88h2.1M390 478.88h4.3M398.6 478.88h2.1M413.6 478.88h2.1M418 478.88h2.1M435.1 478.88h2.1M280.4 481.02h2.1M293.2 481.02h2.1M297.6 481.02h2.1M319.1 481.02h2.1M329.8 481.02h2.1M349.1 481.02h2.1M353.4 481.02h2.1M385.7 481.02h2.1M396.5 481.02h2.1M413.6 481.02h2.1M422.2 481.02h2.1M435.1 481.02h4.3M293.2 483.16h2.1M325.5 483.16h2.1M349.1 483.16h2.1M407.2 483.16h2.1M413.6 483.16h4.3M424.4 483.16h2.1M430.9 483.16h2.1M286.8 487.44h2.1M293.2 487.44h4.3M377.1 487.44h2.1M392.1 487.44h2.1M398.6 487.44h2.1M413.6 487.44h4.3M422.2 487.44h2.1M435.1 487.44h2.1M284.7 489.58h2.1M293.2 489.58h2.1M297.6 489.58h2.1M347 489.58h2.1M385.7 489.58h2.1M390 489.58h2.1M413.6 489.58h2.1M418 489.58h2.1M424.4 489.58h2.1M430.9 489.58h2.1M437.3 489.58h2.1M291.1 491.72h2.1M312.6 491.72h2.1M321.2 491.72h2.1M327.6 491.72h2.1M342.7 491.72h2.1M310.4 493.86h2.1M321.2 493.86h2.1M340.6 493.86h2.1M372.8 493.86h2.1M278.2 496h2.1M314.8 496h2.1M336.2 496h4.3M344.9 496h2.1M372.8 496h2.1M387.9 496h2.1M308.3 498.14h2.1M314.8 498.14h2.1M321.2 498.14h2.1M327.6 498.14h2.1M372.8 498.14h2.1M387.9 498.14h2.1M278.2 500.28h2.1M316.9 500.28h2.1M321.2 500.28h2.1M327.6 500.28h2.1M344.9 500.28h2.1M394.3 500.28h2.1M312.6 502.42h2.1M319.1 502.42h2.1M327.6 502.42h2.1M344.9 502.42h2.1M359.9 502.42h4.3M273.9 504.56h2.1M286.8 504.56h2.1M293.2 504.56h2.1M319.1 504.56h4.3M325.5 504.56h2.1M331.9 504.56h4.3M353.4 504.56h2.1M377.1 504.56h2.1M385.7 504.56h2.1M390 504.56h2.1M415.8 504.56h2.1M424.4 504.56h2.1M430.9 504.56h2.1M435.1 504.56h4.3M278.2 506.7h2.1M312.6 506.7h4.3M321.2 506.7h4.3M364.2 506.7h2.1M273.9 508.84h2.1M284.7 508.84h2.1M293.2 508.84h2.1M297.6 508.84h2.1M310.4 508.84h2.1M329.8 508.84h2.1M366.4 508.84h2.1M370.6 508.84h2.1M377.1 508.84h2.1M413.6 508.84h2.1M418 508.84h2.1M422.2 508.84h2.1M435.1 508.84h2.1M278.2 510.98h2.1M291.1 510.98h2.1M312.6 510.98h2.1M340.6 510.98h4.3M357.8 510.98h2.1M364.2 510.98h2.1M288.9 513.12h2.1M310.4 513.12h2.1M329.8 513.12h2.1M351.3 513.12h2.1M355.6 513.12h2.1M396.5 513.12h4.3M402.9 513.12h2.1M415.8 513.12h2.1M422.2 513.12h2.1M435.1 513.12h2.1M308.3 515.26h2.1M312.6 515.26h2.1M321.2 515.26h2.1M327.6 515.26h2.1M331.9 515.26h2.1M342.7 515.26h4.3M357.8 515.26h6.4M400.8 515.26h2.1M420.1 515.26h2.1M433 515.26h2.1M334.1 517.4h2.1M338.4 517.4h4.3M359.9 517.4h2.1M364.2 517.4h2.1M387.9 517.4h2.1M394.3 517.4h2.1M321.2 519.54h2.1M327.6 519.54h2.1M336.2 519.54h2.1M359.9 519.54h2.1M291.1 521.68h2.1M314.8 521.68h2.1M321.2 521.68h2.1M340.6 521.68h2.1M359.9 521.68h2.1M364.2 521.68h2.1M400.8 521.68h2.1M340.6 523.82h2.1M377.1 523.82h2.1M342.7 525.96h2.1M308.3 528.1h2.1M321.2 528.1h2.1M340.6 528.1h4.3M357.8 528.1h2.1M364.2 528.1h2.1M420.1 528.1h2.1M327.6 530.24h2.1M336.2 530.24h2.1M342.7 530.24h2.1M347 530.24h2.1M359.9 530.24h2.1M271.8 532.38h2.1M293.2 532.38h2.1M304 532.38h2.1M323.4 532.38h4.3M329.8 532.38h2.1M374.9 532.38h2.1M385.7 532.38h2.1M422.2 532.38h2.1M430.9 532.38h2.1M293.2 534.52h2.1M323.4 534.52h4.3M329.8 534.52h2.1M334.1 534.52h2.1M353.4 534.52h2.1M377.1 534.52h2.1M396.5 534.52h2.1M435.1 534.52h2.1M316.9 536.66h2.1M353.4 536.66h4.3M370.6 536.66h2.1M385.7 536.66h2.1M396.5 536.66h2.1M402.9 536.66h2.1M418 536.66h2.1M437.3 536.66h2.1M312.6 538.8h2.1M321.2 538.8h2.1M327.6 538.8h2.1M336.2 538.8h4.3M344.9 538.8h2.1M355.6 538.8h4.3M372.8 538.8h2.1M387.9 538.8h2.1M420.1 538.8h2.1M271.8 540.94h2.1M276.1 540.94h2.1M280.4 540.94h2.1M288.9 540.94h2.1M297.6 540.94h2.1M323.4 540.94h2.1M357.8 540.94h2.1M390 540.94h2.1M413.6 540.94h2.1M435.1 540.94h4.3M269.6 543.08h2.1M293.2 543.08h2.1M347 543.08h2.1M351.3 543.08h2.1M359.9 543.08h2.1M374.9 543.08h2.1M385.7 543.08h2.1M390 543.08h2.1M402.9 543.08h2.1M418 543.08h2.1M280.4 545.22h2.1M286.8 545.22h2.1M293.2 545.22h2.1M304 545.22h2.1M310.4 545.22h2.1M316.9 545.22h2.1M323.4 545.22h2.1M331.9 545.22h4.3M347 545.22h2.1M362.1 545.22h2.1M370.6 545.22h2.1M392.1 545.22h2.1M402.9 545.22h2.1M407.2 545.22h2.1M413.6 545.22h2.1M430.9 545.22h2.1M364.2 547.36h4.3M374.9 547.36h2.1M413.6 547.36h2.1M422.2 547.36h4.3M278.2 549.5h2.1M291.1 549.5h2.1M308.3 549.5h2.1M312.6 549.5h2.1M321.2 549.5h2.1M327.6 549.5h2.1M364.2 549.5h4.3M400.8 549.5h2.1M291.1 551.64h2.1M321.2 551.64h2.1M327.6 551.64h2.1M336.2 551.64h2.1M344.9 551.64h2.1M357.8 551.64h2.1M362.1 551.64h2.1M368.5 551.64h2.1M400.8 551.64h2.1M433 551.64h2.1M288.9 553.78h2.1M297.6 553.78h2.1M325.5 553.78h2.1M329.8 553.78h2.1M334.1 553.78h2.1M390 553.78h4.3M396.5 553.78h4.3M413.6 553.78h4.3M278.2 555.92h2.1M291.1 555.92h2.1M321.2 555.92h2.1M327.6 555.92h2.1M394.3 555.92h2.1M308.3 558.06h2.1M312.6 558.06h4.3M321.2 558.06h2.1M336.2 558.06h2.1M344.9 558.06h2.1M357.8 558.06h6.4M372.8 558.06h4.3M394.3 558.06h2.1M400.8 558.06h2.1M420.1 558.06h2.1M377.1 560.2h2.1M379.2 562.34h2.1M288.9 564.48h2.1M381.4 564.48h2.1M291.1 566.62h2.1M312.6 566.62h2.1M327.6 566.62h2.1M340.6 566.62h2.1M372.8 566.62h2.1M383.6 566.62h2.1M400.8 566.62h2.1M284.7 568.76h2.1M293.2 568.76h2.1M304 568.76h2.1M329.8 568.76h2.1M334.1 568.76h2.1M385.7 568.76h2.1M402.9 568.76h2.1M430.9 568.76h2.1M437.3 568.76h2.1M312.6 570.9h2.1M340.6 570.9h2.1M344.9 570.9h2.1M359.9 570.9h2.1M372.8 570.9h2.1M400.8 570.9h2.1M267.4 573.04h2.1M271.8 573.04h2.1M295.4 573.04h2.1M299.7 573.04h2.1M306.2 573.04h2.1M310.4 573.04h2.1M334.1 573.04h2.1M351.3 573.04h2.1M368.5 573.04h4.3M374.9 573.04h2.1M385.7 573.04h2.1M430.9 573.04h2.1M312.6 575.18h2.1M321.2 575.18h2.1M344.9 575.18h2.1M364.2 575.18h2.1M372.8 575.18h2.1M387.9 575.18h2.1M392.1 575.18h2.1M400.8 575.18h2.1M304 577.32h2.1M394.3 577.32h2.1M351.3 579.46h2.1M366.4 579.46h2.1M370.6 579.46h2.1M396.5 579.46h2.1M415.8 579.46h2.1M435.1 579.46h2.1M278.2 581.6h2.1M321.2 581.6h2.1M327.6 581.6h2.1M342.7 581.6h2.1M357.8 581.6h2.1M398.6 581.6h2.1M286.8 583.74h2.1M293.2 583.74h2.1M297.6 583.74h2.1M310.4 583.74h2.1M319.1 583.74h2.1M331.9 583.74h2.1M374.9 583.74h2.1M400.8 583.74h4.3M413.6 583.74h2.1M424.4 583.74h2.1M430.9 583.74h2.1M437.3 583.74h2.1M278.2 585.88h2.1M314.8 585.88h2.1M321.2 585.88h2.1M340.6 585.88h2.1M344.9 585.88h2.1M394.3 585.88h2.1M402.9 585.88h2.1M265.3 588.02h2.1M293.2 588.02h2.1M297.6 588.02h2.1M304 588.02h2.1M319.1 588.02h2.1M334.1 588.02h2.1M398.6 588.02h2.1M402.9 588.02h4.3M413.6 588.02h2.1M267.4 590.16h8.6M299.7 590.16h2.1M366.4 590.16h2.1M370.6 590.16h2.1M374.9 590.16h2.1M407.2 590.16h4.3M418 590.16h2.1M424.4 590.16h2.1M265.3 592.3h2.1M284.7 592.3h2.1M310.4 592.3h2.1M329.8 592.3h2.1M334.1 592.3h2.1M349.1 592.3h2.1M355.6 592.3h2.1M396.5 592.3h2.1M407.2 592.3h4.3M430.9 592.3h2.1M435.1 592.3h2.1M278.2 594.44h2.1M308.3 594.44h2.1M336.2 594.44h2.1M340.6 594.44h2.1M344.9 594.44h2.1M357.8 594.44h4.3M364.2 594.44h2.1M387.9 594.44h2.1M394.3 594.44h2.1M411.5 594.44h2.1M267.4 596.58h2.1M273.9 596.58h4.3M304 596.58h2.1M325.5 596.58h2.1M331.9 596.58h4.3M353.4 596.58h2.1M368.5 596.58h2.1M374.9 596.58h4.3M398.6 596.58h2.1M413.6 596.58h6.4M430.9 596.58h2.1M435.1 596.58h2.1M269.6 598.72h2.1M276.1 598.72h2.1M297.6 598.72h2.1M329.8 598.72h4.3M353.4 598.72h4.3M396.5 598.72h2.1M407.2 598.72h4.3M437.3 598.72h2.1M267.4 600.86h4.3M276.1 600.86h2.1M280.4 600.86h4.3M286.8 600.86h2.1M297.6 600.86h4.3M304 600.86h2.1M310.4 600.86h2.1M319.1 600.86h2.1M323.4 600.86h4.3M331.9 600.86h4.3M349.1 600.86h2.1M366.4 600.86h6.4M377.1 600.86h2.1M385.7 600.86h2.1M398.6 600.86h2.1M402.9 600.86h2.1M407.2 600.86h4.3M265.3 603h4.3M271.8 603h6.4M280.4 603h10.8M295.4 603h2.1M299.7 603h2.1M310.4 603h2.1M319.1 603h2.1M325.5 603h2.1M329.8 603h6.4M347 603h10.8M366.4 603h6.4M377.1 603h2.1M385.7 603h2.1M390 603h4.3M396.5 603h4.3M402.9 603h2.1M411.5 603h2.1M420.1 603h2.1M265.3 605.14h10.8M280.4 605.14h8.6M295.4 605.14h6.4M304 605.14h4.3M310.4 605.14h2.1M319.1 605.14h2.1M323.4 605.14h4.3M329.8 605.14h6.4M351.3 605.14h6.4M366.4 605.14h6.4M377.1 605.14h2.1M385.7 605.14h2.1M398.6 605.14h2.1M402.9 605.14h2.1M407.2 605.14h4.3M407.2 607.28h4.3M415.8 607.28h4.3M422.2 607.28h4.3M435.1 607.28h2.1M426.6 609.42h2.1M428.7 611.56h2.1M265.3 613.7h6.4M273.9 613.7h4.3M282.5 613.7h6.4M295.4 613.7h6.4M310.4 613.7h2.1M323.4 613.7h2.1M329.8 613.7h6.4M349.1 613.7h8.6M368.5 613.7h4.3M374.9 613.7h2.1M385.7 613.7h2.1M390 613.7h4.3M396.5 613.7h4.3M402.9 613.7h2.1M407.2 613.7h2.1M278.2 615.84h2.1M291.1 615.84h2.1M312.6 615.84h2.1M336.2 615.84h2.1M340.6 615.84h6.4M357.8 615.84h4.3M372.8 615.84h2.1M387.9 615.84h2.1M411.5 615.84h2.1M265.3 617.98h2.1M271.8 617.98h2.1M276.1 617.98h2.1M280.4 617.98h8.6M293.2 617.98h8.6M306.2 617.98h2.1M310.4 617.98h2.1M316.9 617.98h4.3M323.4 617.98h4.3M329.8 617.98h6.4M347 617.98h4.3M353.4 617.98h4.3M366.4 617.98h4.3M374.9 617.98h2.1M385.7 617.98h2.1M390 617.98h2.1M398.6 617.98h2.1M402.9 617.98h2.1M407.2 617.98h4.3M413.6 617.98h2.1M291.1 620.12h2.1M308.3 620.12h2.1M312.6 620.12h2.1M327.6 620.12h2.1M338.4 620.12h4.3M344.9 620.12h2.1M359.9 620.12h6.4M372.8 620.12h2.1M387.9 620.12h2.1M394.3 620.12h2.1M407.2 620.12h4.3M430.9 620.12h2.1M437.3 620.12h2.1" stroke="#2a71b2" stroke-width="1.64" fill="none"/>
<path d="M265.3 448.92h6.4M273.9 448.92h4.3M280.4 448.92h10.8M299.7 448.92h2.1M304 448.92h4.3M310.4 448.92h2.1M316.9 448.92h4.3M323.4 448.92h4.3M329.8 448.92h6.4M349.1 448.92h4.3M355.6 448.92h2.1M366.4 448.92h2.1M374.9 448.92h4.3M385.7 448.92h2.1M390 448.92h4.3M396.5 448.92h4.3M402.9 448.92h2.1M415.8 448.92h4.3M422.2 448.92h4.3M437.3 448.92h2.1M267.4 451.06h10.8M280.4 451.06h10.8M295.4 451.06h4.3M304 451.06h4.3M316.9 451.06h4.3M323.4 451.06h4.3M334.1 451.06h2.1M347 451.06h2.1M351.3 451.06h6.4M368.5 451.06h4.3M374.9 451.06h2.1M385.7 451.06h2.1M390 451.06h2.1M396.5 451.06h4.3M402.9 451.06h2.1M415.8 451.06h4.3M424.4 451.06h2.1M435.1 451.06h2.1M265.3 453.2h12.9M280.4 453.2h10.8M295.4 453.2h4.3M306.2 453.2h2.1M310.4 453.2h2.1M319.1 453.2h2.1M325.5 453.2h2.1M334.1 453.2h2.1M347 453.2h4.3M353.4 453.2h4.3M368.5 453.2h4.3M374.9 453.2h2.1M385.7 453.2h2.1M390 453.2h2.1M396.5 453.2h4.3M415.8 453.2h4.3M422.2 453.2h4.3M430.9 453.2h2.1M435.1 453.2h4.3M265.3 455.34h12.9M280.4 455.34h10.8M295.4 455.34h6.4M304 455.34h4.3M310.4 455.34h2.1M316.9 455.34h4.3M323.4 455.34h4.3M331.9 455.34h4.3M347 455.34h10.8M366.4 455.34h6.4M374.9 455.34h4.3M390 455.34h4.3M398.6 455.34h2.1M402.9 455.34h2.1M418 455.34h2.1M424.4 455.34h2.1M430.9 455.34h2.1M435.1 455.34h2.1M265.3 457.48h2.1M269.6 457.48h8.6M284.7 457.48h6.4M295.4 457.48h4.3M306.2 457.48h2.1M316.9 457.48h2.1M323.4 457.48h4.3M331.9 457.48h4.3M349.1 457.48h4.3M355.6 457.48h2.1M370.6 457.48h2.1M374.9 457.48h4.3M385.7 457.48h2.1M390 457.48h2.1M398.6 457.48h2.1M402.9 457.48h2.1M415.8 457.48h4.3M422.2 457.48h4.3M430.9 457.48h2.1M437.3 457.48h2.1M265.3 459.62h12.9M280.4 459.62h6.4M288.9 459.62h2.1M295.4 459.62h4.3M304 459.62h4.3M310.4 459.62h2.1M329.8 459.62h6.4M347 459.62h10.8M366.4 459.62h4.3M374.9 459.62h4.3M390 459.62h2.1M396.5 459.62h4.3M402.9 459.62h2.1M415.8 459.62h4.3M424.4 459.62h2.1M430.9 459.62h2.1M435.1 459.62h4.3M278.2 461.76h2.1M291.1 461.76h2.1M308.3 461.76h2.1M314.8 461.76h2.1M327.6 461.76h2.1M338.4 461.76h8.6M357.8 461.76h8.6M387.9 461.76h2.1M394.3 461.76h2.1M400.8 461.76h2.1M420.1 461.76h2.1M265.3 463.9h10.8M280.4 463.9h4.3M286.8 463.9h4.3M295.4 463.9h6.4M304 463.9h4.3M310.4 463.9h2.1M316.9 463.9h4.3M323.4 463.9h4.3M329.8 463.9h6.4M347 463.9h10.8M368.5 463.9h4.3M374.9 463.9h4.3M385.7 463.9h2.1M390 463.9h4.3M396.5 463.9h4.3M402.9 463.9h2.1M415.8 463.9h4.3M424.4 463.9h2.1M430.9 463.9h2.1M437.3 463.9h2.1M265.3 466.04h4.3M273.9 466.04h2.1M280.4 466.04h6.4M295.4 466.04h6.4M306.2 466.04h2.1M316.9 466.04h4.3M323.4 466.04h4.3M329.8 466.04h6.4M347 466.04h4.3M353.4 466.04h2.1M366.4 466.04h6.4M374.9 466.04h2.1M385.7 466.04h2.1M390 466.04h4.3M396.5 466.04h2.1M402.9 466.04h2.1M415.8 466.04h4.3M422.2 466.04h2.1M430.9 466.04h2.1M435.1 466.04h2.1M267.4 468.18h10.8M280.4 468.18h2.1M284.7 468.18h2.1M288.9 468.18h2.1M297.6 468.18h2.1M304 468.18h4.3M316.9 468.18h4.3M323.4 468.18h4.3M329.8 468.18h6.4M349.1 468.18h2.1M353.4 468.18h4.3M366.4 468.18h6.4M374.9 468.18h4.3M385.7 468.18h2.1M392.1 468.18h2.1M396.5 468.18h4.3M402.9 468.18h2.1M418 468.18h2.1M424.4 468.18h2.1M437.3 468.18h2.1M265.3 470.32h12.9M280.4 470.32h10.8M295.4 470.32h6.4M304 470.32h4.3M316.9 470.32h4.3M323.4 470.32h4.3M329.8 470.32h4.3M349.1 470.32h4.3M355.6 470.32h2.1M366.4 470.32h4.3M374.9 470.32h4.3M385.7 470.32h2.1M390 470.32h4.3M396.5 470.32h4.3M418 470.32h2.1M424.4 470.32h2.1M435.1 470.32h2.1M265.3 472.46h2.1M269.6 472.46h6.4M280.4 472.46h10.8M295.4 472.46h2.1M304 472.46h2.1M310.4 472.46h2.1M316.9 472.46h4.3M323.4 472.46h4.3M329.8 472.46h2.1M334.1 472.46h2.1M347 472.46h10.8M366.4 472.46h6.4M377.1 472.46h2.1M385.7 472.46h2.1M390 472.46h4.3M396.5 472.46h4.3M402.9 472.46h2.1M415.8 472.46h4.3M422.2 472.46h4.3M430.9 472.46h2.1M437.3 472.46h2.1M278.2 474.6h2.1M312.6 474.6h2.1M327.6 474.6h2.1M338.4 474.6h4.3M344.9 474.6h2.1M357.8 474.6h6.4M394.3 474.6h2.1M400.8 474.6h2.1M265.3 476.74h2.1M353.4 476.74h2.1M265.3 478.88h12.9M280.4 478.88h6.4M288.9 478.88h2.1M295.4 478.88h6.4M304 478.88h4.3M319.1 478.88h2.1M323.4 478.88h4.3M329.8 478.88h6.4M347 478.88h4.3M353.4 478.88h4.3M368.5 478.88h4.3M374.9 478.88h4.3M385.7 478.88h2.1M396.5 478.88h2.1M402.9 478.88h2.1M415.8 478.88h2.1M422.2 478.88h4.3M430.9 478.88h2.1M437.3 478.88h2.1M265.3 481.02h12.9M282.5 481.02h8.6M295.4 481.02h2.1M299.7 481.02h2.1M304 481.02h4.3M310.4 481.02h2.1M316.9 481.02h2.1M323.4 481.02h4.3M331.9 481.02h4.3M347 481.02h2.1M351.3 481.02h2.1M355.6 481.02h2.1M366.4 481.02h6.4M374.9 481.02h4.3M390 481.02h4.3M398.6 481.02h2.1M402.9 481.02h2.1M415.8 481.02h4.3M424.4 481.02h2.1M430.9 481.02h2.1M265.3 483.16h12.9M280.4 483.16h10.8M295.4 483.16h6.4M306.2 483.16h2.1M310.4 483.16h2.1M316.9 483.16h4.3M323.4 483.16h2.1M329.8 483.16h6.4M347 483.16h2.1M351.3 483.16h6.4M366.4 483.16h6.4M374.9 483.16h4.3M385.7 483.16h2.1M390 483.16h4.3M396.5 483.16h4.3M402.9 483.16h2.1M418 483.16h2.1M435.1 483.16h4.3M265.3 487.44h12.9M280.4 487.44h6.4M288.9 487.44h2.1M297.6 487.44h4.3M304 487.44h4.3M310.4 487.44h2.1M316.9 487.44h4.3M323.4 487.44h4.3M329.8 487.44h6.4M347 487.44h2.1M351.3 487.44h6.4M366.4 487.44h4.3M374.9 487.44h2.1M385.7 487.44h2.1M390 487.44h2.1M396.5 487.44h2.1M402.9 487.44h2.1M418 487.44h2.1M424.4 487.44h2.1M430.9 487.44h2.1M437.3 487.44h2.1M265.3 489.58h6.4M273.9 489.58h4.3M280.4 489.58h4.3M286.8 489.58h2.1M295.4 489.58h2.1M299.7 489.58h2.1M304 489.58h4.3M310.4 489.58h2.1M316.9 489.58h4.3M323.4 489.58h4.3M329.8 489.58h6.4M349.1 489.58h8.6M366.4 489.58h6.4M374.9 489.58h4.3M392.1 489.58h2.1M396.5 489.58h4.3M402.9 489.58h2.1M415.8 489.58h2.1M422.2 489.58h2.1M435.1 489.58h2.1M278.2 491.72h2.1M308.3 491.72h2.1M314.8 491.72h2.1M336.2 491.72h6.4M344.9 491.72h2.1M357.8 491.72h8.6M372.8 491.72h2.1M387.9 491.72h2.1M394.3 491.72h2.1M400.8 491.72h2.1M420.1 491.72h2.1M433 491.72h2.1M278.2 493.86h2.1M291.1 493.86h2.1M308.3 493.86h2.1M312.6 493.86h4.3M327.6 493.86h2.1M336.2 493.86h4.3M342.7 493.86h4.3M357.8 493.86h6.4M387.9 493.86h2.1M400.8 493.86h2.1M420.1 493.86h2.1M433 493.86h2.1M291.1 496h2.1M308.3 496h2.1M312.6 496h2.1M321.2 496h2.1M327.6 496h2.1M340.6 496h4.3M357.8 496h6.4M394.3 496h2.1M400.8 496h2.1M420.1 496h2.1M433 496h2.1M278.2 498.14h2.1M291.1 498.14h2.1M312.6 498.14h2.1M336.2 498.14h10.8M359.9 498.14h6.4M394.3 498.14h2.1M400.8 498.14h2.1M420.1 498.14h2.1M433 498.14h2.1M291.1 500.28h2.1M308.3 500.28h2.1M312.6 500.28h4.3M336.2 500.28h8.6M357.8 500.28h8.6M372.8 500.28h2.1M387.9 500.28h2.1M400.8 500.28h2.1M420.1 500.28h2.1M433 500.28h2.1M278.2 502.42h2.1M291.1 502.42h2.1M308.3 502.42h2.1M314.8 502.42h2.1M321.2 502.42h2.1M336.2 502.42h8.6M357.8 502.42h2.1M364.2 502.42h2.1M372.8 502.42h2.1M387.9 502.42h2.1M394.3 502.42h2.1M400.8 502.42h2.1M420.1 502.42h2.1M433 502.42h2.1M265.3 504.56h8.6M276.1 504.56h2.1M280.4 504.56h6.4M295.4 504.56h6.4M304 504.56h4.3M310.4 504.56h2.1M316.9 504.56h2.1M323.4 504.56h2.1M329.8 504.56h2.1M347 504.56h6.4M355.6 504.56h2.1M366.4 504.56h6.4M374.9 504.56h2.1M392.1 504.56h2.1M396.5 504.56h4.3M402.9 504.56h2.1M418 504.56h2.1M291.1 506.7h2.1M308.3 506.7h2.1M327.6 506.7h2.1M336.2 506.7h10.8M359.9 506.7h2.1M372.8 506.7h2.1M387.9 506.7h2.1M394.3 506.7h2.1M400.8 506.7h2.1M420.1 506.7h2.1M433 506.7h2.1M265.3 508.84h8.6M276.1 508.84h2.1M280.4 508.84h4.3M286.8 508.84h4.3M295.4 508.84h2.1M299.7 508.84h2.1M304 508.84h4.3M316.9 508.84h4.3M323.4 508.84h4.3M331.9 508.84h4.3M347 508.84h10.8M368.5 508.84h2.1M374.9 508.84h2.1M385.7 508.84h2.1M390 508.84h4.3M396.5 508.84h4.3M402.9 508.84h2.1M424.4 508.84h2.1M430.9 508.84h2.1M437.3 508.84h2.1M308.3 510.98h2.1M314.8 510.98h2.1M321.2 510.98h2.1M327.6 510.98h2.1M336.2 510.98h4.3M344.9 510.98h2.1M362.1 510.98h2.1M372.8 510.98h2.1M387.9 510.98h2.1M394.3 510.98h2.1M400.8 510.98h2.1M420.1 510.98h2.1M433 510.98h2.1M265.3 513.12h12.9M280.4 513.12h8.6M295.4 513.12h6.4M304 513.12h4.3M316.9 513.12h2.1M323.4 513.12h4.3M331.9 513.12h2.1M347 513.12h4.3M353.4 513.12h2.1M366.4 513.12h6.4M374.9 513.12h4.3M385.7 513.12h2.1M390 513.12h4.3M418 513.12h2.1M424.4 513.12h2.1M430.9 513.12h2.1M437.3 513.12h2.1M278.2 515.26h2.1M291.1 515.26h2.1M314.8 515.26h2.1M336.2 515.26h6.4M364.2 515.26h2.1M372.8 515.26h2.1M387.9 515.26h2.1M394.3 515.26h2.1M278.2 517.4h2.1M291.1 517.4h2.1M308.3 517.4h2.1M312.6 517.4h4.3M327.6 517.4h2.1M336.2 517.4h2.1M342.7 517.4h4.3M357.8 517.4h2.1M362.1 517.4h2.1M372.8 517.4h2.1M400.8 517.4h2.1M420.1 517.4h2.1M433 517.4h2.1M278.2 519.54h2.1M291.1 519.54h2.1M308.3 519.54h2.1M312.6 519.54h4.3M338.4 519.54h8.6M357.8 519.54h2.1M362.1 519.54h4.3M372.8 519.54h2.1M387.9 519.54h2.1M394.3 519.54h2.1M400.8 519.54h2.1M420.1 519.54h2.1M433 519.54h2.1M278.2 521.68h2.1M308.3 521.68h2.1M312.6 521.68h2.1M327.6 521.68h2.1M336.2 521.68h4.3M342.7 521.68h4.3M357.8 521.68h2.1M362.1 521.68h2.1M372.8 521.68h2.1M387.9 521.68h2.1M420.1 521.68h2.1M433 521.68h2.1M278.2 528.1h2.1M291.1 528.1h2.1M312.6 528.1h4.3M327.6 528.1h2.1M336.2 528.1h4.3M344.9 528.1h2.1M359.9 528.1h4.3M372.8 528.1h2.1M387.9 528.1h2.1M394.3 528.1h2.1M400.8 528.1h2.1M433 528.1h2.1M278.2 530.24h2.1M291.1 530.24h2.1M308.3 530.24h2.1M312.6 530.24h2.1M321.2 530.24h2.1M338.4 530.24h4.3M344.9 530.24h2.1M357.8 530.24h2.1M362.1 530.24h4.3M372.8 530.24h2.1M387.9 530.24h2.1M394.3 530.24h2.1M400.8 530.24h2.1M420.1 530.24h2.1M433 530.24h2.1M265.3 532.38h6.4M273.9 532.38h4.3M280.4 532.38h6.4M288.9 532.38h2.1M295.4 532.38h6.4M306.2 532.38h2.1M310.4 532.38h2.1M319.1 532.38h2.1M331.9 532.38h4.3M347 532.38h10.8M366.4 532.38h6.4M377.1 532.38h2.1M392.1 532.38h2.1M396.5 532.38h4.3M402.9 532.38h2.1M415.8 532.38h4.3M424.4 532.38h2.1M435.1 532.38h4.3M265.3 534.52h12.9M280.4 534.52h10.8M295.4 534.52h6.4M304 534.52h4.3M310.4 534.52h2.1M316.9 534.52h4.3M331.9 534.52h2.1M347 534.52h6.4M355.6 534.52h2.1M366.4 534.52h6.4M374.9 534.52h2.1M385.7 534.52h2.1M390 534.52h4.3M398.6 534.52h2.1M402.9 534.52h2.1M413.6 534.52h6.4M422.2 534.52h4.3M430.9 534.52h2.1M437.3 534.52h2.1M265.3 536.66h12.9M280.4 536.66h10.8M295.4 536.66h6.4M304 536.66h4.3M310.4 536.66h2.1M319.1 536.66h2.1M323.4 536.66h4.3M329.8 536.66h6.4M347 536.66h6.4M366.4 536.66h4.3M374.9 536.66h4.3M390 536.66h4.3M398.6 536.66h2.1M415.8 536.66h2.1M422.2 536.66h4.3M430.9 536.66h2.1M435.1 536.66h2.1M278.2 538.8h2.1M308.3 538.8h2.1M314.8 538.8h2.1M340.6 538.8h4.3M359.9 538.8h4.3M394.3 538.8h2.1M400.8 538.8h2.1M433 538.8h2.1M265.3 540.94h6.4M273.9 540.94h2.1M284.7 540.94h4.3M295.4 540.94h2.1M299.7 540.94h2.1M304 540.94h4.3M310.4 540.94h2.1M319.1 540.94h2.1M325.5 540.94h2.1M329.8 540.94h6.4M347 540.94h10.8M366.4 540.94h6.4M374.9 540.94h4.3M385.7 540.94h2.1M392.1 540.94h2.1M396.5 540.94h4.3M402.9 540.94h2.1M415.8 540.94h4.3M424.4 540.94h2.1M430.9 540.94h2.1M267.4 543.08h2.1M271.8 543.08h6.4M280.4 543.08h10.8M295.4 543.08h6.4M304 543.08h4.3M310.4 543.08h2.1M316.9 543.08h4.3M323.4 543.08h4.3M329.8 543.08h6.4M349.1 543.08h2.1M353.4 543.08h4.3M366.4 543.08h6.4M377.1 543.08h2.1M392.1 543.08h2.1M396.5 543.08h4.3M422.2 543.08h4.3M430.9 543.08h2.1M435.1 543.08h2.1M267.4 545.22h2.1M271.8 545.22h4.3M282.5 545.22h4.3M288.9 545.22h2.1M295.4 545.22h6.4M306.2 545.22h2.1M319.1 545.22h2.1M325.5 545.22h2.1M329.8 545.22h2.1M349.1 545.22h8.6M366.4 545.22h4.3M374.9 545.22h4.3M385.7 545.22h2.1M390 545.22h2.1M396.5 545.22h4.3M415.8 545.22h4.3M422.2 545.22h2.1M435.1 545.22h4.3M265.3 547.36h8.6M276.1 547.36h2.1M280.4 547.36h10.8M293.2 547.36h8.6M304 547.36h4.3M310.4 547.36h2.1M316.9 547.36h4.3M323.4 547.36h4.3M329.8 547.36h6.4M347 547.36h4.3M353.4 547.36h2.1M368.5 547.36h4.3M377.1 547.36h2.1M385.7 547.36h2.1M390 547.36h4.3M396.5 547.36h4.3M402.9 547.36h2.1M415.8 547.36h4.3M430.9 547.36h2.1M435.1 547.36h4.3M314.8 549.5h2.1M336.2 549.5h10.8M357.8 549.5h6.4M372.8 549.5h2.1M387.9 549.5h2.1M394.3 549.5h2.1M420.1 549.5h2.1M433 549.5h2.1M278.2 551.64h2.1M308.3 551.64h2.1M312.6 551.64h4.3M338.4 551.64h6.4M359.9 551.64h2.1M364.2 551.64h2.1M372.8 551.64h2.1M387.9 551.64h2.1M394.3 551.64h2.1M420.1 551.64h2.1M265.3 553.78h12.9M280.4 553.78h2.1M284.7 553.78h4.3M295.4 553.78h2.1M299.7 553.78h2.1M304 553.78h4.3M310.4 553.78h2.1M316.9 553.78h4.3M323.4 553.78h2.1M331.9 553.78h2.1M347 553.78h10.8M366.4 553.78h6.4M374.9 553.78h2.1M385.7 553.78h2.1M402.9 553.78h2.1M418 553.78h2.1M422.2 553.78h4.3M435.1 553.78h4.3M308.3 555.92h2.1M312.6 555.92h4.3M336.2 555.92h10.8M357.8 555.92h8.6M372.8 555.92h2.1M387.9 555.92h2.1M400.8 555.92h2.1M433 555.92h2.1M364.2 558.06h2.1M278.2 566.62h2.1M308.3 566.62h2.1M314.8 566.62h2.1M321.2 566.62h2.1M336.2 566.62h4.3M342.7 566.62h4.3M357.8 566.62h8.6M387.9 566.62h2.1M394.3 566.62h2.1M420.1 566.62h2.1M433 566.62h2.1M265.3 568.76h12.9M280.4 568.76h4.3M286.8 568.76h4.3M295.4 568.76h6.4M306.2 568.76h2.1M310.4 568.76h2.1M316.9 568.76h4.3M323.4 568.76h4.3M331.9 568.76h2.1M347 568.76h10.8M366.4 568.76h6.4M374.9 568.76h4.3M390 568.76h4.3M396.5 568.76h4.3M418 568.76h2.1M422.2 568.76h4.3M435.1 568.76h2.1M278.2 570.9h2.1M291.1 570.9h2.1M308.3 570.9h2.1M314.8 570.9h2.1M327.6 570.9h2.1M336.2 570.9h4.3M342.7 570.9h2.1M357.8 570.9h2.1M362.1 570.9h4.3M387.9 570.9h2.1M394.3 570.9h2.1M420.1 570.9h2.1M433 570.9h2.1M265.3 573.04h2.1M269.6 573.04h2.1M273.9 573.04h4.3M280.4 573.04h10.8M293.2 573.04h2.1M297.6 573.04h2.1M304 573.04h2.1M316.9 573.04h4.3M323.4 573.04h4.3M329.8 573.04h4.3M347 573.04h2.1M353.4 573.04h4.3M366.4 573.04h2.1M377.1 573.04h2.1M390 573.04h4.3M396.5 573.04h4.3M402.9 573.04h2.1M415.8 573.04h4.3M422.2 573.04h4.3M435.1 573.04h4.3M278.2 575.18h2.1M291.1 575.18h2.1M308.3 575.18h2.1M314.8 575.18h2.1M327.6 575.18h2.1M336.2 575.18h8.6M357.8 575.18h4.3M394.3 575.18h2.1M420.1 575.18h2.1M433 575.18h2.1M291.1 581.6h2.1M308.3 581.6h2.1M312.6 581.6h4.3M336.2 581.6h6.4M344.9 581.6h2.1M359.9 581.6h2.1M364.2 581.6h2.1M372.8 581.6h2.1M387.9 581.6h2.1M394.3 581.6h2.1M400.8 581.6h2.1M420.1 581.6h2.1M433 581.6h2.1M265.3 583.74h12.9M280.4 583.74h6.4M288.9 583.74h2.1M295.4 583.74h2.1M299.7 583.74h2.1M304 583.74h2.1M316.9 583.74h2.1M323.4 583.74h4.3M329.8 583.74h2.1M334.1 583.74h2.1M347 583.74h10.8M366.4 583.74h6.4M377.1 583.74h2.1M385.7 583.74h2.1M390 583.74h4.3M396.5 583.74h4.3M415.8 583.74h4.3M422.2 583.74h2.1M435.1 583.74h2.1M291.1 585.88h2.1M308.3 585.88h2.1M312.6 585.88h2.1M327.6 585.88h2.1M336.2 585.88h4.3M342.7 585.88h2.1M357.8 585.88h8.6M372.8 585.88h2.1M387.9 585.88h2.1M400.8 585.88h2.1M433 585.88h2.1M267.4 588.02h10.8M280.4 588.02h10.8M295.4 588.02h2.1M299.7 588.02h2.1M306.2 588.02h2.1M310.4 588.02h2.1M316.9 588.02h2.1M323.4 588.02h4.3M329.8 588.02h4.3M347 588.02h10.8M366.4 588.02h6.4M374.9 588.02h4.3M385.7 588.02h2.1M390 588.02h4.3M396.5 588.02h2.1M415.8 588.02h4.3M424.4 588.02h2.1M430.9 588.02h2.1M435.1 588.02h4.3M415.8 590.16h2.1M422.2 590.16h2.1M430.9 590.16h2.1M435.1 590.16h4.3M415.8 592.3h4.3M422.2 592.3h4.3M437.3 592.3h2.1M420.1 594.44h2.1M433 594.44h2.1M415.8 598.72h4.3M422.2 598.72h4.3M430.9 598.72h2.1M435.1 598.72h2.1M295.4 600.86h2.1M329.8 600.86h2.1M347 600.86h2.1M374.9 600.86h2.1M415.8 600.86h4.3M422.2 600.86h4.3M430.9 600.86h2.1M435.1 600.86h2.1M304 603h4.3M288.9 605.14h2.1M316.9 605.14h2.1M347 605.14h2.1M415.8 605.14h4.3M422.2 605.14h4.3M430.9 605.14h2.1M435.1 605.14h4.3M430.9 607.28h2.1M437.3 607.28h2.1M288.9 613.7h2.1M304 613.7h2.1M316.9 613.7h2.1M347 613.7h2.1M409.4 613.7h2.1M415.8 613.7h4.3M422.2 613.7h4.3M430.9 613.7h2.1M435.1 613.7h4.3M420.1 615.84h2.1M433 615.84h2.1M304 617.98h2.1M415.8 617.98h4.3M422.2 617.98h4.3M430.9 617.98h2.1M435.1 617.98h4.3" stroke="#053061" stroke-width="1.64" fill="none"/>
<path d="M265.05 447.6v174.3M267.19 447.6v174.3M269.35 447.6v174.3M271.5 447.6v174.3M273.65 447.6v174.3M275.8 447.6v174.3M277.94 447.6v174.3M280.1 447.6v174.3M282.25 447.6v174.3M284.4 447.6v174.3M286.55 447.6v174.3M288.69 447.6v174.3M290.85 447.6v174.3M293 447.6v174.3M295.15 447.6v174.3M297.3 447.6v174.3M299.44 447.6v174.3M301.6 447.6v174.3M303.75 447.6v174.3M305.9 447.6v174.3M308.05 447.6v174.3M310.19 447.6v174.3M312.35 447.6v174.3M314.5 447.6v174.3M316.64 447.6v174.3M318.8 447.6v174.3M320.94 447.6v174.3M323.1 447.6v174.3M325.25 447.6v174.3M327.39 447.6v174.3M329.55 447.6v174.3M331.69 447.6v174.3M333.85 447.6v174.3M336 447.6v174.3M338.14 447.6v174.3M340.3 447.6v174.3M342.44 447.6v174.3M344.6 447.6v174.3M346.75 447.6v174.3M348.89 447.6v174.3M351.05 447.6v174.3M353.19 447.6v174.3M355.35 447.6v174.3M357.5 447.6v174.3M359.64 447.6v174.3M361.8 447.6v174.3M363.94 447.6v174.3M366.1 447.6v174.3M368.25 447.6v174.3M370.39 447.6v174.3M372.55 447.6v174.3M374.69 447.6v174.3M376.85 447.6v174.3M379 447.6v174.3M381.14 447.6v174.3M383.3 447.6v174.3M385.44 447.6v174.3M387.6 447.6v174.3M389.75 447.6v174.3M391.89 447.6v174.3M394.05 447.6v174.3M396.2 447.6v174.3M398.35 447.6v174.3M400.5 447.6v174.3M402.64 447.6v174.3M404.8 447.6v174.3M406.95 447.6v174.3M409.1 447.6v174.3M411.25 447.6v174.3M413.39 447.6v174.3M415.55 447.6v174.3M417.7 447.6v174.3M419.85 447.6v174.3M422 447.6v174.3M424.14 447.6v174.3M426.3 447.6v174.3M428.45 447.6v174.3M430.6 447.6v174.3M432.75 447.6v174.3M434.89 447.6v174.3M437.05 447.6v174.3M439.2 447.6v174.3" stroke="#fff" stroke-width="0.51" fill="none"/>
<defs>
<linearGradient id="sb0" x1="0" x2="1" y1="0" y2="0"><stop offset="0" stop-color="#e31a1c" stop-opacity="0.95"/><stop offset="0.4" stop-color="#e31a1c" stop-opacity="0.55"/><stop offset="0.85" stop-color="#fff"/></linearGradient>
<linearGradient id="sb1" x1="0" x2="1" y1="0" y2="0"><stop offset="0" stop-color="#377eb8" stop-opacity="0.95"/><stop offset="0.4" stop-color="#377eb8" stop-opacity="0.55"/><stop offset="0.85" stop-color="#fff"/></linearGradient>
<linearGradient id="sb2" x1="0" x2="1" y1="0" y2="0"><stop offset="0" stop-color="#4daf4a" stop-opacity="0.95"/><stop offset="0.4" stop-color="#4daf4a" stop-opacity="0.55"/><stop offset="0.85" stop-color="#fff"/></linearGradient>
<linearGradient id="sb3" x1="0" x2="1" y1="0" y2="0"><stop offset="0" stop-color="#984ea3" stop-opacity="0.95"/><stop offset="0.4" stop-color="#984ea3" stop-opacity="0.55"/><stop offset="0.85" stop-color="#fff"/></linearGradient>
<linearGradient id="sb4" x1="0" x2="1" y1="0" y2="0"><stop offset="0" stop-color="#ff7f00" stop-opacity="0.95"/><stop offset="0.4" stop-color="#ff7f00" stop-opacity="0.55"/><stop offset="0.85" stop-color="#fff"/></linearGradient>
</defs>
<rect x="258" y="447.8" width="6.4" height="29.96" fill="url(#sb0)"/>
<rect x="258" y="477.76" width="6.4" height="36.38" fill="url(#sb1)"/>
<rect x="258" y="514.14" width="6.4" height="42.8" fill="url(#sb2)"/>
<rect x="258" y="556.94" width="6.4" height="32.1" fill="url(#sb3)"/>
<rect x="258" y="589.04" width="6.4" height="32.1" fill="url(#sb4)"/>
<rect x="264.4" y="447.2" width="30.1" height="29.96" fill="none" stroke="#f5b50a" stroke-width="2"/>
<rect x="294.5" y="477.16" width="36.55" height="36.38" fill="none" stroke="#f5b50a" stroke-width="2"/>
<rect x="331.05" y="513.54" width="43" height="42.8" fill="none" stroke="#f5b50a" stroke-width="2"/>
<rect x="374.05" y="556.34" width="32.25" height="32.1" fill="none" stroke="#f5b50a" stroke-width="2"/>
<rect x="406.3" y="588.44" width="32.25" height="32.1" fill="none" stroke="#f5b50a" stroke-width="2"/>
<line x1="269.2" y1="632.4" x2="426" y2="632.4" stroke="#000" stroke-width="1.3"/>
<path d="M423.8 628.0L432.6 632.4L423.8 636.8Z" fill="#000"/>
<text x="263.3" y="636.7" font-size="8.4" text-anchor="middle" fill="#000">1</text>
<text x="441.8" y="636.7" font-size="8.4" text-anchor="middle" fill="#000">81</text>
<text x="444" y="422.6" font-size="8.1" text-anchor="start" fill="#000">Feature type</text>
<rect x="444.2" y="427.3" width="8.7" height="8.6" fill="#e31a1c"/>
<text x="455.6" y="434.7" font-size="8.1" text-anchor="start" fill="#000">Bulk</text>
<rect x="444.2" y="439.7" width="8.7" height="8.6" fill="#377eb8"/>
<text x="455.6" y="447.1" font-size="8.1" text-anchor="start" fill="#000">1<tspan font-size="5.2" dy="-2.6">st</tspan><tspan dy="2.6"> Order</tspan></text>
<rect x="444.2" y="452" width="8.7" height="8.6" fill="#4daf4a"/>
<text x="455.6" y="459.4" font-size="8.1" text-anchor="start" fill="#000">GLCM</text>
<rect x="444.2" y="463.8" width="8.7" height="8.6" fill="#984ea3"/>
<text x="455.6" y="471.2" font-size="8.1" text-anchor="start" fill="#000">GGCM</text>
<rect x="444.2" y="475.8" width="8.7" height="8.6" fill="#ff7f00"/>
<text x="455.6" y="483.2" font-size="8.1" text-anchor="start" fill="#000">GLRLM</text>
<rect x="450.2" y="519.7" width="9.5" height="114" fill="url(#rdbuV)" stroke="#555" stroke-width="0.35"/>
<text x="461.8" y="523.6" font-size="6" text-anchor="start" fill="#000">1</text>
<text x="461.8" y="634.4" font-size="6" text-anchor="start" fill="#000">-1</text>
<text x="470.8" y="577" font-size="6.7" text-anchor="middle" fill="#000" transform="rotate(90 470.8 577)">Pearson correlation coefficient (a.u.)</text>
</g>
<g id="pf">
<text x="500.2" y="418.2" font-size="9.5" text-anchor="start" fill="#000">f</text>
<path d="M527.9 568.9 527.9 512.4 529.5 512.4 531.1 512.1 532.8 512.4 534.4 514.7 536 516.5 537.6 517.9 539.2 518.8 540.9 519 542.5 519.1 544.1 519.4 545.7 523.5 547.3 523.7 548.9 524.4 550.6 525.2 552.2 526.1 553.8 526.9 555.4 527.5 557 527.9 558.7 528.3 560.3 528.7 561.9 529 563.5 529.3 565.1 529.6 566.8 529.9 568.4 530.2 570 530.5 571.6 530.9 573.2 531.3 574.8 531.7 576.5 531.9 578.1 532 579.7 532.2 581.3 532.2 582.9 532.3 584.6 532.5 586.2 532.7 587.8 532.9 589.4 533.2 591 533.6 592.6 533.9 594.3 534.4 595.9 535 597.5 535.7 599.1 536.5 600.7 537.3 602.4 538 604 538.5 605.6 539 607.2 539.3 608.8 539.8 610.5 540.2 612.1 540.6 613.7 541.1 615.3 541.6 616.9 542.1 618.5 542.7 620.2 543.4 621.8 544.2 623.4 544.9 625 545.6 626.6 546.2 628.3 546.8 629.9 547.3 631.5 547.9 633.1 548.5 634.7 549.2 636.4 550.1 638 550.9 639.6 551.8 641.2 552.6 642.8 553.3 644.4 554.1 646.1 554.9 647.7 555.9 649.3 557.1 650.9 558.4 652.5 560.2 654.2 561.9 655.8 563.1 657.4 567.7 659 568.9 659 568.9Z" fill="#c9c9c9"/>
<path d="M527.9 520.3 529.5 520.3 531.1 493 532.8 492.6 534.4 491.8 536 491.5 537.6 491.3 539.2 491.3 540.9 491.3 542.5 491.3 544.1 491.4 545.7 491.5 547.3 491.7 548.9 494.1 550.6 495.5 552.2 496 553.8 496.1 555.4 496.1 557 496.1 558.7 496 560.3 495.8 561.9 495.3 563.5 494.5 565.1 494.4 566.8 494.4 568.4 494.5 570 494.5 571.6 494.5 573.2 494.6 574.8 494.7 576.5 494.7 578.1 494.6 579.7 494.3 581.3 494 582.9 493.8 584.6 494.1 586.2 494.1 587.8 494.1 589.4 494.1 591 494.1 592.6 494.1 594.3 494.1 595.9 494.1 597.5 494.1 599.1 494.3 600.7 494.3 602.4 494.3 604 494.3 605.6 494.3 607.2 494.3 608.8 494.1 610.5 494.1 612.1 494.1 613.7 494.1 615.3 494.1 616.9 494.1 618.5 494.1 620.2 494.1 621.8 494.1 623.4 494.1 625 494.1 626.6 494.1 628.3 494.1 629.9 494.1 631.5 494.1 633.1 494.1 634.7 494.1 636.4 494.1 638 494.1 639.6 494.1 641.2 494.1 642.8 494.1 644.4 494.1 646.1 494.1 647.7 494.1 649.3 494.1 650.9 494.1 652.5 494.1 654.2 494.1 655.8 494.1 657.4 494.1 659 494.1" fill="none" stroke="#1414e6" stroke-width="2.5" stroke-linejoin="round"/>
<rect x="527.9" y="481.5" width="131.5" height="87.4" fill="none" stroke="#000" stroke-width="0.9"/>
<path d="M527.9 568.9h-2.6M527.9 559.2h-2.6M527.9 549.5h-2.6M527.9 539.8h-2.6M527.9 530.1h-2.6M527.9 520.3h-2.6M527.9 510.6h-2.6M527.9 500.9h-2.6M527.9 491.2h-2.6M527.9 481.5h-2.6M527.9 568.9v2.6M560.3 568.9v2.6M592.6 568.9v2.6M625 568.9v2.6M657.4 568.9v2.6M659 568.9v2.6M659.4 568.9h2.6M659.4 539.8h2.6M659.4 510.6h2.6M659.4 481.5h2.6" stroke="#000" stroke-width="0.9" fill="none"/>
<text x="522.7" y="571.9" font-size="8.3" text-anchor="end" fill="#000">20</text>
<text x="522.7" y="562.2" font-size="8.3" text-anchor="end" fill="#000">30</text>
<text x="522.7" y="552.5" font-size="8.3" text-anchor="end" fill="#000">40</text>
<text x="522.7" y="542.8" font-size="8.3" text-anchor="end" fill="#000">50</text>
<text x="522.7" y="533.1" font-size="8.3" text-anchor="end" fill="#000">60</text>
<text x="522.7" y="523.3" font-size="8.3" text-anchor="end" fill="#000">70</text>
<text x="522.7" y="513.6" font-size="8.3" text-anchor="end" fill="#000">80</text>
<text x="522.7" y="503.9" font-size="8.3" text-anchor="end" fill="#000">90</text>
<text x="522.7" y="494.2" font-size="8.3" text-anchor="end" fill="#000">100</text>
<text x="522.7" y="484.5" font-size="8.3" text-anchor="end" fill="#000">110</text>
<text x="527.9" y="582.5" font-size="8.3" text-anchor="middle" fill="#000">0</text>
<text x="560.3" y="582.5" font-size="8.3" text-anchor="middle" fill="#000">20</text>
<text x="592.6" y="582.5" font-size="8.3" text-anchor="middle" fill="#000">40</text>
<text x="625" y="582.5" font-size="8.3" text-anchor="middle" fill="#000">60</text>
<text x="657.4" y="582.5" font-size="8.3" text-anchor="middle" fill="#000">80</text>
<text x="663" y="571.9" font-size="8.3" text-anchor="start" fill="#000">0.0</text>
<text x="663" y="542.8" font-size="8.3" text-anchor="start" fill="#000">0.5</text>
<text x="663" y="513.6" font-size="8.3" text-anchor="start" fill="#000">1.0</text>
<text x="663" y="484.5" font-size="8.3" text-anchor="start" fill="#000">1.5</text>
<text x="595.3" y="470" font-size="8.1" text-anchor="middle" fill="#000">LDA</text>
<text x="595.3" y="478.7" font-size="8.1" text-anchor="middle" fill="#000">Accuracy: 99.9%</text>
<text x="595.3" y="592.3" font-size="8.2" text-anchor="middle" fill="#000">Number of features</text>
<text x="505.7" y="522" font-size="8.1" text-anchor="middle" fill="#000" transform="rotate(-90 505.7 522)">Accuracy (%)</text>
<text x="678.4" y="526.8" font-size="8.1" text-anchor="middle" fill="#000" transform="rotate(90 678.4 526.8)">MRMR score (a.u.)</text>
</g>
<g id="pg">
<text x="6.8" y="658.8" font-size="9.5" text-anchor="start" fill="#000">g</text>
<text x="94.8" y="675.4" font-size="8.15" text-anchor="middle" fill="#000">MDA-MB-231:PBMC = 1:1</text>
<rect x="57.8" y="720.04" width="21.4" height="59.46" fill="#c9b9de" stroke="#3a1f6d" stroke-width="1.1"/>
<path d="M63.5 719.8h10" stroke="#3a1f6d" stroke-width="0.9"/>
<circle cx="61.3" cy="719.4" r="1.7" fill="#b79fd6"/>
<circle cx="68.5" cy="718.7" r="1.7" fill="#b79fd6"/>
<circle cx="75.7" cy="719.4" r="1.7" fill="#b79fd6"/>
<text x="68.5" y="717.4" font-size="8.1" text-anchor="middle" fill="#000">1001</text>
<rect x="90.6" y="750.16" width="21.4" height="29.34" fill="#a0ddfa" stroke="#2358dc" stroke-width="1.1"/>
<path d="M96.3 750h10" stroke="#2358dc" stroke-width="0.9"/>
<circle cx="94.1" cy="749.6" r="1.7" fill="#19c3f7"/>
<circle cx="101.3" cy="748.9" r="1.7" fill="#19c3f7"/>
<circle cx="108.5" cy="749.6" r="1.7" fill="#19c3f7"/>
<text x="101.3" y="745.8" font-size="8.1" text-anchor="middle" fill="#000">494</text>
<rect x="123.3" y="749.38" width="21.4" height="30.12" fill="#a6cfd2" stroke="#1d7980" stroke-width="1.1"/>
<path d="M129 749.2h10" stroke="#1d7980" stroke-width="0.9"/>
<circle cx="126.8" cy="748.8" r="1.7" fill="#1d8a90"/>
<circle cx="134" cy="748.1" r="1.7" fill="#1d8a90"/>
<circle cx="141.2" cy="748.8" r="1.7" fill="#1d8a90"/>
<text x="134" y="744.8" font-size="8.1" text-anchor="middle" fill="#000">507</text>
<path d="M45.2 689.8V779.5H156.9" fill="none" stroke="#000" stroke-width="1.15"/>
<text x="38.4" y="782.4" font-size="8.1" text-anchor="end" fill="#000">0</text>
<text x="38.4" y="752.7" font-size="8.1" text-anchor="end" fill="#000">500</text>
<text x="38.4" y="723" font-size="8.1" text-anchor="end" fill="#000">1000</text>
<text x="38.4" y="693.3" font-size="8.1" text-anchor="end" fill="#000">1500</text>
<path d="M45.2 779.5h-2.8M45.2 749.8h-2.8M45.2 720.1h-2.8M45.2 690.4h-2.8M68.5 779.5v3.4M101.3 779.5v3.4M134 779.5v3.4" stroke="#000" stroke-width="1.1" fill="none"/>
<text x="71.1" y="790.9" font-size="8.1" text-anchor="end" fill="#000" transform="rotate(-46 71.1 790.9)">Total</text>
<text x="103.9" y="790.9" font-size="8.1" text-anchor="end" fill="#000" transform="rotate(-46 103.9 790.9)">PBMC</text>
<text x="136.6" y="790.9" font-size="8.1" text-anchor="end" fill="#000" transform="rotate(-46 136.6 790.9)">MDA-MB-231</text>
<text x="15.8" y="729.6" font-size="8.1" text-anchor="middle" fill="#000" transform="rotate(-90 15.8 729.6)">Cell number</text>
<text x="94.2" y="846.2" font-size="8.1" text-anchor="middle" fill="#000">Cell type</text>
<text x="176.8" y="658.8" font-size="9.5" text-anchor="start" fill="#000">h</text>
<text x="275.7" y="675.4" font-size="8.15" text-anchor="middle" fill="#000">MDA-MB-231:PBMC = 1:10</text>
<rect x="234.6" y="719.8" width="21.2" height="58.5" fill="#c9b9de" stroke="#3a1f6d" stroke-width="1.1"/>
<path d="M240.2 719.6h10" stroke="#3a1f6d" stroke-width="0.9"/>
<circle cx="238" cy="719.2" r="1.7" fill="#b79fd6"/>
<circle cx="245.2" cy="718.5" r="1.7" fill="#b79fd6"/>
<circle cx="252.4" cy="719.2" r="1.7" fill="#b79fd6"/>
<text x="245.2" y="716.9" font-size="8.1" text-anchor="middle" fill="#000">1004</text>
<rect x="266.7" y="726.15" width="21.2" height="52.15" fill="#a0ddfa" stroke="#2358dc" stroke-width="1.1"/>
<path d="M272.3 726h10" stroke="#2358dc" stroke-width="0.9"/>
<circle cx="270.1" cy="725.6" r="1.7" fill="#19c3f7"/>
<circle cx="277.3" cy="724.9" r="1.7" fill="#19c3f7"/>
<circle cx="284.5" cy="725.6" r="1.7" fill="#19c3f7"/>
<text x="277.3" y="723.2" font-size="8.1" text-anchor="middle" fill="#000">895</text>
<rect x="298.9" y="771.95" width="21.2" height="6.35" fill="#a6cfd2" stroke="#1d7980" stroke-width="1.1"/>
<path d="M304.5 771.7h10" stroke="#1d7980" stroke-width="0.9"/>
<circle cx="302.3" cy="771.3" r="1.7" fill="#1d8a90"/>
<circle cx="309.5" cy="770.6" r="1.7" fill="#1d8a90"/>
<circle cx="316.7" cy="771.3" r="1.7" fill="#1d8a90"/>
<text x="309.5" y="768.9" font-size="8.1" text-anchor="middle" fill="#000">109</text>
<path d="M222.2 690.3V778.3H330.7" fill="none" stroke="#000" stroke-width="1.15"/>
<text x="215.8" y="781.2" font-size="8.1" text-anchor="end" fill="#000">0</text>
<text x="215.8" y="752.1" font-size="8.1" text-anchor="end" fill="#000">500</text>
<text x="215.8" y="722.9" font-size="8.1" text-anchor="end" fill="#000">1000</text>
<text x="215.8" y="693.8" font-size="8.1" text-anchor="end" fill="#000">1500</text>
<path d="M222.2 778.3h-2.8M222.2 749.2h-2.8M222.2 720h-2.8M222.2 690.9h-2.8M245.2 778.3v3.4M277.3 778.3v3.4M309.5 778.3v3.4" stroke="#000" stroke-width="1.1" fill="none"/>
<text x="247.8" y="789.7" font-size="8.1" text-anchor="end" fill="#000" transform="rotate(-46 247.8 789.7)">Total</text>
<text x="279.9" y="789.7" font-size="8.1" text-anchor="end" fill="#000" transform="rotate(-46 279.9 789.7)">PBMC</text>
<text x="312.1" y="789.7" font-size="8.1" text-anchor="end" fill="#000" transform="rotate(-46 312.1 789.7)">MDA-MB-231</text>
<text x="195.5" y="729.6" font-size="8.1" text-anchor="middle" fill="#000" transform="rotate(-90 195.5 729.6)">Cell number</text>
<text x="272.2" y="846.2" font-size="8.1" text-anchor="middle" fill="#000">Cell type</text>
<text x="346.8" y="658.8" font-size="9.5" text-anchor="start" fill="#000">i</text>
<text x="444.2" y="675.4" font-size="8.15" text-anchor="middle" fill="#000">MDA-MB-231:PBMC = 1:100</text>
<rect x="402.3" y="720.95" width="20.6" height="56.85" fill="#c9b9de" stroke="#3a1f6d" stroke-width="1.1"/>
<path d="M407.6 720.8h10" stroke="#3a1f6d" stroke-width="0.9"/>
<circle cx="405.4" cy="720.4" r="1.7" fill="#b79fd6"/>
<circle cx="412.6" cy="719.7" r="1.7" fill="#b79fd6"/>
<circle cx="419.8" cy="720.4" r="1.7" fill="#b79fd6"/>
<text x="412.6" y="718.7" font-size="8.1" text-anchor="middle" fill="#000">1002</text>
<rect x="433.5" y="721.75" width="20.6" height="56.05" fill="#a0ddfa" stroke="#2358dc" stroke-width="1.1"/>
<path d="M438.8 721.5h10" stroke="#2358dc" stroke-width="0.9"/>
<circle cx="436.6" cy="721.1" r="1.7" fill="#19c3f7"/>
<circle cx="443.8" cy="720.4" r="1.7" fill="#19c3f7"/>
<circle cx="451" cy="721.1" r="1.7" fill="#19c3f7"/>
<text x="443.8" y="719.4" font-size="8.1" text-anchor="middle" fill="#000">988</text>
<path d="M470.3 776.8h10" stroke="#1d7980" stroke-width="0.9"/>
<circle cx="468.1" cy="776.4" r="1.7" fill="#1d8a90"/>
<circle cx="475.3" cy="775.7" r="1.7" fill="#1d8a90"/>
<circle cx="482.5" cy="776.4" r="1.7" fill="#1d8a90"/>
<text x="475.3" y="774.6" font-size="8.1" text-anchor="middle" fill="#000">14</text>
<path d="M391.5 692.1V777.8H496.9" fill="none" stroke="#000" stroke-width="1.15"/>
<text x="385.3" y="780.7" font-size="8.1" text-anchor="end" fill="#000">0</text>
<text x="385.3" y="752.3" font-size="8.1" text-anchor="end" fill="#000">500</text>
<text x="385.3" y="724" font-size="8.1" text-anchor="end" fill="#000">1000</text>
<text x="385.3" y="695.6" font-size="8.1" text-anchor="end" fill="#000">1500</text>
<path d="M391.5 777.8h-2.8M391.5 749.4h-2.8M391.5 721.1h-2.8M391.5 692.7h-2.8M412.6 777.8v3.4M443.8 777.8v3.4M475.3 777.8v3.4" stroke="#000" stroke-width="1.1" fill="none"/>
<text x="415.2" y="789.2" font-size="8.1" text-anchor="end" fill="#000" transform="rotate(-46 415.2 789.2)">Total</text>
<text x="446.4" y="789.2" font-size="8.1" text-anchor="end" fill="#000" transform="rotate(-46 446.4 789.2)">PBMC</text>
<text x="477.9" y="789.2" font-size="8.1" text-anchor="end" fill="#000" transform="rotate(-46 477.9 789.2)">MDA-MB-231</text>
<text x="361" y="729.6" font-size="8.1" text-anchor="middle" fill="#000" transform="rotate(-90 361 729.6)">Cell number</text>
<text x="438.4" y="846.2" font-size="8.1" text-anchor="middle" fill="#000">Cell type</text>
<text x="516.6" y="658.8" font-size="9.5" text-anchor="start" fill="#000">j</text>
<text x="616.3" y="675.4" font-size="8.15" text-anchor="middle" fill="#000">MDA-MB-231:PBMC = 1:1000</text>
<rect x="574.1" y="718.91" width="20.6" height="57.39" fill="#c9b9de" stroke="#3a1f6d" stroke-width="1.1"/>
<path d="M579.4 718.7h10" stroke="#3a1f6d" stroke-width="0.9"/>
<circle cx="577.2" cy="718.3" r="1.7" fill="#b79fd6"/>
<circle cx="584.4" cy="717.6" r="1.7" fill="#b79fd6"/>
<circle cx="591.6" cy="718.3" r="1.7" fill="#b79fd6"/>
<text x="584.4" y="716.1" font-size="8.1" text-anchor="middle" fill="#000">1014</text>
<rect x="605.4" y="718.96" width="20.6" height="57.34" fill="#a0ddfa" stroke="#2358dc" stroke-width="1.1"/>
<path d="M610.7 718.8h10" stroke="#2358dc" stroke-width="0.9"/>
<circle cx="608.5" cy="718.4" r="1.7" fill="#19c3f7"/>
<circle cx="615.7" cy="717.7" r="1.7" fill="#19c3f7"/>
<circle cx="622.9" cy="718.4" r="1.7" fill="#19c3f7"/>
<text x="615.7" y="716.1" font-size="8.1" text-anchor="middle" fill="#000">1013</text>
<path d="M641.8 776h10" stroke="#1d7980" stroke-width="0.9"/>
<circle cx="639.6" cy="775.6" r="1.7" fill="#1d8a90"/>
<circle cx="646.8" cy="774.9" r="1.7" fill="#1d8a90"/>
<circle cx="654" cy="775.6" r="1.7" fill="#1d8a90"/>
<text x="646.8" y="773.9" font-size="8.1" text-anchor="middle" fill="#000">1</text>
<path d="M564 690.8V776.3H668.2" fill="none" stroke="#000" stroke-width="1.15"/>
<text x="557.8" y="779.2" font-size="8.1" text-anchor="end" fill="#000">0</text>
<text x="557.8" y="750.9" font-size="8.1" text-anchor="end" fill="#000">500</text>
<text x="557.8" y="722.6" font-size="8.1" text-anchor="end" fill="#000">1000</text>
<text x="557.8" y="694.3" font-size="8.1" text-anchor="end" fill="#000">1500</text>
<path d="M564 776.3h-2.8M564 748h-2.8M564 719.7h-2.8M564 691.4h-2.8M584.4 776.3v3.4M615.7 776.3v3.4M646.8 776.3v3.4" stroke="#000" stroke-width="1.1" fill="none"/>
<text x="587" y="787.7" font-size="8.1" text-anchor="end" fill="#000" transform="rotate(-46 587 787.7)">Total</text>
<text x="618.3" y="787.7" font-size="8.1" text-anchor="end" fill="#000" transform="rotate(-46 618.3 787.7)">PBMC</text>
<text x="649.4" y="787.7" font-size="8.1" text-anchor="end" fill="#000" transform="rotate(-46 649.4 787.7)">MDA-MB-231</text>
<text x="531.5" y="731.6" font-size="8.1" text-anchor="middle" fill="#000" transform="rotate(-90 531.5 731.6)">Cell number</text>
<text x="608.4" y="849.6" font-size="8.1" text-anchor="middle" fill="#000">Cell type</text>
</g>
</svg>
</body></html>
